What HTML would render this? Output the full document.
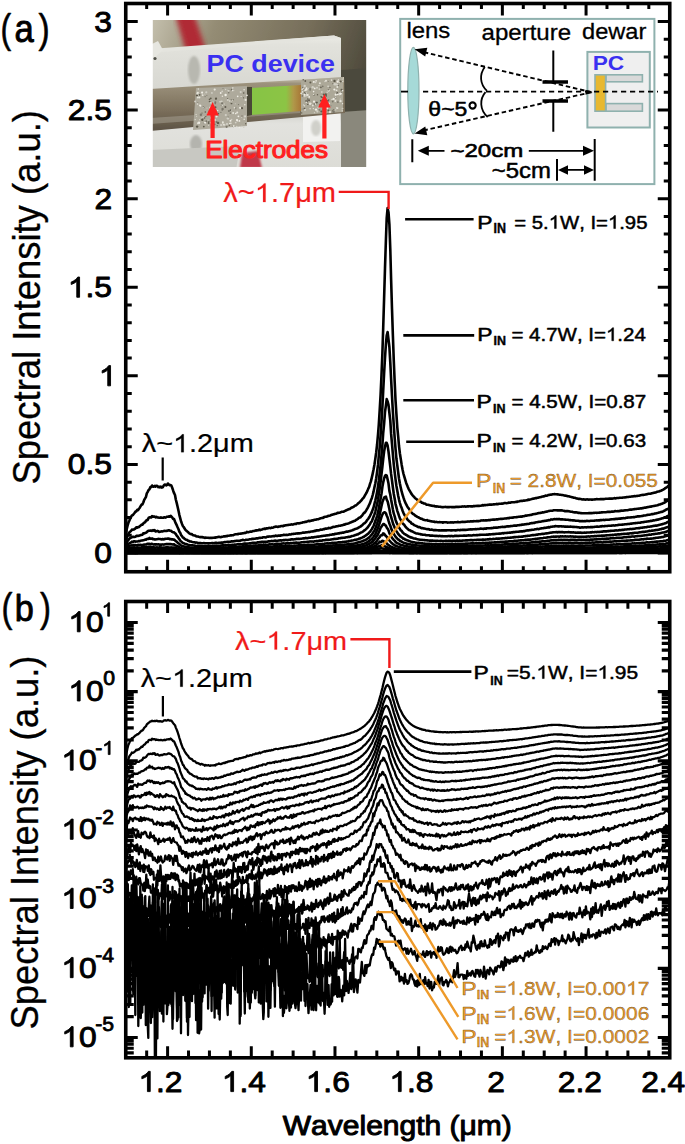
<!DOCTYPE html>
<html><head><meta charset="utf-8"><style>
html,body{margin:0;padding:0;background:#fff;overflow:hidden;}
svg{display:block;}
</style></head><body>
<svg width="685" height="1144" viewBox="0 0 685 1144">
<defs>
<clipPath id="ca"><rect x="125.75" y="3.50" width="544.00" height="568.25"/></clipPath>
<clipPath id="cb"><rect x="125.75" y="601.50" width="544.00" height="456.30"/></clipPath>
<filter id="blur1" x="-5%" y="-5%" width="110%" height="110%"><feGaussianBlur stdDeviation="1.2"/></filter>
<filter id="blur2" x="-5%" y="-5%" width="110%" height="110%"><feGaussianBlur stdDeviation="2.5"/></filter>
</defs>
<rect width="685" height="1144" fill="#fff"/>
<g clip-path="url(#ca)" fill="none" stroke="#000" stroke-width="2.6" stroke-linejoin="round">
<path d="M125.8 553.0l.5 0 .5 0 .5 0 .5 0 .5 0 .5 0 .5 -.1 .5 0 .5 .1 .5 -.1 .5 0 .5 0 .5 .1 .5 -.2 .5 .2 .5 0 .5 0 .5 0 .5 0 .5 -.1 .5 0 .5 .1 .5 0 .5 -.1 .5 .1 .5 0 .5 0 .5 0 .5 0 .5 0 .5 0 .5 -.2 .5 .2 .5 -.1 .5 .1 .5 -.1 .5 0 .5 .1 .5 -.1 .5 .1 .5 0 .5 0 .5 -.1 .5 .1 .5 0 .5 0 .6 0 .5 0 .5 0 .5 0 .5 -.1 .5 .1 .5 0 .5 -.3 .5 .3 .5 -.1 .5 .1 .5 0 .5 0 .5 0 .5 0 .5 -.1 .5 .1 .5 0 .5 0 .5 -.1 .5 .1 .5 0 .5 0 .5 0 .5 -.1 .5 -.1 .5 .2 .5 -.2 .5 .2 .5 0 .5 0 .5 0 .5 0 .5 0 .5 0 .5 0 .5 0 .5 -.1 .5 .1 .5 0 .5 0 .5 -.1 .5 .1 .5 -.1 .5 .1 .5 0 .6 0 .5 0 .5 0 .5 0 .5 0 .5 -.2 .5 .2 .5 0 .5 0 .5 0 .5 0 .5 0 .5 -.2 .5 .2 .5 0 .5 0 .5 0 .5 0 .5 0 .5 0 .5 0 .5 -.3 .5 .3 .5 0 .5 0 .5 -.1 .5 -.2 .5 .2 .5 .1 .5 0 .5 0 .5 0 .5 0 .5 0 .5 0 .5 0 .5 0 .5 0 .5 0 .5 0 .5 -.1 .5 .1 .5 0 .5 0 .5 0 .5 0 .5 -.1 .6 .1 .5 0 .5 -.2 .5 .2 .5 -.3 .5 .3 .5 0 .5 0 .5 0 .5 0 .5 0 .5 0 .5 0 .5 0 .5 0 .5 0 .5 -.2 .5 .2 .5 0 .5 0 .5 0 .5 0 .5 0 .5 0 .5 0 .5 0 .5 0 .5 0 .5 0 .5 -.1 .5 0 .5 .1 .5 -.1 .5 .1 .5 0 .5 -.1 .5 .1 .5 0 .5 0 .5 0 .5 0 .5 0 .5 0 .5 0 .5 -.1 .5 .1 .6 0 .5 0 .5 0 .5 -.1 .5 .1 .5 0 .5 -.1 .5 .1 .5 0 .5 0 .5 0 .5 0 .5 0 .5 -.1 .5 .1 .5 -.1 .5 .1 .5 0 .5 0 .5 0 .5 0 .5 0 .5 0 .5 0 .5 0 .5 0 .5 0 .5 0 .5 0 .5 0 .5 0 .5 -.1 .5 .1 .5 0 .5 0 .5 -.1 .5 -.1 .5 .2 .5 0 .5 0 .5 -.1 .5 .1 .5 0 .5 0 .5 -.1 .5 .1 .5 0 .6 0 .5 0 .5 0 .5 0 .5 0 .5 0 .5 0 .5 0 .5 0 .5 -.1 .5 .1 .5 0 .5 0 .5 -.1 .5 .1 .5 0 .5 0 .5 0 .5 0 .5 -.1 .5 .1 .5 0 .5 0 .5 -.1 .5 .1 .5 0 .5 0 .5 0 .5 0 .5 0 .5 -.1 .5 -.1 .5 .2 .5 0 .5 0 .5 0 .5 0 .5 0 .5 0 .5 0 .5 0 .5 0 .5 0 .5 -.1 .5 .1 .5 0 .6 -.1 .5 .1 .5 0 .5 0 .5 0 .5 0 .5 0 .5 0 .5 0 .5 0 .5 0 .5 0 .5 0 .5 0 .5 0 .5 0 .5 0 .5 0 .5 0 .5 0 .5 0 .5 -.1 .5 -.1 .5 .2 .5 0 .5 0 .5 0 .5 -.1 .5 .1 .5 0 .5 0 .5 0 .5 0 .5 0 .5 0 .5 0 .5 0 .5 0 .5 0 .5 0 .5 -.1 .5 .1 .5 0 .5 0 .5 0 .5 0 .6 0 .5 0 .5 0 .5 0 .5 0 .5 0 .5 0 .5 0 .5 0 .5 -.1 .5 .1 .5 0 .5 0 .5 0 .5 0 .5 -.1 .5 .1 .5 0 .5 0 .5 0 .5 0 .5 0 .5 0 .5 0 .5 0 .5 0 .5 0 .5 0 .5 0 .5 0 .5 0 .5 0 .5 0 .5 0 .5 0 .5 0 .5 0 .5 0 .5 0 .5 0 .5 0 .5 0 .5 0 .5 0 .5 0 .5 0 .5 0 .6 0 .5 0 .5 0 .5 0 .5 0 .5 0 .5 0 .5 0 .5 0 .5 0 .5 0 .5 0 .5 0 .5 -.1 .5 .1 .5 0 .5 0 .5 0 .5 0 .5 0 .5 0 .5 0 .5 0 .5 0 .5 0 .5 0 .5 0 .5 0 .5 0 .5 0 .5 0 .5 0 .5 0 .5 0 .5 0 .5 0 .5 0 .5 0 .5 0 .5 0 .5 0 .5 0 .5 0 .5 0 .5 0 .5 0 .6 0 .5 0 .5 0 .5 0 .5 0 .5 0 .5 0 .5 0 .5 0 .5 0 .5 0 .5 0 .5 0 .5 0 .5 0 .5 0 .2 0 .8 0 .9 0 .9 0 .9 0 .8 0 .9 0 .9 0 .9 0 .9 0 .8 0 .9 0 .9 0 .9 0 .9 0 .8 0 .9 0 .9 0 .9 0 .8 0 .9 0 .9 0 .9 0 .9 0 .8 0 .9 0 .9 0 .9 0 .9 0 .8 0 .9 0 .9 0 .9 0 .8 0 .9 0 .9 0 .9 0 .9 0 .8 0 .9 0 .9 0 .9 0 .9 0 .8 0 .9 0 .9 0 .9 0 .9 0 .8 0 .9 0 .9 0 .9 0 .8 0 .9 0 .9 0 .9 0 .9 0 .8 0 .9 0 .9 0 .9 0 .9 0 .8 0 .9 0 .9 0 .9 0 .8 0 .9 0 .9 0 .9 0 .9 0 .8 0 .9 0 .9 0 .9 0 .9 0 .8 0 .9 0 .9 0 .9 0 .9 0 .8 0 .9 0 .9 0 .9 0 .8 0 .9 0 .9 0 .9 0 .9 0 .8 0 .9 0 .9 0 .9 0 .9 0 .8 0 .9 0 .9 0 .9 0 .8 0 .9 0 .9 0 .9 0 .9 0 .8 0 .9 0 .9 0 .9 0 .9 0 .8 0 .9 0 .9 0 .9 0 .9 0 .8 0 .9 0 .9 0 .9 0 .8 0 .9 0 .9 0 .9 0 .9 0 .8 0 .9 0 .9 0 .9 0 .9 0 .8 0 .9 0 .9 0 .9 0 .8 0 .9 0 .9 0 .9 0 .9 0 .8 0 .9 0 .9 0 .9 0 .9 0 .8 0 .9 0 .9 0 .9 0 .9 0 .8 0 .9 0 .9 0 .9 0 .8 0 .9 0 .9 0 .9 0 .9 0 .8 0 .9 0 .9 0 .9 0 .9 0 .8 0 .9 0 .9 0 .9 0 .8 0 .9 0 .9 0 .9 0 .9 0 .8 0 .9 0 .9 0 .9 0 .9 0 .8 0 .9 0 .9 0 .9 0 .8 0 .9 0 .9 0 .9 0 .9 0 .8 0 .9 0 .9 0 .9 0 .9 0 .8 0 .9 0 .9 0 .9 0 .9 0 .8 0 .9 0 .9 0 .9 0 .8 0 .9 0 .9 0 .9 0 .9 0 .8 0 .9 0 .9 0 .9 0 .9 0 .8 0 .9 0 .9 0 .9 0 .8 0 .9 0 .9 0 .9 0 .9 0 .8 0 .9 0 .9 0 .9 0 .9 0 .8 0 .9 0 .9 0 .9 0 .9 0 .8 0 .9 0 .9 0 .9 0 .8 0 .9 0 .9 0 .9 0 .9 0 .8 0 .9 0 .9 0 .9 0 .9 0 .8 0 .9 0 .9 0 .9 0 .8 0 .9 0 .9 0 .9 0 .9 -.1 .8 .1 .9 0 .9 0 .9 0 .9 0 .8 0 .9 -.1 .9 0 .9 .1 .9 0 .8 0 .9 0 .9 -.1 .9 0 .8 .1 .9 0 .9 0 .9 0 .9 0 .8 0 .9 0 .9 -.1 .9 .1 .9 -.1 .8 .1 .9 -.1 .9 .1 .9 -.1 .8 0 .9 0 .9 .1 .9 -.1 .9 0 .8 0 .9 0 .9 0 .9 0 .9 .1 .8 -.1 .9 .1 .9 -.1 .9 0 .9 0 .8 0 .9 0 .9 0 .9 0 .8 0 .9 0 .9 0 .9 0 .9 0 .8 0 .9 0 .9 0 .9 0 .9 0 .8 0 .9 0 .9 0 .9 0 .8 0 .9 0 .9 0 .9 0 .9 0 .8 0 .9 0 .9 0 .9 0 .9 0 .8 0 .9 0 .9 0 .9 0 .8 0 .9 0 .9 0 .9 0 .9 0 .8 0 .9 0 .9 0 .9 0 .9 0 .8 0 .9 0 .9 0 .9 0 .9 0 .8 0 .9 0 .9 0 .9 0 .8 0 .9 0 .9 0 .9 0 .9 0 .8 0 .9 0 .9 0 .9 0 .9 0 .8 0 .9 0 .9 0 .9 0 .8 0 .9 0 .9 0 .9 0 .9 0 .8 0 .9 0 .9 0 .9 0 .9 0 .8 0 .9 0 .9 0 .9 0"/>
<path d="M125.8 552.9l.5 0 .5 .1 .5 0 .5 -.1 .5 .1 .5 0 .5 0 .5 0 .5 0 .5 -.1 .5 -.1 .5 .2 .5 -.1 .5 .1 .5 0 .5 0 .5 0 .5 0 .5 -.2 .5 .1 .5 .1 .5 -.1 .5 .1 .5 -.1 .5 .1 .5 0 .5 0 .5 0 .5 -.1 .5 -.1 .5 .2 .5 0 .5 0 .5 0 .5 0 .5 0 .5 0 .5 0 .5 0 .5 0 .5 0 .5 0 .5 0 .5 0 .5 0 .5 -.1 .6 .1 .5 0 .5 0 .5 0 .5 -.1 .5 .1 .5 0 .5 0 .5 -.1 .5 .1 .5 0 .5 0 .5 0 .5 0 .5 0 .5 0 .5 -.2 .5 0 .5 .2 .5 0 .5 0 .5 0 .5 0 .5 0 .5 0 .5 0 .5 0 .5 0 .5 0 .5 -.1 .5 .1 .5 0 .5 -.1 .5 .1 .5 0 .5 0 .5 0 .5 0 .5 0 .5 0 .5 -.1 .5 .1 .5 0 .5 0 .5 -.1 .5 .1 .6 0 .5 0 .5 0 .5 -.1 .5 0 .5 .1 .5 0 .5 0 .5 0 .5 0 .5 0 .5 -.1 .5 .1 .5 -.1 .5 -.2 .5 .3 .5 0 .5 0 .5 0 .5 0 .5 -.1 .5 .1 .5 0 .5 0 .5 -.1 .5 0 .5 .1 .5 0 .5 0 .5 0 .5 0 .5 0 .5 0 .5 0 .5 0 .5 0 .5 -.1 .5 .1 .5 0 .5 0 .5 -.1 .5 .1 .5 0 .5 0 .5 -.1 .5 0 .5 .1 .6 0 .5 0 .5 0 .5 -.1 .5 .1 .5 0 .5 -.1 .5 .1 .5 0 .5 0 .5 0 .5 0 .5 0 .5 0 .5 0 .5 0 .5 0 .5 0 .5 -.1 .5 .1 .5 -.1 .5 .1 .5 0 .5 0 .5 -.1 .5 .1 .5 0 .5 -.1 .5 0 .5 .1 .5 0 .5 0 .5 0 .5 0 .5 -.1 .5 0 .5 0 .5 .1 .5 0 .5 0 .5 -.1 .5 .1 .5 -.1 .5 .1 .5 0 .5 0 .6 0 .5 0 .5 0 .5 0 .5 0 .5 0 .5 0 .5 0 .5 0 .5 0 .5 0 .5 0 .5 0 .5 0 .5 0 .5 -.1 .5 .1 .5 0 .5 -.1 .5 .1 .5 -.2 .5 .2 .5 0 .5 0 .5 0 .5 0 .5 0 .5 -.1 .5 .1 .5 0 .5 0 .5 0 .5 0 .5 0 .5 -.1 .5 .1 .5 -.1 .5 -.1 .5 .2 .5 -.1 .5 .1 .5 0 .5 0 .5 0 .5 -.1 .5 .1 .5 0 .6 0 .5 0 .5 -.2 .5 .2 .5 -.1 .5 .1 .5 0 .5 0 .5 0 .5 0 .5 0 .5 -.3 .5 .2 .5 .1 .5 0 .5 0 .5 -.1 .5 .1 .5 0 .5 0 .5 0 .5 0 .5 -.1 .5 .1 .5 0 .5 0 .5 -.1 .5 .1 .5 0 .5 0 .5 0 .5 0 .5 0 .5 0 .5 0 .5 0 .5 0 .5 -.1 .5 .1 .5 0 .5 0 .5 0 .5 0 .5 0 .5 0 .5 0 .6 0 .5 0 .5 0 .5 -.1 .5 .1 .5 0 .5 0 .5 0 .5 0 .5 0 .5 0 .5 -.1 .5 0 .5 .1 .5 0 .5 0 .5 0 .5 0 .5 0 .5 0 .5 0 .5 0 .5 0 .5 0 .5 -.1 .5 .1 .5 0 .5 0 .5 0 .5 0 .5 0 .5 0 .5 0 .5 -.2 .5 .2 .5 0 .5 0 .5 0 .5 -.2 .5 .2 .5 0 .5 0 .5 0 .5 0 .5 0 .5 0 .6 0 .5 0 .5 0 .5 0 .5 -.1 .5 .1 .5 0 .5 0 .5 0 .5 0 .5 0 .5 0 .5 0 .5 -.1 .5 .1 .5 0 .5 0 .5 0 .5 0 .5 -.1 .5 .1 .5 -.1 .5 .1 .5 0 .5 0 .5 0 .5 0 .5 0 .5 0 .5 0 .5 0 .5 0 .5 0 .5 0 .5 0 .5 0 .5 0 .5 0 .5 0 .5 0 .5 0 .5 0 .5 0 .5 0 .5 0 .5 0 .5 0 .6 -.1 .5 .1 .5 -.1 .5 .1 .5 0 .5 0 .5 -.1 .5 .1 .5 0 .5 0 .5 0 .5 0 .5 0 .5 0 .5 0 .5 0 .5 0 .5 0 .5 0 .5 0 .5 0 .5 0 .5 0 .5 0 .5 0 .5 0 .5 0 .5 0 .5 0 .5 0 .5 0 .5 0 .5 0 .5 0 .5 0 .5 0 .5 0 .5 0 .5 0 .5 0 .5 0 .5 0 .5 0 .5 0 .5 0 .5 0 .6 0 .5 0 .5 -.1 .5 .1 .5 0 .5 0 .5 0 .5 0 .5 -.1 .5 .1 .5 0 .5 0 .5 0 .5 0 .5 0 .5 0 .2 0 .8 0 .9 0 .9 0 .9 0 .8 0 .9 0 .9 0 .9 0 .9 0 .8 0 .9 0 .9 0 .9 0 .9 0 .8 0 .9 0 .9 0 .9 0 .8 0 .9 0 .9 0 .9 0 .9 0 .8 0 .9 0 .9 0 .9 -.1 .9 0 .8 0 .9 0 .9 0 .9 0 .8 0 .9 0 .9 0 .9 0 .9 0 .8 0 .9 0 .9 0 .9 0 .9 0 .8 0 .9 0 .9 0 .9 0 .9 0 .8 0 .9 0 .9 0 .9 0 .8 0 .9 0 .9 0 .9 0 .9 0 .8 0 .9 0 .9 .1 .9 0 .9 0 .8 0 .9 0 .9 0 .9 0 .8 0 .9 0 .9 0 .9 0 .9 0 .8 0 .9 0 .9 0 .9 0 .9 0 .8 0 .9 0 .9 0 .9 0 .9 0 .8 0 .9 0 .9 0 .9 0 .8 0 .9 0 .9 0 .9 0 .9 0 .8 0 .9 0 .9 0 .9 0 .9 0 .8 0 .9 0 .9 0 .9 0 .8 0 .9 0 .9 0 .9 0 .9 0 .8 0 .9 0 .9 0 .9 0 .9 0 .8 0 .9 0 .9 0 .9 0 .9 0 .8 0 .9 0 .9 0 .9 0 .8 0 .9 0 .9 0 .9 0 .9 0 .8 0 .9 0 .9 0 .9 0 .9 0 .8 0 .9 0 .9 0 .9 0 .8 0 .9 0 .9 0 .9 0 .9 0 .8 0 .9 0 .9 0 .9 0 .9 0 .8 0 .9 0 .9 0 .9 0 .9 0 .8 0 .9 -.1 .9 .1 .9 0 .8 0 .9 0 .9 0 .9 0 .9 0 .8 0 .9 0 .9 0 .9 0 .9 0 .8 0 .9 0 .9 0 .9 0 .8 0 .9 0 .9 0 .9 0 .9 0 .8 0 .9 0 .9 0 .9 0 .9 -.1 .8 .1 .9 -.1 .9 .1 .9 0 .8 -.1 .9 .1 .9 0 .9 0 .9 -.1 .8 .1 .9 -.1 .9 0 .9 0 .9 .1 .8 -.1 .9 0 .9 0 .9 0 .9 0 .8 0 .9 0 .9 0 .9 0 .8 0 .9 0 .9 0 .9 0 .9 0 .8 0 .9 0 .9 0 .9 0 .9 0 .8 0 .9 0 .9 0 .9 0 .8 0 .9 0 .9 0 .9 0 .9 0 .8 0 .9 0 .9 0 .9 0 .9 0 .8 0 .9 0 .9 0 .9 0 .9 0 .8 0 .9 0 .9 0 .9 0 .8 0 .9 0 .9 0 .9 0 .9 0 .8 0 .9 0 .9 0 .9 0 .9 0 .8 0 .9 0 .9 0 .9 0 .8 0 .9 0 .9 0 .9 0 .9 0 .8 0 .9 0 .9 0 .9 0 .9 0 .8 0 .9 0 .9 0 .9 0 .9 0 .8 0 .9 0 .9 0 .9 0 .8 0 .9 0 .9 0 .9 0 .9 0 .8 0 .9 0 .9 0 .9 0 .9 0 .8 0 .9 0 .9 0 .9 0 .8 0 .9 0 .9 0 .9 0 .9 0 .8 0 .9 0 .9 0 .9 0 .9 -.1 .8 .1 .9 0 .9 0 .9 0 .9 0 .8 0 .9 0 .9 0 .9 0 .8 0 .9 0 .9 0 .9 -.1 .9 .1 .8 -.1 .9 .1 .9 0 .9 0 .9 0 .8 -.1 .9 .1 .9 0 .9 0 .8 0 .9 -.1 .9 0 .9 .1 .9 0 .8 -.1 .9 .1 .9 -.1 .9 0 .9 0 .8 .1 .9 -.1 .9 0 .9 0 .8 0 .9 0 .9 0 .9 0 .9 0 .8 0 .9 0 .9 0 .9 0 .9 0 .8 0 .9 0 .9 0 .9 0 .9 0 .8 0 .9 0 .9 0 .9 0 .8 0 .9 0 .9 0 .9 0 .9 0 .8 0 .9 0 .9 0 .9 0 .9 0 .8 0 .9 0 .9 0 .9 0 .8 0 .9 -.1 .9 .1 .9 -.1 .9 .1 .8 -.1 .9 .1 .9 0 .9 0 .9 0 .8 0 .9 -.1 .9 0 .9 0"/>
<path d="M125.8 552.9l.5 .1 .5 0 .5 -.1 .5 -.2 .5 .3 .5 0 .5 0 .5 0 .5 -.1 .5 .1 .5 -.1 .5 .1 .5 -.1 .5 .1 .5 0 .5 0 .5 -.1 .5 .1 .5 0 .5 -.1 .5 0 .5 0 .5 .1 .5 0 .5 0 .5 0 .5 0 .5 0 .5 -.3 .5 .2 .5 .1 .5 0 .5 0 .5 0 .5 0 .5 0 .5 0 .5 0 .5 -.2 .5 .2 .5 0 .5 -.1 .5 .1 .5 0 .5 0 .5 -.1 .6 .1 .5 0 .5 0 .5 -.1 .5 0 .5 .1 .5 0 .5 0 .5 0 .5 -.1 .5 .1 .5 0 .5 0 .5 0 .5 0 .5 0 .5 0 .5 0 .5 0 .5 0 .5 0 .5 0 .5 0 .5 0 .5 0 .5 -.1 .5 .1 .5 0 .5 -.1 .5 0 .5 .1 .5 0 .5 0 .5 0 .5 0 .5 0 .5 0 .5 0 .5 0 .5 0 .5 0 .5 0 .5 0 .5 0 .5 -.2 .5 .2 .6 0 .5 0 .5 0 .5 -.1 .5 0 .5 .1 .5 0 .5 0 .5 0 .5 -.1 .5 .1 .5 0 .5 0 .5 0 .5 0 .5 0 .5 0 .5 0 .5 -.1 .5 -.1 .5 .2 .5 0 .5 0 .5 0 .5 0 .5 0 .5 0 .5 0 .5 0 .5 0 .5 0 .5 0 .5 0 .5 0 .5 0 .5 0 .5 -.2 .5 .2 .5 0 .5 0 .5 0 .5 0 .5 0 .5 -.1 .5 .1 .5 -.1 .5 .1 .6 0 .5 0 .5 0 .5 0 .5 0 .5 0 .5 -.1 .5 .1 .5 0 .5 0 .5 0 .5 0 .5 0 .5 0 .5 0 .5 0 .5 0 .5 0 .5 0 .5 -.1 .5 .1 .5 -.3 .5 .3 .5 -.2 .5 .2 .5 0 .5 0 .5 0 .5 0 .5 -.1 .5 .1 .5 0 .5 0 .5 0 .5 0 .5 -.1 .5 0 .5 -.1 .5 .1 .5 .1 .5 -.1 .5 .1 .5 0 .5 -.3 .5 .3 .5 -.1 .6 .1 .5 -.1 .5 .1 .5 0 .5 0 .5 -.1 .5 0 .5 .1 .5 0 .5 -.1 .5 .1 .5 0 .5 -.1 .5 .1 .5 -.1 .5 .1 .5 0 .5 0 .5 0 .5 -.3 .5 .3 .5 0 .5 -.1 .5 .1 .5 0 .5 -.1 .5 .1 .5 0 .5 -.1 .5 .1 .5 -.1 .5 .1 .5 -.2 .5 .2 .5 0 .5 0 .5 0 .5 0 .5 0 .5 0 .5 0 .5 0 .5 -.1 .5 .1 .5 -.2 .5 0 .5 .2 .6 -.1 .5 .1 .5 0 .5 0 .5 0 .5 0 .5 0 .5 0 .5 0 .5 0 .5 0 .5 -.2 .5 .2 .5 0 .5 0 .5 0 .5 0 .5 0 .5 0 .5 0 .5 0 .5 0 .5 0 .5 -.1 .5 0 .5 .1 .5 0 .5 0 .5 0 .5 -.1 .5 .1 .5 -.3 .5 .3 .5 -.1 .5 .1 .5 0 .5 0 .5 0 .5 -.1 .5 .1 .5 -.1 .5 0 .5 0 .5 0 .5 .1 .5 0 .6 -.1 .5 .1 .5 -.1 .5 .1 .5 0 .5 -.2 .5 .2 .5 0 .5 0 .5 0 .5 -.1 .5 .1 .5 0 .5 0 .5 -.1 .5 .1 .5 -.1 .5 .1 .5 -.1 .5 .1 .5 0 .5 -.1 .5 .1 .5 0 .5 0 .5 -.2 .5 .2 .5 0 .5 0 .5 0 .5 0 .5 0 .5 0 .5 0 .5 0 .5 -.1 .5 0 .5 .1 .5 0 .5 0 .5 0 .5 0 .5 0 .5 0 .5 0 .5 0 .6 -.1 .5 .1 .5 0 .5 0 .5 -.1 .5 0 .5 .1 .5 0 .5 0 .5 0 .5 0 .5 0 .5 -.1 .5 .1 .5 0 .5 0 .5 0 .5 0 .5 0 .5 0 .5 0 .5 0 .5 0 .5 0 .5 0 .5 0 .5 0 .5 0 .5 -.1 .5 .1 .5 0 .5 0 .5 0 .5 0 .5 0 .5 0 .5 0 .5 -.1 .5 .1 .5 0 .5 -.1 .5 .1 .5 0 .5 0 .5 0 .5 0 .5 0 .6 0 .5 0 .5 0 .5 0 .5 0 .5 0 .5 -.1 .5 .1 .5 -.1 .5 .1 .5 0 .5 0 .5 0 .5 0 .5 0 .5 0 .5 0 .5 0 .5 0 .5 0 .5 0 .5 0 .5 0 .5 0 .5 0 .5 0 .5 0 .5 0 .5 0 .5 0 .5 0 .5 0 .5 -.1 .5 .1 .5 0 .5 0 .5 0 .5 0 .5 0 .5 -.1 .5 .1 .5 0 .5 -.1 .5 .1 .5 -.1 .5 .1 .6 -.1 .5 .1 .5 0 .5 0 .5 -.1 .5 0 .5 .1 .5 -.1 .5 .1 .5 -.1 .5 .1 .5 -.1 .5 0 .5 0 .5 0 .5 0 .2 0 .8 0 .9 0 .9 0 .9 0 .8 .1 .9 -.1 .9 0 .9 0 .9 0 .8 0 .9 0 .9 0 .9 0 .9 0 .8 0 .9 0 .9 0 .9 0 .8 0 .9 0 .9 0 .9 0 .9 0 .8 0 .9 0 .9 0 .9 0 .9 0 .8 0 .9 0 .9 -.1 .9 .1 .8 -.1 .9 0 .9 0 .9 0 .9 -.1 .8 0 .9 0 .9 0 .9 0 .9 0 .8 0 .9 .1 .9 0 .9 -.1 .9 .1 .8 0 .9 0 .9 0 .9 0 .8 0 .9 .1 .9 -.1 .9 0 .9 .1 .8 0 .9 0 .9 0 .9 0 .9 0 .8 0 .9 0 .9 0 .9 0 .8 0 .9 0 .9 0 .9 0 .9 0 .8 0 .9 0 .9 0 .9 0 .9 0 .8 0 .9 0 .9 0 .9 0 .9 0 .8 0 .9 0 .9 0 .9 0 .8 0 .9 0 .9 0 .9 0 .9 0 .8 0 .9 0 .9 0 .9 0 .9 0 .8 0 .9 0 .9 0 .9 0 .8 0 .9 0 .9 0 .9 0 .9 0 .8 0 .9 0 .9 0 .9 0 .9 0 .8 0 .9 0 .9 0 .9 0 .9 0 .8 0 .9 0 .9 0 .9 0 .8 0 .9 0 .9 0 .9 0 .9 0 .8 0 .9 0 .9 0 .9 0 .9 0 .8 0 .9 0 .9 0 .9 0 .8 0 .9 0 .9 0 .9 0 .9 0 .8 0 .9 0 .9 0 .9 0 .9 0 .8 0 .9 0 .9 0 .9 0 .9 0 .8 0 .9 0 .9 0 .9 0 .8 0 .9 0 .9 0 .9 0 .9 0 .8 0 .9 0 .9 0 .9 0 .9 0 .8 0 .9 0 .9 0 .9 0 .8 0 .9 0 .9 0 .9 0 .9 0 .8 0 .9 0 .9 0 .9 0 .9 0 .8 0 .9 0 .9 0 .9 0 .8 0 .9 0 .9 0 .9 0 .9 0 .8 0 .9 0 .9 0 .9 0 .9 0 .8 0 .9 0 .9 0 .9 -.1 .9 .1 .8 -.1 .9 .1 .9 0 .9 0 .8 0 .9 0 .9 0 .9 -.1 .9 .1 .8 -.1 .9 .1 .9 -.1 .9 .1 .9 -.1 .8 0 .9 .1 .9 0 .9 -.1 .8 0 .9 0 .9 0 .9 .1 .9 -.1 .8 0 .9 0 .9 0 .9 0 .9 0 .8 0 .9 0 .9 0 .9 0 .9 0 .8 0 .9 0 .9 0 .9 0 .8 0 .9 0 .9 0 .9 0 .9 0 .8 0 .9 0 .9 0 .9 0 .9 0 .8 0 .9 0 .9 0 .9 0 .8 0 .9 0 .9 -.1 .9 0 .9 0 .8 0 .9 .1 .9 0 .9 -.1 .9 .1 .8 -.1 .9 0 .9 0 .9 .1 .9 0 .8 0 .9 0 .9 0 .9 -.1 .8 .1 .9 0 .9 0 .9 -.1 .9 0 .8 0 .9 0 .9 0 .9 .1 .9 -.1 .8 0 .9 0 .9 .1 .9 -.1 .8 .1 .9 -.1 .9 0 .9 .1 .9 -.1 .8 0 .9 0 .9 0 .9 0 .9 0 .8 0 .9 0 .9 0 .9 0 .9 0 .8 0 .9 0 .9 0 .9 0 .8 0 .9 0 .9 0 .9 0 .9 0 .8 0 .9 0 .9 0 .9 -.1 .9 .1 .8 0 .9 0 .9 0 .9 0 .8 -.1 .9 .1 .9 -.1 .9 .1 .9 -.1 .8 .1 .9 -.1 .9 0 .9 0 .9 0 .8 .1 .9 -.1 .9 .1 .9 0 .8 -.1 .9 .1 .9 -.1 .9 0 .9 0 .8 0 .9 0 .9 0 .9 0 .9 -.1 .8 .1 .9 0 .9 0 .9 0 .9 0 .8 0 .9 0 .9 0 .9 0 .8 0 .9 0 .9 -.1 .9 .1 .9 -.1 .8 .1 .9 -.1 .9 .1 .9 -.1 .9 0 .8 0 .9 0 .9 .1 .9 0 .8 -.1 .9 -.1 .9 .1 .9 -.1 .9 .1 .8 -.1 .9 0 .9 .1 .9 0 .9 0 .8 -.1 .9 -.1 .9 .1 .9 0"/>
<path d="M125.8 552.9l.5 .1 .5 -.1 .5 0 .5 .1 .5 0 .5 -.1 .5 0 .5 0 .5 0 .5 0 .5 0 .5 .1 .5 -.1 .5 0 .5 .1 .5 -.1 .5 0 .5 0 .5 -.2 .5 .3 .5 0 .5 0 .5 0 .5 -.2 .5 .2 .5 0 .5 0 .5 -.1 .5 .1 .5 0 .5 0 .5 -.1 .5 .1 .5 -.1 .5 .1 .5 0 .5 0 .5 -.2 .5 .2 .5 -.1 .5 .1 .5 0 .5 0 .5 -.1 .5 0 .5 .1 .6 0 .5 0 .5 0 .5 0 .5 0 .5 0 .5 0 .5 0 .5 0 .5 0 .5 -.1 .5 0 .5 .1 .5 -.1 .5 0 .5 .1 .5 0 .5 0 .5 0 .5 0 .5 0 .5 0 .5 0 .5 0 .5 0 .5 0 .5 0 .5 0 .5 0 .5 0 .5 0 .5 0 .5 0 .5 0 .5 0 .5 0 .5 0 .5 -.3 .5 .3 .5 0 .5 0 .5 0 .5 0 .5 0 .5 0 .5 0 .6 0 .5 0 .5 -.1 .5 0 .5 .1 .5 0 .5 0 .5 0 .5 0 .5 -.2 .5 .2 .5 -.1 .5 .1 .5 0 .5 0 .5 0 .5 -.1 .5 .1 .5 -.1 .5 .1 .5 0 .5 0 .5 -.2 .5 .2 .5 0 .5 0 .5 0 .5 0 .5 -.1 .5 .1 .5 0 .5 0 .5 0 .5 0 .5 0 .5 -.1 .5 .1 .5 0 .5 0 .5 0 .5 0 .5 -.1 .5 0 .5 .1 .5 0 .5 -.2 .5 .2 .6 0 .5 0 .5 0 .5 0 .5 0 .5 0 .5 0 .5 0 .5 0 .5 0 .5 0 .5 0 .5 0 .5 0 .5 0 .5 -.1 .5 .1 .5 0 .5 0 .5 -.1 .5 .1 .5 0 .5 -.1 .5 .1 .5 0 .5 0 .5 -.1 .5 .1 .5 0 .5 0 .5 0 .5 -.1 .5 .1 .5 0 .5 0 .5 0 .5 0 .5 0 .5 -.1 .5 .1 .5 0 .5 0 .5 0 .5 0 .5 0 .5 0 .6 0 .5 -.1 .5 .1 .5 -.1 .5 .1 .5 -.1 .5 0 .5 .1 .5 -.1 .5 0 .5 .1 .5 -.2 .5 0 .5 .2 .5 0 .5 0 .5 -.1 .5 0 .5 0 .5 .1 .5 -.1 .5 0 .5 .1 .5 -.1 .5 0 .5 .1 .5 0 .5 0 .5 -.1 .5 0 .5 0 .5 .1 .5 0 .5 -.1 .5 .1 .5 -.1 .5 .1 .5 0 .5 -.1 .5 0 .5 -.1 .5 .2 .5 -.2 .5 .2 .5 0 .5 0 .5 -.1 .6 0 .5 .1 .5 0 .5 0 .5 -.1 .5 0 .5 0 .5 0 .5 .1 .5 -.1 .5 0 .5 .1 .5 -.1 .5 0 .5 0 .5 0 .5 -.1 .5 .1 .5 0 .5 .1 .5 -.1 .5 .1 .5 0 .5 0 .5 -.3 .5 .2 .5 0 .5 0 .5 0 .5 0 .5 .1 .5 0 .5 -.1 .5 .1 .5 -.1 .5 0 .5 0 .5 0 .5 0 .5 0 .5 0 .5 0 .5 0 .5 0 .5 0 .5 0 .6 0 .5 -.1 .5 .1 .5 0 .5 0 .5 0 .5 0 .5 0 .5 0 .5 0 .5 0 .5 0 .5 0 .5 0 .5 0 .5 0 .5 0 .5 0 .5 0 .5 0 .5 0 .5 0 .5 -.1 .5 .1 .5 0 .5 0 .5 0 .5 0 .5 0 .5 0 .5 0 .5 0 .5 0 .5 0 .5 0 .5 0 .5 0 .5 0 .5 0 .5 0 .5 0 .5 0 .5 -.1 .5 .1 .5 0 .5 0 .6 0 .5 0 .5 0 .5 0 .5 0 .5 0 .5 0 .5 0 .5 0 .5 -.1 .5 .1 .5 0 .5 0 .5 0 .5 0 .5 0 .5 0 .5 0 .5 0 .5 0 .5 0 .5 0 .5 0 .5 0 .5 0 .5 0 .5 0 .5 0 .5 0 .5 0 .5 0 .5 0 .5 0 .5 0 .5 0 .5 0 .5 0 .5 0 .5 0 .5 0 .5 0 .5 0 .5 0 .5 0 .5 0 .5 0 .5 0 .6 0 .5 0 .5 0 .5 0 .5 0 .5 0 .5 0 .5 0 .5 0 .5 0 .5 0 .5 0 .5 0 .5 0 .5 0 .5 0 .5 0 .5 0 .5 0 .5 0 .5 0 .5 0 .5 0 .5 0 .5 0 .5 0 .5 0 .5 0 .5 0 .5 0 .5 0 .5 0 .5 0 .5 0 .5 0 .5 0 .5 0 .5 0 .5 0 .5 0 .5 0 .5 0 .5 0 .5 0 .5 0 .5 0 .6 0 .5 0 .5 0 .5 0 .5 0 .5 0 .5 0 .5 0 .5 0 .5 0 .5 0 .5 0 .5 0 .5 0 .5 0 .5 0 .2 0 .8 0 .9 0 .9 0 .9 0 .8 0 .9 0 .9 0 .9 0 .9 0 .8 0 .9 0 .9 0 .9 -.1 .9 0 .8 0 .9 .1 .9 -.1 .9 0 .8 0 .9 0 .9 0 .9 0 .9 0 .8 0 .9 0 .9 0 .9 -.1 .9 0 .8 0 .9 0 .9 -.1 .9 0 .8 0 .9 0 .9 0 .9 -.2 .9 .1 .8 -.1 .9 -.1 .9 0 .9 .1 .9 -.1 .8 .2 .9 -.1 .9 .1 .9 -.1 .9 0 .8 .2 .9 0 .9 0 .9 0 .8 .1 .9 0 .9 -.1 .9 .1 .9 .1 .8 -.1 .9 .1 .9 0 .9 0 .9 0 .8 0 .9 0 .9 0 .9 0 .8 0 .9 0 .9 0 .9 0 .9 0 .8 0 .9 0 .9 0 .9 0 .9 .1 .8 -.1 .9 .1 .9 0 .9 0 .9 0 .8 -.1 .9 0 .9 .1 .9 0 .8 -.1 .9 0 .9 .1 .9 0 .9 0 .8 -.1 .9 .1 .9 0 .9 0 .9 0 .8 0 .9 0 .9 -.1 .9 .1 .8 0 .9 0 .9 0 .9 0 .9 0 .8 0 .9 -.1 .9 .1 .9 0 .9 0 .8 0 .9 0 .9 0 .9 0 .9 0 .8 0 .9 0 .9 0 .9 0 .8 0 .9 -.1 .9 0 .9 .1 .9 0 .8 0 .9 0 .9 0 .9 -.1 .9 .1 .8 0 .9 0 .9 0 .9 0 .8 -.1 .9 .1 .9 0 .9 -.1 .9 0 .8 .1 .9 -.1 .9 .1 .9 -.1 .9 .1 .8 -.1 .9 0 .9 0 .9 0 .9 .1 .8 -.1 .9 0 .9 0 .9 0 .8 .1 .9 -.1 .9 0 .9 0 .9 0 .8 0 .9 0 .9 0 .9 0 .9 0 .8 0 .9 0 .9 0 .9 0 .8 0 .9 0 .9 0 .9 0 .9 0 .8 0 .9 0 .9 0 .9 0 .9 0 .8 0 .9 0 .9 0 .9 0 .8 0 .9 0 .9 0 .9 0 .9 -.1 .8 .1 .9 0 .9 0 .9 0 .9 0 .8 -.1 .9 .1 .9 -.1 .9 .1 .9 -.1 .8 0 .9 0 .9 0 .9 0 .8 0 .9 0 .9 0 .9 0 .9 0 .8 0 .9 0 .9 0 .9 0 .9 0 .8 0 .9 0 .9 0 .9 0 .8 0 .9 0 .9 -.1 .9 .1 .9 0 .8 -.1 .9 .1 .9 0 .9 -.1 .9 .1 .8 0 .9 -.1 .9 0 .9 .1 .9 0 .8 -.1 .9 0 .9 .1 .9 -.1 .8 0 .9 0 .9 0 .9 0 .9 0 .8 0 .9 0 .9 .1 .9 -.1 .9 0 .8 -.1 .9 .1 .9 0 .9 -.1 .8 .1 .9 -.1 .9 0 .9 .1 .9 0 .8 0 .9 0 .9 0 .9 -.1 .9 0 .8 .1 .9 -.1 .9 .1 .9 -.1 .9 .1 .8 0 .9 0 .9 0 .9 0 .8 -.1 .9 0 .9 .1 .9 -.1 .9 .1 .8 -.1 .9 0 .9 .1 .9 0 .9 -.1 .8 0 .9 0 .9 0 .9 0 .8 0 .9 0 .9 -.1 .9 .1 .9 0 .8 0 .9 0 .9 -.1 .9 0 .9 .1 .8 0 .9 0 .9 0 .9 -.1 .9 .1 .8 -.1 .9 .1 .9 -.1 .9 0 .8 -.1 .9 .2 .9 -.1 .9 0 .9 .1 .8 -.1 .9 .1 .9 0 .9 0 .9 -.1 .8 0 .9 .1 .9 -.1 .9 .1 .8 -.1 .9 0 .9 0 .9 0 .9 0 .8 0 .9 0 .9 0 .9 -.2 .9 .2 .8 0 .9 -.1 .9 0 .9 0 .8 .1 .9 -.1 .9 .1 .9 -.1 .9 0 .8 0 .9 0 .9 0 .9 .1 .9 -.1 .8 0 .9 -.1 .9 .1 .9 -.1 .9 0 .8 0 .9 -.1 .9 .1 .9 .1 .8 -.2 .9 .1 .9 -.1 .9 .1 .9 .1 .8 -.1 .9 .1 .9 -.1 .9 0 .9 -.1 .8 0 .9 0 .9 0 .9 .1 .8 -.2 .9 .1 .9 0 .9 0 .9 0 .8 -.1 .9 0 .9 0 .9 0 .9 -.1 .8 -.1 .9 0 .9 .1 .9 0"/>
<path d="M125.8 552.9l.5 0 .5 -.2 .5 .1 .5 .1 .5 0 .5 0 .5 0 .5 0 .5 0 .5 -.1 .5 .1 .5 -.1 .5 .1 .5 0 .5 0 .5 0 .5 0 .5 -.1 .5 .1 .5 0 .5 0 .5 0 .5 0 .5 0 .5 0 .5 0 .5 0 .5 0 .5 -.1 .5 .1 .5 0 .5 0 .5 0 .5 0 .5 0 .5 .1 .5 -.1 .5 0 .5 0 .5 0 .5 0 .5 .1 .5 0 .5 0 .5 0 .5 0 .6 0 .5 0 .5 0 .5 -.1 .5 0 .5 .1 .5 -.1 .5 .1 .5 0 .5 -.1 .5 0 .5 -.2 .5 .3 .5 0 .5 0 .5 0 .5 0 .5 -.1 .5 -.1 .5 .2 .5 0 .5 0 .5 0 .5 0 .5 -.1 .5 .1 .5 -.1 .5 .1 .5 0 .5 0 .5 0 .5 -.3 .5 .3 .5 0 .5 0 .5 0 .5 0 .5 0 .5 0 .5 0 .5 0 .5 0 .5 0 .5 0 .5 -.1 .5 .1 .6 0 .5 0 .5 -.1 .5 .1 .5 0 .5 0 .5 -.2 .5 .2 .5 -.1 .5 0 .5 0 .5 .1 .5 -.1 .5 .1 .5 0 .5 -.1 .5 0 .5 .1 .5 0 .5 -.1 .5 0 .5 .1 .5 0 .5 0 .5 0 .5 0 .5 -.1 .5 .1 .5 -.3 .5 .2 .5 .1 .5 -.1 .5 .1 .5 0 .5 0 .5 -.1 .5 .1 .5 -.1 .5 0 .5 0 .5 0 .5 0 .5 0 .5 0 .5 0 .5 0 .5 0 .6 -.1 .5 .1 .5 .1 .5 -.3 .5 .2 .5 -.1 .5 .1 .5 0 .5 .1 .5 0 .5 -.1 .5 0 .5 0 .5 .1 .5 0 .5 -.1 .5 0 .5 .1 .5 -.1 .5 0 .5 .1 .5 -.1 .5 0 .5 .1 .5 -.1 .5 0 .5 0 .5 0 .5 0 .5 0 .5 0 .5 0 .5 0 .5 0 .5 .1 .5 -.1 .5 0 .5 0 .5 0 .5 0 .5 0 .5 0 .5 0 .5 0 .5 0 .5 0 .6 0 .5 0 .5 0 .5 0 .5 0 .5 0 .5 0 .5 0 .5 0 .5 0 .5 0 .5 0 .5 0 .5 0 .5 0 .5 0 .5 0 .5 0 .5 0 .5 0 .5 0 .5 0 .5 0 .5 0 .5 0 .5 0 .5 0 .5 0 .5 0 .5 -.1 .5 .1 .5 -.1 .5 .1 .5 0 .5 0 .5 -.1 .5 .1 .5 0 .5 0 .5 0 .5 0 .5 0 .5 0 .5 0 .5 0 .5 0 .5 -.1 .6 .1 .5 0 .5 0 .5 0 .5 0 .5 0 .5 -.1 .5 .1 .5 0 .5 0 .5 0 .5 -.2 .5 .2 .5 0 .5 0 .5 -.1 .5 .1 .5 0 .5 0 .5 0 .5 0 .5 0 .5 0 .5 0 .5 0 .5 0 .5 0 .5 0 .5 -.2 .5 .2 .5 0 .5 0 .5 0 .5 0 .5 0 .5 0 .5 0 .5 0 .5 -.1 .5 .1 .5 0 .5 0 .5 -.1 .5 .1 .5 0 .5 0 .6 0 .5 -.1 .5 .1 .5 -.1 .5 .1 .5 0 .5 0 .5 0 .5 0 .5 0 .5 0 .5 0 .5 0 .5 0 .5 0 .5 0 .5 0 .5 0 .5 0 .5 0 .5 0 .5 0 .5 0 .5 0 .5 0 .5 0 .5 0 .5 0 .5 0 .5 0 .5 0 .5 0 .5 0 .5 0 .5 0 .5 0 .5 0 .5 0 .5 0 .5 0 .5 -.1 .5 .1 .5 0 .5 -.1 .5 .1 .5 0 .6 0 .5 -.1 .5 .1 .5 0 .5 0 .5 0 .5 0 .5 0 .5 0 .5 -.1 .5 .1 .5 0 .5 0 .5 0 .5 0 .5 0 .5 0 .5 0 .5 0 .5 0 .5 0 .5 0 .5 0 .5 0 .5 0 .5 0 .5 0 .5 0 .5 0 .5 -.1 .5 .1 .5 0 .5 0 .5 0 .5 0 .5 0 .5 0 .5 0 .5 0 .5 0 .5 0 .5 0 .5 0 .5 0 .5 0 .5 -.1 .5 .1 .6 0 .5 0 .5 -.1 .5 .1 .5 0 .5 0 .5 0 .5 -.1 .5 .1 .5 0 .5 0 .5 0 .5 -.1 .5 0 .5 .1 .5 -.1 .5 0 .5 0 .5 0 .5 .1 .5 0 .5 0 .5 0 .5 -.1 .5 0 .5 0 .5 .1 .5 -.1 .5 0 .5 0 .5 0 .5 0 .5 0 .5 0 .5 0 .5 0 .5 0 .5 0 .5 0 .5 0 .5 0 .5 0 .5 0 .5 0 .5 0 .5 0 .6 0 .5 0 .5 0 .5 0 .5 0 .5 0 .5 0 .5 0 .5 0 .5 0 .5 0 .5 0 .5 0 .5 0 .5 0 .5 0 .2 0 .8 0 .9 0 .9 0 .9 0 .8 0 .9 0 .9 0 .9 0 .9 0 .8 -.1 .9 .1 .9 -.1 .9 .1 .9 -.1 .8 0 .9 0 .9 0 .9 0 .8 0 .9 0 .9 0 .9 0 .9 0 .8 -.1 .9 0 .9 0 .9 0 .9 -.1 .8 .1 .9 -.2 .9 0 .9 0 .8 -.2 .9 .1 .9 -.1 .9 -.1 .9 0 .8 -.2 .9 .1 .9 0 .9 -.1 .9 0 .8 0 .9 .1 .9 0 .9 .1 .9 0 .8 .2 .9 0 .9 -.1 .9 .2 .8 0 .9 0 .9 .1 .9 0 .9 .1 .8 -.1 .9 .1 .9 0 .9 0 .9 0 .8 0 .9 .1 .9 0 .9 0 .8 0 .9 0 .9 0 .9 0 .9 0 .8 0 .9 0 .9 0 .9 0 .9 0 .8 0 .9 0 .9 .1 .9 -.1 .9 0 .8 0 .9 .1 .9 0 .9 0 .8 0 .9 0 .9 0 .9 0 .9 -.1 .8 .1 .9 0 .9 0 .9 -.1 .9 .1 .8 0 .9 -.1 .9 0 .9 .1 .8 0 .9 0 .9 -.1 .9 .1 .9 0 .8 0 .9 0 .9 0 .9 0 .9 0 .8 0 .9 0 .9 0 .9 0 .9 0 .8 -.1 .9 0 .9 0 .9 .1 .8 0 .9 0 .9 -.1 .9 0 .9 .1 .8 -.1 .9 .1 .9 -.1 .9 .1 .9 -.1 .8 0 .9 0 .9 .1 .9 0 .8 -.1 .9 .1 .9 -.1 .9 0 .9 0 .8 0 .9 .1 .9 -.1 .9 0 .9 0 .8 0 .9 .1 .9 -.1 .9 0 .9 .1 .8 -.1 .9 .1 .9 -.1 .9 0 .8 0 .9 0 .9 0 .9 0 .9 0 .8 0 .9 0 .9 0 .9 0 .9 0 .8 0 .9 0 .9 0 .9 0 .8 0 .9 0 .9 0 .9 0 .9 -.1 .8 .1 .9 0 .9 -.1 .9 .1 .9 0 .8 -.1 .9 .1 .9 0 .9 0 .8 -.1 .9 0 .9 0 .9 0 .9 0 .8 0 .9 0 .9 0 .9 0 .9 0 .8 -.1 .9 .1 .9 0 .9 0 .9 0 .8 -.1 .9 .1 .9 0 .9 0 .8 0 .9 -.1 .9 0 .9 0 .9 0 .8 0 .9 .1 .9 -.1 .9 0 .9 0 .8 -.1 .9 .1 .9 0 .9 0 .8 0 .9 -.1 .9 .1 .9 -.1 .9 0 .8 0 .9 0 .9 .1 .9 -.1 .9 0 .8 0 .9 0 .9 0 .9 -.1 .9 .1 .8 -.1 .9 .1 .9 0 .9 0 .8 -.1 .9 0 .9 -.1 .9 .1 .9 -.1 .8 0 .9 .1 .9 -.1 .9 0 .9 0 .8 0 .9 .1 .9 -.1 .9 0 .8 0 .9 0 .9 0 .9 .1 .9 -.2 .8 .1 .9 0 .9 0 .9 0 .9 0 .8 0 .9 0 .9 0 .9 0 .9 0 .8 0 .9 0 .9 0 .9 -.1 .8 .1 .9 -.1 .9 .1 .9 -.1 .9 .1 .8 0 .9 -.1 .9 .1 .9 -.1 .9 .1 .8 -.1 .9 .1 .9 0 .9 -.1 .8 0 .9 0 .9 0 .9 .1 .9 -.1 .8 -.1 .9 0 .9 0 .9 .1 .9 0 .8 0 .9 0 .9 -.1 .9 0 .9 0 .8 .1 .9 -.1 .9 0 .9 -.1 .8 .1 .9 0 .9 0 .9 0 .9 0 .8 0 .9 .1 .9 -.3 .9 .1 .9 0 .8 .1 .9 -.1 .9 0 .9 0 .8 .1 .9 -.1 .9 .1 .9 -.1 .9 0 .8 0 .9 -.1 .9 0 .9 -.1 .9 .1 .8 0 .9 -.1 .9 .1 .9 0 .8 0 .9 0 .9 -.2 .9 .1 .9 -.1 .8 .1 .9 -.1 .9 .1 .9 0 .9 -.1 .8 0 .9 0 .9 0 .9 .1 .9 -.1 .8 .1 .9 -.1 .9 0 .9 -.1 .8 .2 .9 -.3 .9 .1 .9 .1 .9 -.2 .8 0 .9 0 .9 -.1 .9 .2 .9 -.1 .8 0 .9 0 .9 -.1 .9 -.1 .8 .2 .9 -.2 .9 0 .9 0 .9 .1 .8 -.1 .9 0 .9 -.2 .9 .1 .9 -.2 .8 .2 .9 -.1 .9 0 .9 -.2"/>
<path d="M125.8 552.9l.5 -.1 .5 0 .5 -.1 .5 0 .5 .1 .5 0 .5 0 .5 0 .5 0 .5 0 .5 0 .5 -.1 .5 .1 .5 0 .5 -.1 .5 -.1 .5 .2 .5 0 .5 .1 .5 -.1 .5 -.2 .5 .2 .5 .1 .5 -.1 .5 0 .5 .1 .5 0 .5 0 .5 0 .5 -.1 .5 .1 .5 -.1 .5 .1 .5 0 .5 0 .5 0 .5 0 .5 0 .5 0 .5 0 .5 0 .5 0 .5 0 .5 0 .5 0 .5 0 .6 -.1 .5 .1 .5 0 .5 0 .5 0 .5 0 .5 0 .5 -.1 .5 .1 .5 0 .5 0 .5 0 .5 0 .5 0 .5 0 .5 0 .5 0 .5 0 .5 0 .5 0 .5 0 .5 0 .5 0 .5 0 .5 0 .5 -.1 .5 .1 .5 0 .5 0 .5 0 .5 0 .5 0 .5 0 .5 0 .5 0 .5 0 .5 0 .5 0 .5 0 .5 0 .5 0 .5 0 .5 0 .5 0 .5 0 .5 0 .6 -.2 .5 .2 .5 0 .5 -.1 .5 .1 .5 0 .5 0 .5 0 .5 0 .5 0 .5 0 .5 0 .5 0 .5 0 .5 0 .5 0 .5 0 .5 0 .5 0 .5 0 .5 0 .5 0 .5 0 .5 0 .5 -.2 .5 .2 .5 0 .5 0 .5 0 .5 0 .5 0 .5 0 .5 0 .5 0 .5 0 .5 0 .5 -.2 .5 .2 .5 0 .5 -.2 .5 .2 .5 -.1 .5 .1 .5 0 .5 0 .5 0 .5 0 .6 0 .5 0 .5 0 .5 0 .5 -.1 .5 .1 .5 0 .5 0 .5 0 .5 -.2 .5 .2 .5 0 .5 0 .5 0 .5 0 .5 0 .5 0 .5 0 .5 0 .5 0 .5 0 .5 0 .5 0 .5 0 .5 0 .5 0 .5 0 .5 0 .5 0 .5 0 .5 -.1 .5 .1 .5 0 .5 0 .5 0 .5 0 .5 -.1 .5 .1 .5 0 .5 0 .5 0 .5 0 .5 0 .5 0 .5 0 .5 0 .6 0 .5 0 .5 -.1 .5 .1 .5 0 .5 0 .5 0 .5 0 .5 -.1 .5 0 .5 .1 .5 0 .5 0 .5 -.1 .5 .1 .5 -.2 .5 .2 .5 0 .5 0 .5 -.1 .5 0 .5 .1 .5 0 .5 0 .5 0 .5 -.1 .5 -.1 .5 .2 .5 -.1 .5 .1 .5 -.1 .5 0 .5 0 .5 0 .5 .1 .5 -.1 .5 .1 .5 -.1 .5 0 .5 0 .5 0 .5 0 .5 0 .5 0 .5 .1 .5 -.2 .5 .2 .6 -.1 .5 0 .5 0 .5 0 .5 0 .5 .1 .5 -.1 .5 0 .5 .1 .5 -.1 .5 0 .5 0 .5 0 .5 0 .5 0 .5 0 .5 0 .5 0 .5 0 .5 0 .5 0 .5 0 .5 0 .5 0 .5 0 .5 0 .5 -.1 .5 .1 .5 0 .5 0 .5 0 .5 0 .5 0 .5 -.1 .5 .1 .5 0 .5 0 .5 0 .5 0 .5 0 .5 0 .5 0 .5 0 .5 0 .5 0 .5 0 .6 0 .5 0 .5 0 .5 0 .5 0 .5 0 .5 0 .5 0 .5 0 .5 0 .5 0 .5 0 .5 0 .5 0 .5 0 .5 0 .5 0 .5 0 .5 -.1 .5 .1 .5 0 .5 0 .5 0 .5 0 .5 -.1 .5 .1 .5 -.1 .5 .1 .5 0 .5 0 .5 -.1 .5 .1 .5 0 .5 0 .5 0 .5 0 .5 0 .5 0 .5 -.1 .5 0 .5 .1 .5 -.1 .5 0 .5 .1 .5 0 .5 0 .6 -.1 .5 .1 .5 -.1 .5 0 .5 .1 .5 -.1 .5 0 .5 0 .5 0 .5 0 .5 0 .5 0 .5 .1 .5 0 .5 -.1 .5 0 .5 .1 .5 -.1 .5 0 .5 .1 .5 -.1 .5 .1 .5 0 .5 -.1 .5 0 .5 0 .5 .1 .5 -.1 .5 0 .5 0 .5 0 .5 0 .5 0 .5 0 .5 0 .5 0 .5 0 .5 .1 .5 -.1 .5 0 .5 0 .5 0 .5 -.1 .5 .1 .5 0 .5 0 .5 0 .6 0 .5 0 .5 .1 .5 -.1 .5 0 .5 0 .5 0 .5 0 .5 0 .5 0 .5 0 .5 0 .5 0 .5 0 .5 0 .5 0 .5 0 .5 0 .5 0 .5 0 .5 0 .5 0 .5 -.1 .5 0 .5 .1 .5 0 .5 0 .5 -.1 .5 .1 .5 0 .5 -.1 .5 .1 .5 -.1 .5 .1 .5 0 .5 -.1 .5 0 .5 0 .5 0 .5 .1 .5 -.1 .5 0 .5 0 .5 0 .5 0 .5 0 .6 0 .5 0 .5 .1 .5 -.1 .5 0 .5 -.1 .5 .1 .5 0 .5 0 .5 0 .5 0 .5 0 .5 0 .5 0 .5 0 .5 0 .2 0 .8 -.1 .9 .1 .9 -.1 .9 0 .8 .1 .9 -.1 .9 0 .9 .1 .9 -.1 .8 0 .9 0 .9 0 .9 -.1 .9 0 .8 0 .9 0 .9 0 .9 -.1 .8 .1 .9 -.1 .9 0 .9 0 .9 0 .8 -.1 .9 0 .9 0 .9 0 .9 -.1 .8 -.1 .9 0 .9 -.1 .9 -.2 .8 0 .9 -.3 .9 .1 .9 -.3 .9 -.2 .8 .1 .9 -.3 .9 0 .9 -.1 .9 -.2 .8 .4 .9 -.1 .9 .3 .9 -.1 .9 0 .8 .2 .9 .1 .9 .2 .9 0 .8 .2 .9 .1 .9 -.1 .9 .2 .9 0 .8 .1 .9 0 .9 .1 .9 .1 .9 0 .8 0 .9 0 .9 .1 .9 -.1 .8 .2 .9 -.1 .9 0 .9 .1 .9 0 .8 0 .9 0 .9 0 .9 .1 .9 -.1 .8 0 .9 0 .9 0 .9 .1 .9 -.1 .8 0 .9 .1 .9 0 .9 0 .8 0 .9 0 .9 0 .9 0 .9 0 .8 0 .9 0 .9 0 .9 -.1 .9 .1 .8 0 .9 0 .9 0 .9 0 .8 .1 .9 -.1 .9 0 .9 0 .9 0 .8 0 .9 0 .9 .1 .9 -.1 .9 0 .8 0 .9 0 .9 .1 .9 -.1 .9 .1 .8 -.1 .9 0 .9 0 .9 0 .8 0 .9 0 .9 0 .9 0 .9 -.1 .8 .1 .9 0 .9 0 .9 0 .9 0 .8 0 .9 0 .9 -.1 .9 .1 .8 0 .9 0 .9 -.1 .9 0 .9 0 .8 .1 .9 0 .9 0 .9 -.1 .9 .1 .8 0 .9 -.1 .9 .1 .9 0 .9 -.1 .8 0 .9 0 .9 0 .9 0 .8 0 .9 0 .9 .1 .9 -.1 .9 0 .8 0 .9 0 .9 0 .9 0 .9 0 .8 0 .9 0 .9 0 .9 0 .8 0 .9 0 .9 0 .9 0 .9 0 .8 0 .9 0 .9 -.1 .9 0 .9 0 .8 .1 .9 -.1 .9 0 .9 -.1 .8 .1 .9 0 .9 0 .9 -.1 .9 0 .8 .1 .9 -.1 .9 0 .9 0 .9 0 .8 0 .9 0 .9 0 .9 0 .9 -.1 .8 0 .9 .1 .9 0 .9 0 .8 0 .9 -.1 .9 .1 .9 -.1 .9 0 .8 0 .9 0 .9 0 .9 0 .9 0 .8 -.1 .9 0 .9 .1 .9 0 .8 -.1 .9 0 .9 0 .9 -.1 .9 .1 .8 -.1 .9 .1 .9 -.1 .9 0 .9 0 .8 .1 .9 -.2 .9 .1 .9 -.1 .9 0 .8 0 .9 0 .9 0 .9 0 .8 0 .9 -.1 .9 0 .9 0 .9 0 .8 0 .9 0 .9 -.1 .9 0 .9 0 .8 -.1 .9 .1 .9 0 .9 0 .8 -.1 .9 0 .9 .1 .9 0 .9 -.1 .8 .1 .9 -.1 .9 0 .9 .1 .9 -.1 .8 .1 .9 -.1 .9 0 .9 0 .9 0 .8 .1 .9 -.1 .9 0 .9 0 .8 .1 .9 -.1 .9 0 .9 -.1 .9 .1 .8 0 .9 0 .9 -.1 .9 .1 .9 -.1 .8 .1 .9 -.1 .9 .1 .9 -.1 .8 0 .9 0 .9 0 .9 .1 .9 -.1 .8 0 .9 -.1 .9 .1 .9 -.1 .9 0 .8 0 .9 0 .9 0 .9 0 .9 0 .8 -.1 .9 0 .9 0 .9 -.1 .8 .1 .9 0 .9 0 .9 0 .9 -.1 .8 .2 .9 -.2 .9 .1 .9 -.1 .9 0 .8 .1 .9 -.1 .9 -.1 .9 .1 .8 -.1 .9 0 .9 -.1 .9 0 .9 0 .8 0 .9 0 .9 .1 .9 -.2 .9 .1 .8 0 .9 0 .9 0 .9 -.1 .8 0 .9 -.1 .9 .1 .9 0 .9 0 .8 0 .9 0 .9 -.2 .9 .1 .9 0 .8 -.1 .9 0 .9 -.1 .9 .1 .9 0 .8 -.2 .9 .2 .9 -.1 .9 0 .8 .1 .9 -.2 .9 0 .9 -.1 .9 .1 .8 .1 .9 -.2 .9 .2 .9 -.2 .9 0 .8 -.1 .9 0 .9 -.1 .9 .1 .8 -.1 .9 -.1 .9 0 .9 -.1 .9 0 .8 0 .9 0 .9 0 .9 -.2 .9 -.1 .8 -.1 .9 .2 .9 -.1 .9 -.1"/>
<path d="M125.8 552.7l.5 0 .5 -.1 .5 .1 .5 -.1 .5 0 .5 .1 .5 -.1 .5 0 .5 0 .5 -.1 .5 0 .5 0 .5 .1 .5 -.1 .5 .2 .5 0 .5 -.1 .5 0 .5 0 .5 .1 .5 0 .5 0 .5 0 .5 0 .5 0 .5 -.1 .5 .1 .5 -.1 .5 .1 .5 0 .5 0 .5 0 .5 0 .5 0 .5 .1 .5 -.1 .5 0 .5 .1 .5 -.1 .5 0 .5 -.1 .5 .1 .5 0 .5 0 .5 0 .5 0 .6 0 .5 0 .5 0 .5 .1 .5 0 .5 0 .5 0 .5 0 .5 0 .5 0 .5 0 .5 0 .5 0 .5 0 .5 -.1 .5 .1 .5 0 .5 0 .5 0 .5 0 .5 0 .5 0 .5 0 .5 0 .5 0 .5 -.1 .5 .1 .5 0 .5 -.1 .5 .1 .5 0 .5 -.1 .5 -.1 .5 .2 .5 0 .5 0 .5 0 .5 0 .5 0 .5 0 .5 0 .5 0 .5 0 .5 0 .5 0 .5 0 .6 0 .5 0 .5 0 .5 0 .5 0 .5 0 .5 0 .5 0 .5 0 .5 0 .5 0 .5 0 .5 0 .5 0 .5 .1 .5 -.1 .5 0 .5 0 .5 0 .5 0 .5 0 .5 0 .5 0 .5 0 .5 0 .5 0 .5 0 .5 0 .5 0 .5 0 .5 0 .5 0 .5 0 .5 0 .5 0 .5 0 .5 0 .5 0 .5 0 .5 0 .5 0 .5 -.1 .5 .1 .5 0 .5 0 .5 0 .5 0 .6 0 .5 0 .5 0 .5 0 .5 0 .5 0 .5 -.1 .5 .1 .5 0 .5 -.1 .5 .1 .5 -.1 .5 .1 .5 0 .5 0 .5 0 .5 0 .5 0 .5 0 .5 0 .5 0 .5 -.1 .5 .1 .5 0 .5 0 .5 0 .5 -.1 .5 .1 .5 0 .5 -.2 .5 0 .5 .1 .5 .1 .5 0 .5 0 .5 0 .5 -.1 .5 0 .5 .1 .5 0 .5 -.1 .5 0 .5 0 .5 .1 .5 0 .5 0 .6 0 .5 0 .5 -.1 .5 0 .5 .1 .5 0 .5 0 .5 0 .5 -.1 .5 0 .5 .1 .5 0 .5 -.1 .5 .1 .5 -.1 .5 0 .5 0 .5 .1 .5 -.1 .5 0 .5 0 .5 0 .5 0 .5 0 .5 0 .5 0 .5 -.1 .5 .1 .5 0 .5 0 .5 0 .5 0 .5 0 .5 0 .5 0 .5 0 .5 0 .5 0 .5 0 .5 0 .5 -.1 .5 .1 .5 0 .5 0 .5 0 .5 0 .5 0 .6 -.1 .5 .1 .5 0 .5 0 .5 0 .5 0 .5 0 .5 -.1 .5 0 .5 .1 .5 0 .5 -.1 .5 0 .5 0 .5 0 .5 0 .5 0 .5 0 .5 -.1 .5 .2 .5 -.1 .5 0 .5 0 .5 0 .5 .1 .5 -.1 .5 0 .5 0 .5 0 .5 0 .5 0 .5 0 .5 -.1 .5 .2 .5 -.1 .5 0 .5 0 .5 0 .5 0 .5 0 .5 0 .5 0 .5 -.1 .5 0 .5 .1 .5 -.1 .6 .1 .5 0 .5 0 .5 0 .5 -.1 .5 0 .5 0 .5 .1 .5 0 .5 0 .5 -.1 .5 0 .5 .1 .5 0 .5 -.1 .5 0 .5 .1 .5 -.1 .5 .1 .5 -.1 .5 .1 .5 -.1 .5 .1 .5 0 .5 -.1 .5 0 .5 .1 .5 -.1 .5 0 .5 0 .5 0 .5 -.1 .5 .1 .5 0 .5 0 .5 .1 .5 0 .5 -.1 .5 0 .5 0 .5 0 .5 0 .5 -.1 .5 .1 .5 .1 .5 -.1 .6 0 .5 0 .5 -.1 .5 0 .5 .1 .5 0 .5 .1 .5 -.1 .5 0 .5 -.1 .5 0 .5 .1 .5 -.1 .5 .1 .5 0 .5 0 .5 0 .5 0 .5 -.1 .5 .1 .5 -.1 .5 -.1 .5 .2 .5 0 .5 -.1 .5 0 .5 0 .5 0 .5 0 .5 .1 .5 -.1 .5 0 .5 0 .5 .1 .5 -.1 .5 0 .5 0 .5 0 .5 .1 .5 -.1 .5 0 .5 0 .5 0 .5 0 .5 -.1 .5 0 .5 .1 .6 .1 .5 -.2 .5 .1 .5 0 .5 0 .5 0 .5 0 .5 -.1 .5 0 .5 .1 .5 -.1 .5 .1 .5 -.1 .5 0 .5 .1 .5 0 .5 0 .5 -.1 .5 0 .5 0 .5 0 .5 0 .5 .1 .5 -.2 .5 .1 .5 .1 .5 -.1 .5 0 .5 0 .5 0 .5 .1 .5 -.2 .5 0 .5 .1 .5 -.1 .5 0 .5 0 .5 0 .5 .1 .5 -.1 .5 .1 .5 -.2 .5 .2 .5 0 .5 -.1 .5 0 .6 0 .5 0 .5 0 .5 -.1 .5 .1 .5 0 .5 0 .5 0 .5 0 .5 0 .5 0 .5 0 .5 0 .5 0 .5 0 .5 -.1 .2 0 .8 0 .9 -.1 .9 .1 .9 -.1 .8 .1 .9 0 .9 -.1 .9 .1 .9 -.1 .8 0 .9 0 .9 0 .9 0 .9 0 .8 -.1 .9 0 .9 0 .9 -.1 .8 0 .9 0 .9 0 .9 -.2 .9 -.1 .8 0 .9 0 .9 0 .9 -.3 .9 .1 .8 -.3 .9 0 .9 -.2 .9 -.1 .8 -.1 .9 -.7 .9 .3 .9 -.5 .9 -.1 .8 -.4 .9 -.5 .9 .3 .9 -.5 .9 -.3 .8 0 .9 0 .9 .4 .9 .3 .9 .2 .8 .1 .9 .1 .9 .4 .9 0 .8 .5 .9 .2 .9 .1 .9 .4 .9 -.1 .8 .3 .9 0 .9 -.1 .9 .4 .9 -.1 .8 .1 .9 .1 .9 0 .9 .1 .8 -.1 .9 .3 .9 -.1 .9 -.1 .9 .1 .8 .1 .9 0 .9 0 .9 -.1 .9 .1 .8 .1 .9 0 .9 0 .9 0 .9 0 .8 0 .9 0 .9 0 .9 .1 .8 0 .9 0 .9 0 .9 0 .9 0 .8 -.1 .9 .1 .9 .1 .9 -.1 .9 0 .8 0 .9 0 .9 .1 .9 -.1 .8 0 .9 0 .9 .1 .9 0 .9 0 .8 0 .9 0 .9 0 .9 -.1 .9 .1 .8 -.1 .9 .1 .9 0 .9 -.2 .9 .1 .8 .1 .9 -.1 .9 0 .9 0 .8 0 .9 0 .9 0 .9 0 .9 0 .8 0 .9 0 .9 0 .9 0 .9 0 .8 -.1 .9 .1 .9 -.1 .9 .1 .8 0 .9 -.1 .9 0 .9 .1 .9 0 .8 -.1 .9 0 .9 0 .9 0 .9 0 .8 0 .9 0 .9 -.1 .9 .1 .9 0 .8 -.1 .9 0 .9 0 .9 0 .8 0 .9 0 .9 0 .9 0 .9 -.1 .8 .2 .9 -.2 .9 .1 .9 0 .9 0 .8 0 .9 0 .9 -.1 .9 0 .8 .1 .9 -.1 .9 .1 .9 -.1 .9 -.1 .8 .1 .9 -.1 .9 .1 .9 -.1 .9 .1 .8 -.1 .9 0 .9 0 .9 -.1 .8 .1 .9 -.1 .9 0 .9 0 .9 0 .8 0 .9 0 .9 0 .9 -.1 .9 0 .8 0 .9 .1 .9 0 .9 -.1 .9 0 .8 -.1 .9 0 .9 0 .9 -.1 .8 .1 .9 0 .9 -.1 .9 .1 .9 0 .8 -.1 .9 0 .9 -.1 .9 .2 .9 -.1 .8 -.1 .9 .1 .9 -.1 .9 0 .8 .1 .9 -.2 .9 .1 .9 -.1 .9 -.1 .8 .2 .9 -.2 .9 .1 .9 -.1 .9 0 .8 -.1 .9 .1 .9 -.1 .9 0 .9 0 .8 0 .9 0 .9 -.1 .9 0 .8 0 .9 0 .9 -.1 .9 0 .9 0 .8 -.1 .9 .2 .9 -.3 .9 .1 .9 .1 .8 0 .9 -.2 .9 0 .9 .1 .8 -.1 .9 0 .9 0 .9 -.1 .9 .1 .8 0 .9 .1 .9 -.2 .9 .1 .9 .1 .8 -.2 .9 .1 .9 .1 .9 0 .9 -.1 .8 .1 .9 -.1 .9 -.2 .9 0 .8 .2 .9 -.1 .9 0 .9 .1 .9 .1 .8 -.2 .9 .1 .9 -.1 .9 0 .9 .1 .8 -.2 .9 .1 .9 0 .9 0 .8 -.1 .9 0 .9 .1 .9 -.1 .9 .1 .8 0 .9 -.1 .9 0 .9 -.1 .9 0 .8 .1 .9 -.1 .9 0 .9 0 .9 0 .8 0 .9 0 .9 -.1 .9 0 .8 0 .9 -.1 .9 .1 .9 -.1 .9 0 .8 .1 .9 0 .9 0 .9 -.1 .9 -.1 .8 0 .9 0 .9 0 .9 -.1 .8 .1 .9 -.1 .9 0 .9 0 .9 -.1 .8 0 .9 0 .9 0 .9 0 .9 -.1 .8 0 .9 0 .9 0 .9 .1 .8 -.1 .9 0 .9 -.1 .9 0 .9 0 .8 0 .9 .1 .9 -.1 .9 0 .9 0 .8 -.1 .9 -.1 .9 .1 .9 0 .9 -.1 .8 -.3 .9 .2 .9 -.1 .9 .1 .8 -.2 .9 0 .9 .1 .9 -.2 .9 .2 .8 -.2 .9 .1 .9 -.1 .9 0 .9 -.1 .8 .1 .9 -.2 .9 0 .9 0 .8 0 .9 0 .9 -.1 .9 -.1 .9 0 .8 -.1 .9 -.1 .9 0 .9 -.1 .9 -.1 .8 0 .9 -.1 .9 -.1 .9 -.2"/>
<path d="M125.8 552.5l.5 .1 .5 -.2 .5 0 .5 0 .5 0 .5 0 .5 0 .5 -.2 .5 .1 .5 .1 .5 0 .5 0 .5 -.1 .5 .1 .5 0 .5 0 .5 .1 .5 -.1 .5 .1 .5 0 .5 0 .5 -.2 .5 .1 .5 .1 .5 0 .5 0 .5 -.1 .5 0 .5 .1 .5 0 .5 0 .5 0 .5 0 .5 0 .5 .1 .5 -.2 .5 .2 .5 -.1 .5 0 .5 0 .5 0 .5 0 .5 0 .5 0 .5 0 .5 0 .6 .1 .5 0 .5 0 .5 -.1 .5 0 .5 .1 .5 0 .5 0 .5 0 .5 .1 .5 0 .5 0 .5 -.1 .5 0 .5 .1 .5 -.1 .5 .1 .5 -.2 .5 .1 .5 0 .5 .1 .5 -.1 .5 -.1 .5 .1 .5 .1 .5 0 .5 -.1 .5 .1 .5 -.1 .5 .1 .5 -.1 .5 0 .5 0 .5 0 .5 .1 .5 -.1 .5 .1 .5 -.1 .5 0 .5 .1 .5 -.1 .5 0 .5 .1 .5 -.1 .5 0 .5 0 .6 0 .5 0 .5 0 .5 0 .5 0 .5 0 .5 .1 .5 -.1 .5 0 .5 0 .5 .1 .5 -.1 .5 .1 .5 0 .5 0 .5 0 .5 0 .5 0 .5 0 .5 0 .5 0 .5 .1 .5 -.1 .5 0 .5 0 .5 .1 .5 -.1 .5 0 .5 0 .5 0 .5 0 .5 0 .5 0 .5 0 .5 0 .5 0 .5 -.1 .5 .1 .5 0 .5 0 .5 0 .5 0 .5 0 .5 0 .5 -.1 .5 .1 .5 0 .6 0 .5 0 .5 0 .5 0 .5 0 .5 -.1 .5 .1 .5 0 .5 -.1 .5 .1 .5 0 .5 0 .5 0 .5 -.1 .5 .1 .5 -.1 .5 -.1 .5 .2 .5 -.1 .5 0 .5 0 .5 0 .5 0 .5 0 .5 .1 .5 -.2 .5 .2 .5 0 .5 -.1 .5 0 .5 .1 .5 -.1 .5 .1 .5 -.1 .5 .1 .5 0 .5 0 .5 -.1 .5 0 .5 0 .5 0 .5 -.1 .5 .1 .5 0 .5 0 .5 .1 .6 -.1 .5 -.1 .5 .1 .5 0 .5 -.1 .5 .1 .5 0 .5 0 .5 0 .5 0 .5 -.1 .5 .1 .5 0 .5 0 .5 0 .5 0 .5 -.1 .5 .1 .5 -.1 .5 .1 .5 0 .5 -.1 .5 .1 .5 -.1 .5 .1 .5 0 .5 -.1 .5 .1 .5 -.1 .5 -.1 .5 .1 .5 0 .5 .1 .5 -.1 .5 0 .5 0 .5 0 .5 .1 .5 -.1 .5 0 .5 0 .5 .1 .5 -.1 .5 0 .5 0 .5 .1 .5 -.1 .6 0 .5 -.1 .5 .1 .5 -.1 .5 .2 .5 -.1 .5 0 .5 0 .5 0 .5 0 .5 0 .5 -.1 .5 0 .5 0 .5 -.1 .5 .1 .5 0 .5 0 .5 0 .5 -.1 .5 .1 .5 .1 .5 0 .5 -.1 .5 0 .5 0 .5 0 .5 .1 .5 -.1 .5 -.1 .5 .1 .5 0 .5 -.1 .5 0 .5 .1 .5 0 .5 .1 .5 -.2 .5 0 .5 .1 .5 -.1 .5 0 .5 0 .5 0 .5 0 .5 .1 .6 -.1 .5 0 .5 .1 .5 0 .5 0 .5 -.1 .5 0 .5 0 .5 0 .5 .1 .5 -.2 .5 -.1 .5 .2 .5 0 .5 -.1 .5 .1 .5 0 .5 .1 .5 -.1 .5 0 .5 0 .5 0 .5 .1 .5 -.1 .5 -.1 .5 .1 .5 -.1 .5 .1 .5 0 .5 0 .5 0 .5 -.1 .5 .1 .5 -.1 .5 0 .5 0 .5 0 .5 0 .5 0 .5 0 .5 .1 .5 -.1 .5 0 .5 0 .5 0 .5 0 .6 0 .5 0 .5 .1 .5 -.1 .5 -.1 .5 .1 .5 0 .5 -.1 .5 .1 .5 0 .5 0 .5 -.1 .5 .1 .5 0 .5 -.1 .5 .1 .5 0 .5 -.1 .5 0 .5 .1 .5 -.1 .5 0 .5 -.1 .5 .1 .5 0 .5 0 .5 0 .5 0 .5 0 .5 0 .5 0 .5 .1 .5 -.1 .5 .1 .5 -.1 .5 .1 .5 -.1 .5 0 .5 0 .5 0 .5 0 .5 0 .5 0 .5 -.1 .5 0 .5 0 .5 0 .6 0 .5 0 .5 0 .5 0 .5 0 .5 0 .5 .1 .5 -.1 .5 0 .5 -.1 .5 .2 .5 -.2 .5 .1 .5 0 .5 0 .5 -.1 .5 .1 .5 -.1 .5 0 .5 0 .5 0 .5 0 .5 0 .5 0 .5 0 .5 0 .5 0 .5 0 .5 .1 .5 -.2 .5 .1 .5 -.1 .5 0 .5 .1 .5 -.1 .5 0 .5 0 .5 .1 .5 -.1 .5 0 .5 -.1 .5 0 .5 .1 .5 0 .5 -.1 .5 .1 .6 0 .5 0 .5 -.1 .5 0 .5 .1 .5 -.1 .5 -.1 .5 0 .5 .1 .5 0 .5 0 .5 -.1 .5 .1 .5 0 .5 0 .5 0 .2 0 .8 -.1 .9 .1 .9 -.1 .9 0 .8 0 .9 0 .9 -.1 .9 0 .9 -.1 .8 0 .9 0 .9 0 .9 -.1 .9 0 .8 0 .9 0 .9 -.1 .9 0 .8 0 .9 -.2 .9 .1 .9 -.2 .9 -.2 .8 0 .9 0 .9 -.1 .9 -.1 .9 -.1 .8 -.2 .9 -.3 .9 -.1 .9 -.4 .8 -.2 .9 -.2 .9 -.7 .9 -.2 .9 -.4 .8 -.7 .9 -.4 .9 -.1 .9 -.6 .9 -.2 .8 .1 .9 -.8 .9 .2 .9 .8 .9 0 .8 .9 .9 -.1 .9 .7 .9 .5 .8 .1 .9 .6 .9 .3 .9 .2 .9 .4 .8 .1 .9 .2 .9 .1 .9 .2 .9 .1 .8 .2 .9 -.1 .9 .3 .9 -.1 .8 .2 .9 .1 .9 0 .9 0 .9 .2 .8 0 .9 .1 .9 0 .9 0 .9 0 .8 .1 .9 -.1 .9 .1 .9 -.1 .9 .1 .8 -.1 .9 .1 .9 .1 .9 0 .8 0 .9 0 .9 .1 .9 -.1 .9 .1 .8 0 .9 .1 .9 -.1 .9 0 .9 0 .8 0 .9 0 .9 0 .9 0 .8 0 .9 0 .9 0 .9 0 .9 0 .8 0 .9 .1 .9 -.2 .9 .2 .9 -.1 .8 0 .9 .1 .9 -.1 .9 0 .9 0 .8 .1 .9 -.1 .9 .1 .9 0 .8 -.1 .9 0 .9 -.1 .9 .1 .9 -.1 .8 .1 .9 0 .9 0 .9 -.1 .9 .1 .8 0 .9 -.1 .9 0 .9 .1 .8 -.1 .9 0 .9 -.1 .9 0 .9 0 .8 0 .9 0 .9 0 .9 0 .9 0 .8 .1 .9 -.1 .9 0 .9 -.1 .9 .2 .8 -.2 .9 0 .9 0 .9 0 .8 .1 .9 -.1 .9 -.1 .9 .1 .9 0 .8 0 .9 -.1 .9 0 .9 .1 .9 -.1 .8 -.1 .9 0 .9 .1 .9 0 .8 -.1 .9 0 .9 .1 .9 -.1 .9 0 .8 -.1 .9 .1 .9 -.1 .9 0 .9 0 .8 0 .9 0 .9 0 .9 0 .8 -.1 .9 .2 .9 -.2 .9 0 .9 0 .8 0 .9 -.1 .9 0 .9 .1 .9 -.1 .8 -.1 .9 0 .9 .1 .9 -.1 .9 0 .8 -.1 .9 0 .9 0 .9 0 .8 0 .9 0 .9 -.1 .9 0 .9 0 .8 .1 .9 -.1 .9 0 .9 -.1 .9 -.1 .8 .1 .9 0 .9 -.1 .9 0 .8 0 .9 -.1 .9 0 .9 0 .9 -.1 .8 -.1 .9 .1 .9 0 .9 -.1 .9 0 .8 0 .9 0 .9 -.1 .9 0 .9 -.1 .8 0 .9 0 .9 -.1 .9 0 .8 -.1 .9 0 .9 .1 .9 -.2 .9 0 .8 0 .9 .1 .9 -.2 .9 0 .9 .1 .8 -.2 .9 .1 .9 0 .9 -.1 .8 .1 .9 -.1 .9 0 .9 0 .9 0 .8 0 .9 -.1 .9 0 .9 .1 .9 -.1 .8 0 .9 .1 .9 -.1 .9 0 .9 0 .8 .2 .9 -.2 .9 .1 .9 0 .8 -.1 .9 .1 .9 -.1 .9 0 .9 .1 .8 -.1 .9 0 .9 0 .9 0 .9 0 .8 0 .9 .1 .9 0 .9 -.2 .8 .1 .9 -.2 .9 0 .9 .2 .9 -.1 .8 -.2 .9 .2 .9 -.1 .9 0 .9 0 .8 0 .9 -.1 .9 0 .9 .1 .9 -.2 .8 .1 .9 -.1 .9 0 .9 0 .8 0 .9 0 .9 0 .9 -.2 .9 .2 .8 -.2 .9 0 .9 0 .9 -.1 .9 0 .8 .1 .9 -.1 .9 0 .9 0 .8 -.1 .9 0 .9 0 .9 .1 .9 -.2 .8 .1 .9 0 .9 -.1 .9 .1 .9 -.2 .8 -.1 .9 .2 .9 -.2 .9 0 .8 0 .9 0 .9 -.2 .9 .1 .9 0 .8 0 .9 -.1 .9 -.2 .9 .2 .9 -.2 .8 0 .9 .1 .9 -.2 .9 0 .9 -.2 .8 0 .9 .1 .9 0 .9 0 .8 0 .9 -.2 .9 0 .9 0 .9 -.1 .8 -.1 .9 0 .9 0 .9 0 .9 -.1 .8 -.2 .9 .3 .9 -.1 .9 -.2 .8 -.1 .9 -.1 .9 -.1 .9 -.1 .9 .2 .8 -.2 .9 0 .9 -.2 .9 0 .9 -.2 .8 .1 .9 -.2 .9 -.1 .9 -.1"/>
<path d="M125.8 552.4l.8 -.2 .9 0 .9 -.2 .9 .1 .8 .1 .9 -.3 .9 0 .9 0 .9 .1 .8 .1 .9 -.2 .9 .2 .9 -.2 .9 .2 .8 .1 .9 -.2 .9 0 .9 .1 .8 0 .9 .1 .9 0 .9 .1 .9 -.2 .8 .1 .9 -.1 .9 .1 .9 0 .9 -.1 .8 .2 .9 -.1 .9 .1 .9 0 .8 0 .9 .1 .9 0 .9 0 .9 -.1 .8 .1 .9 -.1 .9 0 .9 .1 .9 0 .8 0 .9 0 .9 -.2 .9 .1 .9 0 .8 0 .9 -.1 .9 .2 .9 -.1 .8 0 .9 0 .9 .1 .9 -.1 .9 -.1 .8 .2 .9 -.1 .9 .1 .9 .1 .9 -.1 .8 .1 .9 0 .9 0 .9 0 .8 .1 .9 -.1 .9 0 .9 .1 .9 -.1 .8 0 .9 0 .9 0 .9 0 .9 0 .8 0 .9 0 .9 0 .9 0 .9 0 .8 0 .9 -.1 .9 .2 .9 -.2 .8 .2 .9 -.1 .9 -.1 .9 .1 .9 -.1 .8 .1 .9 0 .9 -.1 .9 .1 .9 0 .8 -.1 .9 .1 .9 -.1 .9 0 .8 .1 .9 -.1 .9 -.1 .9 .2 .9 -.1 .8 0 .9 -.1 .9 .1 .9 0 .9 0 .8 -.1 .9 0 .9 .2 .9 0 .9 -.1 .8 0 .9 -.1 .9 0 .9 -.1 .8 .1 .9 0 .9 0 .9 .1 .9 -.1 .8 0 .9 -.1 .9 .2 .9 -.2 .9 0 .8 .1 .9 -.1 .9 0 .9 0 .8 0 .9 .1 .9 -.2 .9 0 .9 0 .8 .1 .9 .1 .9 -.2 .9 .1 .9 0 .8 0 .9 0 .9 0 .9 -.1 .9 0 .8 0 .9 .1 .9 -.2 .9 .2 .8 -.3 .9 .2 .9 -.1 .9 0 .9 0 .8 0 .9 0 .9 .1 .9 -.1 .9 -.1 .8 .1 .9 0 .9 0 .9 -.1 .8 0 .9 0 .9 0 .9 0 .9 .1 .8 -.2 .9 .1 .9 -.1 .9 .1 .9 0 .8 0 .9 -.1 .9 0 .9 0 .8 -.1 .9 .2 .9 -.1 .9 0 .9 -.1 .8 .1 .9 -.1 .9 0 .9 .2 .9 -.3 .8 .1 .9 .1 .9 0 .9 -.1 .9 .2 .8 -.2 .9 0 .9 -.1 .9 .1 .8 -.1 .9 0 .9 -.1 .9 .2 .9 -.1 .8 .1 .9 0 .9 -.1 .9 0 .9 0 .8 0 .9 -.1 .9 .1 .9 -.1 .8 .1 .9 -.2 .9 0 .9 .1 .9 0 .8 -.1 .9 0 .9 .1 .9 0 .9 -.1 .8 -.1 .9 .1 .9 -.2 .9 .2 .9 0 .8 -.1 .9 0 .9 0 .9 0 .8 0 .9 0 .9 -.1 .9 .1 .9 0 .8 -.1 .9 0 .9 0 .9 0 .9 0 .8 -.2 .9 .1 .9 -.1 .9 0 .8 0 .9 0 .9 0 .9 -.1 .9 0 .8 0 .9 0 .9 -.1 .9 0 .9 0 .8 0 .9 -.1 .9 0 .9 -.1 .9 0 .8 0 .9 0 .9 -.1 .9 -.1 .8 -.1 .9 0 .9 0 .9 -.1 .9 -.2 .8 0 .9 -.1 .9 -.2 .9 0 .9 -.3 .8 -.1 .9 -.2 .9 -.1 .9 -.5 .8 -.3 .9 0 .9 -.5 .9 -.5 .9 -.7 .8 -.1 .9 -.5 .9 -.8 .9 -1.2 .9 -.3 .8 -.8 .9 -1.1 .9 .4 .9 -.4 .9 -1 .8 .2 .9 1 .9 0 .9 .8 .8 .7 .9 1 .9 .6 .9 .8 .9 .4 .8 .6 .9 .2 .9 .5 .9 .6 .9 .1 .8 .2 .9 .3 .9 .2 .9 .2 .8 .1 .9 .3 .9 0 .9 .3 .9 -.1 .8 .3 .9 .1 .9 -.1 .9 .1 .9 .1 .8 0 .9 .1 .9 .1 .9 0 .8 0 .9 0 .9 0 .9 .2 .9 0 .8 0 .9 0 .9 .1 .9 0 .9 -.1 .8 .1 .9 0 .9 .1 .9 -.1 .9 .1 .8 0 .9 0 .9 0 .9 -.1 .8 .2 .9 -.1 .9 -.1 .9 .1 .9 .1 .8 0 .9 0 .9 0 .9 0 .9 0 .8 0 .9 0 .9 0 .9 .1 .8 0 .9 -.1 .9 0 .9 -.2 .9 .1 .8 .1 .9 -.1 .9 .1 .9 -.1 .9 0 .8 0 .9 0 .9 0 .9 .1 .9 -.1 .8 0 .9 -.1 .9 .1 .9 -.1 .8 .1 .9 -.1 .9 .1 .9 0 .9 0 .8 -.1 .9 -.1 .9 0 .9 .1 .9 -.1 .8 0 .9 .1 .9 0 .9 0 .8 -.1 .9 .1 .9 -.1 .9 0 .9 0 .8 0 .9 -.2 .9 .1 .9 0 .9 -.1 .8 0 .9 0 .9 .1 .9 0 .9 -.1 .8 0 .9 0 .9 0 .9 -.1 .8 0 .9 -.1 .9 0 .9 .1 .9 -.1 .8 .2 .9 -.2 .9 0 .9 0 .9 .1 .8 -.3 .9 .1 .9 0 .9 -.1 .8 .1 .9 0 .9 -.1 .9 .1 .9 -.2 .8 0 .9 0 .9 .1 .9 -.2 .9 0 .8 -.1 .9 .2 .9 -.2 .9 0 .9 0 .8 .1 .9 -.1 .9 -.1 .9 .1 .8 0 .9 -.1 .9 -.1 .9 0 .9 -.1 .8 .1 .9 -.1 .9 0 .9 0 .9 -.1 .8 0 .9 0 .9 0 .9 -.1 .8 0 .9 0 .9 -.1 .9 .1 .9 -.1 .8 -.1 .9 -.1 .9 .1 .9 -.1 .9 -.1 .8 .1 .9 0 .9 0 .9 -.2 .9 0 .8 0 .9 -.1 .9 0 .9 -.1 .8 0 .9 -.2 .9 .1 .9 -.1 .9 0 .8 0 .9 0 .9 -.1 .9 0 .9 -.1 .8 -.1 .9 .1 .9 -.3 .9 .2 .8 -.1 .9 -.2 .9 .2 .9 -.1 .9 0 .8 0 .9 .2 .9 -.3 .9 .1 .9 .1 .8 -.2 .9 .2 .9 -.2 .9 .2 .8 -.1 .9 .1 .9 -.1 .9 .1 .9 0 .8 -.1 .9 0 .9 0 .9 -.1 .9 .1 .8 .1 .9 -.1 .9 0 .9 -.1 .9 0 .8 0 .9 .1 .9 -.1 .9 .1 .8 -.2 .9 .1 .9 -.1 .9 .1 .9 -.1 .8 .1 .9 -.2 .9 .2 .9 -.2 .9 0 .8 -.2 .9 .2 .9 -.1 .9 0 .8 0 .9 0 .9 0 .9 0 .9 -.1 .8 0 .9 0 .9 0 .9 -.1 .9 -.1 .8 0 .9 -.1 .9 0 .9 -.1 .9 .1 .8 0 .9 0 .9 -.1 .9 -.1 .8 .1 .9 -.2 .9 -.1 .9 .1 .9 -.1 .8 .1 .9 0 .9 -.1 .9 -.1 .9 0 .8 0 .9 -.2 .9 .1 .9 -.1 .8 0 .9 0 .9 0 .9 -.1 .9 .1 .8 -.3 .9 .1 .9 .1 .9 -.1 .9 0 .8 -.3 .9 0 .9 -.1 .9 0 .9 0 .8 -.1 .9 .1 .9 -.1 .9 0 .8 -.1 .9 0 .9 -.2 .9 0 .9 0 .8 .1 .9 -.3 .9 -.1 .9 .1 .9 0 .8 -.2 .9 -.1 .9 .2 .9 -.3 .8 .2 .9 -.3 .9 -.2 .9 .1 .9 -.1 .8 0 .9 -.1 .9 -.3 .9 0 .9 0 .8 -.1 .9 -.2 .9 -.3 .9 .1 .9 -.3 .8 0 .9 -.1"/>
<path d="M125.8 551.9l.8 -.3 .9 -.1 .9 -.1 .9 -.1 .8 0 .9 .1 .9 0 .9 -.3 .9 .2 .8 .2 .9 .1 .9 0 .9 -.1 .9 -.2 .8 .3 .9 -.1 .9 .1 .9 -.2 .8 .1 .9 0 .9 -.1 .9 -.1 .9 .1 .8 .1 .9 .1 .9 0 .9 0 .9 -.2 .8 .2 .9 0 .9 0 .9 -.1 .8 .3 .9 -.1 .9 0 .9 .1 .9 .1 .8 -.2 .9 .1 .9 0 .9 0 .9 -.1 .8 0 .9 .1 .9 -.1 .9 0 .9 0 .8 0 .9 0 .9 -.1 .9 .2 .8 0 .9 -.1 .9 -.1 .9 .2 .9 0 .8 0 .9 0 .9 .1 .9 0 .9 .2 .8 -.1 .9 .1 .9 .1 .9 -.1 .8 .1 .9 -.1 .9 .2 .9 -.1 .9 0 .8 .1 .9 -.1 .9 0 .9 .1 .9 -.1 .8 .1 .9 -.1 .9 0 .9 0 .9 -.1 .8 .1 .9 0 .9 0 .9 0 .8 -.1 .9 .1 .9 0 .9 -.1 .9 .1 .8 0 .9 -.2 .9 .2 .9 -.1 .9 .1 .8 -.1 .9 0 .9 -.1 .9 .2 .8 -.2 .9 0 .9 .1 .9 -.2 .9 .2 .8 0 .9 -.1 .9 .1 .9 -.2 .9 0 .8 .1 .9 0 .9 0 .9 -.1 .9 .1 .8 .1 .9 0 .9 -.1 .9 0 .8 -.1 .9 0 .9 0 .9 .1 .9 -.2 .8 .1 .9 0 .9 -.1 .9 .1 .9 0 .8 -.2 .9 .1 .9 .1 .9 -.1 .8 0 .9 0 .9 0 .9 0 .9 -.1 .8 0 .9 .1 .9 0 .9 -.2 .9 .1 .8 -.1 .9 0 .9 .1 .9 -.1 .9 .1 .8 -.1 .9 -.1 .9 -.1 .9 .2 .8 -.1 .9 0 .9 0 .9 .2 .9 -.2 .8 0 .9 -.1 .9 .1 .9 -.1 .9 -.1 .8 .1 .9 0 .9 0 .9 0 .8 -.1 .9 -.1 .9 .2 .9 0 .9 0 .8 -.2 .9 .1 .9 -.1 .9 0 .9 0 .8 0 .9 .1 .9 0 .9 -.1 .8 0 .9 0 .9 0 .9 -.1 .9 .1 .8 -.1 .9 0 .9 .1 .9 0 .9 -.1 .8 0 .9 -.1 .9 .1 .9 0 .9 -.1 .8 0 .9 0 .9 -.1 .9 .2 .8 -.1 .9 0 .9 -.2 .9 .1 .9 -.1 .8 -.1 .9 .2 .9 -.1 .9 0 .9 0 .8 -.1 .9 0 .9 0 .9 0 .8 0 .9 0 .9 0 .9 .1 .9 -.2 .8 0 .9 0 .9 0 .9 0 .9 -.1 .8 0 .9 -.1 .9 .1 .9 -.1 .9 0 .8 0 .9 0 .9 0 .9 0 .8 -.1 .9 -.1 .9 .1 .9 -.1 .9 0 .8 -.1 .9 .1 .9 -.1 .9 0 .9 .1 .8 -.1 .9 .1 .9 0 .9 -.1 .8 0 .9 -.2 .9 -.1 .9 .1 .9 0 .8 -.1 .9 0 .9 -.1 .9 0 .9 0 .8 0 .9 -.1 .9 -.2 .9 .1 .9 -.2 .8 0 .9 -.2 .9 .2 .9 -.2 .8 -.1 .9 -.1 .9 -.1 .9 -.3 .9 .1 .8 -.2 .9 -.1 .9 -.3 .9 -.2 .9 -.1 .8 0 .9 -.5 .9 -.2 .9 -.5 .8 -.4 .9 -.2 .9 -.6 .9 -.7 .9 -.6 .8 -.6 .9 -.7 .9 -1.1 .9 -.9 .9 -1.7 .8 -1 .9 -.9 .9 -1.5 .9 -.5 .9 0 .8 -1.7 .9 .3 .9 1.5 .9 .7 .8 .9 .9 1.4 .9 1.3 .9 1 .9 1 .8 1 .9 .7 .9 .8 .9 .7 .9 .5 .8 .7 .9 0 .9 .7 .9 .2 .8 .2 .9 .2 .9 .3 .9 .1 .9 .4 .8 .1 .9 .1 .9 .2 .9 .1 .9 -.1 .8 .3 .9 .1 .9 0 .9 .1 .8 0 .9 .1 .9 0 .9 .1 .9 0 .8 0 .9 .2 .9 -.1 .9 .2 .9 -.1 .8 .1 .9 0 .9 .2 .9 -.2 .9 .1 .8 .1 .9 -.1 .9 .1 .9 -.1 .8 0 .9 .1 .9 0 .9 0 .9 .1 .8 -.1 .9 .1 .9 0 .9 0 .9 .1 .8 -.2 .9 0 .9 .2 .9 -.1 .8 -.1 .9 .1 .9 .1 .9 -.1 .9 -.1 .8 0 .9 .1 .9 0 .9 0 .9 0 .8 -.1 .9 0 .9 0 .9 -.1 .9 .1 .8 0 .9 -.1 .9 0 .9 0 .8 0 .9 .1 .9 -.2 .9 0 .9 0 .8 .1 .9 -.1 .9 .1 .9 -.1 .9 0 .8 -.1 .9 0 .9 .1 .9 0 .8 -.1 .9 0 .9 -.1 .9 .1 .9 0 .8 -.1 .9 0 .9 0 .9 .1 .9 -.1 .8 0 .9 -.1 .9 0 .9 0 .9 -.1 .8 .1 .9 -.2 .9 .1 .9 0 .8 -.1 .9 .1 .9 0 .9 -.1 .9 0 .8 0 .9 .1 .9 -.2 .9 0 .9 -.2 .8 0 .9 .1 .9 0 .9 -.1 .8 .1 .9 -.1 .9 -.1 .9 0 .9 0 .8 0 .9 0 .9 -.2 .9 0 .9 0 .8 0 .9 0 .9 -.1 .9 -.1 .9 0 .8 0 .9 .1 .9 -.3 .9 0 .8 0 .9 0 .9 .1 .9 -.1 .9 0 .8 -.2 .9 .1 .9 -.1 .9 -.1 .9 0 .8 0 .9 -.2 .9 .2 .9 -.2 .8 0 .9 -.1 .9 .1 .9 -.1 .9 -.1 .8 .1 .9 -.2 .9 0 .9 -.1 .9 0 .8 0 .9 -.1 .9 -.2 .9 .2 .9 -.2 .8 -.1 .9 .1 .9 -.1 .9 -.1 .8 0 .9 -.1 .9 -.2 .9 .2 .9 -.1 .8 0 .9 -.1 .9 -.1 .9 -.2 .9 0 .8 .1 .9 -.3 .9 0 .9 .1 .8 -.1 .9 0 .9 .1 .9 0 .9 0 .8 -.1 .9 0 .9 0 .9 -.1 .9 .1 .8 -.1 .9 .1 .9 -.1 .9 .1 .8 -.1 .9 .1 .9 .1 .9 -.2 .9 .1 .8 -.1 .9 0 .9 .1 .9 0 .9 .1 .8 -.1 .9 -.1 .9 0 .9 0 .9 0 .8 0 .9 0 .9 .1 .9 0 .8 -.2 .9 0 .9 0 .9 0 .9 0 .8 0 .9 0 .9 0 .9 -.2 .9 .1 .8 -.1 .9 -.2 .9 .1 .9 0 .8 -.1 .9 .1 .9 -.2 .9 0 .9 0 .8 -.1 .9 -.1 .9 .1 .9 0 .9 -.2 .8 .1 .9 -.1 .9 .1 .9 -.1 .9 0 .8 -.1 .9 0 .9 0 .9 -.2 .8 0 .9 .2 .9 -.2 .9 0 .9 0 .8 -.1 .9 -.1 .9 0 .9 0 .9 0 .8 -.1 .9 -.2 .9 .1 .9 -.2 .8 0 .9 0 .9 -.1 .9 0 .9 0 .8 0 .9 -.2 .9 -.1 .9 .1 .9 -.2 .8 .2 .9 -.2 .9 0 .9 -.3 .9 .1 .8 -.1 .9 .1 .9 -.2 .9 -.1 .8 0 .9 .2 .9 -.3 .9 -.2 .9 -.1 .8 0 .9 .1 .9 -.1 .9 -.2 .9 .1 .8 -.2 .9 0 .9 -.1 .9 -.2 .8 .1 .9 -.4 .9 .1 .9 -.1 .9 0 .8 -.1 .9 -.1 .9 0 .9 -.1 .9 -.3 .8 -.1 .9 0 .9 -.2 .9 -.3 .9 -.2 .8 -.3 .9 0"/>
<path d="M125.8 551.3l.8 -.1 .9 -.6 .9 .2 .9 -.2 .8 -.3 .9 .1 .9 0 .9 .2 .9 -.2 .8 0 .9 -.1 .9 .2 .9 -.1 .9 0 .8 .2 .9 0 .9 -.3 .9 .3 .8 -.2 .9 .1 .9 -.2 .9 .2 .9 -.1 .8 0 .9 .1 .9 -.1 .9 .1 .9 0 .8 .1 .9 -.1 .9 .2 .9 .2 .8 -.1 .9 0 .9 .1 .9 -.2 .9 .1 .8 -.1 .9 .2 .9 0 .9 -.2 .9 .3 .8 -.2 .9 0 .9 0 .9 0 .9 .1 .8 -.2 .9 .2 .9 0 .9 -.3 .8 .3 .9 .1 .9 -.3 .9 .2 .9 .3 .8 -.3 .9 0 .9 .2 .9 0 .9 .3 .8 0 .9 .2 .9 0 .9 0 .8 .1 .9 0 .9 .1 .9 0 .9 0 .8 -.1 .9 .1 .9 -.1 .9 .1 .9 -.1 .8 .1 .9 -.1 .9 -.1 .9 .2 .9 0 .8 -.1 .9 0 .9 0 .9 .2 .8 -.1 .9 .1 .9 -.2 .9 0 .9 .1 .8 -.1 .9 0 .9 .1 .9 -.2 .9 .1 .8 .1 .9 -.2 .9 0 .9 -.1 .8 .1 .9 .1 .9 -.1 .9 -.1 .9 .1 .8 -.1 .9 .1 .9 -.1 .9 0 .9 .2 .8 -.1 .9 0 .9 -.1 .9 0 .9 0 .8 0 .9 0 .9 -.1 .9 0 .8 0 .9 0 .9 0 .9 0 .9 -.1 .8 .1 .9 -.2 .9 .1 .9 -.1 .9 .1 .8 0 .9 -.1 .9 0 .9 .1 .8 0 .9 -.1 .9 -.1 .9 0 .9 -.1 .8 .1 .9 .1 .9 -.1 .9 .1 .9 -.1 .8 -.2 .9 0 .9 .1 .9 0 .9 0 .8 .1 .9 -.2 .9 0 .9 -.2 .8 .2 .9 -.2 .9 .2 .9 -.2 .9 .1 .8 -.1 .9 .1 .9 0 .9 -.1 .9 -.1 .8 0 .9 -.1 .9 0 .9 .3 .8 -.2 .9 .1 .9 -.1 .9 -.1 .9 .1 .8 0 .9 -.1 .9 0 .9 -.2 .9 .1 .8 0 .9 -.2 .9 .2 .9 0 .8 0 .9 -.1 .9 -.1 .9 0 .9 .1 .8 0 .9 0 .9 0 .9 -.1 .9 -.1 .8 .3 .9 -.1 .9 -.3 .9 .2 .9 -.1 .8 .1 .9 -.2 .9 0 .9 0 .8 -.1 .9 .1 .9 -.1 .9 -.1 .9 0 .8 .1 .9 0 .9 0 .9 -.1 .9 0 .8 0 .9 -.1 .9 0 .9 0 .8 0 .9 -.1 .9 .1 .9 -.2 .9 0 .8 0 .9 0 .9 -.1 .9 0 .9 0 .8 0 .9 .1 .9 -.2 .9 0 .9 0 .8 -.2 .9 .2 .9 -.1 .9 -.1 .8 -.1 .9 0 .9 .1 .9 0 .9 -.2 .8 .1 .9 -.2 .9 .1 .9 -.1 .9 0 .8 0 .9 -.1 .9 0 .9 -.1 .8 0 .9 -.1 .9 .1 .9 0 .9 -.2 .8 0 .9 0 .9 -.1 .9 0 .9 -.3 .8 .2 .9 -.3 .9 .1 .9 -.2 .9 0 .8 -.1 .9 -.2 .9 -.1 .9 0 .8 -.1 .9 -.4 .9 0 .9 -.1 .9 -.1 .8 -.3 .9 -.1 .9 -.4 .9 0 .9 -.4 .8 -.2 .9 -.6 .9 -.5 .9 -.2 .8 -.6 .9 -.7 .9 -.4 .9 -.7 .9 -1.2 .8 -.9 .9 -1 .9 -1.7 .9 -1.2 .9 -1.2 .8 -2.3 .9 -1.8 .9 -2.6 .9 -1.1 .9 -1.3 .8 -1.2 .9 -.1 .9 1.2 .9 .5 .8 1.7 .9 1.3 .9 1.6 .9 2.9 .9 1.7 .8 1.5 .9 1.4 .9 1.2 .9 .9 .9 .8 .8 1.2 .9 .7 .9 .6 .9 .2 .8 .4 .9 .8 .9 .3 .9 .2 .9 .2 .8 .2 .9 .3 .9 .2 .9 .2 .9 .3 .8 -.1 .9 .3 .9 .3 .9 0 .8 .2 .9 0 .9 0 .9 .3 .9 -.1 .8 0 .9 .2 .9 .1 .9 .1 .9 0 .8 .1 .9 0 .9 0 .9 0 .9 0 .8 .2 .9 -.2 .9 .1 .9 0 .8 .2 .9 -.2 .9 .2 .9 -.1 .9 0 .8 .2 .9 0 .9 -.2 .9 .1 .9 .1 .8 0 .9 0 .9 .1 .9 -.1 .8 .1 .9 -.1 .9 0 .9 .1 .9 -.2 .8 .1 .9 -.1 .9 0 .9 0 .9 0 .8 0 .9 0 .9 0 .9 0 .9 0 .8 -.1 .9 0 .9 0 .9 .1 .8 -.2 .9 .1 .9 -.1 .9 0 .9 0 .8 0 .9 0 .9 .1 .9 -.1 .9 0 .8 -.1 .9 -.1 .9 .2 .9 -.1 .8 -.1 .9 -.1 .9 .1 .9 -.1 .9 0 .8 0 .9 -.1 .9 0 .9 .1 .9 -.1 .8 0 .9 0 .9 0 .9 0 .9 -.1 .8 -.1 .9 .1 .9 0 .9 0 .8 -.1 .9 -.2 .9 .1 .9 -.1 .9 0 .8 .2 .9 -.2 .9 0 .9 0 .9 0 .8 -.3 .9 .2 .9 -.1 .9 -.1 .8 0 .9 .1 .9 -.2 .9 0 .9 0 .8 -.1 .9 0 .9 -.1 .9 -.1 .9 .2 .8 -.2 .9 -.1 .9 .1 .9 -.1 .9 0 .8 -.1 .9 0 .9 -.2 .9 0 .8 0 .9 0 .9 -.1 .9 -.1 .9 .1 .8 -.2 .9 0 .9 -.1 .9 .1 .9 -.2 .8 -.2 .9 .1 .9 .1 .9 -.2 .8 -.1 .9 -.1 .9 0 .9 -.1 .9 0 .8 -.1 .9 0 .9 -.1 .9 -.2 .9 .1 .8 -.2 .9 .1 .9 -.1 .9 -.1 .9 -.2 .8 .1 .9 -.3 .9 .2 .9 -.2 .8 -.1 .9 -.1 .9 .1 .9 -.1 .9 -.2 .8 0 .9 -.2 .9 0 .9 -.1 .9 -.2 .8 -.1 .9 0 .9 .2 .9 -.2 .8 0 .9 0 .9 -.2 .9 .3 .9 -.2 .8 0 .9 .1 .9 -.2 .9 .2 .9 -.1 .8 0 .9 .1 .9 0 .9 -.1 .8 -.1 .9 0 .9 0 .9 .1 .9 .2 .8 -.2 .9 0 .9 -.1 .9 0 .9 -.1 .8 .2 .9 -.1 .9 .2 .9 -.1 .9 .1 .8 -.2 .9 .2 .9 -.1 .9 0 .8 -.1 .9 -.1 .9 .1 .9 -.1 .9 0 .8 -.2 .9 .1 .9 -.1 .9 -.2 .9 .4 .8 -.2 .9 -.1 .9 -.1 .9 0 .8 -.1 .9 .1 .9 -.2 .9 .1 .9 -.2 .8 .3 .9 -.2 .9 -.3 .9 .1 .9 0 .8 -.3 .9 .1 .9 -.1 .9 .1 .9 -.2 .8 0 .9 .1 .9 -.2 .9 0 .8 -.2 .9 0 .9 .1 .9 -.1 .9 -.1 .8 -.1 .9 0 .9 0 .9 -.2 .9 0 .8 -.1 .9 0 .9 0 .9 0 .8 -.2 .9 0 .9 -.1 .9 0 .9 0 .8 -.2 .9 .2 .9 -.3 .9 0 .9 -.3 .8 0 .9 0 .9 -.1 .9 -.1 .9 0 .8 -.1 .9 -.1 .9 -.3 .9 .1 .8 .1 .9 -.3 .9 -.2 .9 .2 .9 -.5 .8 .2 .9 -.1 .9 0 .9 -.1 .9 0 .8 -.1 .9 0 .9 -.4 .9 .1 .8 -.3 .9 -.1 .9 0 .9 -.2 .9 -.1 .8 -.1 .9 -.2 .9 -.1 .9 -.1 .9 -.1 .8 -.3 .9 -.3 .9 -.3 .9 -.2 .9 -.2 .8 -.3 .9 -.2"/>
<path d="M125.8 550.9l.8 -.7 .9 -.4 .9 -.1 .9 -.3 .8 -.4 .9 .2 .9 0 .9 -.3 .9 .4 .8 -.1 .9 .1 .9 0 .9 -.2 .9 .1 .8 .2 .9 -.1 .9 0 .9 0 .8 0 .9 0 .9 0 .9 -.2 .9 .1 .8 -.2 .9 .1 .9 .1 .9 -.1 .9 0 .8 0 .9 .1 .9 .1 .9 .2 .8 -.2 .9 .1 .9 .1 .9 -.1 .9 0 .8 .1 .9 0 .9 -.3 .9 .2 .9 0 .8 .2 .9 -.2 .9 -.2 .9 .2 .9 -.1 .8 -.1 .9 .1 .9 -.1 .9 .2 .8 0 .9 .2 .9 -.4 .9 .3 .9 .1 .8 0 .9 .4 .9 .1 .9 .3 .9 .1 .8 .1 .9 .1 .9 .2 .9 .1 .8 .1 .9 0 .9 0 .9 0 .9 0 .8 .1 .9 .1 .9 -.1 .9 .1 .9 -.1 .8 0 .9 0 .9 .1 .9 0 .9 -.2 .8 .2 .9 0 .9 -.1 .9 0 .8 0 .9 .1 .9 0 .9 -.3 .9 .2 .8 0 .9 0 .9 -.1 .9 .1 .9 -.1 .8 0 .9 0 .9 0 .9 0 .8 .1 .9 .1 .9 -.3 .9 .2 .9 -.1 .8 -.2 .9 .2 .9 -.1 .9 0 .9 -.1 .8 .1 .9 0 .9 -.2 .9 .1 .9 .1 .8 -.1 .9 -.1 .9 .1 .9 -.1 .8 -.1 .9 -.1 .9 .2 .9 -.1 .9 .1 .8 -.1 .9 0 .9 -.1 .9 0 .9 0 .8 0 .9 0 .9 -.1 .9 0 .8 -.1 .9 0 .9 -.1 .9 .3 .9 -.2 .8 0 .9 0 .9 -.2 .9 0 .9 .1 .8 -.1 .9 -.1 .9 .1 .9 0 .9 -.1 .8 0 .9 -.1 .9 0 .9 0 .8 .1 .9 0 .9 -.1 .9 .2 .9 -.3 .8 -.1 .9 0 .9 0 .9 -.1 .9 .1 .8 -.2 .9 -.1 .9 .1 .9 0 .8 0 .9 0 .9 0 .9 0 .9 -.2 .8 .3 .9 -.2 .9 -.1 .9 .1 .9 -.1 .8 .1 .9 -.1 .9 -.1 .9 -.1 .8 .1 .9 .1 .9 -.1 .9 -.1 .9 -.1 .8 .3 .9 -.2 .9 .1 .9 -.2 .9 0 .8 0 .9 -.1 .9 0 .9 .1 .9 -.1 .8 -.1 .9 .1 .9 -.1 .9 .1 .8 -.2 .9 .1 .9 0 .9 -.1 .9 0 .8 -.1 .9 -.1 .9 0 .9 -.1 .9 0 .8 .1 .9 -.1 .9 -.1 .9 -.1 .8 .2 .9 0 .9 -.2 .9 .1 .9 0 .8 -.2 .9 .1 .9 .1 .9 -.3 .9 0 .8 -.1 .9 -.1 .9 .1 .9 0 .9 -.1 .8 .1 .9 -.2 .9 -.1 .9 0 .8 -.2 .9 .1 .9 .1 .9 -.2 .9 -.1 .8 .1 .9 0 .9 -.2 .9 -.1 .9 .1 .8 -.1 .9 0 .9 0 .9 -.1 .8 -.1 .9 0 .9 -.1 .9 .1 .9 -.4 .8 .2 .9 -.2 .9 0 .9 -.2 .9 .1 .8 -.2 .9 -.1 .9 -.1 .9 0 .9 -.1 .8 -.2 .9 -.3 .9 .2 .9 -.3 .8 -.1 .9 -.3 .9 -.2 .9 -.1 .9 -.3 .8 -.2 .9 -.2 .9 -.3 .9 -.2 .9 -.5 .8 -.3 .9 -.5 .9 -.7 .9 -.5 .8 -.7 .9 -.8 .9 -.3 .9 -1.4 .9 -1 .8 -1.3 .9 -1.2 .9 -2.1 .9 -2.1 .9 -2.2 .8 -2.2 .9 -2.9 .9 -2.9 .9 -3 .9 -2.3 .8 -1.4 .9 -.9 .9 0 .9 1 .8 2.2 .9 2 .9 3.2 .9 2.8 .9 2.2 .8 2.7 .9 2 .9 2.3 .9 1.1 .9 1.6 .8 1.2 .9 1 .9 1 .9 .9 .8 .3 .9 1 .9 .4 .9 .4 .9 .7 .8 .3 .9 .4 .9 .1 .9 .4 .9 .4 .8 0 .9 .2 .9 .4 .9 -.1 .8 .3 .9 -.1 .9 .2 .9 .4 .9 0 .8 .2 .9 0 .9 .1 .9 0 .9 .1 .8 .2 .9 0 .9 -.1 .9 .1 .9 .1 .8 .1 .9 0 .9 .1 .9 .1 .8 -.1 .9 .1 .9 0 .9 .2 .9 -.2 .8 0 .9 .2 .9 -.2 .9 .1 .9 .1 .8 .1 .9 -.2 .9 .1 .9 0 .8 0 .9 .1 .9 -.2 .9 .2 .9 -.2 .8 .2 .9 -.1 .9 .1 .9 -.3 .9 .2 .8 0 .9 -.1 .9 0 .9 -.2 .9 0 .8 .1 .9 0 .9 .1 .9 -.1 .8 0 .9 0 .9 0 .9 0 .9 -.1 .8 -.1 .9 0 .9 .1 .9 -.1 .9 0 .8 0 .9 0 .9 0 .9 -.2 .8 0 .9 0 .9 0 .9 0 .9 -.2 .8 .1 .9 .1 .9 0 .9 -.2 .9 0 .8 0 .9 -.1 .9 .1 .9 0 .9 0 .8 0 .9 -.1 .9 0 .9 -.1 .8 0 .9 .1 .9 -.2 .9 -.1 .9 .2 .8 -.2 .9 -.1 .9 .1 .9 -.2 .9 0 .8 -.1 .9 0 .9 0 .9 -.1 .8 -.1 .9 0 .9 0 .9 0 .9 -.1 .8 0 .9 -.1 .9 -.1 .9 0 .9 -.1 .8 0 .9 -.2 .9 0 .9 .1 .9 -.2 .8 0 .9 -.1 .9 0 .9 0 .8 0 .9 0 .9 -.3 .9 -.1 .9 .1 .8 -.2 .9 0 .9 -.1 .9 0 .9 -.1 .8 -.1 .9 .1 .9 -.3 .9 0 .8 .1 .9 -.3 .9 0 .9 -.1 .9 -.1 .8 -.1 .9 0 .9 -.1 .9 -.1 .9 -.3 .8 -.1 .9 .1 .9 -.1 .9 -.1 .9 -.1 .8 0 .9 -.1 .9 -.3 .9 0 .8 .1 .9 -.1 .9 -.1 .9 -.2 .9 -.2 .8 0 .9 0 .9 -.2 .9 -.1 .9 -.1 .8 0 .9 -.2 .9 0 .9 0 .8 -.1 .9 .1 .9 -.2 .9 0 .9 .1 .8 -.1 .9 -.1 .9 .3 .9 -.2 .9 -.1 .8 .2 .9 -.1 .9 .1 .9 -.1 .8 .2 .9 -.1 .9 -.1 .9 0 .9 0 .8 0 .9 0 .9 0 .9 0 .9 .2 .8 -.1 .9 -.3 .9 .1 .9 .1 .9 0 .8 0 .9 .1 .9 -.2 .9 .2 .8 -.1 .9 -.2 .9 .3 .9 -.3 .9 .2 .8 -.2 .9 -.1 .9 0 .9 -.1 .9 .1 .8 -.2 .9 .1 .9 -.1 .9 0 .8 -.2 .9 .1 .9 -.2 .9 0 .9 -.1 .8 -.1 .9 0 .9 .1 .9 -.3 .9 .3 .8 -.4 .9 0 .9 .1 .9 -.2 .9 0 .8 -.3 .9 .1 .9 -.2 .9 0 .8 .1 .9 -.1 .9 -.2 .9 0 .9 -.1 .8 0 .9 0 .9 -.1 .9 0 .9 -.1 .8 -.1 .9 -.3 .9 0 .9 0 .8 -.1 .9 -.1 .9 -.1 .9 0 .9 0 .8 -.1 .9 -.2 .9 -.2 .9 .2 .9 0 .8 -.3 .9 -.1 .9 -.1 .9 -.1 .9 0 .8 0 .9 0 .9 -.3 .9 0 .8 -.2 .9 0 .9 -.2 .9 0 .9 -.2 .8 -.1 .9 -.2 .9 -.2 .9 .1 .9 -.1 .8 -.4 .9 .1 .9 -.2 .9 -.1 .8 -.2 .9 -.1 .9 -.1 .9 -.2 .9 0 .8 -.2 .9 -.2 .9 -.2 .9 -.2 .9 -.2 .8 -.2 .9 -.2 .9 -.2 .9 -.5 .9 -.3 .8 -.2 .9 -.4"/>
<path d="M125.8 549.8l.8 -.6 .9 -.5 .9 -.5 .9 -.2 .8 0 .9 -.3 .9 -.2 .9 .3 .9 -.4 .8 0 .9 .3 .9 -.1 .9 0 .9 -.1 .8 0 .9 .3 .9 -.1 .9 -.4 .8 .1 .9 -.1 .9 -.1 .9 -.3 .9 .4 .8 -.4 .9 .2 .9 -.3 .9 -.1 .9 .5 .8 -.3 .9 .2 .9 .1 .9 .1 .8 .3 .9 0 .9 -.2 .9 0 .9 .2 .8 .2 .9 -.6 .9 .2 .9 .1 .9 .2 .8 -.1 .9 -.1 .9 .1 .9 -.4 .9 .2 .8 -.1 .9 .2 .9 0 .9 0 .8 -.1 .9 .2 .9 0 .9 0 .9 .2 .8 0 .9 .5 .9 .4 .9 .2 .9 .1 .8 .5 .9 .1 .9 .3 .9 .1 .8 .1 .9 .1 .9 .1 .9 -.1 .9 0 .8 .1 .9 0 .9 .1 .9 0 .9 0 .8 .1 .9 0 .9 .1 .9 -.1 .9 .1 .8 0 .9 -.1 .9 .1 .9 0 .8 0 .9 0 .9 -.2 .9 .2 .9 -.1 .8 .1 .9 -.1 .9 0 .9 0 .9 0 .8 -.1 .9 -.1 .9 .1 .9 0 .8 0 .9 -.2 .9 0 .9 .1 .9 0 .8 .1 .9 -.1 .9 0 .9 0 .9 0 .8 0 .9 -.2 .9 0 .9 .2 .9 -.2 .8 -.1 .9 .1 .9 -.1 .9 .1 .8 -.2 .9 .1 .9 0 .9 -.1 .9 -.2 .8 .2 .9 0 .9 -.1 .9 -.1 .9 -.1 .8 .2 .9 0 .9 -.1 .9 -.1 .8 -.1 .9 -.1 .9 .2 .9 0 .9 -.1 .8 -.2 .9 0 .9 .1 .9 0 .9 -.2 .8 -.1 .9 -.2 .9 .3 .9 -.2 .9 .2 .8 -.1 .9 0 .9 -.1 .9 0 .8 0 .9 -.1 .9 0 .9 -.2 .9 .1 .8 -.1 .9 -.2 .9 .1 .9 0 .9 0 .8 0 .9 -.1 .9 .1 .9 -.3 .8 0 .9 0 .9 .1 .9 .1 .9 -.2 .8 0 .9 -.1 .9 0 .9 0 .9 -.2 .8 .2 .9 -.2 .9 0 .9 .2 .8 -.2 .9 0 .9 0 .9 .1 .9 -.1 .8 -.2 .9 .1 .9 -.1 .9 .1 .9 -.1 .8 -.1 .9 .1 .9 0 .9 -.2 .9 0 .8 0 .9 -.1 .9 -.1 .9 -.2 .8 .3 .9 -.2 .9 -.2 .9 .2 .9 -.2 .8 .3 .9 -.4 .9 .1 .9 .1 .9 -.2 .8 -.1 .9 -.1 .9 0 .9 .1 .8 0 .9 -.1 .9 -.1 .9 -.1 .9 .1 .8 -.1 .9 -.1 .9 0 .9 -.3 .9 0 .8 .2 .9 -.1 .9 0 .9 0 .9 -.2 .8 0 .9 0 .9 -.1 .9 -.2 .8 0 .9 0 .9 -.2 .9 0 .9 -.1 .8 -.1 .9 .1 .9 -.1 .9 0 .9 -.2 .8 -.1 .9 .1 .9 -.3 .9 .2 .8 -.3 .9 0 .9 0 .9 0 .9 -.2 .8 -.1 .9 0 .9 -.2 .9 .1 .9 -.3 .8 -.1 .9 .1 .9 -.3 .9 0 .9 0 .8 -.4 .9 -.2 .9 -.3 .9 0 .8 -.4 .9 -.2 .9 -.2 .9 -.3 .9 -.2 .8 -.2 .9 -.5 .9 -.4 .9 -.3 .9 -.4 .8 -.4 .9 -.8 .9 -.6 .9 -.5 .8 -1 .9 -1 .9 -.9 .9 -1.4 .9 -1.4 .8 -1.1 .9 -2.1 .9 -2.4 .9 -2.5 .9 -3 .8 -2.2 .9 -4.1 .9 -4.1 .9 -4.2 .9 -4 .8 -2 .9 -2.5 .9 -.6 .9 -.4 .8 3 .9 1.7 .9 3.8 .9 4.1 .9 4.8 .8 3 .9 2.8 .9 3.5 .9 2.2 .9 2.2 .8 1.7 .9 1.7 .9 1.5 .9 1.3 .8 1 .9 1 .9 .7 .9 .8 .9 .5 .8 .9 .9 .1 .9 .7 .9 .2 .9 .5 .8 .3 .9 .2 .9 .5 .9 .2 .8 .2 .9 .2 .9 .4 .9 0 .9 .2 .8 .2 .9 .1 .9 .2 .9 -.2 .9 .2 .8 0 .9 .3 .9 .1 .9 0 .9 .2 .8 -.1 .9 .2 .9 0 .9 0 .8 .1 .9 -.1 .9 .1 .9 .2 .9 -.1 .8 .2 .9 -.1 .9 .1 .9 0 .9 -.1 .8 .2 .9 0 .9 0 .9 0 .8 -.1 .9 .2 .9 0 .9 -.2 .9 .2 .8 -.1 .9 -.2 .9 .1 .9 0 .9 0 .8 0 .9 0 .9 -.1 .9 -.1 .9 0 .8 .1 .9 0 .9 -.1 .9 .1 .8 -.1 .9 0 .9 0 .9 0 .9 -.2 .8 .2 .9 -.1 .9 -.1 .9 0 .9 0 .8 -.2 .9 .1 .9 0 .9 -.1 .8 0 .9 0 .9 -.2 .9 .1 .9 0 .8 -.2 .9 .2 .9 -.2 .9 0 .9 .1 .8 -.2 .9 .1 .9 -.2 .9 .1 .9 -.1 .8 -.1 .9 0 .9 .1 .9 -.1 .8 0 .9 0 .9 -.1 .9 -.1 .9 -.1 .8 .2 .9 -.2 .9 -.1 .9 0 .9 0 .8 -.2 .9 .1 .9 -.2 .9 -.1 .8 .2 .9 -.2 .9 -.1 .9 -.1 .9 .1 .8 -.1 .9 0 .9 -.2 .9 -.1 .9 0 .8 0 .9 -.1 .9 -.1 .9 -.1 .9 0 .8 -.1 .9 0 .9 .1 .9 -.4 .8 -.1 .9 .2 .9 -.2 .9 -.1 .9 -.2 .8 0 .9 -.1 .9 0 .9 -.1 .9 -.1 .8 0 .9 -.2 .9 -.1 .9 -.1 .8 0 .9 -.2 .9 .1 .9 -.2 .9 .1 .8 -.2 .9 -.2 .9 0 .9 -.2 .9 0 .8 -.3 .9 0 .9 -.1 .9 -.1 .9 -.1 .8 -.2 .9 0 .9 0 .9 -.2 .8 -.2 .9 -.1 .9 0 .9 -.2 .9 -.1 .8 -.1 .9 0 .9 -.1 .9 -.3 .9 0 .8 -.1 .9 -.3 .9 .2 .9 -.2 .8 .1 .9 -.1 .9 0 .9 .1 .9 0 .8 -.3 .9 .2 .9 -.1 .9 .1 .9 0 .8 -.1 .9 0 .9 .2 .9 -.2 .8 .2 .9 -.1 .9 -.2 .9 .3 .9 -.2 .8 .2 .9 0 .9 .1 .9 -.1 .9 .2 .8 0 .9 -.1 .9 .2 .9 -.1 .9 -.1 .8 .1 .9 0 .9 0 .9 -.1 .8 0 .9 -.1 .9 0 .9 -.2 .9 .1 .8 .1 .9 -.2 .9 -.1 .9 0 .9 .1 .8 -.3 .9 0 .9 0 .9 0 .8 -.2 .9 0 .9 -.2 .9 .1 .9 0 .8 -.2 .9 .1 .9 -.2 .9 .1 .9 -.2 .8 0 .9 -.1 .9 0 .9 -.1 .9 -.1 .8 0 .9 -.1 .9 -.1 .9 .1 .8 -.2 .9 -.2 .9 0 .9 -.1 .9 -.1 .8 0 .9 0 .9 -.2 .9 -.1 .9 -.1 .8 0 .9 -.1 .9 0 .9 -.2 .8 0 .9 -.1 .9 0 .9 -.1 .9 -.2 .8 0 .9 .1 .9 -.3 .9 .1 .9 -.5 .8 0 .9 0 .9 0 .9 -.1 .9 -.2 .8 -.1 .9 0 .9 -.2 .9 -.2 .8 -.1 .9 .1 .9 -.1 .9 -.3 .9 0 .8 -.2 .9 -.3 .9 -.1 .9 0 .9 -.2 .8 -.2 .9 .1 .9 -.2 .9 -.2 .8 -.1 .9 -.1 .9 -.1 .9 -.2 .9 -.1 .8 -.3 .9 -.1 .9 -.4 .9 -.2 .9 0 .8 -.5 .9 -.2 .9 -.4 .9 -.3 .9 -.3 .8 -.4 .9 -.3"/>
<path d="M125.8 548.5l.8 -.6 .9 -.9 .9 -.6 .9 -.4 .8 -.4 .9 -.2 .9 .1 .9 -.1 .9 -.1 .8 -.2 .9 0 .9 .2 .9 .3 .9 -.9 .8 .2 .9 .1 .9 -.1 .9 .1 .8 0 .9 -.2 .9 -.2 .9 -.1 .9 0 .8 -.4 .9 -.3 .9 .1 .9 -.1 .9 .5 .8 -.4 .9 0 .9 .4 .9 .3 .8 -.3 .9 .3 .9 -.3 .9 .2 .9 -.2 .8 .2 .9 .3 .9 -.2 .9 0 .9 -.2 .8 .2 .9 -.1 .9 -.3 .9 -.1 .9 0 .8 -.1 .9 .1 .9 -.1 .9 .1 .8 .2 .9 .1 .9 .2 .9 -.3 .9 .8 .8 .4 .9 .4 .9 .4 .9 .4 .9 .7 .8 .5 .9 .1 .9 .5 .9 0 .8 .2 .9 0 .9 .1 .9 .2 .9 .2 .8 .1 .9 0 .9 0 .9 .2 .9 -.2 .8 .1 .9 -.1 .9 .2 .9 0 .9 .1 .8 0 .9 .1 .9 -.1 .9 -.1 .8 .1 .9 0 .9 .1 .9 -.2 .9 .1 .8 -.1 .9 0 .9 .1 .9 -.2 .9 .1 .8 -.1 .9 0 .9 .1 .9 0 .8 -.1 .9 0 .9 0 .9 0 .9 .1 .8 -.1 .9 -.1 .9 0 .9 -.2 .9 .3 .8 -.2 .9 .1 .9 -.1 .9 -.1 .9 .1 .8 0 .9 -.2 .9 -.1 .9 0 .8 0 .9 -.3 .9 .2 .9 .1 .9 -.3 .8 0 .9 .1 .9 -.2 .9 .1 .9 -.1 .8 0 .9 .1 .9 -.3 .9 0 .8 .1 .9 0 .9 -.3 .9 .1 .9 -.1 .8 -.1 .9 0 .9 .2 .9 -.3 .9 -.1 .8 0 .9 -.2 .9 .1 .9 -.1 .9 -.1 .8 .2 .9 -.3 .9 -.1 .9 .1 .8 -.2 .9 .1 .9 .2 .9 -.3 .9 0 .8 0 .9 -.1 .9 -.2 .9 .1 .9 .1 .8 -.2 .9 -.1 .9 .2 .9 -.1 .8 -.1 .9 0 .9 -.1 .9 -.2 .9 -.1 .8 0 .9 0 .9 0 .9 -.1 .9 .2 .8 -.2 .9 0 .9 0 .9 0 .8 0 .9 -.1 .9 .1 .9 -.2 .9 0 .8 -.1 .9 0 .9 -.1 .9 .1 .9 -.1 .8 .1 .9 0 .9 0 .9 -.5 .9 .4 .8 -.3 .9 -.2 .9 .2 .9 -.3 .8 -.1 .9 .1 .9 -.2 .9 .1 .9 .1 .8 -.2 .9 .1 .9 0 .9 -.1 .9 -.4 .8 .2 .9 -.1 .9 0 .9 -.1 .8 0 .9 0 .9 0 .9 -.1 .9 -.1 .8 -.2 .9 -.2 .9 0 .9 -.1 .9 0 .8 0 .9 .1 .9 -.2 .9 .1 .9 -.2 .8 -.3 .9 0 .9 -.1 .9 0 .8 .1 .9 -.2 .9 -.1 .9 -.2 .9 -.2 .8 .2 .9 -.1 .9 -.1 .9 -.1 .9 0 .8 -.2 .9 -.1 .9 -.1 .9 .1 .8 -.2 .9 0 .9 -.3 .9 .1 .9 -.2 .8 -.1 .9 -.1 .9 -.1 .9 0 .9 -.5 .8 0 .9 -.2 .9 -.3 .9 0 .9 -.2 .8 -.2 .9 -.3 .9 -.1 .9 -.3 .8 -.2 .9 -.3 .9 -.4 .9 0 .9 -.6 .8 -.3 .9 -.5 .9 -.2 .9 -.9 .9 -.4 .8 -.7 .9 -.7 .9 -.6 .9 -1.1 .8 -.7 .9 -1.3 .9 -1.4 .9 -1.6 .9 -1.7 .8 -2 .9 -2.8 .9 -2.3 .9 -2.6 .9 -3.7 .8 -4 .9 -4.8 .9 -4.9 .9 -5.2 .9 -6.7 .8 -4.4 .9 -3.9 .9 -2.7 .9 -.7 .8 .5 .9 3.7 .9 4.3 .9 7.3 .9 3.9 .8 4.9 .9 4.6 .9 5.1 .9 4.3 .9 2.7 .8 3.2 .9 2.7 .9 1.9 .9 1.5 .8 1.6 .9 1.5 .9 1.5 .9 .5 .9 1.6 .8 .6 .9 1 .9 .2 .9 .7 .9 .5 .8 .6 .9 .5 .9 .3 .9 .6 .8 0 .9 .3 .9 .5 .9 .2 .9 .2 .8 0 .9 .4 .9 .2 .9 .2 .9 .2 .8 .1 .9 0 .9 .2 .9 .1 .9 0 .8 .1 .9 .1 .9 .1 .9 .1 .8 .1 .9 0 .9 .2 .9 -.2 .9 .3 .8 -.2 .9 .2 .9 -.1 .9 .1 .9 .2 .8 -.2 .9 .1 .9 .1 .9 0 .8 -.1 .9 0 .9 .1 .9 .1 .9 -.1 .8 0 .9 -.2 .9 .1 .9 .1 .9 -.2 .8 .1 .9 0 .9 0 .9 .1 .9 -.3 .8 .1 .9 0 .9 .1 .9 -.2 .8 -.1 .9 .1 .9 0 .9 -.1 .9 .1 .8 0 .9 -.1 .9 -.1 .9 0 .9 0 .8 -.1 .9 0 .9 0 .9 -.1 .8 -.1 .9 -.1 .9 0 .9 0 .9 .3 .8 -.3 .9 -.1 .9 0 .9 .1 .9 -.3 .8 0 .9 .1 .9 -.1 .9 0 .9 -.1 .8 -.1 .9 0 .9 .1 .9 -.1 .8 -.1 .9 0 .9 -.2 .9 .1 .9 -.3 .8 0 .9 .1 .9 -.1 .9 -.2 .9 .1 .8 0 .9 -.2 .9 -.2 .9 .2 .8 -.2 .9 0 .9 -.1 .9 0 .9 -.1 .8 -.2 .9 0 .9 0 .9 -.3 .9 .2 .8 -.2 .9 -.1 .9 -.1 .9 0 .9 -.2 .8 .1 .9 -.2 .9 0 .9 -.3 .8 .2 .9 -.3 .9 0 .9 0 .9 -.1 .8 -.1 .9 0 .9 -.1 .9 -.2 .9 .1 .8 -.4 .9 .1 .9 -.2 .9 -.1 .8 -.1 .9 -.1 .9 -.1 .9 -.1 .9 -.2 .8 -.1 .9 -.2 .9 0 .9 -.1 .9 0 .8 -.3 .9 -.1 .9 0 .9 -.3 .9 -.1 .8 0 .9 -.2 .9 -.1 .9 .1 .8 -.3 .9 -.1 .9 -.2 .9 0 .9 -.2 .8 -.1 .9 -.2 .9 -.1 .9 -.2 .9 -.1 .8 -.1 .9 -.1 .9 -.1 .9 0 .8 -.2 .9 .4 .9 -.3 .9 0 .9 -.1 .8 .2 .9 -.1 .9 0 .9 .1 .9 .2 .8 -.2 .9 .1 .9 -.1 .9 .1 .8 -.2 .9 .2 .9 .1 .9 0 .9 .1 .8 -.1 .9 0 .9 .2 .9 -.1 .9 .2 .8 -.1 .9 -.1 .9 .3 .9 -.2 .9 0 .8 .3 .9 -.1 .9 0 .9 -.2 .8 .1 .9 -.1 .9 -.1 .9 0 .9 0 .8 0 .9 -.2 .9 .1 .9 -.3 .9 .1 .8 0 .9 -.2 .9 0 .9 .1 .8 -.2 .9 .1 .9 -.1 .9 -.2 .9 0 .8 -.1 .9 0 .9 -.3 .9 .1 .9 0 .8 0 .9 -.1 .9 -.2 .9 0 .9 -.2 .8 0 .9 -.1 .9 0 .9 -.1 .8 -.1 .9 -.1 .9 -.1 .9 .1 .9 0 .8 -.2 .9 -.2 .9 .2 .9 -.3 .9 -.1 .8 0 .9 -.1 .9 -.3 .9 0 .8 0 .9 -.2 .9 -.1 .9 .1 .9 -.4 .8 .2 .9 -.1 .9 -.1 .9 -.2 .9 0 .8 -.2 .9 -.2 .9 0 .9 -.1 .9 -.2 .8 .1 .9 -.3 .9 0 .9 -.2 .8 -.1 .9 -.1 .9 -.1 .9 -.1 .9 -.1 .8 -.3 .9 0 .9 -.1 .9 -.2 .9 -.1 .8 -.2 .9 -.2 .9 -.1 .9 -.1 .8 -.2 .9 0 .9 -.1 .9 -.4 .9 -.1 .8 -.2 .9 -.2 .9 -.4 .9 -.1 .9 -.4 .8 -.2 .9 -.3 .9 -.3 .9 -.6 .9 -.4 .8 -.5 .9 -.5"/>
<path d="M125.8 546.8l.8 -1.2 .9 -1.2 .9 -.6 .9 -.5 .8 -.4 .9 -.4 .9 -.8 .9 .5 .9 -.8 .8 -.1 .9 .3 .9 -.1 .9 0 .9 -.2 .8 -.3 .9 .1 .9 -.4 .9 -.2 .8 0 .9 -.3 .9 -.2 .9 -.4 .9 .1 .8 -.7 .9 -.2 .9 .1 .9 -1 .9 .9 .8 -.1 .9 -.3 .9 .8 .9 -.1 .8 .4 .9 -.1 .9 -.2 .9 -.1 .9 -.2 .8 .1 .9 0 .9 .2 .9 .3 .9 -.5 .8 .4 .9 -.1 .9 -.6 .9 .1 .9 0 .8 -.2 .9 -.1 .9 .7 .9 -.2 .8 .4 .9 -.2 .9 .5 .9 -.1 .9 .7 .8 .9 .9 .5 .9 1 .9 .6 .9 .7 .8 .7 .9 .9 .9 .3 .9 .2 .8 .4 .9 .1 .9 .5 .9 -.1 .9 .3 .8 0 .9 .1 .9 .1 .9 .2 .9 0 .8 .1 .9 .1 .9 -.1 .9 .1 .9 .2 .8 0 .9 0 .9 -.2 .9 .1 .8 .1 .9 .2 .9 -.2 .9 0 .9 0 .8 0 .9 0 .9 -.2 .9 0 .9 .2 .8 0 .9 -.3 .9 .3 .9 -.2 .8 -.1 .9 .3 .9 -.2 .9 0 .9 -.1 .8 0 .9 -.2 .9 .1 .9 0 .9 -.1 .8 .1 .9 -.1 .9 -.3 .9 .3 .9 -.1 .8 -.1 .9 .1 .9 0 .9 -.4 .8 .2 .9 -.1 .9 0 .9 0 .9 -.1 .8 -.1 .9 -.4 .9 .2 .9 -.1 .9 .2 .8 -.2 .9 .1 .9 -.3 .9 0 .8 0 .9 -.1 .9 0 .9 .1 .9 -.4 .8 .2 .9 -.1 .9 -.1 .9 0 .9 -.2 .8 -.2 .9 0 .9 0 .9 -.1 .9 -.1 .8 .3 .9 -.4 .9 .1 .9 0 .8 -.2 .9 0 .9 -.3 .9 -.1 .9 .4 .8 -.4 .9 -.3 .9 .1 .9 -.2 .9 .2 .8 .1 .9 -.1 .9 -.3 .9 -.1 .8 .2 .9 -.2 .9 -.1 .9 .2 .9 -.2 .8 -.3 .9 -.2 .9 .3 .9 -.3 .9 .2 .8 0 .9 .2 .9 -.5 .9 .1 .8 -.4 .9 .2 .9 0 .9 .2 .9 -.5 .8 .2 .9 -.1 .9 .2 .9 -.4 .9 -.1 .8 .2 .9 -.2 .9 -.1 .9 -.1 .9 0 .8 -.2 .9 .2 .9 -.1 .9 0 .8 .1 .9 -.2 .9 -.3 .9 0 .9 0 .8 -.2 .9 .2 .9 -.2 .9 -.2 .9 -.1 .8 .1 .9 -.3 .9 -.2 .9 .2 .8 -.2 .9 .2 .9 0 .9 -.4 .9 0 .8 -.1 .9 0 .9 -.1 .9 -.3 .9 -.2 .8 .2 .9 0 .9 -.4 .9 0 .9 -.1 .8 -.1 .9 -.3 .9 .1 .9 -.1 .8 .1 .9 -.2 .9 -.1 .9 -.2 .9 -.2 .8 0 .9 -.3 .9 .1 .9 -.1 .9 -.2 .8 0 .9 -.3 .9 -.1 .9 0 .8 -.4 .9 .1 .9 -.2 .9 0 .9 0 .8 -.3 .9 -.2 .9 -.1 .9 -.3 .9 .1 .8 -.3 .9 -.1 .9 -.6 .9 0 .9 -.2 .8 -.2 .9 -.5 .9 -.2 .9 -.4 .8 0 .9 -.8 .9 -.3 .9 -.5 .9 -.5 .8 -.3 .9 -.6 .9 -.8 .9 -.6 .9 -.6 .8 -.9 .9 -.8 .9 -1.3 .9 -1.2 .8 -1.1 .9 -1.9 .9 -1 .9 -2.2 .9 -2.6 .8 -2 .9 -2.7 .9 -4.1 .9 -3.7 .9 -4 .8 -6 .9 -5.3 .9 -6.6 .9 -7.9 .9 -7.7 .8 -7.4 .9 -7.5 .9 -5 .9 -3.7 .8 0 .9 2.5 .9 6.1 .9 7.5 .9 7.7 .8 7.2 .9 6.6 .9 7 .9 6.5 .9 4.7 .8 5.1 .9 3.3 .9 3.7 .9 2.6 .8 2.5 .9 2.4 .9 1.7 .9 1.9 .9 1.3 .8 1 .9 .6 .9 1.6 .9 1 .9 1 .8 .4 .9 1 .9 .5 .9 .3 .8 .7 .9 .1 .9 .5 .9 .5 .9 .4 .8 .4 .9 .3 .9 0 .9 .2 .9 .2 .8 .2 .9 .3 .9 .1 .9 .3 .9 0 .8 0 .9 .1 .9 .3 .9 .1 .8 -.1 .9 0 .9 .5 .9 -.1 .9 0 .8 0 .9 .2 .9 -.1 .9 .2 .9 -.2 .8 .2 .9 .1 .9 .1 .9 -.2 .8 .1 .9 .2 .9 -.1 .9 .1 .9 0 .8 0 .9 0 .9 0 .9 0 .9 -.2 .8 0 .9 .1 .9 0 .9 -.2 .9 .3 .8 0 .9 -.3 .9 0 .9 -.1 .8 .1 .9 .1 .9 -.1 .9 -.2 .9 .1 .8 0 .9 0 .9 0 .9 -.3 .9 .1 .8 .1 .9 -.1 .9 -.1 .9 -.1 .8 .1 .9 -.1 .9 .2 .9 -.2 .9 -.2 .8 -.1 .9 .2 .9 -.1 .9 -.2 .9 .1 .8 0 .9 -.2 .9 0 .9 -.1 .9 -.1 .8 .1 .9 -.1 .9 0 .9 .1 .8 -.1 .9 -.2 .9 .2 .9 -.3 .9 0 .8 0 .9 -.2 .9 0 .9 -.2 .9 .1 .8 -.1 .9 -.1 .9 -.2 .9 0 .8 .1 .9 -.2 .9 0 .9 -.1 .9 -.1 .8 -.3 .9 .3 .9 -.4 .9 0 .9 0 .8 -.1 .9 -.1 .9 -.1 .9 -.2 .9 .2 .8 -.4 .9 .1 .9 -.3 .9 0 .8 -.1 .9 -.1 .9 -.1 .9 0 .9 0 .8 -.3 .9 -.1 .9 -.2 .9 .3 .9 -.3 .8 -.2 .9 .1 .9 -.3 .9 -.3 .8 -.1 .9 .1 .9 -.3 .9 -.1 .9 -.1 .8 -.1 .9 -.1 .9 0 .9 -.2 .9 -.3 .8 -.1 .9 -.3 .9 .1 .9 .1 .9 -.4 .8 -.2 .9 -.1 .9 -.1 .9 -.1 .8 -.3 .9 0 .9 -.2 .9 -.1 .9 -.1 .8 -.4 .9 .3 .9 -.3 .9 -.3 .9 -.1 .8 -.2 .9 0 .9 -.1 .9 -.3 .8 .2 .9 0 .9 .1 .9 0 .9 -.1 .8 0 .9 .1 .9 .1 .9 -.1 .9 .2 .8 -.1 .9 .1 .9 .1 .9 -.1 .8 .1 .9 .1 .9 -.2 .9 .2 .9 0 .8 .2 .9 -.1 .9 .1 .9 0 .9 0 .8 .3 .9 0 .9 .1 .9 .3 .9 -.2 .8 -.1 .9 0 .9 .1 .9 -.2 .8 0 .9 .1 .9 -.2 .9 -.1 .9 .1 .8 .1 .9 -.3 .9 .1 .9 0 .9 -.1 .8 0 .9 -.2 .9 -.1 .9 -.1 .8 0 .9 .1 .9 -.1 .9 -.2 .9 .1 .8 -.4 .9 .2 .9 0 .9 -.2 .9 -.1 .8 0 .9 0 .9 -.2 .9 -.1 .9 0 .8 0 .9 -.1 .9 -.1 .9 -.1 .8 .2 .9 -.2 .9 -.1 .9 -.1 .9 -.2 .8 -.1 .9 -.1 .9 0 .9 -.1 .9 -.2 .8 .1 .9 -.2 .9 -.2 .9 0 .8 .1 .9 -.3 .9 0 .9 -.1 .9 -.2 .8 -.1 .9 0 .9 -.2 .9 -.1 .9 0 .8 -.2 .9 -.1 .9 0 .9 -.2 .9 -.1 .8 0 .9 -.1 .9 -.4 .9 0 .8 -.1 .9 -.1 .9 -.2 .9 -.1 .9 -.2 .8 0 .9 -.3 .9 0 .9 -.3 .9 .1 .8 -.3 .9 -.3 .9 0 .9 -.2 .8 -.2 .9 -.1 .9 -.3 .9 0 .9 -.3 .8 -.2 .9 -.4 .9 -.3 .9 -.1 .9 -.5 .8 -.2 .9 -.3 .9 -.3 .9 -.8 .9 -.3 .8 -.5 .9 -.5"/>
<path d="M125.8 544.6l.8 -2.1 .9 -1.5 .9 -.9 .9 -1.4 .8 -.6 .9 -.4 .9 -.5 .9 -.4 .9 .1 .8 .1 .9 -.2 .9 -.9 .9 0 .9 0 .8 -.1 .9 -.4 .9 -.3 .9 -.2 .8 -.2 .9 -1.4 .9 .1 .9 -.3 .9 -.3 .8 -.6 .9 -1 .9 -.4 .9 0 .9 -.2 .8 0 .9 .3 .9 -.8 .9 .6 .8 -.5 .9 1.2 .9 -.2 .9 -.3 .9 .4 .8 .6 .9 -.1 .9 -.3 .9 -.1 .9 .1 .8 -.5 .9 -.1 .9 .1 .9 -.1 .9 0 .8 -.4 .9 -.2 .9 .3 .9 .1 .8 .5 .9 .7 .9 .4 .9 .1 .9 .9 .8 .7 .9 1.6 .9 1 .9 1.3 .9 1.3 .8 1.4 .9 .8 .9 .8 .9 .8 .8 .2 .9 .4 .9 .5 .9 -.1 .9 .6 .8 .2 .9 .2 .9 .2 .9 0 .9 .2 .8 -.1 .9 .2 .9 .1 .9 .2 .9 .2 .8 0 .9 .1 .9 -.1 .9 .1 .8 -.1 .9 .1 .9 0 .9 .1 .9 0 .8 -.1 .9 0 .9 .2 .9 -.2 .9 -.2 .8 .2 .9 0 .9 .1 .9 0 .8 -.3 .9 .1 .9 0 .9 -.3 .9 -.1 .8 .4 .9 -.3 .9 0 .9 0 .9 -.1 .8 0 .9 -.3 .9 .1 .9 0 .9 -.2 .8 0 .9 0 .9 -.1 .9 -.2 .8 .1 .9 0 .9 0 .9 -.1 .9 0 .8 -.2 .9 -.1 .9 .2 .9 -.3 .9 -.2 .8 0 .9 .1 .9 -.4 .9 .2 .8 0 .9 -.1 .9 -.3 .9 -.2 .9 -.1 .8 .1 .9 .1 .9 -.2 .9 0 .9 -.2 .8 .1 .9 -.3 .9 -.2 .9 0 .9 -.1 .8 .1 .9 0 .9 -.2 .9 -.4 .8 -.1 .9 .2 .9 -.4 .9 .2 .9 -.4 .8 .1 .9 0 .9 -.2 .9 .1 .9 0 .8 0 .9 -.4 .9 0 .9 -.1 .8 0 .9 -.4 .9 .2 .9 0 .9 -.4 .8 -.1 .9 .1 .9 .2 .9 -.2 .9 -.2 .8 0 .9 -.3 .9 .4 .9 -.4 .8 .1 .9 -.3 .9 .1 .9 -.2 .9 .1 .8 .1 .9 -.1 .9 -.2 .9 0 .9 -.4 .8 -.1 .9 .1 .9 .1 .9 -.2 .9 0 .8 -.4 .9 .1 .9 -.1 .9 0 .8 .1 .9 -.2 .9 -.1 .9 -.2 .9 -.1 .8 0 .9 -.1 .9 -.4 .9 .3 .9 -.1 .8 -.2 .9 -.1 .9 -.1 .9 -.2 .8 -.3 .9 .4 .9 -.4 .9 -.1 .9 -.1 .8 -.1 .9 -.1 .9 -.3 .9 .1 .9 -.2 .8 -.1 .9 -.2 .9 -.1 .9 -.3 .9 0 .8 -.1 .9 -.1 .9 -.1 .9 -.1 .8 -.1 .9 -.3 .9 -.1 .9 -.1 .9 -.3 .8 -.1 .9 .1 .9 -.6 .9 .1 .9 -.1 .8 -.3 .9 -.1 .9 0 .9 -.5 .8 .2 .9 -.3 .9 -.3 .9 .1 .9 -.3 .8 -.2 .9 -.5 .9 .2 .9 -.3 .9 -.3 .8 -.2 .9 -.1 .9 -.5 .9 -.2 .9 -.4 .8 -.4 .9 -.3 .9 -.3 .9 -.4 .8 -.2 .9 -.6 .9 -.6 .9 -.4 .9 -.7 .8 -.5 .9 -1 .9 -.9 .9 -.4 .9 -1 .8 -1 .9 -1.3 .9 -1.1 .9 -1.4 .8 -1.5 .9 -1.8 .9 -1.8 .9 -2.6 .9 -2.3 .8 -3.3 .9 -3.4 .9 -4.2 .9 -4.3 .9 -5.8 .8 -5.6 .9 -7.8 .9 -8.1 .9 -9.6 .9 -10.4 .8 -11.7 .9 -9.2 .9 -11.8 .9 -6.5 .8 -6.5 .9 2.3 .9 3.4 .9 8.2 .9 7.7 .8 13 .9 10.2 .9 10.7 .9 10 .9 7.7 .8 6.8 .9 6.6 .9 5 .9 5 .8 3.9 .9 3.5 .9 2.8 .9 2.2 .9 2.6 .8 2 .9 1.9 .9 1.6 .9 .9 .9 1.7 .8 1.1 .9 .8 .9 .9 .9 .4 .8 1.4 .9 .3 .9 .5 .9 .8 .9 .4 .8 .3 .9 .3 .9 .7 .9 .4 .9 0 .8 .2 .9 .5 .9 .5 .9 -.2 .9 .4 .8 0 .9 .3 .9 .2 .9 .2 .8 -.1 .9 .1 .9 .6 .9 -.1 .9 -.2 .8 .3 .9 .3 .9 -.1 .9 .1 .9 0 .8 .1 .9 .1 .9 .1 .9 -.1 .8 .2 .9 -.1 .9 0 .9 -.1 .9 .1 .8 0 .9 0 .9 0 .9 -.1 .9 0 .8 -.1 .9 0 .9 .2 .9 0 .9 -.2 .8 0 .9 0 .9 .2 .9 0 .8 -.3 .9 -.1 .9 0 .9 .2 .9 -.3 .8 .1 .9 -.1 .9 -.1 .9 .1 .9 -.1 .8 .2 .9 -.2 .9 0 .9 -.3 .8 0 .9 -.1 .9 0 .9 .1 .9 -.2 .8 0 .9 -.1 .9 -.1 .9 .1 .9 -.2 .8 0 .9 0 .9 -.2 .9 -.2 .9 .2 .8 -.1 .9 .2 .9 -.3 .9 -.1 .8 .2 .9 -.4 .9 -.1 .9 .1 .9 -.1 .8 0 .9 -.2 .9 .1 .9 -.2 .9 -.3 .8 .1 .9 -.1 .9 0 .9 0 .8 -.2 .9 -.1 .9 0 .9 -.2 .9 -.2 .8 0 .9 .1 .9 -.1 .9 0 .9 -.4 .8 -.1 .9 -.1 .9 .1 .9 -.1 .9 -.2 .8 -.1 .9 0 .9 -.2 .9 -.2 .8 0 .9 0 .9 0 .9 -.3 .9 -.1 .8 -.1 .9 -.1 .9 -.1 .9 -.3 .9 0 .8 -.1 .9 -.1 .9 -.1 .9 -.2 .8 -.1 .9 -.1 .9 -.2 .9 -.3 .9 -.1 .8 -.2 .9 0 .9 -.2 .9 0 .9 -.3 .8 -.3 .9 -.1 .9 -.2 .9 -.1 .9 -.1 .8 -.1 .9 -.2 .9 -.2 .9 -.2 .8 -.1 .9 -.1 .9 -.1 .9 -.2 .9 -.1 .8 -.4 .9 .1 .9 -.3 .9 -.5 .9 .2 .8 -.1 .9 -.2 .9 -.2 .9 .1 .8 -.1 .9 0 .9 .1 .9 -.3 .9 .4 .8 .1 .9 0 .9 0 .9 .1 .9 0 .8 .1 .9 .2 .9 -.1 .9 .1 .8 .1 .9 .2 .9 0 .9 .1 .9 0 .8 .3 .9 -.1 .9 .1 .9 .2 .9 0 .8 .1 .9 0 .9 .3 .9 -.1 .9 .2 .8 -.1 .9 -.1 .9 .2 .9 -.1 .8 .1 .9 -.3 .9 .1 .9 -.1 .9 .2 .8 -.1 .9 -.2 .9 0 .9 0 .9 -.1 .8 .1 .9 -.3 .9 0 .9 -.1 .8 .1 .9 -.2 .9 .1 .9 -.3 .9 0 .8 -.1 .9 0 .9 -.1 .9 .2 .9 -.3 .8 0 .9 -.1 .9 0 .9 0 .9 -.2 .8 -.1 .9 -.2 .9 .1 .9 0 .8 -.3 .9 .1 .9 -.3 .9 .1 .9 0 .8 -.3 .9 -.1 .9 .2 .9 -.4 .9 .1 .8 -.3 .9 .1 .9 0 .9 -.3 .8 -.1 .9 -.2 .9 -.1 .9 0 .9 0 .8 -.1 .9 -.1 .9 -.1 .9 -.1 .9 .1 .8 -.4 .9 -.1 .9 -.3 .9 0 .9 0 .8 -.2 .9 0 .9 -.2 .9 0 .8 -.4 .9 -.1 .9 0 .9 -.2 .9 -.3 .8 -.1 .9 -.1 .9 -.1 .9 -.2 .9 -.2 .8 -.2 .9 0 .9 -.2 .9 -.4 .8 0 .9 -.3 .9 -.2 .9 -.2 .9 -.3 .8 -.2 .9 -.3 .9 -.1 .9 -.3 .9 -.5 .8 -.5 .9 -.4 .9 -.6 .9 -.3 .9 -.5 .8 -.6 .9 -.5"/>
<path d="M125.8 540.8l.8 -2.5 .9 -2.8 .9 -1.3 .9 -1.8 .8 -.7 .9 -.7 .9 -1.4 .9 .2 .9 -.2 .8 -.6 .9 -.5 .9 -1.2 .9 .3 .9 -.6 .8 .2 .9 -1 .9 -.7 .9 -1 .8 .3 .9 -1.3 .9 -.9 .9 -.4 .9 -1.4 .8 -.8 .9 .1 .9 -2.2 .9 -.6 .9 .1 .8 .1 .9 -1.5 .9 .7 .9 -.2 .8 0 .9 1 .9 -.6 .9 .6 .9 0 .8 .2 .9 .1 .9 -.4 .9 .4 .9 0 .8 -.1 .9 -.5 .9 .4 .9 -.4 .9 -.5 .8 .1 .9 -.4 .9 .4 .9 -1 .8 .7 .9 1.1 .9 1.3 .9 .2 .9 2.4 .8 1.9 .9 1.8 .9 2.1 .9 1.9 .9 2.5 .8 1.1 .9 2.3 .9 1 .9 1.5 .8 .2 .9 1.1 .9 .5 .9 .3 .9 .3 .8 .8 .9 .2 .9 .5 .9 0 .9 .3 .8 .2 .9 .2 .9 .1 .9 .3 .9 -.1 .8 0 .9 .6 .9 -.1 .9 .1 .8 -.1 .9 .3 .9 -.1 .9 .1 .9 -.2 .8 .1 .9 .1 .9 -.1 .9 .1 .9 .2 .8 -.3 .9 0 .9 0 .9 -.1 .8 -.1 .9 .3 .9 -.1 .9 -.4 .9 0 .8 .2 .9 0 .9 -.1 .9 -.1 .9 0 .8 -.3 .9 .1 .9 -.1 .9 -.4 .9 .2 .8 -.2 .9 -.2 .9 -.1 .9 .1 .8 -.2 .9 .1 .9 -.5 .9 .1 .9 .1 .8 -.2 .9 -.2 .9 -.1 .9 -.3 .9 0 .8 .2 .9 -.2 .9 .1 .9 -.4 .8 -.1 .9 -.5 .9 .3 .9 .2 .9 -.3 .8 -.3 .9 .1 .9 -.1 .9 -.2 .9 -.3 .8 0 .9 0 .9 -.4 .9 .1 .9 -.1 .8 0 .9 -.2 .9 -.4 .9 .3 .8 -.4 .9 -.2 .9 0 .9 -.2 .9 .1 .8 -.5 .9 -.1 .9 0 .9 .3 .9 -.3 .8 -.5 .9 -.2 .9 .1 .9 -.2 .8 .2 .9 -.2 .9 -.1 .9 -.2 .9 .2 .8 -.5 .9 -.2 .9 .4 .9 -.1 .9 -.4 .8 .1 .9 .2 .9 -.6 .9 0 .8 0 .9 -.5 .9 .2 .9 .1 .9 -.2 .8 .1 .9 -.2 .9 -.3 .9 .1 .9 -.1 .8 -.4 .9 0 .9 -.1 .9 -.1 .9 -.1 .8 -.3 .9 .2 .9 -.4 .9 .3 .8 -.3 .9 .1 .9 -.3 .9 -.2 .9 -.3 .8 .2 .9 -.2 .9 -.1 .9 -.1 .9 -.1 .8 -.3 .9 .2 .9 -.4 .9 -.2 .8 0 .9 -.1 .9 -.1 .9 -.6 .9 .3 .8 -.6 .9 0 .9 0 .9 -.1 .9 -.5 .8 -.2 .9 .2 .9 -.3 .9 -.4 .9 0 .8 -.5 .9 .2 .9 -.3 .9 0 .8 -.6 .9 .2 .9 0 .9 -.5 .9 -.2 .8 -.5 .9 .1 .9 -.2 .9 -.3 .9 -.3 .8 0 .9 -.3 .9 -.1 .9 -.1 .8 -.3 .9 -.2 .9 -.1 .9 -.5 .9 .1 .8 -.6 .9 -.2 .9 -.2 .9 -.2 .9 -.3 .8 -.4 .9 -.4 .9 -.3 .9 -.5 .9 -.2 .8 -.5 .9 -.2 .9 -.8 .9 -.4 .8 -.5 .9 -.9 .9 -.6 .9 -.1 .9 -1.2 .8 -.6 .9 -1.3 .9 -1.3 .9 -.5 .9 -1.3 .8 -1.3 .9 -1.6 .9 -1.7 .9 -1.9 .8 -1.6 .9 -2.8 .9 -2.1 .9 -3.2 .9 -3.6 .8 -3.8 .9 -4.1 .9 -5.3 .9 -6.2 .9 -7.3 .8 -8.8 .9 -8.8 .9 -12.1 .9 -13.2 .9 -14.8 .8 -16.1 .9 -17.5 .9 -15.4 .9 -13.8 .8 -8.6 .9 -3.6 .9 7.5 .9 7.5 .9 15.6 .8 16.3 .9 17.1 .9 16.1 .9 13.4 .9 12.6 .8 10.3 .9 10.1 .9 6.8 .9 7.2 .8 6 .9 5.1 .9 4.3 .9 3.8 .9 3.1 .8 2.6 .9 2.6 .9 2.4 .9 1.7 .9 1.8 .8 1.4 .9 1 .9 1.5 .9 1.3 .8 1.2 .9 .9 .9 .8 .9 .4 .9 .9 .8 .5 .9 .7 .9 .4 .9 .3 .9 .7 .8 .4 .9 .4 .9 .1 .9 .6 .9 .3 .8 .3 .9 .2 .9 0 .9 -.1 .8 .7 .9 -.1 .9 .3 .9 .3 .9 .1 .8 .1 .9 .2 .9 -.2 .9 .6 .9 -.2 .8 .1 .9 .2 .9 0 .9 -.1 .8 .2 .9 0 .9 0 .9 .4 .9 -.5 .8 0 .9 .1 .9 0 .9 .3 .9 -.1 .8 0 .9 0 .9 -.2 .9 .2 .9 -.1 .8 .2 .9 -.3 .9 0 .9 0 .8 0 .9 -.4 .9 .4 .9 -.1 .9 -.1 .8 -.2 .9 -.2 .9 .2 .9 .1 .9 -.1 .8 -.2 .9 .1 .9 -.3 .9 0 .8 .1 .9 -.2 .9 0 .9 -.2 .9 .3 .8 -.4 .9 .2 .9 -.1 .9 -.1 .9 -.1 .8 .1 .9 0 .9 -.2 .9 -.3 .9 -.2 .8 .1 .9 -.1 .9 .1 .9 -.1 .8 -.1 .9 .1 .9 -.1 .9 -.2 .9 0 .8 0 .9 -.3 .9 0 .9 -.2 .9 0 .8 0 .9 -.1 .9 -.1 .9 0 .8 -.1 .9 -.3 .9 0 .9 -.2 .9 .2 .8 -.2 .9 -.1 .9 -.2 .9 0 .9 -.1 .8 -.2 .9 -.1 .9 .1 .9 -.4 .9 -.1 .8 .1 .9 -.3 .9 .1 .9 -.3 .8 0 .9 0 .9 -.2 .9 -.1 .9 -.2 .8 -.1 .9 -.1 .9 -.1 .9 .2 .9 -.5 .8 .1 .9 -.4 .9 -.3 .9 0 .8 -.1 .9 -.2 .9 -.1 .9 -.2 .9 -.1 .8 -.2 .9 -.4 .9 0 .9 -.3 .9 0 .8 -.3 .9 -.1 .9 -.3 .9 -.2 .9 -.1 .8 -.1 .9 -.1 .9 -.5 .9 .1 .8 -.2 .9 -.3 .9 -.2 .9 -.1 .9 -.1 .8 -.5 .9 0 .9 -.2 .9 -.1 .9 0 .8 -.1 .9 -.3 .9 -.1 .9 0 .8 .1 .9 .1 .9 -.1 .9 .2 .9 -.2 .8 .1 .9 -.1 .9 .3 .9 .2 .9 .1 .8 .4 .9 -.2 .9 0 .9 0 .8 .2 .9 .1 .9 .2 .9 .1 .9 0 .8 .4 .9 .1 .9 .2 .9 -.1 .9 .1 .8 .2 .9 .3 .9 0 .9 .1 .9 .1 .8 .1 .9 0 .9 .1 .9 -.1 .8 0 .9 .1 .9 -.1 .9 0 .9 -.1 .8 0 .9 0 .9 0 .9 0 .9 -.2 .8 .1 .9 -.2 .9 0 .9 .1 .8 -.1 .9 -.1 .9 -.1 .9 0 .9 -.2 .8 0 .9 -.1 .9 0 .9 -.1 .9 0 .8 -.1 .9 -.2 .9 0 .9 0 .9 0 .8 -.2 .9 -.1 .9 0 .9 0 .8 -.2 .9 -.3 .9 .2 .9 -.1 .9 -.1 .8 .1 .9 -.3 .9 0 .9 -.3 .9 .1 .8 -.1 .9 -.1 .9 -.1 .9 -.1 .8 -.1 .9 0 .9 -.2 .9 -.2 .9 -.2 .8 0 .9 0 .9 -.2 .9 -.1 .9 -.2 .8 -.1 .9 0 .9 -.2 .9 -.1 .9 -.1 .8 -.1 .9 -.1 .9 0 .9 -.3 .8 0 .9 -.3 .9 -.2 .9 0 .9 -.4 .8 -.1 .9 -.1 .9 -.3 .9 -.2 .9 .1 .8 -.4 .9 -.1 .9 -.2 .9 -.2 .8 -.1 .9 -.2 .9 -.2 .9 -.3 .9 -.3 .8 -.2 .9 -.3 .9 -.4 .9 -.3 .9 -.5 .8 -.2 .9 -.6 .9 -.6 .9 -.6 .9 -.6 .8 -.7 .9 -.6"/>
<path d="M125.8 534.0l.8 -4.3 .9 -3.8 .9 -3.1 .9 -2 .8 -2 .9 -1.8 .9 -1.6 .9 -.3 .9 -1.1 .8 -1 .9 -1.4 .9 -.2 .9 -1.5 .9 .2 .8 -1.3 .9 -1.1 .9 -1.7 .9 -1.4 .8 -.2 .9 -1.9 .9 -2.6 .9 -1.6 .9 -1.5 .8 -3.4 .9 -1.5 .9 -1.9 .9 -.8 .9 -2.1 .8 0 .9 -1.6 .9 1.1 .9 0 .8 -.7 .9 .7 .9 -.9 .9 .3 .9 1.1 .8 -.4 .9 .6 .9 -.7 .9 1 .9 -.3 .8 -1.4 .9 -1.1 .9 -.3 .9 1 .9 -.6 .8 -1.4 .9 1 .9 .8 .9 -.2 .8 .5 .9 2.4 .9 2.7 .9 2.5 .9 1.8 .8 4.5 .9 3.4 .9 3.8 .9 4.1 .9 4.3 .8 3 .9 3.4 .9 2.4 .9 2.2 .8 .9 .9 1.6 .9 1.3 .9 .8 .9 .8 .8 .6 .9 1.1 .9 .5 .9 .4 .9 0 .8 .7 .9 .5 .9 .2 .9 .1 .9 .7 .8 .2 .9 0 .9 .3 .9 .2 .8 .3 .9 -.3 .9 .1 .9 .3 .9 .1 .8 .4 .9 -.3 .9 .2 .9 -.1 .9 0 .8 .2 .9 .1 .9 -.3 .9 .2 .8 -.2 .9 0 .9 -.1 .9 .2 .9 -.6 .8 .1 .9 -.3 .9 -.2 .9 .2 .9 .2 .8 -.3 .9 -.1 .9 -.2 .9 -.3 .9 .2 .8 -.5 .9 .2 .9 -.4 .9 -.1 .8 -.1 .9 -.2 .9 0 .9 -.1 .9 0 .8 -.4 .9 -.5 .9 -.2 .9 0 .9 -.1 .8 .1 .9 -.5 .9 .1 .9 -.2 .8 -.1 .9 -.3 .9 0 .9 -.3 .9 .1 .8 -.4 .9 -.7 .9 .3 .9 -.1 .9 -.3 .8 -.3 .9 .3 .9 -.4 .9 -.4 .9 0 .8 -.2 .9 -.5 .9 .3 .9 -.3 .8 -.1 .9 -.6 .9 .6 .9 -.5 .9 -.2 .8 -.4 .9 -.2 .9 -.3 .9 .4 .9 -.6 .8 0 .9 -.1 .9 -.4 .9 .1 .8 .1 .9 -.5 .9 .1 .9 -.3 .9 -.4 .8 -.1 .9 -.4 .9 .2 .9 .2 .9 -.3 .8 -.1 .9 -.1 .9 -.4 .9 0 .8 .2 .9 -.7 .9 .1 .9 -.3 .9 0 .8 -.3 .9 0 .9 -.3 .9 0 .9 -.2 .8 -.1 .9 .2 .9 -.4 .9 -.2 .9 -.2 .8 .1 .9 -.7 .9 .1 .9 .1 .8 -.1 .9 -.4 .9 -.2 .9 -.1 .9 -.3 .8 0 .9 -.4 .9 0 .9 -.3 .9 -.4 .8 -.4 .9 .4 .9 -.3 .9 -.1 .8 -.5 .9 .1 .9 -.3 .9 -.3 .9 0 .8 -.3 .9 -.3 .9 .1 .9 -.4 .9 -.4 .8 -.3 .9 -.2 .9 0 .9 -.5 .9 -.5 .8 -.2 .9 -.1 .9 -.2 .9 -.5 .8 -.1 .9 -.1 .9 -.4 .9 -.6 .9 0 .8 -.4 .9 -.1 .9 -.4 .9 -.1 .9 -.3 .8 -.6 .9 0 .9 -.1 .9 -.3 .8 -.4 .9 -.4 .9 0 .9 -.1 .9 -.6 .8 -.3 .9 -.4 .9 -.5 .9 -.2 .9 -.5 .8 -.1 .9 -.7 .9 -.7 .9 -.2 .9 -.5 .8 -.5 .9 -.8 .9 -.2 .9 -.8 .8 -.8 .9 -.8 .9 -.6 .9 -1 .9 -.9 .8 -1.1 .9 -1.1 .9 -1 .9 -1.6 .9 -1.6 .8 -1.3 .9 -1.9 .9 -2.3 .9 -1.8 .8 -2.9 .9 -2.5 .9 -3.8 .9 -4 .9 -4.3 .8 -4.3 .9 -6.1 .9 -6.5 .9 -7.9 .9 -10 .8 -10 .9 -14.4 .9 -15.4 .9 -19.8 .9 -21.8 .8 -25.2 .9 -29.4 .9 -30.4 .9 -27.6 .8 -22.4 .9 -10.1 .9 4.2 .9 12.2 .9 25 .8 29.7 .9 29.7 .9 26.9 .9 25.4 .9 21.1 .8 17.4 .9 14.2 .9 13.5 .9 9.4 .8 9.3 .9 7.5 .9 5.6 .9 5.8 .9 4.9 .8 3.7 .9 3.2 .9 3 .9 3 .9 2.2 .8 2.1 .9 2.1 .9 1.5 .9 1.6 .8 1.4 .9 1.2 .9 1 .9 1 .9 1.1 .8 .8 .9 .5 .9 .8 .9 .5 .9 .5 .8 .6 .9 .2 .9 1 .9 .1 .9 .6 .8 0 .9 .3 .9 .8 .9 .1 .8 0 .9 .2 .9 .3 .9 .3 .9 .1 .8 .1 .9 .3 .9 -.1 .9 .6 .9 -.3 .8 .4 .9 -.2 .9 .3 .9 .1 .8 -.1 .9 .3 .9 .1 .9 .1 .9 -.2 .8 0 .9 -.1 .9 .2 .9 -.1 .9 .1 .8 0 .9 -.1 .9 0 .9 .1 .9 0 .8 0 .9 -.1 .9 .1 .9 -.3 .8 .2 .9 -.2 .9 .2 .9 -.2 .9 -.1 .8 .1 .9 -.4 .9 .2 .9 -.2 .9 .1 .8 .1 .9 -.1 .9 -.1 .9 0 .8 -.1 .9 0 .9 .2 .9 -.3 .9 .2 .8 -.4 .9 .1 .9 -.1 .9 -.1 .9 -.2 .8 .2 .9 0 .9 -.2 .9 0 .9 -.2 .8 -.4 .9 .3 .9 -.3 .9 .2 .8 -.3 .9 0 .9 -.1 .9 -.1 .9 -.3 .8 .1 .9 0 .9 0 .9 -.2 .9 0 .8 -.2 .9 0 .9 -.3 .9 .4 .8 -.3 .9 -.3 .9 .1 .9 0 .9 -.2 .8 0 .9 -.2 .9 -.4 .9 0 .9 .2 .8 -.1 .9 -.2 .9 -.3 .9 .1 .9 -.1 .8 -.3 .9 -.1 .9 0 .9 0 .8 -.1 .9 -.2 .9 .1 .9 -.5 .9 0 .8 -.2 .9 -.3 .9 -.1 .9 .1 .9 -.3 .8 -.2 .9 .1 .9 -.2 .9 -.2 .8 0 .9 -.6 .9 .3 .9 -.4 .9 -.2 .8 -.2 .9 -.3 .9 -.2 .9 -.1 .9 -.4 .8 .2 .9 -.5 .9 -.1 .9 -.3 .9 -.2 .8 -.1 .9 -.2 .9 -.3 .9 -.2 .8 0 .9 -.5 .9 -.3 .9 .2 .9 -.4 .8 -.4 .9 -.1 .9 -.1 .9 -.2 .9 -.1 .8 -.2 .9 0 .9 -.2 .9 .1 .8 .1 .9 .1 .9 0 .9 .2 .9 .1 .8 0 .9 .2 .9 .2 .9 .2 .9 .2 .8 .1 .9 .2 .9 .1 .9 .3 .8 0 .9 .3 .9 .3 .9 .2 .9 .3 .8 .1 .9 .3 .9 0 .9 .4 .9 .4 .8 0 .9 .4 .9 -.1 .9 .1 .9 .2 .8 .3 .9 .1 .9 -.2 .9 .2 .8 .1 .9 -.1 .9 -.1 .9 .1 .9 .1 .8 -.1 .9 0 .9 .1 .9 0 .9 -.1 .8 0 .9 -.1 .9 -.1 .9 -.2 .8 .2 .9 -.1 .9 0 .9 -.1 .9 -.1 .8 .1 .9 0 .9 0 .9 -.1 .9 -.2 .8 0 .9 0 .9 -.1 .9 -.1 .9 -.1 .8 .1 .9 -.1 .9 .1 .9 -.2 .8 -.3 .9 .3 .9 -.2 .9 -.2 .9 0 .8 0 .9 -.2 .9 0 .9 -.1 .9 0 .8 -.2 .9 0 .9 -.1 .9 -.2 .8 -.1 .9 -.1 .9 0 .9 -.2 .9 -.1 .8 -.1 .9 -.2 .9 .1 .9 -.2 .9 -.2 .8 .1 .9 -.2 .9 -.1 .9 -.2 .9 0 .8 -.2 .9 -.2 .9 -.2 .9 -.2 .8 0 .9 -.2 .9 -.1 .9 -.2 .9 -.1 .8 -.3 .9 -.2 .9 -.1 .9 0 .9 -.3 .8 -.1 .9 -.2 .9 -.4 .9 -.1 .8 -.1 .9 -.4 .9 -.3 .9 -.2 .9 -.2 .8 -.4 .9 -.3 .9 -.4 .9 -.5 .9 -.5 .8 -.5 .9 -.6 .9 -.6 .9 -.5 .9 -.9 .8 -.7 .9 -.8"/>
</g>
<g clip-path="url(#cb)" fill="none" stroke="#000" stroke-width="2.3" stroke-linejoin="round">
<path d="M125.8 953.7l.5 6.2 .5 7.3 .5 19.7 .5 4.7 .5 -36.4 .5 51.9 .5 -102.1 .5 3.6 .5 94.2 .5 -78.2 .5 1.9 .5 1 .5 13.7 .5 -41.2 .5 94.1 .5 -9 .5 -38.4 .5 19.9 .5 48.5 .5 -81.1 .5 -8.6 .5 50.4 .5 -21.9 .5 -19.6 .5 91.7 .5 -30.5 .5 9 .5 -33.3 .5 44.4 .5 2.5 .5 -50.4 .5 -73.1 .5 118 .5 -106.6 .5 31.8 .5 -6.1 .5 -11 .5 65.3 .5 -63.6 .5 102.6 .5 -23.4 .5 -46.8 .5 -18.5 .5 90.3 .5 11.3 .5 -78.9 .6 3.8 .5 -21.7 .5 37.6 .5 44.3 .5 -100.1 .5 16.8 .5 30.6 .5 -86 .5 79.4 .5 -50.8 .5 59.9 .5 93 .5 -47.1 .5 46 .5 -82.7 .5 -54 .5 110.4 .5 -96.4 .5 41.8 .5 -51.2 .5 22.5 .5 56.1 .5 -61.7 .5 24.7 .5 -43.7 .5 -33.6 .5 80.8 .5 -74 .5 74.9 .5 -30.9 .5 15.6 .5 40.2 .5 -36.6 .5 22.3 .5 -37.4 .5 62.4 .5 -7 .5 -71 .5 16.7 .5 .7 .5 .5 .5 -27.2 .5 26.7 .5 -18.7 .5 69.3 .5 -50.8 .6 43.9 .5 21.8 .5 -41.6 .5 -28.4 .5 20.8 .5 -73 .5 50.7 .5 9.6 .5 12.6 .5 51.2 .5 -51.6 .5 3.7 .5 -74.8 .5 106.8 .5 -28.3 .5 24.1 .5 -32.5 .5 64.9 .5 -73.4 .5 17.9 .5 -12.5 .5 -85 .5 101.2 .5 -31.6 .5 22.3 .5 -41.3 .5 -46.4 .5 20.9 .5 57.2 .5 55.4 .5 -64.4 .5 81.4 .5 -28.5 .5 -12.1 .5 22.5 .5 -48.3 .5 19 .5 10.6 .5 -43.4 .5 46.4 .5 -82.7 .5 27.2 .5 40.9 .5 -31.5 .5 38.6 .5 -1.1 .5 -66.5 .6 94.1 .5 -63.4 .5 -62.1 .5 138.1 .5 -150.9 .5 148.7 .5 2.7 .5 -3 .5 -19.3 .5 -20.9 .5 39.5 .5 -52.2 .5 -36.1 .5 56 .5 -28.1 .5 -21.3 .5 -49.1 .5 78.2 .5 -34.2 .5 6.6 .5 19.8 .5 14.6 .5 -26.8 .5 -10.7 .5 62.4 .5 -26.9 .5 -28.8 .5 5.5 .5 -3.5 .5 -48.4 .5 21.5 .5 83 .5 -104.3 .5 88.2 .5 .2 .5 -61.5 .5 49 .5 35 .5 -72.7 .5 10.5 .5 -4.2 .5 57.1 .5 -67.1 .5 51.4 .5 -60.1 .5 81.4 .6 -13.6 .5 19.1 .5 -23.8 .5 -61.8 .5 32 .5 26.5 .5 -73.5 .5 42.4 .5 -19 .5 12 .5 20.3 .5 -10.5 .5 -7.9 .5 -28.1 .5 18.6 .5 -12.5 .5 72.4 .5 8.4 .5 -55.3 .5 1.3 .5 -3.3 .5 45.4 .5 -39.1 .5 39.7 .5 -34.3 .5 2.5 .5 2.7 .5 -14.1 .5 25.3 .5 -12.9 .5 -26.4 .5 -38.7 .5 49.5 .5 -16.4 .5 6 .5 -39.5 .5 -18 .5 103.2 .5 -48.2 .5 12.9 .5 -48.6 .5 115 .5 -28.3 .5 20.5 .5 -97.9 .5 39.6 .5 -7.6 .6 10.3 .5 5.2 .5 -9.4 .5 27.5 .5 29.9 .5 -50.4 .5 9.3 .5 18.5 .5 -4.8 .5 -67.3 .5 71.3 .5 12 .5 -59.2 .5 -30.6 .5 96.2 .5 -10.7 .5 4.8 .5 -39.8 .5 -12.6 .5 -31.2 .5 52.3 .5 3.8 .5 14.2 .5 -63.5 .5 67.5 .5 5 .5 -18.1 .5 -13.7 .5 -9.1 .5 32.6 .5 -83 .5 -10.7 .5 106.1 .5 -36.3 .5 34.9 .5 -21.7 .5 24.4 .5 -19.5 .5 -18.4 .5 -1.3 .5 40.6 .5 14 .5 -7 .5 -81.9 .5 49.3 .5 -12.2 .6 -45.2 .5 79.3 .5 -41.7 .5 37.5 .5 -31.4 .5 51 .5 -27.7 .5 -8.8 .5 -10 .5 37.6 .5 -28.2 .5 -35.5 .5 37.1 .5 -40.2 .5 13.5 .5 12 .5 17 .5 -11.2 .5 34.3 .5 -49.9 .5 12 .5 -37 .5 -34.6 .5 48.7 .5 12.3 .5 13.7 .5 -23.2 .5 -18.7 .5 53.9 .5 23.9 .5 -2.4 .5 -58.7 .5 22.3 .5 -10.8 .5 57.9 .5 -20.5 .5 17.3 .5 -5.5 .5 -10.1 .5 4.8 .5 -75.7 .5 81.9 .5 -8.3 .5 -3.9 .5 -16.2 .5 -25.9 .6 49.4 .5 7.4 .5 -14.7 .5 -22.9 .5 34.4 .5 -56.7 .5 48.1 .5 4.5 .5 -5.9 .5 -85.7 .5 47.2 .5 14.3 .5 30.8 .5 3.9 .5 -4.7 .5 -71.5 .5 8.6 .5 39.5 .5 21.3 .5 8.9 .5 -11.8 .5 -28.8 .5 2 .5 8.7 .5 20.4 .5 -27.9 .5 16.8 .5 -28.5 .5 23.7 .5 -18.4 .5 13.1 .5 21.4 .5 -50 .5 55.2 .5 -37 .5 28.5 .5 .4 .5 -13.8 .5 19 .5 10 .5 -8.7 .5 .6 .5 -12.6 .5 -7.5 .5 9.9 .5 14.8 .5 -22.2 .6 -23.1 .5 43.4 .5 2.3 .5 -44 .5 29.5 .5 -36.2 .5 40.7 .5 10.2 .5 -18 .5 -6.3 .5 1.4 .5 11.4 .5 3.8 .5 -75 .5 76.2 .5 -61.6 .5 63.4 .5 -17.9 .5 -5.4 .5 -14.2 .5 26.8 .5 6.2 .5 -8.5 .5 10.6 .5 10.6 .5 -13.5 .5 -49.2 .5 29.3 .5 -40.1 .5 45.8 .5 18.8 .5 -2.3 .5 -17.5 .5 21.7 .5 -5.6 .5 -1.6 .5 4.9 .5 -2.1 .5 -18.2 .5 17.5 .5 -31 .5 -18.2 .5 42.9 .5 -27.2 .5 3.7 .5 16.5 .6 5.7 .5 -28 .5 19.6 .5 11 .5 .1 .5 -4 .5 -16 .5 3 .5 16.9 .5 -5.1 .5 -1.7 .5 4.2 .5 -.2 .5 7.4 .5 -7.3 .5 -8.3 .2 1.1 .8 8.5 .9 -56.5 .9 52.3 .9 -10.1 .8 7.6 .9 4.3 .9 -10.1 .9 -10 .9 16.3 .8 -6.6 .9 -35.1 .9 44.6 .9 -6.5 .9 -6.1 .8 3.4 .9 9.8 .9 -12.7 .9 1.1 .8 1.5 .9 -10 .9 -10.5 .9 10.5 .9 1.8 .8 1.6 .9 -10.8 .9 8 .9 -8.3 .9 1.6 .8 -1.6 .9 .8 .9 -5.5 .9 -3.9 .8 -2 .9 .7 .9 -7.3 .9 1.2 .9 -4.8 .8 -5.2 .9 1.6 .9 3.4 .9 -3.9 .9 6.8 .8 -1.6 .9 -2.9 .9 4.2 .9 2.8 .9 -1.5 .8 4.3 .9 3.9 .9 1.9 .9 2 .8 -1.9 .9 3.6 .9 6.6 .9 -5.9 .9 1.3 .8 4.1 .9 2.7 .9 -1.5 .9 5.8 .9 -3.3 .8 1.8 .9 -1.7 .9 10 .9 -1.8 .8 -2.8 .9 3.6 .9 -2.4 .9 5.6 .9 -9.8 .8 7.7 .9 -1.6 .9 4 .9 -.8 .9 -3.1 .8 -4.3 .9 -1.4 .9 .9 .9 4.1 .9 .3 .8 3.9 .9 2.2 .9 -4.8 .9 5.6 .8 -6.3 .9 4.9 .9 -11.1 .9 10.1 .9 -1.3 .8 1.4 .9 -4 .9 3.8 .9 -6.8 .9 6.4 .8 -.7 .9 3.3 .9 -6.3 .9 8.6 .8 -6.7 .9 0 .9 8.5 .9 -3.2 .9 .4 .8 -5.7 .9 .5 .9 1.6 .9 -2.9 .9 -5.4 .8 9.6 .9 -5.5 .9 -1 .9 -1.3 .9 7.2 .8 .8 .9 -3.6 .9 .4 .9 -2.2 .8 1.5 .9 4.9 .9 -3.7 .9 -.8 .9 -2.6 .8 1.3 .9 1.6 .9 -5.6 .9 -6.5 .9 6.9 .8 -2.5 .9 -3.2 .9 -8.1 .9 13.9 .8 .2 .9 -2.3 .9 -.4 .9 0 .9 .3 .8 4.1 .9 -3.9 .9 2.6 .9 1 .9 -7.7 .8 4.8 .9 -1.4 .9 -1.2 .9 2.4 .9 -4 .8 -.6 .9 2.6 .9 2.6 .9 .5 .8 -6.8 .9 3.5 .9 -3.5 .9 3.8 .9 2.9 .8 -6.6 .9 2.5 .9 1.2 .9 3.3 .9 -10.3 .8 5.3 .9 6.5 .9 -5.1 .9 -3.6 .8 1.4 .9 3.1 .9 -6.7 .9 1.6 .9 1.3 .8 1.2 .9 2.8 .9 -3.9 .9 -3.3 .9 4.3 .8 -4.1 .9 -1.7 .9 .3 .9 1.3 .8 -.4 .9 -5.6 .9 .8 .9 8 .9 -4.7 .8 -8.1 .9 8.1 .9 -6.2 .9 2.7 .9 -2.1 .8 3.8 .9 -1.2 .9 -3 .9 .9 .9 1.3 .8 -4.3 .9 3.8 .9 -5 .9 5.2 .8 -1 .9 -3.3 .9 .4 .9 -1.8 .9 2.2 .8 -.2 .9 .4 .9 3 .9 -3.5 .9 -4.7 .8 2.6 .9 -.9 .9 -3.3 .9 5.4 .8 -3.8 .9 2.2 .9 -5.4 .9 5 .9 -1.6 .8 .1 .9 -1.4 .9 .5 .9 -6.8 .9 5.2 .8 -.6 .9 2.7 .9 -.3 .9 -2.5 .9 1.3 .8 -5.1 .9 2.6 .9 -.9 .9 -1.5 .8 1.9 .9 .7 .9 -2.1 .9 -2.8 .9 -.5 .8 2.5 .9 -7 .9 2.9 .9 -1.2 .9 -2.7 .8 6.4 .9 -5.8 .9 1.7 .9 -.1 .8 4.7 .9 -3 .9 -1.3 .9 0 .9 -5.4 .8 6 .9 -1.8 .9 1.3 .9 2.6 .9 -2.7 .8 -1.4 .9 -4.6 .9 1.2 .9 4.7 .9 .9 .8 -2.5 .9 1.3 .9 -8.1 .9 4.2 .8 2.2 .9 1.3 .9 1.2 .9 -2.9 .9 6.8 .8 -6 .9 0 .9 -5.5 .9 8.7 .9 -7.5 .8 3.2 .9 -3.1 .9 3.8 .9 -3.2 .8 -1.4 .9 -4.9 .9 8.6 .9 -1.9 .9 -.5 .8 1.3 .9 -2.2 .9 .1 .9 .6 .9 3.3 .8 -5.4 .9 4.3 .9 -3.8 .9 -3.2 .9 5.9 .8 -3.4 .9 -1.1 .9 .4 .9 .9 .8 -1.6 .9 -2 .9 4.3 .9 -2.6 .9 -2.6 .8 3.3 .9 1.3 .9 -5.6 .9 -.1 .9 -.9 .8 2.4 .9 1.4 .9 -6 .9 .5 .8 .9 .9 3.1 .9 -1.9 .9 2.4 .9 .1 .8 -3.2 .9 -.9 .9 -.9 .9 .9 .9 -5.4 .8 7.5 .9 -6.2 .9 4.2 .9 -3.7 .8 4.7 .9 -8.6 .9 1.7 .9 7.8 .9 -8 .8 2.7 .9 -2.3 .9 2 .9 .2 .9 3.1 .8 -2.8 .9 -1.4 .9 4.1 .9 -2.2 .9 -3 .8 -1.4 .9 2.1 .9 -5.3 .9 4.8 .8 -3.4 .9 -2.1 .9 5.3 .9 -5.5 .9 3.1 .8 1.6 .9 -6.9 .9 -.4 .9 4.9 .9 -4 .8 -.1 .9 2.3 .9 -6.2 .9 5.8 .8 1.1 .9 -2.2 .9 0 .9 .4 .9 -.8 .8 2.4 .9 -5.6 .9 4.8 .9 -7.1 .9 .5 .8 2.4 .9 -.5 .9 .1 .9 -2.3"/>
<path d="M125.8 912.6l.5 -7.3 .5 53.2 .5 -12.8 .5 -22.5 .5 49.8 .5 -21.6 .5 22.8 .5 1.9 .5 -29.1 .5 -17.2 .5 -28 .5 39.4 .5 -13.5 .5 46 .5 17.4 .5 -9.4 .5 -29.5 .5 27.2 .5 -77.2 .5 19.7 .5 48.3 .5 -61.4 .5 40.4 .5 -37.5 .5 60.5 .5 -33.9 .5 39.5 .5 -7.4 .5 -43.2 .5 -27.7 .5 65.8 .5 -5.4 .5 35.6 .5 -23.8 .5 -21.5 .5 54.6 .5 -24.3 .5 16.3 .5 -34.3 .5 -24.7 .5 22.5 .5 19.6 .5 21 .5 10.3 .5 -37.8 .5 -54.2 .6 63 .5 -9.1 .5 19.5 .5 15.4 .5 -73.3 .5 14.5 .5 67.9 .5 -8 .5 -83.6 .5 76.6 .5 -27 .5 31.1 .5 -45 .5 41 .5 -10.2 .5 17.4 .5 -106.6 .5 -12.9 .5 77 .5 -19.5 .5 2.2 .5 24.9 .5 3 .5 13.7 .5 -46.5 .5 69 .5 -9.9 .5 -56.9 .5 74.6 .5 -108 .5 68.9 .5 -11.9 .5 -48.2 .5 49.3 .5 -1.7 .5 25.4 .5 -39.1 .5 -5.6 .5 54.5 .5 -53.2 .5 -15 .5 20.2 .5 45.4 .5 -64.8 .5 -19.6 .5 70.4 .6 40.3 .5 -31.1 .5 -22.4 .5 -51.2 .5 1.6 .5 19.5 .5 46 .5 -42.7 .5 20.3 .5 36.3 .5 14.7 .5 -84.7 .5 82.3 .5 -91.9 .5 -36.8 .5 81.9 .5 31.5 .5 -7.6 .5 -.3 .5 -37.6 .5 -23.3 .5 61.8 .5 -6.8 .5 2.7 .5 -59.3 .5 4 .5 64.9 .5 -14.8 .5 -22 .5 57.9 .5 -30.8 .5 -28 .5 53.7 .5 -47.9 .5 -1.6 .5 22.6 .5 -58.4 .5 66.6 .5 -40.6 .5 19.3 .5 -43.7 .5 61.1 .5 -45.3 .5 3.1 .5 -18.4 .5 -17.6 .5 87.2 .6 -36.2 .5 27.8 .5 -57.4 .5 -15 .5 59 .5 -19.7 .5 -41.6 .5 42.9 .5 10.3 .5 39.9 .5 -25.8 .5 -49.5 .5 63.8 .5 -43.2 .5 2.9 .5 5.4 .5 -29.3 .5 56.1 .5 -69.5 .5 51.1 .5 -42.9 .5 52.4 .5 -24.5 .5 16 .5 -70.6 .5 85.3 .5 -8.6 .5 -61.8 .5 16.1 .5 29.8 .5 8.5 .5 21.5 .5 -22.4 .5 -20.5 .5 -33.4 .5 10.9 .5 -12.8 .5 37.9 .5 30.1 .5 -11.9 .5 -58.1 .5 45.6 .5 -44.1 .5 76.4 .5 -12.7 .5 .3 .6 -22.5 .5 28.7 .5 4.5 .5 -24.5 .5 30.9 .5 -20.9 .5 -27.9 .5 33.5 .5 -15.7 .5 14.5 .5 -.2 .5 -28.3 .5 -1.8 .5 -2.6 .5 34.4 .5 -71.2 .5 41.9 .5 28.2 .5 -60.1 .5 61.1 .5 -88 .5 43.5 .5 29.8 .5 4.8 .5 9.1 .5 -.6 .5 -4.6 .5 -57.9 .5 41.1 .5 3.7 .5 -10.7 .5 22.5 .5 13.3 .5 -3.5 .5 -66.6 .5 48.8 .5 -57.7 .5 -6.3 .5 50.5 .5 -20.8 .5 38.2 .5 -1.4 .5 -8.1 .5 4.3 .5 -61.4 .5 59.6 .5 -22.8 .6 16.1 .5 -14.6 .5 -40.5 .5 88.3 .5 -65.5 .5 47.1 .5 -13.5 .5 14.5 .5 -2 .5 17.3 .5 7.4 .5 -108.2 .5 45.4 .5 35 .5 22.7 .5 -52.7 .5 -32.9 .5 49 .5 37.6 .5 -15 .5 -21.3 .5 8.1 .5 -36.8 .5 54.2 .5 -6.1 .5 19.6 .5 -62.7 .5 10.4 .5 26.5 .5 18.8 .5 -51.1 .5 47.4 .5 1.2 .5 6.9 .5 -5.6 .5 -8.1 .5 3 .5 -55.1 .5 17 .5 16.3 .5 11.7 .5 -5.8 .5 20.3 .5 -36.3 .5 30.8 .5 -2.5 .6 -21.4 .5 19.9 .5 7.4 .5 -55 .5 56 .5 -1.6 .5 -3.1 .5 -.1 .5 -14.6 .5 24 .5 -13.5 .5 -55 .5 10.4 .5 12.8 .5 26.2 .5 -10.8 .5 16 .5 10 .5 -29.7 .5 -17.7 .5 22.7 .5 2.1 .5 -16.9 .5 10 .5 -20.1 .5 37.5 .5 11.7 .5 -28.8 .5 -12.8 .5 33.3 .5 -12.3 .5 -12.3 .5 32.5 .5 -86.2 .5 50.4 .5 23.6 .5 11.2 .5 5.9 .5 -90.5 .5 76.4 .5 -19.9 .5 24.4 .5 -6.3 .5 -24.8 .5 33.6 .5 -15.5 .6 7 .5 -16.3 .5 -8.4 .5 21.2 .5 -39.6 .5 46.9 .5 2.1 .5 -14.3 .5 12.5 .5 -24.2 .5 26.7 .5 2.8 .5 1.1 .5 -51.9 .5 18.5 .5 28.7 .5 -17.7 .5 22 .5 -8.3 .5 -45.4 .5 25.2 .5 -48.8 .5 67.5 .5 -36 .5 26.1 .5 .6 .5 4.6 .5 -17.5 .5 -13.3 .5 29.3 .5 -2.3 .5 4.6 .5 -.5 .5 8.8 .5 -24.4 .5 -1.3 .5 14.2 .5 10.3 .5 -3.2 .5 2.2 .5 -.5 .5 5.3 .5 -27.8 .5 8.1 .5 18.9 .5 -3 .5 -33.1 .6 -10.1 .5 19.2 .5 -33 .5 56.1 .5 -12.7 .5 12.2 .5 -59.4 .5 54.4 .5 -8.4 .5 7.1 .5 6.5 .5 -3.8 .5 4.5 .5 -2.3 .5 2.7 .5 -19.4 .5 -16.3 .5 27.8 .5 7.9 .5 -.2 .5 -12.8 .5 11.1 .5 -2.2 .5 -.4 .5 -3.7 .5 1.2 .5 -9.7 .5 15.3 .5 -13.5 .5 7.5 .5 -2.4 .5 6.3 .5 -1.2 .5 -11 .5 13.7 .5 -23.8 .5 15.4 .5 -1.6 .5 3 .5 6.1 .5 -5 .5 -8.4 .5 13.1 .5 -5.6 .5 -1.6 .5 -9.9 .6 8.5 .5 5.1 .5 -34.3 .5 18.7 .5 6.5 .5 2.3 .5 3.8 .5 -3 .5 -31.5 .5 33.1 .5 .4 .5 -.7 .5 1.2 .5 -7.7 .5 6.5 .5 3.1 .2 -8 .8 -9.6 .9 10.7 .9 -2.3 .9 -2.7 .8 2.9 .9 .6 .9 2.5 .9 -4.1 .9 1.7 .8 -7.1 .9 3.6 .9 5.2 .9 -5.4 .9 -1 .8 -.4 .9 2.1 .9 -9.6 .9 .3 .8 2.5 .9 .7 .9 -4.7 .9 .2 .9 -4.8 .8 -3 .9 3.6 .9 -.6 .9 -7.4 .9 -1.4 .8 -.7 .9 -2.9 .9 -.1 .9 -4.7 .8 0 .9 3.4 .9 -10 .9 -2.2 .9 2.7 .8 -2.6 .9 -3.5 .9 -1.9 .9 1.6 .9 1.7 .8 -1.7 .9 2 .9 4.5 .9 0 .9 2.1 .8 -.8 .9 7.5 .9 .8 .9 1 .8 .8 .9 -4.4 .9 8.5 .9 -1.7 .9 2.5 .8 0 .9 .1 .9 4.5 .9 4.8 .9 -2.5 .8 -1.9 .9 -.6 .9 3 .9 -3 .8 5.2 .9 5.7 .9 -2.2 .9 .2 .9 -1.2 .8 .4 .9 4.9 .9 -4.9 .9 5.1 .9 -2.1 .8 -.6 .9 -2.3 .9 3.1 .9 2.6 .9 -.7 .8 -2.8 .9 4.1 .9 2 .9 3.7 .8 -6.8 .9 2.4 .9 -2.5 .9 3 .9 -2 .8 -.4 .9 -3.1 .9 4.4 .9 1.1 .9 -3.4 .8 -2.4 .9 4.1 .9 -3.1 .9 1.3 .8 -2 .9 6.1 .9 -4.7 .9 .7 .9 -1.6 .8 2.6 .9 -2.2 .9 5.5 .9 -6.1 .9 -4.8 .8 4.4 .9 -.4 .9 -3.7 .9 .5 .9 5.4 .8 1.7 .9 -.7 .9 -1.3 .9 -2.4 .8 -2.1 .9 4.2 .9 .5 .9 -5.7 .9 -.7 .8 5.2 .9 -4.1 .9 2.3 .9 .8 .9 -1.2 .8 1.7 .9 2 .9 -.7 .9 -2 .8 -2.9 .9 -.5 .9 -1.4 .9 4.3 .9 -2.3 .8 1.4 .9 .5 .9 -5.2 .9 2.9 .9 -5.7 .8 3.2 .9 2.9 .9 .5 .9 3.1 .9 -9.2 .8 .7 .9 -7.2 .9 3.9 .9 4.7 .8 3.7 .9 1.7 .9 -4 .9 -1.1 .9 3.8 .8 -6.6 .9 -.5 .9 5.1 .9 -2.1 .9 2.1 .8 -5.9 .9 4.7 .9 .8 .9 1.8 .8 -2.5 .9 1.8 .9 -8 .9 .9 .9 4.8 .8 -1.3 .9 -2.5 .9 -.9 .9 3 .9 -7 .8 1.7 .9 -4.2 .9 12.9 .9 -3.6 .8 -7 .9 1.4 .9 .8 .9 2.2 .9 -4.8 .8 2.5 .9 -5.5 .9 .3 .9 0 .9 7.5 .8 -6.3 .9 -4.3 .9 -.5 .9 .4 .9 .6 .8 5.2 .9 -6.6 .9 -1.5 .9 3.8 .8 -.7 .9 1.5 .9 -1.6 .9 1.1 .9 -2.2 .8 1.4 .9 3.4 .9 -2.9 .9 -3.2 .9 .3 .8 -3.9 .9 1 .9 -1.2 .9 3.3 .8 -3.8 .9 4.6 .9 -.3 .9 -4.6 .9 1.4 .8 2 .9 -4.7 .9 -1.8 .9 1.5 .9 -1.9 .8 .7 .9 -.3 .9 4.4 .9 2.6 .9 -4.6 .8 7.7 .9 -7.9 .9 1.2 .9 -3.8 .8 2 .9 -2.4 .9 2.1 .9 -2.1 .9 -5.3 .8 6.7 .9 1.6 .9 -9.2 .9 1.5 .9 2 .8 .7 .9 -2.2 .9 1.7 .9 -3.9 .8 3.2 .9 1 .9 -3.4 .9 3.6 .9 -3.8 .8 4.6 .9 -1.8 .9 -2.1 .9 2.3 .9 -4.9 .8 3 .9 -1 .9 6 .9 -7.1 .9 1.3 .8 5.6 .9 -6.2 .9 -.3 .9 2.8 .8 1 .9 .7 .9 -4 .9 -.1 .9 .6 .8 -6.3 .9 5.6 .9 -.7 .9 4.7 .9 -5.3 .8 -1.9 .9 4.9 .9 -8.6 .9 7.3 .8 -2.2 .9 1.2 .9 -.1 .9 6.7 .9 -10.6 .8 8.3 .9 -9.8 .9 6.4 .9 -1.9 .9 -8.6 .8 9.4 .9 -2.3 .9 2.7 .9 -3.2 .9 -1.9 .8 -3.4 .9 11.4 .9 -7.3 .9 -2.1 .8 -1 .9 4.4 .9 -2.6 .9 -5.2 .9 3.9 .8 -5 .9 9 .9 -1.6 .9 -2.3 .9 2.7 .8 -4.9 .9 4.7 .9 -4.3 .9 4.9 .8 -2 .9 -3.3 .9 -1.2 .9 4.1 .9 1.2 .8 -5.9 .9 4 .9 -4.1 .9 -2.7 .9 1.5 .8 5.8 .9 -7.9 .9 .1 .9 4.5 .8 -.7 .9 -5.4 .9 2.8 .9 -.5 .9 -2.1 .8 1.3 .9 -6.6 .9 3.7 .9 3.1 .9 -.1 .8 .9 .9 -4.5 .9 6.4 .9 -6 .9 3.8 .8 3.2 .9 -8.1 .9 1.2 .9 .2 .8 1.4 .9 -1.1 .9 1.4 .9 -5.8 .9 -.3 .8 3.6 .9 -.4 .9 -1.1 .9 -2 .9 1.6 .8 1.6 .9 -.9 .9 -1.8 .9 .9 .8 .3 .9 -4.8 .9 1.9 .9 -1.7 .9 4.6 .8 -5.1 .9 1.8 .9 .3 .9 .8 .9 -.6 .8 -1 .9 -2.2 .9 .1 .9 -6.4"/>
<path d="M125.8 934.3l.5 11.7 .5 10.2 .5 -42 .5 -30 .5 73.9 .5 -2.4 .5 -.3 .5 5.9 .5 -33.1 .5 32.1 .5 -23.6 .5 6.5 .5 -10.6 .5 31.5 .5 -14 .5 -4.7 .5 -14.7 .5 16.5 .5 17.2 .5 -44.1 .5 -3.8 .5 -2.8 .5 51.1 .5 -21.4 .5 26.9 .5 -14.6 .5 -16.5 .5 37.8 .5 -90.9 .5 36.6 .5 52.2 .5 -5 .5 -5.1 .5 -2.9 .5 16.9 .5 -15.5 .5 21.8 .5 -14.6 .5 -74.4 .5 67.7 .5 9.4 .5 -64.8 .5 46.1 .5 -10.5 .5 30.7 .5 -42.9 .6 38.6 .5 -31.3 .5 8.9 .5 -42.7 .5 23 .5 39.7 .5 20.7 .5 -11.3 .5 5.6 .5 -71.8 .5 65.7 .5 29.4 .5 -51 .5 -10.5 .5 45.9 .5 -49.5 .5 56.6 .5 -38.3 .5 11.8 .5 -15.9 .5 1 .5 30.3 .5 -47.8 .5 42.8 .5 -14.8 .5 -45 .5 69.1 .5 -27.3 .5 -58.8 .5 16.8 .5 67.2 .5 -5 .5 -34.1 .5 37.9 .5 -18.2 .5 34.1 .5 -55.3 .5 54.2 .5 -39 .5 -19.6 .5 41.5 .5 10.4 .5 1.7 .5 3.1 .5 -96.7 .5 102.5 .6 -7.9 .5 -36.6 .5 -.5 .5 -30.6 .5 -12.3 .5 29.2 .5 19.8 .5 9.6 .5 1.3 .5 -47.4 .5 14.8 .5 1.8 .5 47.5 .5 -9.4 .5 .4 .5 .3 .5 -.3 .5 -34.8 .5 -21.3 .5 -33.9 .5 82.7 .5 -7.6 .5 -6.8 .5 3.8 .5 17 .5 -45.4 .5 61.2 .5 -19.2 .5 10.6 .5 -43.6 .5 44.7 .5 -12.7 .5 -13.8 .5 21.2 .5 -28.9 .5 11.2 .5 -73.9 .5 87.6 .5 .5 .5 -37.4 .5 11.1 .5 -9.4 .5 14.7 .5 -32.5 .5 28.6 .5 -36.2 .5 59.9 .6 -28.5 .5 10.4 .5 -17.2 .5 32.7 .5 -37.8 .5 33.9 .5 -40 .5 14.6 .5 31.7 .5 -32.9 .5 33.2 .5 -36.2 .5 27.9 .5 -12.2 .5 -.3 .5 13.5 .5 2 .5 -39.6 .5 30.9 .5 -50.2 .5 41.1 .5 -74.8 .5 66 .5 -53 .5 47.2 .5 8.8 .5 -11.3 .5 19.2 .5 -2.2 .5 -53.3 .5 47.8 .5 12.4 .5 -25 .5 27.1 .5 -12.8 .5 -34 .5 3.5 .5 -25.8 .5 21 .5 21.9 .5 -6.2 .5 6.2 .5 14.5 .5 -72.3 .5 70.3 .5 -50.2 .6 51.8 .5 -38.2 .5 47.9 .5 -16.9 .5 12.3 .5 -55.4 .5 4.8 .5 48.8 .5 -4.9 .5 -23.8 .5 12.6 .5 11.3 .5 -27.1 .5 39.2 .5 -62.4 .5 40.9 .5 26 .5 -8.3 .5 -12.5 .5 -66.1 .5 66.8 .5 16.6 .5 -55.6 .5 37 .5 -.9 .5 -28.4 .5 36.2 .5 -1.7 .5 -34.3 .5 21.5 .5 -20.8 .5 35.1 .5 -54.1 .5 62.4 .5 1 .5 -27.1 .5 14.3 .5 -7.1 .5 3.7 .5 2.1 .5 8.6 .5 -17.8 .5 -30.8 .5 46.1 .5 -66.7 .5 10.8 .5 57.1 .6 -33.1 .5 33.5 .5 -11.6 .5 13 .5 -1.4 .5 4.7 .5 -13.9 .5 8.2 .5 0 .5 .1 .5 -8.3 .5 -54 .5 57 .5 -1.7 .5 7.5 .5 -7.2 .5 -2.1 .5 14.4 .5 -4 .5 -6.2 .5 -9.1 .5 8.8 .5 -15.8 .5 -24.2 .5 11.6 .5 24 .5 15.4 .5 -15.8 .5 -3.8 .5 -22.7 .5 24.1 .5 -60.1 .5 64.5 .5 -20.5 .5 27.3 .5 -3.2 .5 1.5 .5 -14.4 .5 -11.4 .5 31.9 .5 -40.7 .5 -12.5 .5 4.2 .5 12.7 .5 21.8 .5 -10.6 .6 -19.6 .5 37 .5 -22.3 .5 5.2 .5 12.6 .5 -47.7 .5 53.2 .5 1.7 .5 -8.4 .5 5.6 .5 -38.7 .5 44 .5 -4.3 .5 -9.7 .5 -13.5 .5 22 .5 -37.3 .5 37.9 .5 -23.9 .5 22.7 .5 -.5 .5 -45.9 .5 43.5 .5 2.5 .5 -9.1 .5 -40.8 .5 36.7 .5 13.3 .5 -8.5 .5 9.7 .5 -1.5 .5 -.5 .5 -14 .5 13.2 .5 -12.1 .5 -12.5 .5 -8 .5 35.3 .5 -7.2 .5 6.9 .5 -14 .5 5.2 .5 .8 .5 4.5 .5 3.4 .5 -.1 .6 -23.1 .5 20.8 .5 -6 .5 -.5 .5 -17.2 .5 -18.8 .5 39.5 .5 -8.1 .5 16.5 .5 -5.8 .5 -5.5 .5 4 .5 -17.4 .5 14.2 .5 .2 .5 2.5 .5 -.9 .5 -1.1 .5 6.9 .5 -3.7 .5 6.2 .5 -4 .5 -3.1 .5 -6.2 .5 -1.1 .5 4.8 .5 3.8 .5 .2 .5 -14.5 .5 12.2 .5 -5.7 .5 4.7 .5 3.6 .5 -3.7 .5 2.1 .5 -4.3 .5 3.7 .5 -19.5 .5 19.6 .5 3.6 .5 -19.3 .5 5.1 .5 15.1 .5 -9 .5 2.6 .5 -2.8 .5 2.7 .6 -7.8 .5 7 .5 -5.8 .5 1.8 .5 -2.1 .5 -1.3 .5 -3.2 .5 7.2 .5 -18.8 .5 21.9 .5 -4.2 .5 -1.7 .5 7.3 .5 -9.9 .5 12.2 .5 -7.3 .5 -4.1 .5 4.7 .5 4.5 .5 -7.6 .5 2.8 .5 -1 .5 -4.9 .5 8.3 .5 -1.9 .5 -4.2 .5 7.2 .5 -2.7 .5 -1.2 .5 .4 .5 -2 .5 -3.2 .5 -3.6 .5 7.6 .5 -3.4 .5 -1 .5 4.1 .5 1.7 .5 -4.1 .5 -5.4 .5 11 .5 -3.6 .5 -4.1 .5 .4 .5 -.4 .5 1.7 .6 -2.2 .5 2 .5 -1.2 .5 3.5 .5 -10.3 .5 6.4 .5 1.7 .5 -5.8 .5 5.6 .5 -2.3 .5 2 .5 -5.5 .5 4.3 .5 -4.8 .5 -1.9 .5 .9 .2 3 .8 .5 .9 -3.2 .9 1.5 .9 2.4 .8 2.2 .9 -6.9 .9 .8 .9 -4.9 .9 -2.8 .8 7.8 .9 -.2 .9 -7 .9 -.3 .9 1.6 .8 -.6 .9 4 .9 -11.8 .9 6.5 .8 -4.8 .9 -.1 .9 1.9 .9 -6.2 .9 -3.2 .8 2.7 .9 -2.2 .9 -3.1 .9 -2.7 .9 -1.7 .8 2.7 .9 -2.1 .9 -3.2 .9 3.4 .8 -5.9 .9 -5.3 .9 -.9 .9 -1.6 .9 -6.4 .8 -.1 .9 -2.4 .9 1.9 .9 .4 .9 1.5 .8 -2.3 .9 6.6 .9 -.9 .9 -2.1 .9 1.2 .8 4.5 .9 5 .9 -2.5 .9 5.6 .8 .1 .9 4.4 .9 -5.6 .9 2.5 .9 7.8 .8 2.3 .9 -1.6 .9 -.5 .9 -.5 .9 4.5 .8 4.1 .9 -3.1 .9 .9 .9 5.8 .8 -2.8 .9 .7 .9 2.4 .9 -2.7 .9 -1.7 .8 .8 .9 5.4 .9 -.5 .9 -2.9 .9 3.1 .8 .3 .9 -6.4 .9 12.7 .9 -4.7 .9 .8 .8 -1.9 .9 -4.6 .9 5 .9 .6 .8 -1 .9 1.3 .9 -1.9 .9 -5.5 .9 8.6 .8 -1.2 .9 -.3 .9 5.3 .9 -7.1 .9 1.8 .8 4.9 .9 -4.6 .9 -1 .9 2.5 .8 -5.1 .9 4.5 .9 2.2 .9 -6.1 .9 2.4 .8 -1 .9 4.8 .9 -.7 .9 -1.1 .9 -2.3 .8 -.1 .9 -4.2 .9 -.5 .9 3.5 .9 .6 .8 -5.4 .9 4.6 .9 -2.6 .9 4 .8 -1.5 .9 .7 .9 .7 .9 -2.7 .9 3 .8 -2.1 .9 -1.5 .9 -4.6 .9 10.4 .9 -5.4 .8 -1.7 .9 2.5 .9 -3.5 .9 .7 .8 .1 .9 2.3 .9 -.7 .9 -.7 .9 2.3 .8 -3.2 .9 3.1 .9 -.6 .9 1.2 .9 -6.8 .8 4.3 .9 .7 .9 -4.8 .9 3.2 .9 -2.2 .8 1.2 .9 -1.6 .9 .1 .9 6.2 .8 -9.8 .9 1.1 .9 6.2 .9 -6.3 .9 2.8 .8 -1.1 .9 -3.3 .9 .6 .9 -.1 .9 -2.9 .8 2.2 .9 4.2 .9 1.7 .9 -5.8 .8 6.2 .9 -3.4 .9 -.2 .9 .6 .9 -5.7 .8 2.3 .9 1.2 .9 -3.4 .9 3.3 .9 -4.5 .8 -2.6 .9 5.5 .9 -.4 .9 -3.7 .8 7.9 .9 -2.1 .9 -1 .9 1.3 .9 -4.6 .8 -1.1 .9 .3 .9 -.1 .9 -2.8 .9 -.7 .8 -.8 .9 3.4 .9 -.9 .9 -4.1 .9 2.5 .8 -2.7 .9 4.4 .9 -1.4 .9 1.2 .8 -2 .9 -1.5 .9 2 .9 -6.7 .9 8.8 .8 -6.6 .9 4.8 .9 -3.9 .9 2.3 .9 -2.5 .8 -.3 .9 1.9 .9 .8 .9 -1.7 .8 -2.3 .9 -2.5 .9 -2.4 .9 8.4 .9 -6.1 .8 2.1 .9 -1.7 .9 -1.1 .9 -1.7 .9 .7 .8 .8 .9 -4.6 .9 3 .9 .4 .9 -3.3 .8 5.6 .9 -.9 .9 -6.6 .9 4 .8 3.8 .9 -7.2 .9 -1.4 .9 4.8 .9 1 .8 -3.6 .9 -1.5 .9 2.2 .9 .5 .9 -4 .8 -.3 .9 5.3 .9 -1.4 .9 -2.3 .8 .7 .9 -2.3 .9 -.9 .9 -3.6 .9 3.8 .8 -1.6 .9 6.4 .9 -2.3 .9 -4.7 .9 6.5 .8 -7.5 .9 2 .9 1 .9 .6 .9 2.7 .8 -.3 .9 -1.5 .9 -.3 .9 -4.4 .8 5.8 .9 -1.1 .9 2.8 .9 -5 .9 .3 .8 -2.9 .9 -2.3 .9 3.5 .9 3.5 .9 -2.9 .8 -.3 .9 .7 .9 2.5 .9 -3.9 .8 3.9 .9 -3.2 .9 .4 .9 5.8 .9 -8.6 .8 -4.1 .9 6.3 .9 .5 .9 -4.3 .9 5.6 .8 -3.6 .9 -.8 .9 1.9 .9 -1.5 .9 1.8 .8 -.9 .9 -3.5 .9 3.8 .9 -1 .8 .1 .9 -3.3 .9 2.1 .9 1 .9 -3.3 .8 5.9 .9 -.5 .9 -5.9 .9 -4.4 .9 6 .8 -2.4 .9 4.3 .9 -4.2 .9 -.4 .8 -1.2 .9 3.2 .9 -7.3 .9 7.4 .9 -6.7 .8 6.5 .9 -5.1 .9 -1.7 .9 -2.4 .9 5.8 .8 3.8 .9 -6.8 .9 3.8 .9 .7 .8 -1.5 .9 .6 .9 -4.6 .9 1.3 .9 -1.6 .8 -.7 .9 3 .9 -3.1 .9 -1.5 .9 -2 .8 4.2 .9 .9 .9 1.5 .9 -1.7 .9 -1.3 .8 -.9 .9 3.9 .9 -2.7 .9 -.8 .8 .7 .9 -.2 .9 -2.8 .9 3.2 .9 -4.1 .8 3.8 .9 -3.6 .9 3.2 .9 -6.3 .9 .8 .8 -1.8 .9 5.4 .9 .9 .9 -.3 .8 -3.1 .9 -3.7 .9 .6 .9 -.2 .9 4.5 .8 -6.3 .9 .5 .9 2.8 .9 4.6 .9 -4.9 .8 -2.2 .9 -4.7 .9 2.8 .9 .2"/>
<path d="M125.8 904.2l.5 36.2 .5 -9.7 .5 1.3 .5 5.5 .5 .6 .5 -8.1 .5 -2.3 .5 6.1 .5 -2.4 .5 -4 .5 1.6 .5 14.1 .5 -8.5 .5 -8.4 .5 14.7 .5 -35.5 .5 6 .5 25.8 .5 -49.5 .5 55.8 .5 2.2 .5 1.6 .5 -.3 .5 -48.7 .5 46 .5 1.7 .5 -6.4 .5 -29.6 .5 30.3 .5 6.5 .5 -8.4 .5 -19.2 .5 31.5 .5 -38.9 .5 31.2 .5 7.6 .5 -11.2 .5 -42.1 .5 51.2 .5 -30.4 .5 24.1 .5 2.5 .5 7.5 .5 -23.1 .5 7.7 .5 6.1 .6 -4.7 .5 28.9 .5 -1.7 .5 .3 .5 -5.6 .5 1.5 .5 3 .5 -19.5 .5 25.1 .5 -9.8 .5 -29.1 .5 -25.4 .5 47.1 .5 -32.2 .5 -8.2 .5 63.6 .5 -25.4 .5 20.4 .5 -.7 .5 -25 .5 29.4 .5 -32.9 .5 18.8 .5 -.6 .5 -14.6 .5 27.8 .5 3.2 .5 -20.9 .5 18.6 .5 -15.2 .5 12.2 .5 -1.1 .5 5.5 .5 -3.4 .5 -2.3 .5 -1.5 .5 -11 .5 -72 .5 85.1 .5 8 .5 -37.8 .5 36.3 .5 -3.3 .5 -9.9 .5 -5.8 .5 4.1 .6 -8.2 .5 6.9 .5 -38.7 .5 11.1 .5 35.3 .5 -5 .5 10.3 .5 -34.3 .5 22.7 .5 -65.7 .5 74.1 .5 -59.4 .5 55.3 .5 15.2 .5 -12.1 .5 -21.1 .5 -20.1 .5 41.4 .5 -38.4 .5 33.9 .5 .3 .5 -3.3 .5 -59 .5 46.8 .5 -2.8 .5 27.2 .5 -20.6 .5 -7 .5 -35.9 .5 53 .5 4.3 .5 -8 .5 -.6 .5 -19.7 .5 24.4 .5 -38.8 .5 26.2 .5 7.1 .5 -1.2 .5 5.9 .5 -6.7 .5 -35 .5 8.1 .5 30.4 .5 -6.6 .5 -52.1 .5 54.5 .6 -6.1 .5 -10.8 .5 7.3 .5 1.6 .5 6.1 .5 -8.6 .5 17.7 .5 -17.7 .5 1.7 .5 11.8 .5 -17.9 .5 16 .5 -3.3 .5 -.4 .5 -7.9 .5 -9.3 .5 9.4 .5 9.9 .5 -7.4 .5 -18 .5 10.7 .5 11.8 .5 -15.8 .5 9.9 .5 .7 .5 -7.9 .5 -3.3 .5 8.5 .5 8.7 .5 -7.2 .5 -4.3 .5 -20.6 .5 32.3 .5 -8.5 .5 3.6 .5 -3.2 .5 -.6 .5 7 .5 -22.7 .5 18.4 .5 -.2 .5 2.1 .5 -1.3 .5 .6 .5 -7.8 .5 2.2 .6 .3 .5 -8.1 .5 11.3 .5 -11.5 .5 7.3 .5 -5.8 .5 -4.9 .5 16.2 .5 -25.7 .5 9.7 .5 11.8 .5 -47.7 .5 6.9 .5 40.8 .5 3.9 .5 -7.9 .5 -7.2 .5 -8 .5 2.6 .5 15.3 .5 -12.8 .5 2.4 .5 6.3 .5 -4.1 .5 -13.3 .5 22.5 .5 -.3 .5 -.8 .5 -29 .5 13.6 .5 1.4 .5 8.7 .5 1.7 .5 -18.9 .5 20.5 .5 -19.9 .5 17.2 .5 4.4 .5 -10.5 .5 -7 .5 -23.5 .5 39.1 .5 -39.3 .5 44.6 .5 -3.8 .5 2.7 .5 -19.8 .6 -14 .5 27.1 .5 .3 .5 1.9 .5 -5.1 .5 -.3 .5 -2 .5 3.3 .5 5.7 .5 -7.4 .5 -8.6 .5 17.9 .5 -7 .5 -10.9 .5 10.4 .5 -4.8 .5 -28.2 .5 33.3 .5 -18.8 .5 20 .5 -8.5 .5 11.1 .5 6 .5 -6 .5 -57.6 .5 53.9 .5 -5.2 .5 -13.7 .5 12.7 .5 -2.8 .5 13.1 .5 -1.4 .5 -2.8 .5 1.2 .5 -10.6 .5 -4.7 .5 9.9 .5 1 .5 -6 .5 -4.5 .5 11.2 .5 -15.6 .5 0 .5 10 .5 4.5 .5 -3.1 .6 -6.2 .5 -21 .5 28.9 .5 -18.9 .5 21.9 .5 -7.5 .5 .8 .5 4.2 .5 -22.6 .5 23.6 .5 -15 .5 13.1 .5 4.1 .5 -1.3 .5 -5.3 .5 2.2 .5 -1.1 .5 -8 .5 5 .5 6.9 .5 -.2 .5 -5.3 .5 -26.3 .5 33.6 .5 .9 .5 -4.3 .5 -4.5 .5 7.3 .5 -5 .5 -6.1 .5 -4.5 .5 17.3 .5 -14.5 .5 -17.5 .5 20.2 .5 -1.1 .5 7.1 .5 -20.2 .5 -5.3 .5 15.9 .5 6.7 .5 -5.9 .5 -28.9 .5 35.9 .5 -.4 .5 -8.2 .6 8.6 .5 2 .5 .1 .5 -5.9 .5 3.8 .5 -2.6 .5 3.4 .5 1.4 .5 -3.6 .5 -25.3 .5 10.5 .5 15.9 .5 -1.5 .5 -3 .5 5.4 .5 .7 .5 1.5 .5 -16.7 .5 13.9 .5 -10.7 .5 10.4 .5 -9.4 .5 10.2 .5 -1 .5 -.7 .5 .3 .5 -.3 .5 -1.6 .5 -2.2 .5 -.2 .5 3.4 .5 3 .5 -3.7 .5 7.4 .5 -14.6 .5 5.1 .5 4.6 .5 -3.7 .5 2.9 .5 -10.2 .5 10.1 .5 .1 .5 -4.4 .5 1.3 .5 -.5 .5 -6 .5 7.4 .6 -5.5 .5 -.1 .5 5.4 .5 .8 .5 -2.4 .5 -1.1 .5 -3.7 .5 3.7 .5 2.7 .5 -2.8 .5 2.5 .5 4.2 .5 -7 .5 3.5 .5 -2.5 .5 -2.5 .5 1.6 .5 -1 .5 -4.8 .5 .7 .5 -.9 .5 3.4 .5 .4 .5 -4.2 .5 5.8 .5 -4 .5 1.9 .5 -.5 .5 -1.2 .5 .6 .5 -2.6 .5 5.3 .5 -3.7 .5 3.7 .5 -6.4 .5 .6 .5 2 .5 1.8 .5 -2.4 .5 -3.4 .5 8 .5 -1.6 .5 -6 .5 -1.6 .5 7.3 .5 2.6 .6 -6.2 .5 4.6 .5 -5.1 .5 .3 .5 -6.7 .5 9.5 .5 -5.4 .5 4.2 .5 -.3 .5 -3.2 .5 2.4 .5 -7.4 .5 4.8 .5 1.7 .5 -8.6 .5 8.1 .2 -1.6 .8 -.5 .9 1.1 .9 -4.4 .9 -2.4 .8 6.3 .9 -2.5 .9 -.7 .9 2.1 .9 -.8 .8 -3.3 .9 .7 .9 -4.5 .9 -1.6 .9 .8 .8 -1.3 .9 2.6 .9 -1.9 .9 -3.7 .8 -1.6 .9 .6 .9 -3 .9 .8 .9 1.1 .8 -5.5 .9 .4 .9 1.7 .9 -8.6 .9 -.7 .8 -2.9 .9 1.1 .9 -7.4 .9 .4 .8 -3.6 .9 2.1 .9 -3.2 .9 -6.4 .9 1.5 .8 -1.8 .9 -5.3 .9 0 .9 2.1 .9 -4.4 .8 9.7 .9 -2.7 .9 2.7 .9 -3.6 .9 1.7 .8 7.6 .9 .4 .9 .1 .9 3.3 .8 2.7 .9 0 .9 -.6 .9 6.6 .9 4.9 .8 -1.1 .9 1.2 .9 2.3 .9 -1.7 .9 1.1 .8 .5 .9 2.2 .9 1.4 .9 4.2 .8 -.9 .9 2 .9 -2.4 .9 1.8 .9 .3 .8 -.9 .9 2.6 .9 -3.1 .9 .5 .9 5.7 .8 -5.8 .9 4.9 .9 1.4 .9 -.8 .9 2.8 .8 -4 .9 -2.1 .9 7.4 .9 -5 .8 -.1 .9 -.1 .9 .2 .9 .7 .9 2.4 .8 -3.4 .9 1.5 .9 -1.1 .9 1.3 .9 1.6 .8 -.8 .9 -1.5 .9 -1 .9 7.8 .8 -1.7 .9 .9 .9 -2.8 .9 .2 .9 -2.2 .8 1.3 .9 -4.3 .9 5.1 .9 .2 .9 .3 .8 -1.6 .9 -1.1 .9 1.5 .9 1.2 .9 1 .8 -4.1 .9 1.7 .9 1.1 .9 -2 .8 -1.7 .9 -4.6 .9 .9 .9 6.5 .9 -1.3 .8 3.8 .9 -.2 .9 -.3 .9 -7.5 .9 2.5 .8 3.5 .9 -2.2 .9 -.6 .9 .2 .8 -5.7 .9 8.8 .9 -4.1 .9 -2 .9 -.7 .8 6.8 .9 -6.4 .9 3.6 .9 -1.9 .9 2.5 .8 -6.4 .9 -6.3 .9 5.3 .9 3.3 .9 3.6 .8 -7 .9 -1.1 .9 5.9 .9 -5.6 .8 7.1 .9 -1.5 .9 -4 .9 3.8 .9 -5.8 .8 -1.9 .9 3.5 .9 -1.4 .9 -3.1 .9 2.7 .8 -2.3 .9 -.5 .9 6.4 .9 -8.8 .8 2.5 .9 2.6 .9 -2 .9 1 .9 -.1 .8 3 .9 -1.9 .9 -.5 .9 -4.1 .9 1.3 .8 -.1 .9 1.1 .9 -3.9 .9 9.4 .8 -4.4 .9 -5.1 .9 3.2 .9 -3.1 .9 -2.7 .8 1.7 .9 5.7 .9 -3.6 .9 2.1 .9 -4.6 .8 -1.8 .9 3 .9 -2.2 .9 1.5 .9 -5.9 .8 4.4 .9 -.6 .9 -1.2 .9 -1.6 .8 .6 .9 1.6 .9 -.6 .9 -1.5 .9 -.5 .8 2.2 .9 .2 .9 -1.3 .9 -2.1 .9 2 .8 1.3 .9 -2.3 .9 .1 .9 -3.3 .8 2.6 .9 -.6 .9 -6.4 .9 3.4 .9 3.3 .8 -6 .9 3.8 .9 .8 .9 -4.2 .9 4.9 .8 -3.8 .9 -1.9 .9 -.8 .9 2.8 .9 -.4 .8 -1.4 .9 -3.6 .9 7.1 .9 -6.8 .8 .9 .9 -3 .9 5.8 .9 -5.9 .9 4.5 .8 -3.2 .9 1.3 .9 4.7 .9 -6.1 .9 -1.4 .8 -1.3 .9 3.3 .9 1 .9 -4.5 .8 2.3 .9 -3.4 .9 -1 .9 3.8 .9 -.2 .8 1.2 .9 2.9 .9 -4.8 .9 -1.8 .9 -.9 .8 2.5 .9 -4.4 .9 5.3 .9 -1.2 .9 1.1 .8 -.3 .9 -.4 .9 .9 .9 -.7 .8 -1.6 .9 .3 .9 2.5 .9 -3.6 .9 2.9 .8 -2.9 .9 .7 .9 4.3 .9 -2 .9 -4.5 .8 3.3 .9 -.1 .9 -.7 .9 -1.3 .8 -1.2 .9 1.7 .9 -4.5 .9 4.7 .9 -.5 .8 -.8 .9 -.9 .9 -2.9 .9 -2.1 .9 5.5 .8 -.6 .9 -1.9 .9 1.4 .9 -2.3 .9 3.8 .8 -4.2 .9 6.1 .9 -5.8 .9 -.5 .8 -3.9 .9 6.7 .9 -3.5 .9 -.1 .9 3 .8 -2.6 .9 2 .9 .4 .9 .5 .9 -2.8 .8 1.4 .9 1.9 .9 -5 .9 3.8 .8 -5 .9 .7 .9 1.9 .9 1.2 .9 -1.5 .8 .6 .9 -2.1 .9 -.3 .9 -5.7 .9 8.6 .8 -3.1 .9 -2.5 .9 -1.1 .9 -.8 .8 4.2 .9 -3.7 .9 6.8 .9 -5.3 .9 -2.3 .8 .1 .9 3.7 .9 -1.3 .9 2.2 .9 -2.9 .8 .9 .9 -3.3 .9 1.7 .9 -2.8 .9 1.1 .8 .1 .9 -4.1 .9 .9 .9 4.2 .8 -5.1 .9 .8 .9 -1.2 .9 1.3 .9 3.7 .8 -2.8 .9 3.3 .9 -2.1 .9 -1.5 .9 -3.7 .8 1.8 .9 -.5 .9 -1.2 .9 2.5 .8 -3.8 .9 1.2 .9 1.7 .9 -1 .9 -.9 .8 -1.8 .9 -1.8 .9 2.5 .9 -.6 .9 -3.8 .8 -2.8 .9 1.8 .9 2.1 .9 .4"/>
<path d="M125.8 923.6l.5 3.5 .5 -43.8 .5 20.1 .5 16.9 .5 -1.4 .5 -3.6 .5 2.3 .5 -3.3 .5 1.1 .5 -14.4 .5 6.6 .5 -7.1 .5 23.4 .5 .2 .5 -13.5 .5 12 .5 2.2 .5 -23.2 .5 28 .5 -5.1 .5 3.1 .5 -23.4 .5 9.8 .5 18 .5 -25.3 .5 21.1 .5 -8.8 .5 13.4 .5 -35.8 .5 30.4 .5 -13.9 .5 21.3 .5 -2.7 .5 3.4 .5 1 .5 2.2 .5 -4.7 .5 -1 .5 4 .5 -2.6 .5 -7.3 .5 11.4 .5 6.4 .5 -2.3 .5 1.6 .5 -4.5 .6 6.4 .5 -6.3 .5 -.5 .5 -15.7 .5 3.1 .5 18 .5 -12.1 .5 16.5 .5 3.9 .5 -21.1 .5 -.8 .5 -42.3 .5 63.5 .5 6.5 .5 -13.2 .5 8.6 .5 -2.9 .5 -34.6 .5 -17.1 .5 39.1 .5 14.4 .5 -10.1 .5 6.9 .5 8.5 .5 -26.8 .5 13.3 .5 -28.8 .5 36 .5 -3.6 .5 -3.1 .5 14.6 .5 -78.3 .5 75.5 .5 -7.2 .5 1.8 .5 5.6 .5 -15.3 .5 12.3 .5 -10 .5 1.3 .5 -1.5 .5 2.4 .5 -1.5 .5 1.6 .5 -16 .5 18.4 .6 1.4 .5 .9 .5 -15.5 .5 13.8 .5 -2.5 .5 7 .5 -54.6 .5 52.6 .5 -47.4 .5 28.9 .5 -7.1 .5 18.2 .5 -8.7 .5 7.1 .5 -5.5 .5 -9.2 .5 -16.9 .5 41.2 .5 -14.4 .5 -30.9 .5 7.7 .5 42.2 .5 -16.9 .5 1.9 .5 0 .5 12.7 .5 -24.4 .5 26.3 .5 -71.7 .5 42.7 .5 17.3 .5 -15.5 .5 9.8 .5 8.8 .5 -3.6 .5 -7.6 .5 10.4 .5 -17.3 .5 -9.7 .5 3.5 .5 -8.3 .5 2.3 .5 12.9 .5 -19 .5 22.9 .5 -6.3 .5 -17.5 .6 -13.5 .5 39.1 .5 7.3 .5 -54.8 .5 30.9 .5 -22.1 .5 31.6 .5 2.3 .5 13.4 .5 -7 .5 -24.4 .5 4.8 .5 5.7 .5 16.1 .5 0 .5 -8.5 .5 4.7 .5 6.1 .5 -15.7 .5 -13.5 .5 25.8 .5 -4.2 .5 -4.4 .5 10.4 .5 -16.9 .5 7.1 .5 1.3 .5 -3.9 .5 5.6 .5 -6.8 .5 8 .5 -15.5 .5 11 .5 -11.4 .5 18.2 .5 -1.4 .5 -10.4 .5 6.6 .5 -4.7 .5 8.2 .5 -15.4 .5 -.1 .5 8.2 .5 3.2 .5 -1.5 .5 -2.3 .6 3.3 .5 -3.5 .5 -.7 .5 6.2 .5 -15 .5 10.6 .5 .2 .5 -22 .5 23.5 .5 -3 .5 -2.1 .5 2.2 .5 -2.4 .5 -15.1 .5 16.3 .5 -5.8 .5 4 .5 3.7 .5 -5.8 .5 1.2 .5 -13.6 .5 15.9 .5 -4.4 .5 6.8 .5 -2.5 .5 .3 .5 1 .5 4.7 .5 -3.4 .5 -29.7 .5 26.5 .5 -29.7 .5 24.4 .5 -7.2 .5 15.9 .5 -34.4 .5 33.9 .5 -3.8 .5 -19.9 .5 19.5 .5 5.2 .5 -7.7 .5 1.6 .5 7.2 .5 -3.9 .5 -4.2 .5 -19.2 .6 5.4 .5 19.8 .5 -4.2 .5 -1 .5 -16.1 .5 15.5 .5 -22.1 .5 19.9 .5 .9 .5 4.7 .5 -.6 .5 -41.3 .5 32.1 .5 2.8 .5 2.7 .5 -18.8 .5 21.6 .5 -.5 .5 -18.5 .5 10.7 .5 6.2 .5 .3 .5 -9.3 .5 9.4 .5 -17.2 .5 12 .5 -1.5 .5 4.4 .5 -39.9 .5 38.2 .5 -12.9 .5 16.7 .5 -3.1 .5 -4.4 .5 2.4 .5 5.9 .5 -1.8 .5 -10.3 .5 -7.8 .5 15.1 .5 -4.1 .5 4.3 .5 -21.5 .5 21.2 .5 -8.7 .5 2.7 .6 5.1 .5 -20.7 .5 25.2 .5 -17.8 .5 15.7 .5 1 .5 -4.5 .5 -11.3 .5 6.7 .5 .6 .5 5.4 .5 -12.5 .5 5.2 .5 4.7 .5 -4.7 .5 6.5 .5 -3.7 .5 5.8 .5 -8.1 .5 6 .5 -7.5 .5 2.7 .5 6.2 .5 -2.8 .5 -3.9 .5 5.4 .5 -.4 .5 -10.3 .5 5.3 .5 -.6 .5 4.9 .5 -4.1 .5 -6.7 .5 3.8 .5 6 .5 .7 .5 -3.7 .5 -2.4 .5 2.5 .5 3 .5 -14.3 .5 3.7 .5 8.6 .5 -12.5 .5 15.9 .5 -8.8 .6 5.8 .5 -9.2 .5 4.7 .5 3.9 .5 2.8 .5 -10.6 .5 5 .5 3.6 .5 2.4 .5 -14.4 .5 9.7 .5 -.5 .5 -.7 .5 2.4 .5 -.5 .5 -2.5 .5 .9 .5 .7 .5 -3 .5 8.1 .5 -9.3 .5 2.2 .5 .5 .5 1.2 .5 -4 .5 -2.3 .5 9.2 .5 -1.1 .5 -7.6 .5 -5.2 .5 4.5 .5 5.6 .5 -3 .5 1.9 .5 .6 .5 -1.7 .5 1.2 .5 -3.4 .5 .6 .5 1.8 .5 1.4 .5 1.1 .5 -3.7 .5 -.1 .5 0 .5 -4 .5 9 .6 -2.8 .5 0 .5 -5 .5 3.3 .5 1.8 .5 -3.3 .5 -1.3 .5 -4.5 .5 4.9 .5 2 .5 -1.7 .5 2.2 .5 -3.6 .5 -1 .5 2.4 .5 -1.9 .5 -2.7 .5 3.4 .5 -1.4 .5 4.3 .5 -1.5 .5 3.8 .5 -2.1 .5 -5.5 .5 -2 .5 3.5 .5 2.6 .5 -3.5 .5 -3.1 .5 3.4 .5 -4.6 .5 4 .5 2.3 .5 -.9 .5 -1.5 .5 -8.2 .5 5.6 .5 1.9 .5 -1.6 .5 0 .5 1.4 .5 -.8 .5 .2 .5 -3.3 .5 -2.1 .5 .5 .6 4.2 .5 -2.5 .5 3.3 .5 .7 .5 -3.3 .5 -1.6 .5 1.6 .5 -2.7 .5 -.2 .5 0 .5 1.6 .5 3.7 .5 -8.9 .5 6 .5 -3.4 .5 .2 .2 2.4 .8 -6.5 .9 2.8 .9 1.3 .9 .8 .8 .9 .9 .1 .9 -5.5 .9 2.4 .9 -.6 .8 -3.3 .9 1.7 .9 -3.6 .9 2.9 .9 -1.1 .8 -4.8 .9 3.4 .9 -4.5 .9 -.7 .8 .2 .9 3.5 .9 -2.2 .9 -1.9 .9 -.8 .8 -7.4 .9 3.2 .9 -.7 .9 -3.8 .9 -3 .8 2.3 .9 -8.3 .9 -2.5 .9 1.3 .8 -6.2 .9 4.2 .9 -5.1 .9 -3.3 .9 -2.6 .8 -4.7 .9 2.6 .9 .9 .9 -3.7 .9 .3 .8 -.2 .9 3.3 .9 .1 .9 3.9 .9 -1.1 .8 5.6 .9 2.1 .9 -2.6 .9 7.4 .8 0 .9 .5 .9 4.3 .9 -1.5 .9 5.6 .8 -2.7 .9 8.4 .9 .8 .9 -2.6 .9 -2.6 .8 .6 .9 7.7 .9 -1.3 .9 2.1 .8 5.2 .9 -7 .9 3.7 .9 -4.2 .9 3.6 .8 2.8 .9 .9 .9 -.9 .9 -1.2 .9 3 .8 -8.6 .9 7.4 .9 4 .9 -3 .9 -2.6 .8 2.3 .9 2.3 .9 1.1 .9 .6 .8 1.3 .9 -1.7 .9 -1.9 .9 2.4 .9 -5.9 .8 3.5 .9 2.4 .9 -1 .9 -4 .9 8.7 .8 -5.2 .9 -6.6 .9 4.7 .9 5.2 .8 -2.7 .9 1 .9 -8.2 .9 9.4 .9 -1.1 .8 .2 .9 3 .9 5.1 .9 -8.3 .9 -2 .8 2.6 .9 -2.6 .9 -.8 .9 0 .9 6.4 .8 -8.8 .9 1.6 .9 0 .9 2.1 .8 -.1 .9 1.3 .9 -2.8 .9 -1.5 .9 3.9 .8 -3.9 .9 3.3 .9 -3 .9 1.9 .9 -2.9 .8 -3.1 .9 4.5 .9 1.8 .9 -.4 .8 -3 .9 2.9 .9 -4.2 .9 1.7 .9 -1.9 .8 3.8 .9 1 .9 -.8 .9 -3.3 .9 3.1 .8 -4.2 .9 7.2 .9 -3.9 .9 -1.5 .9 4.2 .8 -3.4 .9 2.2 .9 -4.1 .9 .4 .8 -2.8 .9 4 .9 1.8 .9 -3 .9 -2 .8 -.1 .9 -.3 .9 -3 .9 3.9 .9 -.5 .8 1.4 .9 -.8 .9 -4.4 .9 1.6 .8 7.2 .9 -9.7 .9 7.7 .9 -4.2 .9 -3.7 .8 1.7 .9 -1.4 .9 -1 .9 1 .9 3.5 .8 -4.3 .9 2.3 .9 3.7 .9 -5.4 .8 -2.3 .9 .7 .9 -.1 .9 -4.3 .9 3 .8 -1.7 .9 1 .9 -3.4 .9 4.3 .9 -3.8 .8 -1.8 .9 4.6 .9 -3.5 .9 5 .9 -4.1 .8 -1.2 .9 3.1 .9 1.7 .9 -4.3 .8 .4 .9 -1.4 .9 -.6 .9 -1.5 .9 -1.9 .8 2.1 .9 3.7 .9 -4.9 .9 .2 .9 .1 .8 -3.3 .9 2.4 .9 .8 .9 -2 .8 3.8 .9 -5.5 .9 1.4 .9 -3.6 .9 1.6 .8 .2 .9 0 .9 2.3 .9 -2.5 .9 -1.1 .8 -1.7 .9 .7 .9 -.9 .9 -.4 .9 1.9 .8 -1.9 .9 .6 .9 1.5 .9 .1 .8 -4.6 .9 -1.5 .9 -.4 .9 3.7 .9 -4.6 .8 -.4 .9 3.7 .9 -2.5 .9 -2.5 .9 2.5 .8 -2.2 .9 2.9 .9 -.7 .9 -2.3 .8 1.7 .9 -.6 .9 -.1 .9 1.8 .9 -4.4 .8 2.7 .9 .2 .9 .1 .9 -1 .9 1.6 .8 -3.2 .9 2 .9 -2 .9 2.7 .9 .2 .8 -.3 .9 -2 .9 2.5 .9 -3.6 .8 1.8 .9 -2.1 .9 2 .9 -2 .9 2.9 .8 0 .9 -2.9 .9 1.8 .9 -2.8 .9 2.7 .8 -2.1 .9 2 .9 1.3 .9 -5.3 .8 2.4 .9 -2 .9 1 .9 2.8 .9 -3.5 .8 -1.3 .9 -.5 .9 -.8 .9 1.7 .9 .6 .8 -.5 .9 1.7 .9 -3.2 .9 -.2 .9 .4 .8 1.5 .9 -2.4 .9 1.6 .9 -3 .8 2.6 .9 -.3 .9 -.6 .9 .9 .9 -.5 .8 -1.1 .9 3 .9 -6.8 .9 2.2 .9 -.2 .8 1.5 .9 -1.8 .9 .1 .9 -.4 .8 2 .9 -2.2 .9 2.3 .9 -2.6 .9 .7 .8 -.6 .9 -.7 .9 -1.9 .9 -.7 .9 1.4 .8 1.3 .9 -3.8 .9 3.8 .9 -1.5 .8 -.7 .9 .5 .9 -3.1 .9 1 .9 -1.2 .8 1.7 .9 -1.9 .9 1.1 .9 -.2 .9 -.9 .8 -.4 .9 -.5 .9 .8 .9 1.4 .9 -1.8 .8 2.8 .9 -3.4 .9 .4 .9 -2.4 .8 4.3 .9 -6.4 .9 2.8 .9 1.3 .9 -2.9 .8 -.3 .9 -.2 .9 -2.5 .9 3.5 .9 -1.7 .8 -.2 .9 .8 .9 -1.5 .9 -1.6 .8 2.3 .9 -1.9 .9 -1 .9 .1 .9 2.3 .8 -2.6 .9 .4 .9 -2.4 .9 1.1 .9 -3 .8 3.4 .9 -2.6 .9 1.1 .9 -3.7"/>
<path d="M125.8 905.4l.5 -4.9 .5 -.3 .5 -14.1 .5 .1 .5 12.1 .5 -4.2 .5 -1.2 .5 1.5 .5 -1.2 .5 1.7 .5 5.9 .5 -15.3 .5 16.4 .5 -11.8 .5 -4.2 .5 -10.5 .5 18.5 .5 5.7 .5 5.3 .5 -2.3 .5 -25.9 .5 26.1 .5 4.4 .5 -10.4 .5 3.3 .5 5.8 .5 1.1 .5 -1.9 .5 5.8 .5 -9.7 .5 10.6 .5 -14.5 .5 10.7 .5 2.3 .5 .9 .5 -1 .5 4.4 .5 -6.9 .5 4.6 .5 1.3 .5 -5 .5 7.6 .5 -1.1 .5 -4.5 .5 5.4 .5 -8.6 .6 -10.7 .5 21.6 .5 -9.7 .5 11.7 .5 -2.7 .5 -5 .5 9.5 .5 -19.9 .5 18.2 .5 -15.8 .5 22 .5 -1.8 .5 6.5 .5 -7.2 .5 3.1 .5 -.9 .5 3.4 .5 -15.4 .5 8.6 .5 -15.7 .5 17.2 .5 1.4 .5 1 .5 -7.5 .5 .5 .5 -18.7 .5 18.7 .5 1.4 .5 -16.9 .5 21.5 .5 .6 .5 -6.7 .5 2.6 .5 3.2 .5 -9.9 .5 11.4 .5 -1.3 .5 -4.9 .5 -3.2 .5 -3.1 .5 4.5 .5 3.2 .5 .9 .5 -17.6 .5 25 .5 -9.5 .6 -34 .5 32.9 .5 5 .5 -23 .5 27.8 .5 -6.4 .5 2.6 .5 -13.7 .5 5.9 .5 4.9 .5 -14.3 .5 16.9 .5 -9.2 .5 10.4 .5 -11.2 .5 14 .5 -4.4 .5 -18 .5 21.5 .5 4 .5 -11.6 .5 4.6 .5 -1.2 .5 6.9 .5 -43.5 .5 43.7 .5 -8.4 .5 2.8 .5 -.1 .5 -.2 .5 -1.9 .5 2.4 .5 -12.5 .5 10.3 .5 -3.4 .5 -4.8 .5 -29.7 .5 33.9 .5 -4.2 .5 -27.7 .5 27 .5 -11.1 .5 16.4 .5 .5 .5 -1.1 .5 1.5 .5 -3.9 .6 2.2 .5 -4.6 .5 6.4 .5 -.4 .5 -17.3 .5 8.7 .5 5.9 .5 -3.5 .5 1.4 .5 -34.3 .5 31.5 .5 6.1 .5 -1.7 .5 4 .5 -10.2 .5 6.3 .5 -3.6 .5 2.7 .5 -.2 .5 -3.6 .5 1.9 .5 -2.9 .5 4.6 .5 -10.2 .5 9.4 .5 -6.6 .5 4.1 .5 -1.1 .5 3.9 .5 -7.2 .5 -12.8 .5 8.8 .5 -.9 .5 7.2 .5 -.7 .5 -1.3 .5 -6.5 .5 10.3 .5 -1.1 .5 -4.4 .5 1.1 .5 .6 .5 -2.5 .5 6.3 .5 -3.4 .5 -2.5 .6 .6 .5 2.8 .5 -6.6 .5 1.1 .5 5.3 .5 1 .5 -5.8 .5 3.9 .5 -5.7 .5 -6.4 .5 7 .5 .4 .5 .7 .5 -4.8 .5 7.3 .5 -25.7 .5 23.9 .5 -2 .5 2.1 .5 -6.2 .5 -3.5 .5 16.4 .5 -8.3 .5 3.5 .5 -1.4 .5 -9.4 .5 -17.2 .5 26.8 .5 -9.1 .5 9.8 .5 -12.3 .5 7.7 .5 -.8 .5 -3.9 .5 6.5 .5 -6.5 .5 6.7 .5 -7.4 .5 .5 .5 4.3 .5 -2.2 .5 -1.1 .5 1.2 .5 1.5 .5 2.9 .5 -20 .5 21.8 .6 -2.8 .5 -8.2 .5 7.1 .5 -.6 .5 0 .5 2.5 .5 -5.3 .5 3.1 .5 3.8 .5 -10.2 .5 -3.6 .5 4.3 .5 -1.8 .5 -.8 .5 7 .5 -1.3 .5 -1.5 .5 5.1 .5 -3.4 .5 .8 .5 -.2 .5 -3.5 .5 1.7 .5 -4.3 .5 3.4 .5 -1.4 .5 -10.6 .5 11.8 .5 -2.2 .5 4.1 .5 -3.9 .5 1.8 .5 .8 .5 -15.2 .5 15.2 .5 .6 .5 -1.7 .5 -.7 .5 2 .5 -3.9 .5 -.8 .5 4 .5 -.9 .5 1.4 .5 -3.2 .5 1.2 .6 1.6 .5 -2.2 .5 -5 .5 9.1 .5 -4.9 .5 -1 .5 4.2 .5 -8.7 .5 9.2 .5 -1.1 .5 -1.7 .5 -4.9 .5 1.2 .5 -.6 .5 1.7 .5 -4.4 .5 7.4 .5 -3.4 .5 -4.7 .5 7.8 .5 -6.3 .5 0 .5 -.3 .5 3.6 .5 -8.1 .5 6.5 .5 -3.1 .5 6.6 .5 -.7 .5 -.2 .5 -8.2 .5 11.2 .5 -4.5 .5 -3 .5 1.8 .5 8.1 .5 -7.1 .5 -.3 .5 -6 .5 2.4 .5 3.5 .5 -3.8 .5 -.8 .5 5.8 .5 -2.1 .5 2.4 .6 -7.2 .5 4.9 .5 -4.8 .5 .7 .5 4.6 .5 -6.3 .5 2.6 .5 .4 .5 -3.1 .5 .2 .5 2.5 .5 -1.6 .5 4.5 .5 -.6 .5 -3.8 .5 1 .5 3.8 .5 -3.1 .5 0 .5 1.4 .5 -7 .5 7.5 .5 -.7 .5 -3.9 .5 1.5 .5 -1.2 .5 5.2 .5 -4.6 .5 1.4 .5 .9 .5 -1 .5 -.6 .5 -3.4 .5 -2.6 .5 4 .5 -3.2 .5 3.5 .5 4.1 .5 -4.3 .5 -3.3 .5 -.8 .5 6.2 .5 -8.6 .5 8 .5 -.1 .5 -.8 .5 -5.4 .6 2.6 .5 -1.6 .5 8 .5 -6.2 .5 .5 .5 -2.1 .5 2.8 .5 -4.5 .5 4.8 .5 1.9 .5 0 .5 -7.6 .5 1.3 .5 4 .5 -5.3 .5 3.3 .5 -.4 .5 3.5 .5 -2.6 .5 -2 .5 -.7 .5 2.2 .5 -4.3 .5 -1.4 .5 5.8 .5 -3.3 .5 4 .5 -4.4 .5 3.3 .5 -2.2 .5 -1 .5 .9 .5 -3.5 .5 4.4 .5 -.9 .5 -2.4 .5 1 .5 -.9 .5 1 .5 1.1 .5 -3.6 .5 1.2 .5 -2 .5 -1.2 .5 3.7 .5 .7 .6 -.8 .5 .2 .5 2.8 .5 -8.7 .5 3 .5 -4.4 .5 6.1 .5 -2.7 .5 .5 .5 .6 .5 -2.5 .5 1.9 .5 0 .5 -.7 .5 4.9 .5 -3.5 .2 0 .8 -5.5 .9 1.8 .9 -.8 .9 -.1 .8 1.3 .9 -4.4 .9 3.5 .9 1.9 .9 -4.8 .8 -1.7 .9 1.6 .9 -1.1 .9 -1.9 .9 -1.9 .8 1.2 .9 -3.1 .9 2 .9 -4.5 .8 5.9 .9 -5.6 .9 .2 .9 -.9 .9 1.5 .8 -6 .9 1.1 .9 0 .9 -2.4 .9 -2.5 .8 -2.5 .9 -.1 .9 -2 .9 -4.7 .8 -1.4 .9 -6.2 .9 2.1 .9 -4.5 .9 -4.1 .8 1.4 .9 -4 .9 -.3 .9 -.6 .9 -3.3 .8 4.8 .9 -.1 .9 3.2 .9 -1.5 .9 -.1 .8 4.4 .9 .2 .9 5.2 .9 -1.2 .8 4.6 .9 2.8 .9 -1.8 .9 4.9 .9 .7 .8 2.6 .9 .5 .9 2.5 .9 3.7 .9 -1.4 .8 .8 .9 1.2 .9 2.1 .9 -2.8 .8 5.5 .9 -.8 .9 .6 .9 3.1 .9 .8 .8 -2.8 .9 .5 .9 1.5 .9 3.7 .9 -1.9 .8 -.6 .9 -.3 .9 -.6 .9 1.7 .9 -.7 .8 -.9 .9 7.5 .9 -5.8 .9 2.9 .8 -1.5 .9 .7 .9 2.4 .9 0 .9 -2.3 .8 1.3 .9 -1.6 .9 2.2 .9 -4.5 .9 4.4 .8 -4.1 .9 5.2 .9 -2.3 .9 -1 .8 4.5 .9 -.5 .9 -2.5 .9 -1.3 .9 -.4 .8 1.5 .9 -.8 .9 4 .9 -1.3 .9 -3.4 .8 3.7 .9 -.6 .9 2.6 .9 -2.9 .9 2.4 .8 -3.6 .9 -2.1 .9 2 .9 .1 .8 .9 .9 -1.8 .9 2.8 .9 -1.3 .9 -4.8 .8 6 .9 -1.4 .9 1.3 .9 -4.8 .9 2.5 .8 1.6 .9 -.1 .9 -4.3 .9 .6 .8 -.4 .9 1.4 .9 -1.8 .9 -.9 .9 1 .8 3.7 .9 .5 .9 -1.1 .9 -3.1 .9 2.9 .8 -.9 .9 -2 .9 1.3 .9 .5 .9 -3.9 .8 .6 .9 -.6 .9 -.4 .9 -1 .8 2.3 .9 0 .9 2.4 .9 -2.6 .9 .4 .8 -2.8 .9 .4 .9 -1.5 .9 .5 .9 -.3 .8 .9 .9 .4 .9 .7 .9 -.8 .8 1.3 .9 -2.3 .9 .6 .9 2.7 .9 .7 .8 -3.3 .9 -.7 .9 -.6 .9 -2.7 .9 2.7 .8 .6 .9 -2.8 .9 -1.2 .9 -1.2 .8 3.6 .9 -1.4 .9 -.1 .9 -3.1 .9 .9 .8 .7 .9 -1.3 .9 1.2 .9 -.5 .9 -.5 .8 .3 .9 -.7 .9 -1.1 .9 -.2 .9 -2 .8 .6 .9 .9 .9 2.6 .9 -1.3 .8 -1.6 .9 -.5 .9 .9 .9 -1.6 .9 -.9 .8 .6 .9 -.9 .9 -.4 .9 .4 .9 -.1 .8 -1.3 .9 -.8 .9 1.3 .9 .9 .8 -1.7 .9 -2.2 .9 2.3 .9 -3.5 .9 1.5 .8 -1.2 .9 .7 .9 -2 .9 .3 .9 -.7 .8 2.4 .9 -3.5 .9 2.4 .9 -1.9 .9 -1.3 .8 .5 .9 -1.2 .9 .1 .9 -.3 .8 .7 .9 -2.4 .9 -.5 .9 1.5 .9 0 .8 -1.5 .9 .7 .9 -1.3 .9 -1.1 .9 -.1 .8 -1.1 .9 .9 .9 1.4 .9 -.3 .8 -1.6 .9 -1.6 .9 2.3 .9 .5 .9 -2.5 .8 1.5 .9 -1 .9 -.5 .9 2.1 .9 -.7 .8 .1 .9 -1.2 .9 -.2 .9 1.1 .9 -1.1 .8 2.3 .9 -2.2 .9 -.1 .9 .3 .8 1.4 .9 -1.4 .9 .9 .9 -2.6 .9 1.7 .8 -.2 .9 -.2 .9 -.7 .9 .3 .9 -.6 .8 1.4 .9 -2.2 .9 1.4 .9 -1.4 .8 .3 .9 -.9 .9 .9 .9 1.2 .9 -.6 .8 -1 .9 -1.8 .9 1.6 .9 -.7 .9 -1.3 .8 1.5 .9 -1 .9 -.2 .9 .6 .9 -.9 .8 -1 .9 -.2 .9 1.1 .9 -3.2 .8 2.1 .9 .4 .9 .2 .9 0 .9 -1.8 .8 3.1 .9 -2.6 .9 .9 .9 -1.3 .9 -.4 .8 1 .9 -.5 .9 -2.3 .9 1.4 .8 -.7 .9 .1 .9 -1.2 .9 -.6 .9 .1 .8 .1 .9 -.3 .9 1.3 .9 -2.3 .9 1.3 .8 .1 .9 -.7 .9 .2 .9 -1.3 .8 -.5 .9 -.7 .9 .9 .9 .2 .9 -.5 .8 .5 .9 -.6 .9 -2.5 .9 2.1 .9 -.5 .8 -1.1 .9 0 .9 -.6 .9 1 .9 -.1 .8 -2.1 .9 1.3 .9 -.7 .9 -.5 .8 1.4 .9 -1.6 .9 .1 .9 -1.2 .9 .4 .8 1.2 .9 -2.6 .9 2.3 .9 -1.9 .9 -.1 .8 -.3 .9 -.7 .9 -1.1 .9 1.1 .8 -.5 .9 -1.3 .9 -.2 .9 -.4 .9 -.1 .8 .1 .9 -.2 .9 -.5 .9 -1.4 .9 -.9 .8 -.9 .9 1.7 .9 -1.1 .9 -.7"/>
<path d="M125.8 887.2l.5 -2.9 .5 -6 .5 1.5 .5 -4.2 .5 -4 .5 8.6 .5 -1.9 .5 -1.1 .5 -2.3 .5 -4.4 .5 .5 .5 -.3 .5 3.5 .5 -5 .5 10.5 .5 -.6 .5 -1.6 .5 -.1 .5 .7 .5 2.7 .5 .8 .5 -.7 .5 -1 .5 1.8 .5 2.7 .5 -6 .5 3 .5 -3.3 .5 2.6 .5 3.2 .5 -.4 .5 .8 .5 1.3 .5 .1 .5 4.9 .5 -6.3 .5 -1.5 .5 8.3 .5 -3.5 .5 -2.2 .5 -10.8 .5 13.1 .5 -1 .5 -7 .5 5.3 .5 2.9 .6 .2 .5 -2.1 .5 .6 .5 6.1 .5 -.2 .5 -1.5 .5 1.9 .5 1 .5 -.4 .5 6.1 .5 -7.6 .5 .1 .5 .8 .5 1.5 .5 -14.2 .5 14.7 .5 -2 .5 9.8 .5 -10 .5 6.1 .5 -2.2 .5 -1 .5 -2.1 .5 .6 .5 1.9 .5 -11.8 .5 14.3 .5 .6 .5 -20 .5 19.3 .5 -1.2 .5 -14.2 .5 -4.8 .5 18.2 .5 -2 .5 1.7 .5 -2.1 .5 2.5 .5 3.9 .5 -1.8 .5 1.8 .5 -8.7 .5 3.3 .5 3.7 .5 -1.7 .5 -2 .6 2.2 .5 -1.9 .5 1.9 .5 1.1 .5 -7.1 .5 4.5 .5 -4 .5 .8 .5 8.5 .5 -5.6 .5 1.5 .5 -.3 .5 -2.3 .5 7.4 .5 4 .5 -9.9 .5 5 .5 -.9 .5 -1.7 .5 3 .5 1.1 .5 -2.7 .5 -.9 .5 .4 .5 .8 .5 1.8 .5 -8.7 .5 8.5 .5 -3.7 .5 3.4 .5 -4.5 .5 3.7 .5 .5 .5 -4.6 .5 2.7 .5 1.3 .5 -1.2 .5 .6 .5 .9 .5 -1.6 .5 .1 .5 -18.2 .5 13.7 .5 3 .5 2.7 .5 2.8 .5 -6.8 .6 -4.5 .5 1.7 .5 -2.9 .5 6.1 .5 -5.6 .5 8.5 .5 -20.2 .5 15.8 .5 5.5 .5 -12.3 .5 4.8 .5 -5.6 .5 10.1 .5 -4.6 .5 1.4 .5 2.2 .5 5 .5 -5 .5 -6 .5 1.8 .5 .9 .5 -8.3 .5 5.4 .5 1.3 .5 .6 .5 -.2 .5 -4.6 .5 5.6 .5 -3.2 .5 -13.2 .5 1.5 .5 5.7 .5 12.8 .5 -5.8 .5 5.7 .5 -4.7 .5 -11.5 .5 8.3 .5 1.4 .5 -.7 .5 -9.5 .5 8.8 .5 -3 .5 5.5 .5 -.7 .5 1.9 .6 -3.6 .5 1.6 .5 -7.9 .5 2.8 .5 3.7 .5 1.3 .5 6.1 .5 -6.7 .5 -2.7 .5 -.9 .5 7 .5 -1.4 .5 -5 .5 3.3 .5 -2.6 .5 .4 .5 -3.1 .5 7.2 .5 -4.1 .5 -3.9 .5 1.1 .5 1.7 .5 -2.1 .5 -.4 .5 3.7 .5 -4.5 .5 -8.6 .5 8.5 .5 -2.1 .5 6.5 .5 -6.2 .5 3.1 .5 1.1 .5 0 .5 -5.4 .5 4.7 .5 -.4 .5 -5.1 .5 4.1 .5 -3.3 .5 -3.5 .5 2.1 .5 2.1 .5 -.9 .5 3 .5 .1 .5 1.3 .6 -7.7 .5 5.6 .5 .3 .5 0 .5 -2.4 .5 1.6 .5 -1.6 .5 -1.7 .5 -3.4 .5 7.9 .5 -4.2 .5 -2.7 .5 -1.4 .5 -.7 .5 3 .5 1 .5 -4 .5 4.4 .5 -8.3 .5 9.1 .5 -4.5 .5 3.5 .5 -1 .5 .5 .5 .9 .5 -3.5 .5 -.9 .5 4 .5 -1.4 .5 -1.5 .5 -3.2 .5 1.7 .5 -7.6 .5 15.8 .5 -6.1 .5 -.9 .5 -2.7 .5 .3 .5 5.5 .5 -1.8 .5 -2.1 .5 0 .5 -3.4 .5 -1.7 .5 3.3 .5 -2.7 .6 1.5 .5 2.2 .5 1.2 .5 .7 .5 -5.4 .5 .4 .5 -1.3 .5 4.6 .5 0 .5 -2.1 .5 -2.8 .5 2.2 .5 .4 .5 2.7 .5 -3.5 .5 -1.7 .5 5.1 .5 -7.4 .5 6.7 .5 -5.1 .5 3.1 .5 -1.1 .5 2.6 .5 -.7 .5 -3.5 .5 2.3 .5 .3 .5 -3.7 .5 -.3 .5 2.2 .5 -.3 .5 -4.8 .5 5.7 .5 -1.9 .5 -.1 .5 5.1 .5 1.1 .5 -5.7 .5 -1.9 .5 1.6 .5 1.9 .5 -.6 .5 -5.3 .5 4.6 .5 2.6 .5 -5.1 .6 .3 .5 -1.3 .5 -1.1 .5 .1 .5 1.4 .5 2 .5 4.3 .5 -5.6 .5 .9 .5 -3.6 .5 -.2 .5 1.9 .5 -2.6 .5 3.5 .5 -.1 .5 1.8 .5 -1.4 .5 -1.3 .5 -2.3 .5 4.1 .5 -3.6 .5 -3.6 .5 8.2 .5 -2.5 .5 -.8 .5 -2.4 .5 -2.3 .5 1.6 .5 1.9 .5 2.4 .5 -2 .5 -.1 .5 -.7 .5 2.1 .5 -5.2 .5 4.7 .5 -3 .5 .8 .5 2.6 .5 -2.8 .5 .1 .5 .4 .5 -2.2 .5 2.5 .5 -6.5 .5 3.1 .5 3.8 .6 3 .5 -7.5 .5 1.9 .5 0 .5 2 .5 .8 .5 .6 .5 -8.6 .5 1.8 .5 3.7 .5 -4.5 .5 6.8 .5 -4.9 .5 -.1 .5 2.7 .5 -1 .5 .8 .5 -2 .5 -2.4 .5 .4 .5 .9 .5 -1.4 .5 4.9 .5 -6.7 .5 3.4 .5 1.9 .5 -1.7 .5 .3 .5 -1.4 .5 -.6 .5 4.2 .5 -6 .5 -.9 .5 4.3 .5 -4.2 .5 .2 .5 .2 .5 -1.1 .5 4.5 .5 -3.4 .5 2.5 .5 -5.4 .5 5 .5 .1 .5 -3.7 .5 .7 .6 .6 .5 -.2 .5 -.9 .5 -1.8 .5 3.4 .5 -.4 .5 -.2 .5 -.9 .5 -.3 .5 1.7 .5 -2.5 .5 2.1 .5 -1.6 .5 -.3 .5 -.2 .5 -2.6 .2 -.3 .8 .4 .9 -1.1 .9 2.3 .9 -2.8 .8 1.6 .9 -.8 .9 -.5 .9 1.7 .9 -1.5 .8 -1.2 .9 -1.3 .9 .1 .9 .4 .9 -.3 .8 -2.3 .9 .9 .9 -.9 .9 -2.3 .8 -1.2 .9 .3 .9 .2 .9 -3.8 .9 -1.9 .8 .3 .9 -1.4 .9 1.1 .9 -5.7 .9 .8 .8 -4.1 .9 -.2 .9 -2.6 .9 -2.1 .8 -.2 .9 -8 .9 2.9 .9 -4.5 .9 -1.3 .8 -3 .9 -4.1 .9 2.1 .9 -3.5 .9 -1.7 .8 .1 .9 -.1 .9 2.2 .9 2.4 .9 1.4 .8 .9 .9 .9 .9 3.1 .9 .5 .8 4.2 .9 2.2 .9 2.1 .9 4.4 .9 -.9 .8 3.9 .9 .8 .9 -1.8 .9 5.8 .9 -.4 .8 1.1 .9 1.3 .9 1.2 .9 1.7 .8 -2.2 .9 5.7 .9 -.4 .9 -2.4 .9 1.9 .8 2.2 .9 .7 .9 -.2 .9 -3 .9 3.1 .8 2.3 .9 -1.1 .9 1.4 .9 -2.2 .9 1.8 .8 -.8 .9 1.6 .9 -2 .9 2.3 .8 .4 .9 1.8 .9 -.6 .9 -.8 .9 1.3 .8 -3.5 .9 3.2 .9 1 .9 -2 .9 2 .8 -1 .9 .7 .9 .8 .9 -2.5 .8 1.7 .9 -1.1 .9 1.8 .9 1.4 .9 -.2 .8 -.9 .9 -.3 .9 -.3 .9 -.5 .9 2.2 .8 -1.8 .9 1.7 .9 -.7 .9 -4.1 .9 1.5 .8 1.8 .9 -2.7 .9 .3 .9 .5 .8 -.8 .9 1.9 .9 -.3 .9 .7 .9 -1.9 .8 2.1 .9 -1.1 .9 -1.3 .9 1 .9 -1.2 .8 -1.9 .9 3.1 .9 -2.9 .9 2.2 .8 .1 .9 -1.5 .9 -1.1 .9 1.8 .9 -.1 .8 -.5 .9 .1 .9 -1.2 .9 .8 .9 -.7 .8 -.9 .9 .7 .9 -1.9 .9 1.8 .9 0 .8 -3.4 .9 .4 .9 1.4 .9 -1 .8 .3 .9 .8 .9 -1.5 .9 .2 .9 -1.3 .8 3.3 .9 -3.1 .9 .5 .9 .7 .9 -.5 .8 -.2 .9 .8 .9 -1 .9 -1.7 .8 2.3 .9 -1.4 .9 1.8 .9 -2.1 .9 -1.2 .8 .2 .9 -.3 .9 .9 .9 -1.9 .9 1.2 .8 -2 .9 .4 .9 .4 .9 -2.1 .8 1.6 .9 -1.6 .9 .6 .9 -.1 .9 -1.2 .8 .3 .9 .2 .9 -.2 .9 -.5 .9 -.2 .8 .2 .9 .4 .9 1.2 .9 -2.6 .9 -.1 .8 -1.6 .9 .4 .9 -.8 .9 -.8 .8 1.4 .9 .4 .9 -1.8 .9 1 .9 -.5 .8 -1.8 .9 .5 .9 -.7 .9 1.8 .9 -1.5 .8 -1.2 .9 1.8 .9 -1.5 .9 -.5 .8 2 .9 -3.6 .9 1.7 .9 -.8 .9 -1.8 .8 2.5 .9 -2.1 .9 .4 .9 -.6 .9 .3 .8 -2 .9 1.7 .9 -1.5 .9 -.4 .9 .2 .8 -.1 .9 -.3 .9 -1.3 .9 .2 .8 .1 .9 .4 .9 -1.2 .9 -.6 .9 .1 .8 -1.4 .9 2.3 .9 -3.6 .9 1.8 .9 .5 .8 .2 .9 -2.1 .9 .1 .9 .5 .8 -.2 .9 -.2 .9 .3 .9 -1.2 .9 .4 .8 .5 .9 1 .9 -2.2 .9 1.3 .9 .3 .8 -1.7 .9 .6 .9 1.7 .9 -.3 .9 -.9 .8 .6 .9 -.8 .9 -1.9 .9 -.3 .8 2.1 .9 -.6 .9 -.1 .9 .7 .9 .9 .8 -1.8 .9 .8 .9 -.5 .9 -.2 .9 .9 .8 -1.8 .9 1 .9 -.2 .9 .3 .8 -.9 .9 -.3 .9 .9 .9 -.9 .9 .5 .8 .4 .9 -.8 .9 -.7 .9 -.2 .9 -.5 .8 1 .9 -.4 .9 -.4 .9 -.5 .9 .3 .8 .4 .9 .2 .9 -1.9 .9 -.1 .8 1 .9 -1.6 .9 .9 .9 -.5 .9 -.7 .8 .9 .9 0 .9 .5 .9 -1.5 .9 -.2 .8 -.4 .9 0 .9 .1 .9 -.8 .8 1.1 .9 -1 .9 -.2 .9 .2 .9 -1.3 .8 .6 .9 -.7 .9 0 .9 .5 .9 -1.4 .8 .3 .9 .4 .9 -.1 .9 .4 .8 -.7 .9 -.2 .9 -.4 .9 .2 .9 -.8 .8 .2 .9 .6 .9 -.8 .9 .1 .9 0 .8 -.8 .9 -.9 .9 1 .9 .2 .9 -1.2 .8 -1.9 .9 1.7 .9 -.7 .9 .2 .8 -.9 .9 -.5 .9 .6 .9 -.9 .9 1 .8 -1 .9 .6 .9 -1 .9 .2 .9 -.7 .8 .5 .9 -1 .9 -.1 .9 .1 .8 -.2 .9 -.1 .9 -.6 .9 -.7 .9 -.1 .8 -.4 .9 -1 .9 .5 .9 -.7 .9 -.7 .8 -.3 .9 -.4 .9 -.3 .9 -1.4"/>
<path d="M125.8 871.1l.5 1.3 .5 -9 .5 -.9 .5 .2 .5 -2.1 .5 0 .5 .5 .5 -6.1 .5 4 .5 1.8 .5 3.3 .5 -1.9 .5 -2.2 .5 1.2 .5 1.4 .5 -.5 .5 3.2 .5 -2.6 .5 4.4 .5 -1.3 .5 .2 .5 -6.2 .5 3.5 .5 1.9 .5 3.6 .5 -1.6 .5 -3.2 .5 -1.6 .5 8.6 .5 -3 .5 -.6 .5 -1.7 .5 .7 .5 0 .5 5.4 .5 -7.2 .5 7.4 .5 -3 .5 -1.5 .5 -1.3 .5 .9 .5 .3 .5 -.8 .5 4.2 .5 -2.2 .5 -3.3 .6 7.8 .5 -.1 .5 2 .5 -5.9 .5 .6 .5 4.1 .5 .1 .5 -.8 .5 -1.3 .5 8 .5 -1 .5 -.1 .5 -.8 .5 .2 .5 .8 .5 -4.5 .5 11.1 .5 -14.9 .5 6 .5 -1.8 .5 6 .5 -2.9 .5 -12.5 .5 7.7 .5 5.9 .5 3 .5 -5 .5 1.8 .5 -2.4 .5 5.7 .5 -4.4 .5 -.2 .5 .8 .5 -3.5 .5 6.3 .5 -3.2 .5 .9 .5 -3.8 .5 3.6 .5 .6 .5 -3.7 .5 1.8 .5 1.6 .5 -3.9 .5 -2 .5 .4 .6 4.1 .5 -.9 .5 1.7 .5 -4.9 .5 3.4 .5 -3.5 .5 6.9 .5 -3.6 .5 1.3 .5 -3.3 .5 4.4 .5 -3.4 .5 5.8 .5 -1.3 .5 3.4 .5 3.1 .5 -2.3 .5 -.5 .5 .8 .5 .6 .5 2.5 .5 1.7 .5 -2.3 .5 -1.2 .5 -3.5 .5 13.6 .5 -11.9 .5 .3 .5 -1.5 .5 2.4 .5 -1.5 .5 4 .5 -1.6 .5 -1.5 .5 3.6 .5 -2.2 .5 -13.5 .5 15.3 .5 -5.2 .5 4.8 .5 -7.2 .5 2.2 .5 0 .5 2.7 .5 -11.6 .5 11.9 .5 -.8 .6 -2.3 .5 -2.7 .5 5.2 .5 -1.2 .5 -4.4 .5 -.9 .5 5.3 .5 -3.5 .5 -2.2 .5 1.5 .5 4.5 .5 .3 .5 -4.5 .5 -4.6 .5 4 .5 -3.3 .5 -7.9 .5 15.8 .5 -5.6 .5 -2.2 .5 1 .5 1.2 .5 .2 .5 -1.4 .5 2.4 .5 -11.2 .5 12.7 .5 1.1 .5 -6.1 .5 -2.2 .5 5.3 .5 -1.8 .5 2.3 .5 -3 .5 2.3 .5 1.2 .5 .4 .5 -4.2 .5 -4.2 .5 4.4 .5 -.2 .5 -5.9 .5 3.3 .5 5 .5 -3.8 .5 3.9 .6 -4.1 .5 -3.8 .5 7.7 .5 -1.7 .5 -6.3 .5 7.5 .5 -3.1 .5 -.7 .5 1.2 .5 1.4 .5 -6.8 .5 4.6 .5 -2.4 .5 1.4 .5 -.2 .5 3.7 .5 -6.8 .5 4 .5 -4.9 .5 6.3 .5 -1.9 .5 -3.3 .5 1.5 .5 -1.8 .5 1.4 .5 2 .5 -3 .5 6.9 .5 -6.9 .5 -7.7 .5 5.7 .5 -.6 .5 3.5 .5 -2.5 .5 1.9 .5 -.6 .5 -1.1 .5 8.7 .5 -11.1 .5 .6 .5 -.4 .5 4.6 .5 -4.7 .5 .4 .5 1.7 .5 3.9 .5 -6 .6 2 .5 -5.8 .5 5.9 .5 -6.2 .5 9.3 .5 -1.5 .5 -1.1 .5 .8 .5 -4 .5 -.2 .5 3.5 .5 -4.8 .5 -2.6 .5 .3 .5 -2.6 .5 1.8 .5 2.7 .5 -4.2 .5 2.4 .5 -4.5 .5 6.8 .5 4.8 .5 -2.7 .5 -4.5 .5 -.7 .5 2.2 .5 -3.6 .5 5 .5 -.8 .5 -6.9 .5 4.6 .5 0 .5 -3.6 .5 .6 .5 4.7 .5 -3.1 .5 4.9 .5 -6.1 .5 .2 .5 4.3 .5 -7.1 .5 -1.2 .5 3.2 .5 -1 .5 -1.7 .5 4.1 .6 -3 .5 0 .5 5.3 .5 -1 .5 -1 .5 -4.1 .5 1.9 .5 -2 .5 3.4 .5 1.4 .5 -7.6 .5 -2.2 .5 5.7 .5 .9 .5 -3.1 .5 5 .5 -1.9 .5 2.3 .5 -4.1 .5 .5 .5 1.2 .5 .4 .5 1.7 .5 -1.7 .5 -4.3 .5 3 .5 -3.4 .5 4.5 .5 -2 .5 .9 .5 -.6 .5 -2.4 .5 5.6 .5 -5.6 .5 -.2 .5 1.3 .5 -.1 .5 -.4 .5 -1 .5 1.1 .5 1.7 .5 -2.2 .5 -1.5 .5 .9 .5 .6 .5 -.7 .6 1.1 .5 -.5 .5 3.2 .5 -3.4 .5 -2.2 .5 2.4 .5 .8 .5 -3.4 .5 1 .5 .2 .5 -.8 .5 -.5 .5 1.2 .5 1.2 .5 -4.6 .5 2.7 .5 1.4 .5 -1.9 .5 -1.7 .5 4.3 .5 -4.9 .5 2.4 .5 -3.7 .5 2.1 .5 1.2 .5 -2.3 .5 -.2 .5 2.4 .5 -1 .5 1 .5 -2.4 .5 3.5 .5 -2 .5 2.9 .5 -4.4 .5 4.3 .5 -2 .5 -2.1 .5 .8 .5 0 .5 .6 .5 -.8 .5 1.7 .5 -3.2 .5 -1 .5 .1 .5 .9 .6 -1.8 .5 .7 .5 -.6 .5 .7 .5 .3 .5 1.1 .5 2.4 .5 -4.7 .5 .9 .5 -3 .5 5.3 .5 -4 .5 2.3 .5 -1.5 .5 1.1 .5 -1.9 .5 .4 .5 -1.3 .5 .8 .5 -.6 .5 -1.2 .5 .8 .5 .7 .5 -1.9 .5 1.5 .5 -.7 .5 .7 .5 .2 .5 2.7 .5 -4.6 .5 2 .5 -2.4 .5 -1.4 .5 3.5 .5 -2.7 .5 1 .5 -.8 .5 1.7 .5 -1.6 .5 -.3 .5 -1.5 .5 -1 .5 1.9 .5 .6 .5 -3 .5 2.4 .6 -.3 .5 -.3 .5 -.5 .5 -.5 .5 1.3 .5 -.7 .5 -2.3 .5 .1 .5 1.1 .5 0 .5 .3 .5 -1.4 .5 1.4 .5 -.9 .5 .5 .5 -.1 .2 -.7 .8 -.3 .9 .2 .9 -.9 .9 -.5 .8 .1 .9 -.2 .9 -1 .9 -1.3 .9 -.8 .8 .4 .9 -.1 .9 -.8 .9 -2.5 .9 .3 .8 1.2 .9 -1.6 .9 -.3 .9 -1 .8 .4 .9 -2.5 .9 .3 .9 -1.8 .9 -3.1 .8 -.7 .9 .4 .9 -1.2 .9 -1.6 .9 -.7 .8 -2.6 .9 -2.4 .9 -1.3 .9 -3.7 .8 -1.5 .9 -1.9 .9 -4.4 .9 -1.6 .9 -1.9 .8 -4.1 .9 -1.9 .9 -.3 .9 -2.8 .9 -.6 .8 0 .9 -3.1 .9 .8 .9 3.5 .9 0 .8 3.9 .9 -.2 .9 3.4 .9 2.6 .8 1.1 .9 3.5 .9 2.5 .9 1.2 .9 3.1 .8 .9 .9 2.5 .9 1 .9 1.7 .9 1.2 .8 2.9 .9 -1.3 .9 2.9 .9 -.7 .8 3.1 .9 .6 .9 .8 .9 -.5 .9 2.1 .8 0 .9 2.3 .9 -.3 .9 -.1 .9 .8 .8 2 .9 -1.6 .9 1.7 .9 -2.2 .9 2.2 .8 -1.8 .9 1.7 .9 .5 .9 1.1 .8 0 .9 -.3 .9 2.3 .9 -2.4 .9 2.1 .8 -.6 .9 2.3 .9 -2.6 .9 -.2 .9 .6 .8 .1 .9 .7 .9 -.4 .9 -.8 .8 1.5 .9 -.7 .9 -.2 .9 1 .9 -.4 .8 .1 .9 .7 .9 -2.6 .9 2.6 .9 -1.9 .8 .7 .9 2.7 .9 -2.1 .9 -.8 .9 .1 .8 1.4 .9 -1.2 .9 1.2 .9 -.3 .8 -.8 .9 -.5 .9 -1.4 .9 .9 .9 -.7 .8 1.8 .9 -.2 .9 -.7 .9 -2.1 .9 2.5 .8 0 .9 -1.4 .9 -1.3 .9 2.3 .8 -1.4 .9 .8 .9 -2.5 .9 .4 .9 .2 .8 .1 .9 0 .9 -.5 .9 .5 .9 0 .8 .1 .9 -1.1 .9 .4 .9 -1.5 .9 2.3 .8 -2.4 .9 -.2 .9 -.7 .9 1 .8 .8 .9 -.6 .9 -1.9 .9 1 .9 -.1 .8 0 .9 -.6 .9 -.1 .9 .9 .9 -1 .8 -1.4 .9 -.5 .9 1 .9 .1 .8 -1.6 .9 1 .9 .5 .9 -1 .9 -.8 .8 -.9 .9 1.3 .9 -1 .9 .4 .9 -1.3 .8 .5 .9 -.3 .9 .7 .9 -.7 .8 -.2 .9 2.1 .9 -3.5 .9 .4 .9 -.1 .8 -.1 .9 -.5 .9 -.4 .9 .9 .9 -1.3 .8 -.2 .9 -.2 .9 .8 .9 -1.2 .9 .6 .8 -1.4 .9 -.9 .9 .1 .9 .6 .8 -.2 .9 -.2 .9 -.8 .9 .4 .9 -.4 .8 1 .9 -1.3 .9 -.3 .9 -.4 .9 -1.4 .8 1.4 .9 -.3 .9 -1.5 .9 .7 .8 -.8 .9 -.5 .9 -.2 .9 .2 .9 -1.3 .8 -.6 .9 1.2 .9 -.7 .9 -1 .9 .4 .8 .2 .9 -.7 .9 -1 .9 .8 .9 -1 .8 -.3 .9 .3 .9 -1 .9 -.3 .8 -.5 .9 -.2 .9 1 .9 -1.6 .9 -.1 .8 -.5 .9 .7 .9 -1.2 .9 .1 .9 .6 .8 -1.5 .9 1 .9 0 .9 -.9 .8 .5 .9 -.6 .9 .3 .9 -.3 .9 -.4 .8 .5 .9 -.6 .9 0 .9 .8 .9 -.9 .8 .1 .9 .2 .9 -.5 .9 -.3 .9 .5 .8 1.1 .9 -1 .9 .3 .9 .1 .8 -.4 .9 .4 .9 -1 .9 .6 .9 .1 .8 -.4 .9 0 .9 -.3 .9 .2 .9 .3 .8 -.2 .9 1.1 .9 -.5 .9 -1.3 .8 .5 .9 -1.2 .9 -.1 .9 1.3 .9 -.9 .8 -1.3 .9 1.6 .9 -.7 .9 .1 .9 -.1 .8 -.1 .9 -.3 .9 -.5 .9 .6 .9 -.8 .8 .4 .9 -.7 .9 -.1 .9 .4 .8 -.6 .9 .2 .9 -.1 .9 -1 .9 1.2 .8 -1.3 .9 -.2 .9 .4 .9 -.9 .9 -.1 .8 .9 .9 -1 .9 -.1 .9 .3 .8 -.7 .9 -.3 .9 .5 .9 .4 .9 -1.2 .8 .3 .9 .3 .9 -.8 .9 .7 .9 -1.1 .8 -.9 .9 1.7 .9 -1.6 .9 .4 .8 -.4 .9 0 .9 -.8 .9 .1 .9 .1 .8 .1 .9 -.6 .9 -.8 .9 .7 .9 -.8 .8 -.2 .9 .8 .9 -1.5 .9 .3 .9 -1.1 .8 0 .9 .6 .9 -.3 .9 .2 .8 -.1 .9 -1.1 .9 .2 .9 -.1 .9 -.3 .8 -.6 .9 -.3 .9 .1 .9 -.1 .9 -.3 .8 -1 .9 1.3 .9 -.6 .9 -.8 .8 -.2 .9 -.6 .9 -.3 .9 -.6 .9 .8 .8 -.9 .9 0 .9 -.8 .9 -.1 .9 -.7 .8 .2 .9 -.8 .9 -.2 .9 -.6"/>
<path d="M125.8 861.1l.8 -6.5 .9 .2 .9 -7.6 .9 2.6 .8 2.5 .9 -9.3 .9 2 .9 .7 .9 .4 .8 3.7 .9 -4.4 .9 5.6 .9 -6.5 .9 4.6 .8 5.2 .9 -5.7 .9 -2.5 .9 5.9 .8 -3 .9 3.4 .9 .9 .9 4.8 .9 -8.6 .8 4.1 .9 -3.5 .9 5.5 .9 -.1 .9 -3.8 .8 4.3 .9 -2.1 .9 6.1 .9 -2.3 .8 -.1 .9 3.4 .9 -.6 .9 2.3 .9 -6 .8 4.8 .9 -1.4 .9 -3.6 .9 4.1 .9 1.9 .8 -.9 .9 -.8 .9 -5.1 .9 2.8 .9 1.1 .8 -2.3 .9 -2.2 .9 5.8 .9 -4.9 .8 1.8 .9 .6 .9 6.4 .9 -5.9 .9 -3.1 .8 5 .9 -4.8 .9 5.8 .9 3.9 .9 -1.3 .8 1.9 .9 0 .9 3.7 .9 -2.7 .8 4.2 .9 -.6 .9 -2.3 .9 4.6 .9 -2.5 .8 -2.9 .9 -2.3 .9 5.1 .9 -1.3 .9 -1.5 .8 -1.9 .9 .5 .9 2.2 .9 1.2 .9 1 .8 -1.7 .9 -4.1 .9 6.6 .9 -7.2 .8 8 .9 -5.6 .9 -1.7 .9 2 .9 -7 .8 6.3 .9 1 .9 -6.7 .9 6.5 .9 1.2 .8 -3.9 .9 .9 .9 -1.2 .9 -1 .8 4.2 .9 -4.2 .9 -4.6 .9 6.6 .9 -1.8 .8 -2 .9 -2.2 .9 4.8 .9 .2 .9 .1 .8 -5 .9 .2 .9 5.9 .9 .1 .9 -2.1 .8 .1 .9 -4.4 .9 .1 .9 -4.3 .8 1.6 .9 2.1 .9 -2.6 .9 4.4 .9 -1 .8 -1.7 .9 -3 .9 6.1 .9 -6.2 .9 0 .8 2.9 .9 -1.9 .9 -1.7 .9 1.2 .8 -2.1 .9 3.5 .9 -4.4 .9 -.1 .9 -.4 .8 3.9 .9 1.8 .9 -6 .9 2.6 .9 -.1 .8 -.1 .9 .8 .9 -2.4 .9 -.1 .9 0 .8 -2.5 .9 3.3 .9 -5.3 .9 6.8 .8 -10.5 .9 8.1 .9 -4.3 .9 -1 .9 1.7 .8 -1.8 .9 1.5 .9 2.9 .9 -4.4 .9 -1.8 .8 2.8 .9 .9 .9 -1.7 .9 -1.5 .8 -.8 .9 -1 .9 .8 .9 -1.1 .9 5.2 .8 -7.7 .9 3.6 .9 -1.9 .9 2.2 .9 -.6 .8 -.5 .9 -2.7 .9 -.1 .9 1.3 .8 -2.4 .9 3.6 .9 -1.6 .9 1.2 .9 -2.8 .8 1.7 .9 -1.6 .9 -1.3 .9 5.5 .9 -6.5 .8 2.5 .9 .8 .9 2 .9 -2.5 .9 2.5 .8 -3.5 .9 .1 .9 -3 .9 2.8 .8 -2.1 .9 -.4 .9 -1.4 .9 2.8 .9 -1.5 .8 2.7 .9 -.8 .9 -1.3 .9 -.5 .9 1.3 .8 -1.3 .9 -1.6 .9 1.2 .9 -.6 .8 .7 .9 -3 .9 -.6 .9 1.6 .9 .1 .8 -2.2 .9 1.1 .9 1 .9 .5 .9 -1.1 .8 -3.3 .9 2.7 .9 -3.9 .9 2.8 .9 -.1 .8 -1.8 .9 1.3 .9 -.9 .9 1.1 .8 -.1 .9 -.7 .9 -1.2 .9 .5 .9 .9 .8 -2.5 .9 .3 .9 -.1 .9 0 .9 1.1 .8 -3.6 .9 1.5 .9 -1.1 .9 -1.1 .8 0 .9 .4 .9 -.1 .9 -.6 .9 -.8 .8 -.1 .9 .5 .9 -1.1 .9 -.4 .9 -.6 .8 0 .9 -1.5 .9 .5 .9 -1 .9 .1 .8 0 .9 -.3 .9 -1.3 .9 -1.2 .8 -1.3 .9 .4 .9 -.5 .9 -.8 .9 -2.3 .8 -.1 .9 -.6 .9 -2 .9 .4 .9 -2.4 .8 -1.3 .9 -1.4 .9 -.8 .9 -3.3 .8 -2.3 .9 .3 .9 -3.1 .9 -2.7 .9 -3.5 .8 -.5 .9 -2.2 .9 -3.3 .9 -4 .9 -1.1 .8 -2.5 .9 -3.1 .9 1.2 .9 -1 .9 -2.6 .8 .4 .9 2.5 .9 .1 .9 2.3 .8 2.2 .9 3.2 .9 2.3 .9 2.9 .9 1.8 .8 2.6 .9 .9 .9 3 .9 3.6 .9 .4 .8 1 .9 2.5 .9 .9 .9 2.2 .8 .7 .9 2.4 .9 -.1 .9 2.5 .9 -.9 .8 2.9 .9 1.2 .9 -1.1 .9 1.2 .9 .5 .8 .4 .9 .9 .9 1.1 .9 -.3 .8 .4 .9 .4 .9 -.7 .9 2.4 .9 -.2 .8 0 .9 1 .9 .8 .9 -.1 .9 -.9 .8 1.2 .9 -.5 .9 1.2 .9 -.6 .9 1 .8 .3 .9 -.6 .9 .2 .9 -.9 .8 2.4 .9 -1.4 .9 -.7 .9 .3 .9 1.4 .8 .3 .9 -.1 .9 -.5 .9 .2 .9 0 .8 -.1 .9 1.2 .9 .1 .9 .2 .8 0 .9 -1 .9 -.3 .9 -1.7 .9 1.3 .8 .3 .9 -1.1 .9 1.4 .9 -.8 .9 -.6 .8 0 .9 .2 .9 .4 .9 .5 .9 -.9 .8 .2 .9 -1.1 .9 .5 .9 -.6 .8 1.3 .9 -1.9 .9 1.1 .9 .4 .9 -.3 .8 -.6 .9 -1.4 .9 .2 .9 1.1 .9 -1 .8 0 .9 .8 .9 -.5 .9 .5 .8 -.9 .9 1 .9 -1.4 .9 0 .9 -.3 .8 -.1 .9 -1.5 .9 .8 .9 -.5 .9 -.5 .8 -.2 .9 -.1 .9 .7 .9 .2 .9 -.4 .8 -.4 .9 -.4 .9 -.1 .9 -.9 .8 .5 .9 -1.3 .9 .3 .9 .8 .9 -1 .8 2.1 .9 -2.8 .9 .3 .9 -.2 .9 1.1 .8 -2.8 .9 1.5 .9 -.3 .9 -1 .8 .6 .9 .1 .9 -1.1 .9 .8 .9 -1.3 .8 .2 .9 -.8 .9 1.1 .9 -1.6 .9 .3 .8 -1.2 .9 1.2 .9 -1.6 .9 .4 .9 -.3 .8 .6 .9 -.9 .9 -.3 .9 .6 .8 -.1 .9 -.4 .9 -1.5 .9 .5 .9 -.7 .8 .1 .9 -.1 .9 -.3 .9 .1 .9 -1.1 .8 .3 .9 -.3 .9 .5 .9 -1.1 .8 .2 .9 -.3 .9 -1.1 .9 .8 .9 -.7 .8 -.7 .9 -.5 .9 .5 .9 -.7 .9 -.2 .8 .4 .9 .2 .9 -.4 .9 -1.5 .9 0 .8 .4 .9 -.6 .9 -.4 .9 -.3 .8 -.4 .9 -1.3 .9 1.1 .9 -.7 .9 .1 .8 -.3 .9 -.2 .9 -.6 .9 -.1 .9 -.6 .8 -.2 .9 .3 .9 -1.5 .9 1.2 .8 -.8 .9 -.9 .9 1.2 .9 -.9 .9 -.1 .8 .4 .9 .9 .9 -1.4 .9 .5 .9 .2 .8 -.8 .9 .8 .9 -.8 .9 .7 .8 -.5 .9 .7 .9 -.3 .9 .2 .9 -.1 .8 -.4 .9 .2 .9 -.2 .9 -.4 .9 .5 .8 .7 .9 -.6 .9 -.2 .9 -.4 .9 -.1 .8 0 .9 .4 .9 -.4 .9 .8 .8 -1.2 .9 .2 .9 -.1 .9 .2 .9 -.3 .8 .1 .9 -.6 .9 .6 .9 -1 .9 0 .8 -.7 .9 .7 .9 -.2 .9 -.2 .8 -.1 .9 -.1 .9 .2 .9 -.1 .9 -.4 .8 -.2 .9 .2 .9 -.2 .9 -.5 .9 -.5 .8 .2 .9 -.5 .9 -.2 .9 -.1 .9 .3 .8 -.2 .9 .4 .9 -.6 .9 -.6 .8 .4 .9 -1 .9 -.2 .9 .5 .9 -.6 .8 .6 .9 -.3 .9 -.4 .9 -.3 .9 -.1 .8 .1 .9 -1.1 .9 .4 .9 -.2 .8 -.3 .9 0 .9 0 .9 -.1 .9 .2 .8 -1.3 .9 .7 .9 0 .9 -.4 .9 .1 .8 -1.4 .9 .3 .9 -.5 .9 -.2 .9 .1 .8 -.2 .9 .2 .9 -.4 .9 0 .8 -.4 .9 0 .9 -.8 .9 0 .9 0 .8 .3 .9 -.9 .9 -.3 .9 .1 .9 .1 .8 -.7 .9 -.4 .9 .7 .9 -1 .8 .5 .9 -.8 .9 -.8 .9 .3 .9 -.4 .8 0 .9 -.4 .9 -1 .9 0 .9 .1 .8 -.4 .9 -.5 .9 -1 .9 .1 .9 -.7 .8 0 .9 -.2"/>
<path d="M125.8 844.3l.8 -7.3 .9 -1.6 .9 -1.7 .9 -1.7 .8 -1.5 .9 1.7 .9 1.4 .9 -5.4 .9 3.9 .8 2.5 .9 1.7 .9 1.5 .9 -3.6 .9 -3.2 .8 5.9 .9 -2.1 .9 2.9 .9 -5 .8 1.3 .9 .2 .9 -1.9 .9 -.6 .9 1 .8 3 .9 1.4 .9 -.3 .9 1.2 .9 -5.5 .8 4.3 .9 -.5 .9 1.4 .9 -2.2 .8 5.6 .9 -2.7 .9 1.5 .9 .9 .9 3.3 .8 -5.4 .9 3.1 .9 0 .9 -1.2 .9 -.1 .8 -1.8 .9 3 .9 -1.8 .9 -.2 .9 .1 .8 -1.2 .9 1.1 .9 -2 .9 3.6 .8 1.6 .9 -2.6 .9 -2.2 .9 3.2 .9 .7 .8 .3 .9 .2 .9 2.1 .9 .9 .9 5.4 .8 -4.2 .9 3.2 .9 3.9 .9 -2.9 .8 2.3 .9 -1.3 .9 5 .9 -4.8 .9 2 .8 4 .9 -4.5 .9 1.6 .9 .8 .9 -2.8 .8 4 .9 -4.5 .9 1 .9 .9 .9 -2.9 .8 2.3 .9 1.3 .9 -2.1 .9 .5 .8 -1.9 .9 2.8 .9 .1 .9 -3.5 .9 1.5 .8 -.2 .9 -3.9 .9 5.3 .9 -3.1 .9 3 .8 -2.8 .9 -1.8 .9 -.7 .9 4 .8 -4.3 .9 .3 .9 1.6 .9 -4.8 .9 3.9 .8 1.4 .9 -2.4 .9 3.8 .9 -6.3 .9 -.2 .8 3.1 .9 -2 .9 -.2 .9 -2.6 .9 4 .8 1 .9 .7 .9 -3.1 .9 1.7 .8 -3.9 .9 .3 .9 1.2 .9 .5 .9 -3.9 .8 2.1 .9 -1 .9 -1.6 .9 3.6 .9 -.9 .8 -6.2 .9 4.2 .9 1 .9 -1.3 .8 .2 .9 .5 .9 -1.4 .9 -1 .9 -.4 .8 -1.3 .9 3.7 .9 -.6 .9 -4.4 .9 2 .8 -3.1 .9 .4 .9 3.3 .9 -3.4 .9 2.3 .8 -2.4 .9 -1.9 .9 -1.6 .9 3.1 .8 -1.5 .9 .4 .9 -1 .9 4.9 .9 -3.7 .8 -1.2 .9 -.6 .9 1.6 .9 -2.7 .9 -.6 .8 1.3 .9 .2 .9 -.4 .9 -.6 .8 -1.7 .9 -.7 .9 2.4 .9 .5 .9 -.4 .8 -2.6 .9 .8 .9 -.3 .9 -.4 .9 0 .8 .3 .9 1.1 .9 -.7 .9 -1.2 .8 -.5 .9 .8 .9 -.2 .9 -2.3 .9 2 .8 -1 .9 .4 .9 .5 .9 .5 .9 -1.3 .8 .1 .9 -2 .9 1.9 .9 -1 .9 -1.3 .8 .6 .9 -.9 .9 -.6 .9 2.4 .8 -1.5 .9 .3 .9 -2.5 .9 1.2 .9 -.8 .8 -1.4 .9 1.8 .9 -.7 .9 -.5 .9 .4 .8 -1.7 .9 .3 .9 -.4 .9 .7 .8 .1 .9 -.2 .9 -.3 .9 .9 .9 -1.9 .8 -.7 .9 .5 .9 .2 .9 -.7 .9 -.4 .8 -.4 .9 -1.4 .9 1.8 .9 -1.2 .9 -.5 .8 .2 .9 0 .9 .3 .9 -.6 .8 -1.2 .9 -.8 .9 1.2 .9 -1 .9 -.3 .8 -.6 .9 .2 .9 -.4 .9 -.5 .9 1.1 .8 -1.1 .9 .9 .9 -.1 .9 -1.1 .8 .2 .9 -1.6 .9 -.6 .9 .5 .9 -.4 .8 -.3 .9 -.3 .9 -.7 .9 -.5 .9 .2 .8 -.3 .9 -.6 .9 -1.2 .9 .3 .9 -1.7 .8 .5 .9 -1.5 .9 .9 .9 -.9 .8 -1.4 .9 -.7 .9 -.4 .9 -2 .9 .2 .8 -1 .9 -.5 .9 -2.3 .9 -.7 .9 -.9 .8 -.2 .9 -2.5 .9 -1 .9 -2.1 .8 -2 .9 -1 .9 -2.5 .9 -2.5 .9 -1.9 .8 -2.1 .9 -2.1 .9 -2.9 .9 -2.3 .9 -3.9 .8 -2.2 .9 -1.6 .9 -2.8 .9 -.9 .9 .1 .8 -2.8 .9 .4 .9 2.5 .9 1.2 .8 1.6 .9 2.6 .9 2.9 .9 2.4 .9 2.5 .8 2.7 .9 2.1 .9 2.6 .9 2.4 .9 1.7 .8 2.8 .9 .1 .9 3.3 .9 .6 .8 1.2 .9 1.2 .9 1.3 .9 .6 .9 2.3 .8 .4 .9 .7 .9 1.2 .9 .8 .9 -.3 .8 1.7 .9 .5 .9 .5 .9 .5 .8 .3 .9 .7 .9 .1 .9 .6 .9 .2 .8 -.1 .9 1.5 .9 -1.1 .9 1.4 .9 -.3 .8 .5 .9 .5 .9 1.1 .9 -1.7 .9 1.5 .8 .2 .9 -.9 .9 .7 .9 -.8 .8 .2 .9 .7 .9 .3 .9 -.1 .9 1.2 .8 -.7 .9 .1 .9 .4 .9 -.3 .9 1 .8 -1.2 .9 -.1 .9 1.4 .9 -.7 .8 -.8 .9 .5 .9 .8 .9 -.1 .9 -1.1 .8 -.5 .9 1.4 .9 -.7 .9 .4 .9 -.4 .8 -.4 .9 .1 .9 .2 .9 -1.5 .9 1 .8 -.1 .9 -.7 .9 .4 .9 0 .8 -.7 .9 .9 .9 -1 .9 -.3 .9 .1 .8 .3 .9 -.2 .9 .7 .9 -.9 .9 -.4 .8 -.4 .9 .3 .9 .1 .9 .1 .8 -.5 .9 -.3 .9 -.6 .9 .4 .9 .1 .8 -.3 .9 0 .9 -.2 .9 .8 .9 -.5 .8 -.3 .9 -.9 .9 .1 .9 -.2 .9 -.7 .8 .9 .9 -1.1 .9 .2 .9 .3 .8 -1.1 .9 1.2 .9 -.3 .9 -.6 .9 -.4 .8 .1 .9 .7 .9 -1.1 .9 -.2 .9 -1.4 .8 .3 .9 .4 .9 .3 .9 -.8 .8 .4 .9 -.8 .9 -.2 .9 .1 .9 -.5 .8 .1 .9 -.1 .9 -1.1 .9 .2 .9 .1 .8 0 .9 -.6 .9 -.4 .9 -.3 .9 -.4 .8 .1 .9 .5 .9 -1.5 .9 .1 .8 -.1 .9 -.4 .9 .9 .9 -.6 .9 -.2 .8 -.9 .9 .7 .9 -.6 .9 -.9 .9 .1 .8 .2 .9 -1.1 .9 .9 .9 -.8 .8 0 .9 -.6 .9 .1 .9 -.1 .9 -.6 .8 .3 .9 -.9 .9 0 .9 -.7 .9 .2 .8 -.1 .9 -.7 .9 -.5 .9 .9 .9 -1 .8 -.5 .9 .5 .9 -.5 .9 -.7 .8 .2 .9 -.3 .9 -1 .9 .6 .9 -.3 .8 .2 .9 -.6 .9 -.2 .9 -1.2 .9 -.1 .8 .6 .9 -1.2 .9 .2 .9 .1 .8 -.4 .9 0 .9 .3 .9 .3 .9 -.3 .8 -.3 .9 .1 .9 .1 .9 -.6 .9 .6 .8 -.6 .9 .4 .9 -.2 .9 .4 .8 -.4 .9 .3 .9 .3 .9 -.5 .9 0 .8 -.3 .9 .2 .9 .4 .9 -.1 .9 .6 .8 -.4 .9 -.8 .9 0 .9 .2 .9 .1 .8 -.1 .9 0 .9 .5 .9 -.3 .8 -.7 .9 -.1 .9 .2 .9 .1 .9 -.1 .8 -.1 .9 0 .9 .1 .9 -.7 .9 .1 .8 -.2 .9 -.7 .9 .2 .9 .2 .8 -.4 .9 .4 .9 -.8 .9 .1 .9 -.1 .8 -.3 .9 -.4 .9 .4 .9 0 .9 -.9 .8 .4 .9 -.5 .9 .4 .9 -.4 .9 .1 .8 -.5 .9 .1 .9 0 .9 -.7 .8 .2 .9 .4 .9 -.6 .9 0 .9 0 .8 -.3 .9 -.2 .9 -.3 .9 .1 .9 .1 .8 -.5 .9 -.5 .9 .4 .9 -.7 .8 -.1 .9 .1 .9 -.3 .9 .1 .9 -.3 .8 0 .9 -.5 .9 -.4 .9 .3 .9 -.6 .8 .6 .9 -.4 .9 -.2 .9 -.8 .9 .4 .8 -.5 .9 .5 .9 -.7 .9 -.3 .8 -.1 .9 .5 .9 -.9 .9 -.3 .9 -.3 .8 0 .9 .3 .9 -.6 .9 -.4 .9 .2 .8 -.5 .9 0 .9 -.3 .9 -.4 .8 .1 .9 -1 .9 .4 .9 -.3 .9 0 .8 -.4 .9 -.2 .9 -.1 .9 -.2 .9 -.8 .8 -.3 .9 .2 .9 -.5 .9 -.8 .9 -.5 .8 -.6 .9 -.1"/>
<path d="M125.8 831.7l.8 -1.9 .9 -9.1 .9 2.4 .9 -2.6 .8 -3 .9 1.5 .9 -.4 .9 2.5 .9 -2.3 .8 -.8 .9 -.3 .9 1.6 .9 -.4 .9 0 .8 1.7 .9 .2 .9 -3.6 .9 3.9 .8 -2.8 .9 1.4 .9 -2 .9 2.5 .9 -1.8 .8 .2 .9 .8 .9 -.7 .9 1.6 .9 -.6 .8 1 .9 -1.1 .9 2 .9 2.6 .8 -.4 .9 -.1 .9 1 .9 -2.9 .9 1.3 .8 -.4 .9 2.3 .9 -.4 .9 -1.9 .9 3.2 .8 -2.6 .9 .2 .9 .6 .9 -.9 .9 1.3 .8 -1.9 .9 1.8 .9 .2 .9 -3.3 .8 3.1 .9 1.9 .9 -3.9 .9 2.2 .9 4.7 .8 -3.7 .9 -.1 .9 2.5 .9 .1 .9 4.2 .8 1 .9 3.7 .9 .1 .9 -.6 .8 2.1 .9 1.1 .9 3.2 .9 -1.7 .9 1.4 .8 -2.8 .9 .9 .9 -.2 .9 1.6 .9 -3.8 .8 3.8 .9 -1.6 .9 -3.5 .9 3.7 .9 1.4 .8 -1.7 .9 -1.6 .9 1.4 .9 3.5 .8 -2.9 .9 2.9 .9 -5.4 .9 2.2 .9 .4 .8 -1.7 .9 0 .9 1.9 .9 -4 .9 2 .8 1.8 .9 -4.2 .9 -.3 .9 -.8 .8 1.8 .9 1.8 .9 -2.7 .9 -2.2 .9 1.9 .8 -1 .9 2.8 .9 -2.6 .9 -.1 .9 2.9 .8 -.1 .9 -1.4 .9 -1.4 .9 -.8 .9 .7 .8 -.5 .9 -.2 .9 -.7 .9 -.8 .8 -.2 .9 .5 .9 -.6 .9 .6 .9 -1.9 .8 1.5 .9 -3.1 .9 1.9 .9 -1.4 .9 1.7 .8 -.8 .9 -1 .9 -.1 .9 .5 .8 .5 .9 -1.9 .9 -.5 .9 -.8 .9 -1.2 .8 1.6 .9 2 .9 -2.6 .9 1.9 .9 -1 .8 -3.3 .9 .3 .9 1.2 .9 -.2 .9 -1 .8 1.8 .9 -3.1 .9 .8 .9 -2.9 .8 3.1 .9 -2.6 .9 1.7 .9 -2.3 .9 2 .8 -2.2 .9 1.1 .9 .2 .9 -1 .9 -1 .8 -.1 .9 -1.6 .9 .6 .9 3.5 .8 -2.6 .9 1.4 .9 -1.9 .9 -1.2 .9 1.8 .8 -.4 .9 -1.5 .9 .2 .9 -2.1 .9 1.1 .8 -.4 .9 -1.3 .9 2 .9 -.7 .8 .8 .9 -1.4 .9 -.9 .9 -.5 .9 1.1 .8 .4 .9 -.1 .9 .4 .9 -1.6 .9 -1.2 .8 3 .9 -.4 .9 -3.2 .9 2.3 .9 -1.8 .8 1.1 .9 -1.9 .9 -.2 .9 .3 .8 -.7 .9 .3 .9 -.6 .9 -1.1 .9 .3 .8 1.1 .9 -.1 .9 -.7 .9 -.2 .9 -.4 .8 .3 .9 -1.1 .9 .2 .9 -.4 .8 0 .9 -.7 .9 1 .9 -2 .9 .6 .8 -.3 .9 -.4 .9 -.5 .9 0 .9 0 .8 0 .9 .7 .9 -1.4 .9 0 .9 -.2 .8 -1.9 .9 2.2 .9 -1.3 .9 -.9 .8 -.1 .9 -.5 .9 1.2 .9 -.5 .9 -1.1 .8 .2 .9 -1.2 .9 .5 .9 -.3 .9 -.4 .8 .1 .9 -.4 .9 .1 .9 -.6 .8 -.1 .9 -.6 .9 .5 .9 -.3 .9 -1.2 .8 -.2 .9 .2 .9 -.7 .9 0 .9 -1.8 .8 1.3 .9 -2 .9 .8 .9 -1 .9 -.2 .8 -.5 .9 -1.1 .9 -.5 .9 -.1 .8 -.4 .9 -2 .9 -.4 .9 -.2 .9 -.6 .8 -1.2 .9 -.8 .9 -1.5 .9 -.1 .9 -1.6 .8 -.9 .9 -2.3 .9 -1.6 .9 -.7 .8 -1.9 .9 -2.2 .9 -1.1 .9 -1.8 .9 -3 .8 -2.2 .9 -2.1 .9 -3.3 .9 -2.2 .9 -2 .8 -3.6 .9 -2.5 .9 -3.2 .9 -1.3 .9 -1.4 .8 -1.2 .9 -.1 .9 1.2 .9 .6 .8 1.9 .9 1.5 .9 2.1 .9 4.2 .9 2.6 .8 2.7 .9 2.5 .9 2.5 .9 2.1 .9 1.8 .8 3 .9 2 .9 2 .9 .4 .8 1.4 .9 2.6 .9 1.3 .9 .5 .9 .7 .8 1.1 .9 1.3 .9 .7 .9 1 .9 1.1 .8 -.3 .9 1.5 .9 1.1 .9 .3 .8 1 .9 -.2 .9 .1 .9 1.4 .9 -.6 .8 0 .9 1.1 .9 1 .9 .2 .9 .1 .8 .6 .9 .3 .9 -.2 .9 .2 .9 -.1 .8 .9 .9 -1.1 .9 .5 .9 .3 .8 .8 .9 -.9 .9 1 .9 -.8 .9 .5 .8 .9 .9 -.1 .9 -.8 .9 .4 .9 .6 .8 -.1 .9 .1 .9 .5 .9 -.2 .8 .2 .9 -.2 .9 -.4 .9 .6 .9 -.8 .8 .2 .9 -.3 .9 -.1 .9 -.2 .9 .1 .8 -.1 .9 .3 .9 -.4 .9 .5 .9 -.4 .8 -.5 .9 .3 .9 -.3 .9 .5 .8 -1.1 .9 .7 .9 -.5 .9 0 .9 -.5 .8 .5 .9 .1 .9 .2 .9 -.7 .9 .2 .8 -.8 .9 -.4 .9 1.3 .9 -.5 .8 -.8 .9 -.4 .9 .2 .9 -.1 .9 -.2 .8 -.2 .9 -.5 .9 .3 .9 .5 .9 -.4 .8 -.4 .9 .3 .9 -.4 .9 0 .9 -.1 .8 -.6 .9 .3 .9 .1 .9 -.3 .8 -.4 .9 -.9 .9 .6 .9 -.6 .9 .2 .8 .8 .9 -1.1 .9 .2 .9 0 .9 -.3 .8 -1.1 .9 .9 .9 -.5 .9 -.8 .8 0 .9 .6 .9 -.7 .9 -.1 .9 -.3 .8 -.5 .9 .2 .9 -.3 .9 -.7 .9 .8 .8 -.6 .9 -.5 .9 .3 .9 -.4 .9 0 .8 -.6 .9 0 .9 -.6 .9 -.3 .8 .1 .9 -.1 .9 -.4 .9 -.2 .9 .2 .8 -.9 .9 0 .9 -.4 .9 .5 .9 -.9 .8 -.6 .9 .2 .9 .4 .9 -.7 .8 -.2 .9 -.3 .9 -.1 .9 -.5 .9 0 .8 -.4 .9 0 .9 -.5 .9 -.5 .9 .2 .8 -.6 .9 .2 .9 -.4 .9 -.3 .9 -.6 .8 .3 .9 -.8 .9 .5 .9 -.6 .8 -.5 .9 -.2 .9 .2 .9 -.2 .9 -.8 .8 .3 .9 -.8 .9 .1 .9 -.4 .9 -.8 .8 0 .9 0 .9 .4 .9 -.6 .8 -.1 .9 0 .9 -.4 .9 .7 .9 -.5 .8 0 .9 .2 .9 -.6 .9 .7 .9 -.3 .8 -.1 .9 .6 .9 -.2 .9 -.2 .8 -.4 .9 0 .9 .1 .9 .1 .9 .6 .8 -.6 .9 .2 .9 -.4 .9 0 .9 -.2 .8 .4 .9 0 .9 .4 .9 -.3 .9 .3 .8 -.5 .9 .4 .9 -.3 .9 .1 .8 -.1 .9 -.3 .9 .1 .9 -.3 .9 .2 .8 -.7 .9 .4 .9 -.5 .9 -.4 .9 .9 .8 -.4 .9 -.3 .9 -.5 .9 .3 .8 -.3 .9 .1 .9 -.4 .9 .2 .9 -.5 .8 .7 .9 -.4 .9 -.9 .9 .2 .9 .1 .8 -.8 .9 .1 .9 -.1 .9 .2 .9 -.4 .8 -.1 .9 .3 .9 -.6 .9 0 .8 -.4 .9 -.2 .9 .3 .9 -.1 .9 -.3 .8 -.3 .9 .1 .9 -.2 .9 -.3 .9 -.1 .8 -.3 .9 0 .9 .1 .9 0 .8 -.6 .9 0 .9 -.1 .9 -.2 .9 .1 .8 -.4 .9 .3 .9 -.6 .9 -.1 .9 -.6 .8 .1 .9 -.1 .9 -.2 .9 -.3 .9 .1 .8 -.3 .9 -.1 .9 -.7 .9 .3 .8 .2 .9 -.7 .9 -.6 .9 .5 .9 -1 .8 .5 .9 -.4 .9 .1 .9 -.3 .9 0 .8 -.2 .9 0 .9 -.8 .9 .2 .8 -.5 .9 -.2 .9 0 .9 -.4 .9 -.2 .8 -.2 .9 -.3 .9 -.3 .9 -.1 .9 -.3 .8 -.5 .9 -.5 .9 -.6 .9 -.5 .9 -.2 .8 -.5 .9 -.3"/>
<path d="M125.8 824.5l.8 -8.7 .9 -3.3 .9 -1.2 .9 -2.6 .8 -3.4 .9 1.6 .9 .6 .9 -2.4 .9 2.7 .8 -.7 .9 .4 .9 0 .9 -.8 .9 .3 .8 1.4 .9 -.6 .9 -.2 .9 .5 .8 -.6 .9 .6 .9 -.4 .9 -1.2 .9 .8 .8 -1.8 .9 .5 .9 .7 .9 -.3 .9 .2 .8 0 .9 .2 .9 1 .9 1.4 .8 -1.7 .9 .9 .9 .9 .9 -.9 .9 .7 .8 .8 .9 -.2 .9 -2.7 .9 1.8 .9 -.2 .8 1.4 .9 -1.2 .9 -2 .9 1.8 .9 -.9 .8 -.4 .9 .5 .9 -.8 .9 1.7 .8 0 .9 1.4 .9 -3.4 .9 3.1 .9 1 .8 -.2 .9 3.3 .9 1.2 .9 2.9 .9 1.2 .8 2.3 .9 .8 .9 2.3 .9 1.9 .8 .7 .9 .6 .9 .8 .9 -1 .9 .6 .8 .8 .9 1.6 .9 -1.6 .9 1.8 .9 -1.5 .8 .1 .9 .8 .9 .5 .9 .1 .9 -2.8 .8 2.7 .9 -.1 .9 -1.1 .9 .6 .8 -.7 .9 2.2 .9 -.3 .9 -4.7 .9 3.3 .8 .1 .9 -.9 .9 -1 .9 2.2 .9 -1.9 .8 .1 .9 -.9 .9 .5 .9 .6 .8 .2 .9 1.5 .9 -3.7 .9 2.4 .9 -1.3 .8 -2.4 .9 2 .9 -1.3 .9 .5 .9 -1.2 .8 .5 .9 .3 .9 -2.3 .9 1.5 .9 .8 .8 -1.4 .9 -1.1 .9 1.4 .9 -2.2 .8 -.2 .9 -1.9 .9 2.8 .9 -1.5 .9 2 .8 -1.5 .9 -.9 .9 -.5 .9 .2 .9 -.2 .8 .2 .9 -.5 .9 -1 .9 -.6 .8 -.4 .9 -.6 .9 -.5 .9 2.7 .9 -1.5 .8 -.7 .9 .2 .9 -2 .9 0 .9 .6 .8 -.5 .9 -1.4 .9 1.3 .9 -.3 .9 -1.5 .8 .2 .9 -1.2 .9 .8 .9 -.7 .8 1 .9 0 .9 -1 .9 2.1 .9 -3 .8 -.8 .9 .5 .9 0 .9 -1.4 .9 .8 .8 -1.1 .9 -1.3 .9 1 .9 -.4 .8 .2 .9 -.1 .9 -.2 .9 0 .9 -1 .8 1.9 .9 -1.3 .9 -.8 .9 .9 .9 -.7 .8 .2 .9 -1 .9 -.5 .9 -.6 .8 .5 .9 .8 .9 -.9 .9 -.4 .9 -.8 .8 2.3 .9 -1.9 .9 1.3 .9 -1.9 .9 0 .8 -.2 .9 -.5 .9 .2 .9 .4 .9 -.8 .8 -.7 .9 .6 .9 -.3 .9 .5 .8 -1.6 .9 .8 .9 -.1 .9 -.4 .9 0 .8 -.5 .9 -1.1 .9 .1 .9 -.6 .9 -.2 .8 1.1 .9 -1 .9 -.8 .9 -.6 .8 1.8 .9 -.2 .9 -1.2 .9 .2 .9 .1 .8 -1 .9 .4 .9 .5 .9 -1.4 .9 -.3 .8 -.5 .9 -.4 .9 .1 .9 0 .9 -.1 .8 .2 .9 -.8 .9 -.9 .9 -.1 .8 -.9 .9 .7 .9 .5 .9 -1.4 .9 -.3 .8 .6 .9 -.1 .9 -.9 .9 -.5 .9 .5 .8 -.6 .9 -.1 .9 -.1 .9 -.2 .8 -.8 .9 -.1 .9 -.2 .9 .5 .9 -2 .8 .7 .9 -.6 .9 0 .9 -.9 .9 .4 .8 -1 .9 -.3 .9 -.8 .9 .3 .9 -.7 .8 -.6 .9 -1.4 .9 .8 .9 -1.2 .8 -.3 .9 -1 .9 -.8 .9 -.6 .9 -.8 .8 -.9 .9 -.6 .9 -1 .9 -.6 .9 -1.5 .8 -1.1 .9 -1.4 .9 -1.7 .9 -1.4 .8 -1.6 .9 -1.9 .9 -.7 .9 -2.9 .9 -1.9 .8 -2.3 .9 -2 .9 -3.2 .9 -2.9 .9 -2.7 .8 -2.5 .9 -3 .9 -2.8 .9 -2.7 .9 -1.8 .8 -1 .9 -.8 .9 .1 .9 .7 .8 1.7 .9 1.6 .9 2.9 .9 2.7 .9 2.4 .8 3.1 .9 2.6 .9 3.2 .9 1.6 .9 2.6 .8 2.2 .9 1.8 .9 2 .9 2 .8 .8 .9 2.3 .9 .9 .9 1 .9 1.9 .8 .9 .9 1.3 .9 .3 .9 1.3 .9 1.1 .8 -.1 .9 .8 .9 1.3 .9 -.1 .8 .9 .9 -.3 .9 .8 .9 1.2 .9 .3 .8 .6 .9 .1 .9 .4 .9 0 .9 .5 .8 .8 .9 .1 .9 -.5 .9 .3 .9 .6 .8 .2 .9 .2 .9 .1 .9 .7 .8 -.7 .9 .7 .9 -.2 .9 1 .9 -.8 .8 -.2 .9 1.2 .9 -1.1 .9 .4 .9 .5 .8 .3 .9 -.8 .9 .4 .9 -.1 .8 .3 .9 .2 .9 -.6 .9 .6 .9 -.7 .8 .8 .9 -.3 .9 .1 .9 -.9 .9 .9 .8 -.2 .9 -.6 .9 0 .9 -.7 .9 .1 .8 .3 .9 -.1 .9 .7 .9 -.4 .8 -.2 .9 -.2 .9 .3 .9 -.2 .9 -.1 .8 -.7 .9 .1 .9 .2 .9 -.1 .9 -.3 .8 .2 .9 -.2 .9 .3 .9 -.8 .8 -.2 .9 .1 .9 -.1 .9 -.1 .9 -.6 .8 .4 .9 .4 .9 -.2 .9 -.6 .9 -.2 .8 -.1 .9 -.1 .9 .1 .9 .4 .9 -.4 .8 .2 .9 -.5 .9 .2 .9 -.5 .8 -.1 .9 .4 .9 -.8 .9 -.2 .9 .5 .8 -.6 .9 -.3 .9 .1 .9 -.5 .9 0 .8 -.4 .9 .1 .9 -.1 .9 -.4 .8 -.2 .9 -.1 .9 0 .9 -.1 .9 -.2 .8 -.2 .9 -.4 .9 -.2 .9 -.1 .9 -.2 .8 -.2 .9 -.6 .9 -.1 .9 .3 .9 -.4 .8 -.1 .9 -.2 .9 -.2 .9 -.1 .8 0 .9 .1 .9 -.9 .9 -.4 .9 .3 .8 -.5 .9 0 .9 -.4 .9 0 .9 -.3 .8 -.2 .9 .3 .9 -.9 .9 -.1 .8 .3 .9 -.9 .9 -.1 .9 -.3 .9 -.3 .8 0 .9 -.1 .9 -.4 .9 -.2 .9 -.9 .8 -.1 .9 .2 .9 -.2 .9 -.4 .9 -.3 .8 0 .9 -.1 .9 -.9 .9 0 .8 .3 .9 -.2 .9 -.4 .9 -.5 .9 -.3 .8 0 .9 0 .9 -.6 .9 -.3 .9 -.1 .8 -.1 .9 -.4 .9 0 .9 0 .8 -.3 .9 .2 .9 -.5 .9 .1 .9 .2 .8 -.2 .9 -.2 .9 .6 .9 -.4 .9 -.3 .8 .6 .9 -.3 .9 .2 .9 -.2 .8 .4 .9 -.1 .9 -.2 .9 -.1 .9 0 .8 0 .9 -.1 .9 .1 .9 0 .9 .4 .8 -.2 .9 -.6 .9 .2 .9 .3 .9 0 .8 -.1 .9 .2 .9 -.4 .9 .3 .8 -.1 .9 -.5 .9 .7 .9 -.6 .9 .3 .8 -.3 .9 -.2 .9 0 .9 -.2 .9 0 .8 -.2 .9 .1 .9 -.3 .9 .1 .8 -.5 .9 .2 .9 -.5 .9 .1 .9 -.1 .8 -.4 .9 .1 .9 .2 .9 -.5 .9 .4 .8 -.6 .9 0 .9 0 .9 -.4 .9 0 .8 -.5 .9 .2 .9 -.5 .9 0 .8 .2 .9 -.1 .9 -.5 .9 .1 .9 -.2 .8 0 .9 0 .9 -.3 .9 0 .9 -.1 .8 -.3 .9 -.5 .9 -.1 .9 .1 .8 -.2 .9 -.2 .9 -.2 .9 0 .9 0 .8 -.2 .9 -.4 .9 -.4 .9 .4 .9 0 .8 -.6 .9 0 .9 -.2 .9 -.3 .9 0 .8 .1 .9 -.1 .9 -.5 .9 0 .8 -.4 .9 .1 .9 -.3 .9 0 .9 -.4 .8 -.1 .9 -.4 .9 -.3 .9 .1 .9 -.1 .8 -.6 .9 0 .9 -.2 .9 -.2 .8 -.3 .9 -.1 .9 -.2 .9 -.3 .9 0 .8 -.2 .9 -.4 .9 -.2 .9 -.3 .9 -.4 .8 -.3 .9 -.3 .9 -.2 .9 -.8 .9 -.4 .8 -.2 .9 -.6"/>
<path d="M125.8 811.9l.8 -4.8 .9 -4 .9 -3.2 .9 -.8 .8 -.4 .9 -1.7 .9 -1.1 .9 1.5 .9 -2 .8 .2 .9 1.4 .9 -.7 .9 .1 .9 -.6 .8 0 .9 1.7 .9 -.1 .9 -2.4 .8 .6 .9 -.6 .9 -.4 .9 -1.6 .9 2 .8 -2.3 .9 1.4 .9 -1.6 .9 -.6 .9 2.6 .8 -1.4 .9 1 .9 .5 .9 .4 .8 1.6 .9 .2 .9 -1.5 .9 -.1 .9 1.4 .8 .9 .9 -3.3 .9 1.2 .9 .7 .9 1.1 .8 -.5 .9 -.9 .9 .9 .9 -2.5 .9 1.1 .8 -.4 .9 1.2 .9 -.1 .9 .2 .8 -.7 .9 .8 .9 .4 .9 0 .9 1 .8 .1 .9 3 .9 2.4 .9 1.5 .9 .9 .8 3.7 .9 1.5 .9 2.2 .9 .8 .8 1.1 .9 1.8 .9 .2 .9 -.5 .9 .3 .8 .6 .9 .1 .9 1.4 .9 .2 .9 -.9 .8 1.8 .9 -.8 .9 2 .9 -1.1 .9 .5 .8 .6 .9 -1.3 .9 1.2 .9 -.2 .8 -.2 .9 .3 .9 -1.9 .9 1.5 .9 -.7 .8 1.2 .9 -1 .9 -.2 .9 -.2 .9 0 .8 -.9 .9 -1.3 .9 1.4 .9 -.1 .8 .1 .9 -2.7 .9 .7 .9 .7 .9 -.3 .8 1 .9 -.7 .9 -.5 .9 -.2 .9 .6 .8 -.3 .9 -1.4 .9 -.2 .9 1.9 .9 -2.3 .8 -1.1 .9 1.2 .9 -.9 .9 1.2 .8 -2.2 .9 1.4 .9 -.1 .9 -1.1 .9 -2.5 .8 2.2 .9 .3 .9 -1.7 .9 -.1 .9 -1.5 .8 2.2 .9 0 .9 -1.4 .9 -.8 .8 -.4 .9 -.8 .9 1.9 .9 -.9 .9 -.9 .8 -1.1 .9 0 .9 .5 .9 .1 .9 -1.7 .8 -.4 .9 -1.7 .9 2.2 .9 -1.8 .9 2 .8 -.7 .9 -.2 .9 -.4 .9 0 .8 -.5 .9 -.7 .9 .1 .9 -1.1 .9 .3 .8 -.3 .9 -1.4 .9 .6 .9 -.1 .9 -.2 .8 -.2 .9 -.6 .9 .7 .9 -1.6 .8 -.5 .9 .1 .9 .9 .9 .6 .9 -1 .8 -.6 .9 -.6 .9 .5 .9 -.2 .9 -1.3 .8 1.2 .9 -1.3 .9 0 .9 1.2 .8 -1.2 .9 .4 .9 0 .9 .4 .9 -.4 .8 -1.3 .9 .3 .9 -.6 .9 .6 .9 -.6 .8 -.2 .9 .5 .9 -.1 .9 -1.4 .9 0 .8 .4 .9 -.7 .9 -.6 .9 -.8 .8 1.2 .9 -.9 .9 -1 .9 .8 .9 -.9 .8 1.8 .9 -2.2 .9 .5 .9 .7 .9 -1.5 .8 -.3 .9 -.3 .9 -.2 .9 .4 .8 .1 .9 -.3 .9 -.4 .9 -.4 .9 .1 .8 -.4 .9 -.6 .9 0 .9 -1.1 .9 -.1 .8 1.1 .9 -.5 .9 0 .9 -.3 .9 -.9 .8 .3 .9 -.2 .9 -.6 .9 -.6 .8 .2 .9 -.3 .9 -.7 .9 -.1 .9 -.2 .8 -.4 .9 .4 .9 -.7 .9 .1 .9 -.8 .8 -.2 .9 .3 .9 -1 .9 .6 .8 -1.1 .9 .1 .9 0 .9 -.2 .9 -.5 .8 -.4 .9 -.1 .9 -.7 .9 .2 .9 -.8 .8 -.3 .9 .2 .9 -1.1 .9 0 .9 0 .8 -1.1 .9 -.6 .9 -.9 .9 -.1 .8 -1.2 .9 -.6 .9 -.6 .9 -.7 .9 -.5 .8 -.6 .9 -1.2 .9 -1 .9 -.8 .9 -.9 .8 -.7 .9 -1.9 .9 -1.2 .9 -.9 .8 -1.9 .9 -1.8 .9 -1.6 .9 -2.1 .9 -2.1 .8 -1.5 .9 -2.7 .9 -2.7 .9 -2.8 .9 -2.9 .8 -2 .9 -3.4 .9 -3 .9 -2.8 .9 -2.5 .8 -1.1 .9 -1.4 .9 -.3 .9 -.2 .8 1.6 .9 1 .9 2.3 .9 2.7 .9 3.4 .8 2.5 .9 2.4 .9 3.4 .9 2.3 .9 2.4 .8 2.1 .9 2.3 .9 2 .9 2.1 .8 1.6 .9 1.6 .9 1.3 .9 1.6 .9 .9 .8 1.9 .9 .3 .9 1.4 .9 .5 .9 1.2 .8 .6 .9 .5 .9 1.3 .9 .5 .8 .6 .9 .5 .9 1 .9 .1 .9 .5 .8 .6 .9 .2 .9 .7 .9 -.4 .9 .5 .8 -.1 .9 1 .9 .4 .9 -.2 .9 .8 .8 -.3 .9 .4 .9 .1 .9 0 .8 .2 .9 -.3 .9 .4 .9 .7 .9 -.5 .8 .7 .9 -.2 .9 .4 .9 0 .9 -.5 .8 .6 .9 .1 .9 0 .9 0 .8 -.4 .9 .7 .9 0 .9 -.5 .9 .5 .8 -.3 .9 -.5 .9 .3 .9 0 .9 .1 .8 0 .9 -.2 .9 -.3 .9 -.3 .9 0 .8 .3 .9 0 .9 -.5 .9 .6 .8 -.4 .9 -.1 .9 .1 .9 -.1 .9 -.5 .8 .5 .9 -.3 .9 -.2 .9 -.2 .9 .3 .8 -.8 .9 .3 .9 -.1 .9 -.1 .8 0 .9 0 .9 -.7 .9 .2 .9 0 .8 -.4 .9 .3 .9 -.4 .9 0 .9 .1 .8 -.5 .9 .5 .9 -.7 .9 .3 .9 -.4 .8 -.4 .9 .1 .9 .2 .9 -.3 .8 0 .9 .1 .9 -.1 .9 -.4 .9 -.2 .8 .4 .9 -.6 .9 -.3 .9 0 .9 .1 .8 -.7 .9 .4 .9 -.6 .9 -.4 .8 .7 .9 -.7 .9 -.2 .9 -.1 .9 .1 .8 -.3 .9 .1 .9 -.5 .9 -.3 .9 .1 .8 -.1 .9 -.3 .9 -.3 .9 -.1 .9 -.2 .8 -.2 .9 .1 .9 .1 .9 -.8 .8 -.4 .9 .4 .9 -.3 .9 -.4 .9 -.3 .8 -.1 .9 -.3 .9 .1 .9 -.3 .9 -.2 .8 0 .9 -.6 .9 0 .9 -.3 .8 0 .9 -.4 .9 .1 .9 -.4 .9 .3 .8 -.5 .9 -.5 .9 -.1 .9 -.3 .9 .1 .8 -.8 .9 0 .9 -.1 .9 -.3 .9 -.2 .8 -.4 .9 0 .9 .1 .9 -.5 .8 -.4 .9 -.1 .9 -.1 .9 -.3 .9 -.2 .8 -.3 .9 .1 .9 -.3 .9 -.4 .9 -.1 .8 -.3 .9 -.4 .9 .3 .9 -.2 .8 0 .9 0 .9 -.2 .9 .2 .9 .1 .8 -.5 .9 .2 .9 -.2 .9 .2 .9 0 .8 -.1 .9 0 .9 .3 .9 -.3 .8 .3 .9 -.1 .9 -.3 .9 .4 .9 -.2 .8 .3 .9 -.1 .9 .2 .9 -.1 .9 .3 .8 0 .9 -.2 .9 .4 .9 -.1 .9 -.3 .8 .2 .9 0 .9 0 .9 -.2 .8 0 .9 -.1 .9 0 .9 -.4 .9 .2 .8 .2 .9 -.4 .9 -.1 .9 -.1 .9 .1 .8 -.5 .9 .1 .9 -.1 .9 .1 .8 -.4 .9 0 .9 -.3 .9 .2 .9 0 .8 -.3 .9 0 .9 -.3 .9 .1 .9 -.2 .8 -.1 .9 -.1 .9 -.1 .9 -.1 .9 -.2 .8 0 .9 -.2 .9 -.1 .9 .2 .8 -.4 .9 -.3 .9 0 .9 -.2 .9 -.1 .8 0 .9 0 .9 -.4 .9 -.1 .9 -.1 .8 -.1 .9 -.1 .9 -.1 .9 -.2 .8 0 .9 -.2 .9 0 .9 -.2 .9 -.2 .8 -.1 .9 .2 .9 -.5 .9 .2 .9 -.7 .8 0 .9 -.1 .9 0 .9 -.1 .9 -.3 .8 -.1 .9 -.1 .9 -.3 .9 -.2 .8 -.1 .9 0 .9 0 .9 -.4 .9 -.1 .8 -.3 .9 -.3 .9 -.2 .9 0 .9 -.2 .8 -.3 .9 0 .9 -.2 .9 -.2 .8 -.1 .9 -.2 .9 -.1 .9 -.3 .9 -.2 .8 -.4 .9 -.1 .9 -.4 .9 -.3 .9 0 .8 -.6 .9 -.2 .9 -.6 .9 -.3 .9 -.3 .8 -.5 .9 -.3"/>
<path d="M125.8 801.7l.8 -3.7 .9 -4.4 .9 -2.9 .9 -2 .8 -1.7 .9 -.8 .9 .4 .9 -.3 .9 -.6 .8 -.8 .9 0 .9 .9 .9 1.1 .9 -3.2 .8 .7 .9 .3 .9 -.3 .9 .4 .8 0 .9 -1 .9 -.7 .9 -.3 .9 .1 .8 -1.3 .9 -1.1 .9 .5 .9 -.6 .9 1.6 .8 -1.2 .9 .1 .9 1.3 .9 .9 .8 -1.1 .9 1.1 .9 -.9 .9 .7 .9 -.7 .8 .9 .9 1 .9 -1 .9 .2 .9 -.8 .8 .6 .9 -.2 .9 -1.1 .9 -.4 .9 .1 .8 -.4 .9 .3 .9 -.1 .9 .2 .8 .6 .9 .6 .9 .5 .9 -1 .9 2.8 .8 1.5 .9 1.7 .9 1.7 .9 2.2 .9 3.3 .8 2.8 .9 .4 .9 3.3 .9 .2 .8 1.3 .9 .2 .9 .4 .9 1.7 .9 1.2 .8 1 .9 .1 .9 -.3 .9 1.9 .9 -1.4 .8 .2 .9 -.1 .9 1 .9 0 .9 .9 .8 0 .9 1 .9 -1 .9 -1 .8 1.1 .9 -.2 .9 .9 .9 -1.8 .9 1.5 .8 -1.3 .9 .5 .9 .6 .9 -1.6 .9 .6 .8 -.4 .9 -.2 .9 .3 .9 .1 .8 -.7 .9 .5 .9 -.5 .9 .4 .9 .4 .8 -.8 .9 -.4 .9 -.6 .9 -1 .9 1.8 .8 -1.6 .9 1.4 .9 -1.1 .9 -.6 .9 .9 .8 -.5 .9 -1.7 .9 -.2 .9 -.2 .8 .3 .9 -2.4 .9 1.4 .9 .3 .9 -2 .8 .5 .9 .4 .9 -1.4 .9 .5 .9 -.6 .8 0 .9 .6 .9 -1.7 .9 .3 .8 .5 .9 -.4 .9 -1.5 .9 .6 .9 -.6 .8 -.7 .9 .1 .9 .9 .9 -1.8 .9 -.5 .8 -.2 .9 -.8 .9 .7 .9 -.6 .9 -.8 .8 1 .9 -1.6 .9 -.3 .9 .4 .8 -.9 .9 .4 .9 .8 .9 -1.5 .9 .2 .8 -.3 .9 0 .9 -1 .9 .2 .9 .6 .8 -1 .9 -.4 .9 .7 .9 -.4 .8 -.3 .9 0 .9 -.8 .9 -.6 .9 -.7 .8 .3 .9 -.2 .9 -.2 .9 -.3 .9 .8 .8 -.7 .9 0 .9 .1 .9 0 .8 -.2 .9 -.3 .9 .4 .9 -1.1 .9 .1 .8 -.2 .9 -.3 .9 -.4 .9 .5 .9 -.4 .8 .5 .9 .1 .9 -.3 .9 -1.8 .9 1.3 .8 -1.2 .9 -.6 .9 .6 .9 -1.1 .8 -.3 .9 .2 .9 -.8 .9 .6 .9 .3 .8 -.7 .9 .2 .9 .1 .9 -.2 .9 -1.6 .8 .9 .9 -.4 .9 .1 .9 -.5 .8 -.1 .9 -.2 .9 .1 .9 -.1 .9 -.5 .8 -.6 .9 -.8 .9 .1 .9 -.5 .9 .2 .8 0 .9 .2 .9 -.7 .9 .4 .9 -.8 .8 -.9 .9 .2 .9 -.5 .9 .2 .8 0 .9 -.5 .9 -.2 .9 -.8 .9 -.4 .8 .5 .9 -.3 .9 -.3 .9 -.2 .9 0 .8 -.6 .9 -.3 .9 -.3 .9 .2 .8 -.6 .9 .2 .9 -1 .9 .3 .9 -.5 .8 -.3 .9 -.3 .9 -.1 .9 -.2 .9 -1.3 .8 .1 .9 -.4 .9 -.9 .9 .2 .9 -.6 .8 -.3 .9 -.8 .9 -.4 .9 -.4 .8 -.5 .9 -.7 .9 -.9 .9 .1 .9 -1.2 .8 -.7 .9 -.8 .9 -.5 .9 -1.6 .9 -.6 .8 -1.3 .9 -1.1 .9 -.9 .9 -1.7 .8 -1.1 .9 -1.8 .9 -1.8 .9 -1.9 .9 -2 .8 -2.1 .9 -2.8 .9 -2 .9 -2.2 .9 -2.9 .8 -2.8 .9 -3.1 .9 -2.8 .9 -2.8 .9 -3.2 .8 -1.9 .9 -1.6 .9 -1.1 .9 -.3 .8 .2 .9 1.5 .9 1.8 .9 3.4 .9 1.9 .8 2.7 .9 2.7 .9 3.3 .9 3.1 .9 2.1 .8 2.8 .9 2.6 .9 1.8 .9 1.6 .8 1.8 .9 1.9 .9 1.9 .9 .7 .9 2.1 .8 1 .9 1.5 .9 .4 .9 1.2 .9 .8 .8 1 .9 .8 .9 .7 .9 1.1 .8 0 .9 .6 .9 .9 .9 .4 .9 .4 .8 .1 .9 .7 .9 .5 .9 .5 .9 .5 .8 .1 .9 .1 .9 .4 .9 .1 .9 .1 .8 .3 .9 .2 .9 .1 .9 .3 .8 .2 .9 .1 .9 .6 .9 -.6 .9 .7 .8 -.3 .9 .3 .9 -.2 .9 .4 .9 .3 .8 -.4 .9 .3 .9 .1 .9 0 .8 -.2 .9 .1 .9 .1 .9 .4 .9 -.3 .8 -.1 .9 -.4 .9 .3 .9 0 .9 -.3 .8 .3 .9 -.1 .9 -.1 .9 .3 .9 -.6 .8 .1 .9 .1 .9 .1 .9 -.4 .8 -.3 .9 .4 .9 0 .9 -.4 .9 .4 .8 0 .9 -.4 .9 -.1 .9 -.1 .9 -.1 .8 -.2 .9 0 .9 0 .9 -.1 .8 -.3 .9 -.2 .9 -.1 .9 0 .9 .7 .8 -.5 .9 -.3 .9 -.2 .9 .3 .9 -.7 .8 .1 .9 .1 .9 -.2 .9 0 .9 0 .8 -.4 .9 .1 .9 .1 .9 -.3 .8 -.2 .9 .1 .9 -.5 .9 .3 .9 -.6 .8 0 .9 .3 .9 -.4 .9 -.3 .9 .1 .8 .1 .9 -.4 .9 -.5 .9 .5 .8 -.5 .9 -.1 .9 -.1 .9 -.1 .9 -.1 .8 -.4 .9 -.1 .9 .1 .9 -.6 .9 .4 .8 -.5 .9 -.1 .9 -.3 .9 0 .9 -.3 .8 .1 .9 -.4 .9 0 .9 -.5 .8 .3 .9 -.4 .9 -.1 .9 -.1 .9 0 .8 -.4 .9 .2 .9 -.2 .9 -.5 .9 .2 .8 -.7 .9 .1 .9 -.2 .9 -.2 .8 -.2 .9 -.1 .9 -.2 .9 -.2 .9 -.4 .8 -.2 .9 -.2 .9 -.1 .9 -.1 .9 0 .8 -.5 .9 -.2 .9 0 .9 -.4 .9 -.3 .8 0 .9 -.3 .9 -.1 .9 .1 .8 -.4 .9 -.2 .9 -.3 .9 0 .9 -.3 .8 -.1 .9 -.3 .9 -.2 .9 -.4 .9 -.1 .8 -.1 .9 -.1 .9 -.1 .9 -.1 .8 -.3 .9 .5 .9 -.3 .9 0 .9 -.1 .8 .3 .9 -.2 .9 0 .9 .1 .9 .3 .8 -.2 .9 .1 .9 -.2 .9 .2 .8 -.3 .9 .3 .9 .1 .9 0 .9 .2 .8 -.2 .9 0 .9 .2 .9 -.1 .9 .3 .8 -.1 .9 -.2 .9 .5 .9 -.3 .9 0 .8 .4 .9 0 .9 -.1 .9 -.3 .8 .1 .9 0 .9 -.2 .9 0 .9 -.1 .8 0 .9 -.3 .9 .2 .9 -.4 .9 .2 .8 0 .9 -.3 .9 -.1 .9 .2 .8 -.3 .9 .1 .9 -.2 .9 -.2 .9 .1 .8 -.3 .9 0 .9 -.3 .9 .1 .9 0 .8 -.1 .9 -.1 .9 -.2 .9 -.1 .9 -.2 .8 0 .9 -.1 .9 -.1 .9 0 .8 -.2 .9 -.1 .9 -.1 .9 0 .9 0 .8 -.2 .9 -.2 .9 .2 .9 -.3 .9 -.2 .8 0 .9 -.1 .9 -.4 .9 -.1 .8 .1 .9 -.3 .9 -.1 .9 .1 .9 -.5 .8 .3 .9 -.2 .9 -.1 .9 -.2 .9 0 .8 -.3 .9 -.2 .9 0 .9 -.1 .9 -.3 .8 .1 .9 -.4 .9 0 .9 -.2 .8 -.1 .9 -.1 .9 -.2 .9 0 .9 -.2 .8 -.3 .9 -.1 .9 0 .9 -.2 .9 -.2 .8 -.2 .9 -.2 .9 -.1 .9 -.1 .8 -.3 .9 0 .9 0 .9 -.5 .9 -.1 .8 -.2 .9 -.2 .9 -.4 .9 -.1 .9 -.5 .8 -.2 .9 -.3 .9 -.3 .9 -.6 .9 -.4 .8 -.4 .9 -.5"/>
<path d="M125.8 792.4l.8 -5.3 .9 -4.7 .9 -2 .9 -1.6 .8 -1.2 .9 -1.2 .9 -2 .9 1.2 .9 -1.9 .8 -.4 .9 .7 .9 -.3 .9 .2 .9 -.5 .8 -.8 .9 .1 .9 -1 .9 -.5 .8 0 .9 -.5 .9 -.5 .9 -1 .9 .2 .8 -1.5 .9 -.4 .9 .2 .9 -2.1 .9 1.8 .8 -.1 .9 -.6 .9 1.7 .9 -.3 .8 .9 .9 -.2 .9 -.5 .9 -.2 .9 -.4 .8 .3 .9 -.1 .9 .4 .9 .7 .9 -1.1 .8 .9 .9 -.2 .9 -1.4 .9 .3 .9 .1 .8 -.5 .9 -.2 .9 1.4 .9 -.5 .8 1 .9 -.4 .9 1.1 .9 -.3 .9 1.6 .8 2.3 .9 1.3 .9 2.8 .9 1.7 .9 2.2 .8 2.4 .9 3.5 .9 1.1 .9 1.2 .8 1.5 .9 .6 .9 2.4 .9 -.3 .9 1.4 .8 .1 .9 .4 .9 .3 .9 1.2 .9 -.1 .8 1.1 .9 .5 .9 -.8 .9 .7 .9 1.3 .8 -.2 .9 -.2 .9 -.7 .9 .4 .8 .3 .9 1.5 .9 -1 .9 -.4 .9 .1 .8 -.1 .9 .3 .9 -1.2 .9 .1 .9 .7 .8 .4 .9 -1.8 .9 1.5 .9 -1.2 .8 -.5 .9 1.6 .9 -.9 .9 .2 .9 -.7 .8 -.1 .9 -1.1 .9 .5 .9 .2 .9 -1 .8 .6 .9 -.2 .9 -1.8 .9 1.5 .9 -.4 .8 -.6 .9 .4 .9 .4 .9 -2.1 .8 .8 .9 -.4 .9 -.4 .9 .2 .9 -.2 .8 -1 .9 -1.5 .9 .7 .9 -.3 .9 1 .8 -1.1 .9 .4 .9 -1.4 .9 .3 .8 -.4 .9 -.3 .9 0 .9 .3 .9 -1.5 .8 .9 .9 -.4 .9 -.8 .9 0 .9 -.9 .8 -.6 .9 .1 .9 -.2 .9 -.1 .9 -.8 .8 1.3 .9 -1.5 .9 .5 .9 -.1 .8 -1 .9 0 .9 -.8 .9 -.5 .9 1.5 .8 -1.4 .9 -1.3 .9 .4 .9 -.6 .9 .5 .8 .5 .9 -.4 .9 -1.1 .9 -.3 .8 .6 .9 -.4 .9 -.5 .9 .8 .9 -.9 .8 -1.1 .9 -.4 .9 .9 .9 -1.1 .9 .9 .8 0 .9 .4 .9 -1.5 .9 .4 .8 -1.3 .9 .7 .9 -.1 .9 .6 .9 -1.5 .8 .6 .9 -.2 .9 .6 .9 -1.4 .9 -.2 .8 .4 .9 -.4 .9 -.3 .9 -.4 .9 .1 .8 -.7 .9 .5 .9 -.1 .9 -.2 .8 .5 .9 -.8 .9 -.8 .9 .1 .9 .1 .8 -.6 .9 .6 .9 -.8 .9 -.4 .9 -.3 .8 .3 .9 -.7 .9 -.5 .9 .5 .8 -.6 .9 .5 .9 -.1 .9 -1 .9 0 .8 -.3 .9 0 .9 -.3 .9 -.5 .9 -.5 .8 .3 .9 .2 .9 -1.1 .9 0 .9 -.3 .8 -.1 .9 -.8 .9 .3 .9 -.3 .8 .3 .9 -.5 .9 -.3 .9 -.4 .9 -.3 .8 0 .9 -.8 .9 .4 .9 -.4 .9 -.3 .8 .1 .9 -.7 .9 -.3 .9 0 .8 -.7 .9 .1 .9 -.3 .9 0 .9 -.1 .8 -.5 .9 -.4 .9 -.3 .9 -.6 .9 .4 .8 -.6 .9 -.2 .9 -1.1 .9 0 .9 -.4 .8 -.3 .9 -.9 .9 -.3 .9 -.6 .8 -.1 .9 -1.2 .9 -.5 .9 -.7 .9 -.8 .8 -.5 .9 -.8 .9 -1 .9 -.9 .9 -.8 .8 -1.1 .9 -1 .9 -1.4 .9 -1.4 .8 -1.2 .9 -1.8 .9 -1 .9 -2 .9 -2.3 .8 -1.6 .9 -2 .9 -2.9 .9 -2.3 .9 -2.4 .8 -3.2 .9 -2.6 .9 -2.9 .9 -3.2 .9 -2.8 .8 -2.5 .9 -2.3 .9 -1.4 .9 -1 .8 0 .9 .6 .9 1.8 .9 2.3 .9 2.6 .8 2.6 .9 2.6 .9 3.1 .9 3.1 .9 2.5 .8 3 .9 2 .9 2.6 .9 1.9 .8 1.9 .9 2 .9 1.6 .9 1.8 .9 1.2 .8 1.1 .9 .6 .9 1.8 .9 1.1 .9 1.2 .8 .4 .9 1.4 .9 .6 .9 .5 .8 .9 .9 .1 .9 .6 .9 .9 .9 .5 .8 .6 .9 .4 .9 0 .9 .4 .9 .3 .8 .3 .9 .5 .9 .1 .9 .6 .9 -.1 .8 0 .9 .2 .9 .5 .9 .1 .8 -.1 .9 0 .9 .8 .9 -.1 .9 0 .8 -.1 .9 .5 .9 -.2 .9 .3 .9 -.4 .8 .4 .9 .2 .9 .1 .9 -.2 .8 .1 .9 .3 .9 -.2 .9 .3 .9 -.1 .8 .1 .9 0 .9 -.1 .9 0 .9 -.3 .8 0 .9 .1 .9 .1 .9 -.3 .9 .4 .8 0 .9 -.5 .9 -.1 .9 -.1 .8 .2 .9 .1 .9 -.2 .9 -.2 .9 .2 .8 -.1 .9 .1 .9 -.1 .9 -.4 .9 0 .8 .2 .9 -.1 .9 -.1 .9 -.3 .8 .3 .9 -.3 .9 .3 .9 -.2 .9 -.4 .8 -.1 .9 .3 .9 -.2 .9 -.3 .9 .1 .8 0 .9 -.3 .9 0 .9 -.2 .9 -.1 .8 .2 .9 -.2 .9 0 .9 .1 .8 -.1 .9 -.4 .9 .3 .9 -.5 .9 0 .8 0 .9 -.2 .9 -.1 .9 -.2 .9 .1 .8 -.1 .9 -.2 .9 -.4 .9 0 .8 .2 .9 -.2 .9 -.1 .9 -.2 .9 -.2 .8 -.4 .9 .5 .9 -.6 .9 0 .9 0 .8 -.2 .9 0 .9 -.2 .9 -.3 .9 .2 .8 -.5 .9 .1 .9 -.4 .9 0 .8 -.2 .9 -.1 .9 -.2 .9 0 .9 0 .8 -.3 .9 -.2 .9 -.3 .9 .4 .9 -.4 .8 -.3 .9 .1 .9 -.3 .9 -.4 .8 -.1 .9 .1 .9 -.4 .9 -.2 .9 -.1 .8 -.1 .9 -.2 .9 0 .9 -.2 .9 -.4 .8 -.1 .9 -.4 .9 .1 .9 .1 .9 -.4 .8 -.3 .9 -.1 .9 -.2 .9 0 .8 -.5 .9 .1 .9 -.3 .9 -.1 .9 -.1 .8 -.4 .9 .2 .9 -.3 .9 -.3 .9 -.1 .8 -.3 .9 0 .9 0 .9 -.4 .8 .2 .9 0 .9 .1 .9 0 .9 -.1 .8 0 .9 .1 .9 .1 .9 -.1 .9 .3 .8 -.1 .9 0 .9 .1 .9 0 .8 .1 .9 .1 .9 -.2 .9 .2 .9 0 .8 .2 .9 -.1 .9 .1 .9 .1 .9 -.1 .8 .3 .9 0 .9 .1 .9 .4 .9 -.2 .8 -.1 .9 0 .9 .1 .9 -.2 .8 0 .9 .1 .9 -.2 .9 -.1 .9 .1 .8 0 .9 -.3 .9 .1 .9 0 .9 -.1 .8 0 .9 -.2 .9 -.1 .9 -.1 .8 0 .9 .1 .9 -.2 .9 -.2 .9 .1 .8 -.4 .9 .2 .9 0 .9 -.3 .9 0 .8 0 .9 0 .9 -.2 .9 -.1 .9 -.1 .8 .1 .9 -.2 .9 -.1 .9 -.1 .8 .3 .9 -.3 .9 -.1 .9 -.1 .9 -.2 .8 -.1 .9 -.1 .9 0 .9 -.1 .9 -.3 .8 .2 .9 -.2 .9 -.2 .9 0 .8 .1 .9 -.3 .9 0 .9 -.2 .9 -.2 .8 0 .9 -.1 .9 -.2 .9 0 .9 -.1 .8 -.2 .9 -.1 .9 0 .9 -.1 .9 -.2 .8 0 .9 -.1 .9 -.4 .9 0 .8 -.1 .9 -.1 .9 -.2 .9 -.1 .9 -.1 .8 -.1 .9 -.3 .9 0 .9 -.2 .9 .1 .8 -.3 .9 -.3 .9 0 .9 -.1 .8 -.3 .9 0 .9 -.3 .9 0 .9 -.3 .8 -.2 .9 -.3 .9 -.2 .9 -.2 .9 -.4 .8 -.2 .9 -.2 .9 -.3 .9 -.6 .9 -.3 .8 -.3 .9 -.4"/>
<path d="M125.8 783.2l.8 -6.6 .9 -4 .9 -2.2 .9 -3.1 .8 -1.2 .9 -.9 .9 -1 .9 -.6 .9 .1 .8 .2 .9 -.3 .9 -1.7 .9 0 .9 0 .8 -.1 .9 -.7 .9 -.5 .9 -.3 .8 -.5 .9 -2.1 .9 .2 .9 -.5 .9 -.5 .8 -.9 .9 -1.4 .9 -.6 .9 .1 .9 -.4 .8 .1 .9 .4 .9 -1 .9 .7 .8 -.7 .9 1.7 .9 -.3 .9 -.4 .9 .6 .8 .7 .9 -.1 .9 -.4 .9 -.1 .9 .1 .8 -.7 .9 -.2 .9 .2 .9 0 .9 -.1 .8 -.6 .9 -.3 .9 .5 .9 .1 .8 .7 .9 1 .9 .6 .9 .1 .9 1.4 .8 1.1 .9 2.6 .9 1.8 .9 2.4 .9 2.7 .8 3.2 .9 2.1 .9 2.1 .9 2.4 .8 .7 .9 .9 .9 1.9 .9 -.3 .9 1.9 .8 .7 .9 .7 .9 .8 .9 0 .9 .7 .8 -.4 .9 1 .9 .4 .9 .8 .9 1 .8 -.3 .9 .6 .9 -.6 .9 .7 .8 -.7 .9 .5 .9 0 .9 .3 .9 0 .8 -.2 .9 -.1 .9 .8 .9 -.7 .9 -1.1 .8 1.2 .9 .1 .9 .1 .9 .3 .8 -1.4 .9 .5 .9 -.3 .9 -.9 .9 -.5 .8 1.4 .9 -1.1 .9 0 .9 -.1 .9 -.3 .8 0 .9 -1 .9 .2 .9 -.1 .9 -.7 .8 -.1 .9 -.1 .9 -.2 .9 -.9 .8 .4 .9 0 .9 .2 .9 -.5 .9 .1 .8 -.8 .9 -.4 .9 .9 .9 -1.3 .9 -.5 .8 -.1 .9 .3 .9 -1.3 .9 .6 .8 0 .9 -.3 .9 -.8 .9 -.8 .9 -.3 .8 .1 .9 .4 .9 -.5 .9 -.1 .9 -.6 .8 .5 .9 -1.2 .9 -.5 .9 .1 .9 -.5 .8 .4 .9 0 .9 -.6 .9 -1.1 .8 -.2 .9 .4 .9 -1 .9 .5 .9 -1.1 .8 .2 .9 .2 .9 -.8 .9 .5 .9 -.2 .8 0 .9 -.9 .9 -.1 .9 -.2 .8 -.1 .9 -.9 .9 .5 .9 -.1 .9 -.9 .8 -.2 .9 .2 .9 .6 .9 -.6 .9 -.6 .8 .1 .9 -.7 .9 .8 .9 -.8 .8 .3 .9 -.9 .9 .4 .9 -.6 .9 .4 .8 .1 .9 -.2 .9 -.4 .9 0 .9 -.8 .8 -.3 .9 .2 .9 .2 .9 -.4 .9 0 .8 -.9 .9 .2 .9 -.2 .9 0 .8 .3 .9 -.5 .9 -.1 .9 -.6 .9 -.2 .8 .1 .9 -.3 .9 -.7 .9 .5 .9 -.3 .8 -.3 .9 -.1 .9 -.3 .9 -.4 .8 -.5 .9 .7 .9 -.7 .9 -.2 .9 -.2 .8 -.2 .9 -.1 .9 -.6 .9 .1 .9 -.3 .8 -.2 .9 -.3 .9 -.2 .9 -.5 .9 0 .8 -.3 .9 -.1 .9 -.1 .9 -.3 .8 -.2 .9 -.5 .9 0 .9 -.2 .9 -.5 .8 -.2 .9 .2 .9 -.9 .9 .1 .9 -.2 .8 -.5 .9 0 .9 -.1 .9 -.8 .8 .4 .9 -.5 .9 -.4 .9 .1 .9 -.4 .8 -.4 .9 -.6 .9 .3 .9 -.5 .9 -.4 .8 -.3 .9 -.1 .9 -.6 .9 -.3 .9 -.5 .8 -.5 .9 -.5 .9 -.3 .9 -.5 .8 -.3 .9 -.7 .9 -.6 .9 -.5 .9 -.8 .8 -.5 .9 -1.2 .9 -.9 .9 -.4 .9 -1 .8 -.9 .9 -1.3 .9 -.9 .9 -1.2 .8 -1.2 .9 -1.5 .9 -1.3 .9 -1.9 .9 -1.5 .8 -2.1 .9 -2 .9 -2.4 .9 -2.2 .9 -2.7 .8 -2.4 .9 -3.1 .9 -2.9 .9 -3.1 .9 -3 .8 -3.1 .9 -2.2 .9 -2.6 .9 -1.4 .8 -1.3 .9 .5 .9 .6 .9 1.7 .9 1.8 .8 3 .9 2.7 .9 3.1 .9 3.3 .9 2.7 .8 2.6 .9 2.8 .9 2.4 .9 2.5 .8 2.1 .9 2 .9 1.8 .9 1.4 .9 1.8 .8 1.5 .9 1.4 .9 1.3 .9 .8 .9 1.4 .8 .9 .9 .8 .9 .9 .9 .4 .8 1.3 .9 .3 .9 .6 .9 .8 .9 .5 .8 .3 .9 .3 .9 .8 .9 .5 .9 -.1 .8 .3 .9 .6 .9 .6 .9 -.3 .9 .5 .8 0 .9 .4 .9 .2 .9 .2 .8 -.1 .9 .2 .9 .7 .9 -.1 .9 -.2 .8 .4 .9 .3 .9 -.1 .9 .1 .9 .1 .8 .1 .9 .1 .9 .1 .9 -.1 .8 .2 .9 0 .9 0 .9 -.2 .9 .1 .8 .1 .9 -.1 .9 0 .9 -.1 .9 .1 .8 -.3 .9 .1 .9 .2 .9 0 .9 -.2 .8 0 .9 0 .9 .2 .9 0 .8 -.4 .9 -.1 .9 0 .9 .2 .9 -.4 .8 .2 .9 -.2 .9 0 .9 .1 .9 -.1 .8 .2 .9 -.3 .9 .1 .9 -.4 .8 0 .9 -.2 .9 0 .9 .1 .9 -.2 .8 0 .9 -.2 .9 0 .9 .1 .9 -.2 .8 -.1 .9 0 .9 -.3 .9 -.1 .9 .2 .8 -.1 .9 .2 .9 -.4 .9 0 .8 .1 .9 -.4 .9 -.1 .9 .1 .9 -.1 .8 0 .9 -.4 .9 .2 .9 -.2 .9 -.4 .8 .2 .9 -.2 .9 0 .9 0 .8 -.2 .9 -.2 .9 .1 .9 -.3 .9 -.2 .8 -.1 .9 .3 .9 -.2 .9 0 .9 -.5 .8 0 .9 -.1 .9 0 .9 0 .9 -.3 .8 -.1 .9 0 .9 -.2 .9 -.2 .8 -.1 .9 .1 .9 0 .9 -.4 .9 -.1 .8 -.1 .9 -.1 .9 -.1 .9 -.3 .9 0 .8 -.2 .9 0 .9 -.2 .9 -.2 .8 0 .9 -.1 .9 -.3 .9 -.3 .9 0 .8 -.3 .9 0 .9 -.1 .9 -.1 .9 -.2 .8 -.4 .9 0 .9 -.2 .9 -.2 .9 -.1 .8 -.1 .9 -.2 .9 -.2 .9 -.1 .8 -.1 .9 -.2 .9 0 .9 -.2 .9 -.1 .8 -.4 .9 .2 .9 -.4 .9 -.3 .9 .1 .8 -.1 .9 -.2 .9 -.1 .9 0 .8 -.1 .9 .1 .9 .1 .9 -.3 .9 .3 .8 .1 .9 0 .9 0 .9 .1 .9 0 .8 .1 .9 .2 .9 -.1 .9 .1 .8 .1 .9 .1 .9 0 .9 .1 .9 .1 .8 .2 .9 -.1 .9 .1 .9 .2 .9 0 .8 .1 .9 0 .9 .3 .9 -.1 .9 .1 .8 0 .9 -.1 .9 .1 .9 0 .8 .1 .9 -.3 .9 0 .9 0 .9 .2 .8 -.1 .9 -.2 .9 0 .9 0 .9 -.1 .8 .1 .9 -.3 .9 .1 .9 -.1 .8 0 .9 -.2 .9 .1 .9 -.2 .9 -.1 .8 0 .9 -.1 .9 0 .9 .2 .9 -.4 .8 .1 .9 -.1 .9 -.1 .9 .1 .9 -.2 .8 -.1 .9 -.1 .9 0 .9 0 .8 -.2 .9 .1 .9 -.3 .9 0 .9 0 .8 -.2 .9 -.1 .9 .2 .9 -.3 .9 0 .8 -.2 .9 .1 .9 0 .9 -.3 .8 -.1 .9 -.1 .9 -.1 .9 0 .9 0 .8 -.1 .9 -.1 .9 -.1 .9 -.1 .9 .1 .8 -.3 .9 -.1 .9 -.3 .9 0 .9 0 .8 -.1 .9 0 .9 -.2 .9 0 .8 -.3 .9 -.1 .9 0 .9 -.2 .9 -.2 .8 -.1 .9 -.1 .9 0 .9 -.1 .9 -.2 .8 -.2 .9 0 .9 -.1 .9 -.3 .8 0 .9 -.3 .9 -.1 .9 -.2 .9 -.2 .8 -.1 .9 -.2 .9 -.1 .9 -.3 .9 -.3 .8 -.4 .9 -.3 .9 -.4 .9 -.2 .9 -.3 .8 -.5 .9 -.3"/>
<path d="M125.8 772.1l.8 -5.6 .9 -5.3 .9 -2.2 .9 -2.6 .8 -1.1 .9 -1 .9 -1.8 .9 .3 .9 -.3 .8 -.8 .9 -.6 .9 -1.4 .9 .4 .9 -.8 .8 .3 .9 -1.2 .9 -.7 .9 -1.1 .8 .3 .9 -1.4 .9 -.8 .9 -.5 .9 -1.3 .8 -.8 .9 .1 .9 -1.9 .9 -.5 .9 .1 .8 .1 .9 -1.3 .9 .6 .9 -.2 .8 0 .9 .9 .9 -.5 .9 .4 .9 .1 .8 .1 .9 .1 .9 -.4 .9 .4 .9 .1 .8 -.1 .9 -.5 .9 .4 .9 -.4 .9 -.4 .8 0 .9 -.2 .9 .3 .9 -.9 .8 .7 .9 .9 .9 1.1 .9 .2 .9 2.1 .8 2 .9 1.8 .9 2.3 .9 2.3 .9 3.4 .8 1.6 .9 3.7 .9 1.7 .9 2.7 .8 .4 .9 2.2 .9 1.1 .9 .7 .9 .8 .8 1.8 .9 .5 .9 1.2 .9 .1 .9 .7 .8 .6 .9 .7 .9 .3 .9 .6 .9 -.1 .8 .1 .9 1.7 .9 -.4 .9 .3 .8 -.2 .9 .7 .9 -.2 .9 .5 .9 -.7 .8 .3 .9 .2 .9 -.2 .9 .3 .9 .4 .8 -.9 .9 .1 .9 .2 .9 -.6 .8 -.1 .9 .7 .9 -.2 .9 -1.1 .9 -.1 .8 .6 .9 0 .9 -.4 .9 -.3 .9 .2 .8 -.9 .9 .3 .9 -.3 .9 -1.1 .9 .4 .8 -.5 .9 -.5 .9 -.3 .9 .2 .8 -.4 .9 .1 .9 -1.2 .9 .2 .9 .4 .8 -.6 .9 -.6 .9 -.1 .9 -.8 .9 -.1 .8 .5 .9 -.4 .9 .1 .9 -.8 .8 -.2 .9 -1.3 .9 .7 .9 .6 .9 -.8 .8 -.6 .9 .3 .9 -.4 .9 -.5 .9 -.5 .8 -.1 .9 .1 .9 -.9 .9 .2 .9 -.2 .8 .1 .9 -.5 .9 -.8 .9 .6 .8 -.8 .9 -.5 .9 .1 .9 -.4 .9 .2 .8 -1.1 .9 -.1 .9 0 .9 .5 .9 -.5 .8 -.9 .9 -.4 .9 .2 .9 -.5 .8 .4 .9 -.3 .9 -.3 .9 -.3 .9 .5 .8 -1 .9 -.2 .9 .5 .9 -.1 .9 -.6 .8 .1 .9 .3 .9 -1 .9 0 .8 0 .9 -.8 .9 .4 .9 .1 .9 -.4 .8 .1 .9 -.2 .9 -.4 .9 0 .9 -.1 .8 -.7 .9 0 .9 -.2 .9 -.1 .9 -.1 .8 -.4 .9 .2 .9 -.7 .9 .5 .8 -.3 .9 0 .9 -.4 .9 -.4 .9 -.3 .8 .2 .9 -.3 .9 -.1 .9 -.1 .9 -.1 .8 -.5 .9 .2 .9 -.6 .9 -.1 .8 -.1 .9 -.1 .9 -.1 .9 -.9 .9 .4 .8 -.7 .9 -.1 .9 0 .9 -.1 .9 -.6 .8 -.3 .9 .2 .9 -.3 .9 -.5 .9 -.1 .8 -.5 .9 .2 .9 -.4 .9 0 .8 -.8 .9 .3 .9 0 .9 -.6 .9 -.2 .8 -.6 .9 .2 .9 -.3 .9 -.3 .9 -.4 .8 .1 .9 -.4 .9 -.2 .9 -.1 .8 -.3 .9 -.2 .9 -.1 .9 -.6 .9 .2 .8 -.7 .9 -.2 .9 -.1 .9 -.2 .9 -.4 .8 -.4 .9 -.4 .9 -.3 .9 -.4 .9 -.2 .8 -.5 .9 -.2 .9 -.8 .9 -.3 .8 -.5 .9 -.7 .9 -.5 .9 -.1 .9 -1 .8 -.5 .9 -1.1 .9 -.9 .9 -.4 .9 -1 .8 -.9 .9 -1 .9 -1.2 .9 -1.2 .8 -.9 .9 -1.7 .9 -1.2 .9 -1.7 .9 -1.8 .8 -1.8 .9 -1.8 .9 -2.2 .9 -2.4 .9 -2.6 .8 -2.9 .9 -2.6 .9 -3.2 .9 -3.2 .9 -3.2 .8 -3.2 .9 -3 .9 -2.5 .9 -2.1 .8 -1.2 .9 -.5 .9 1.1 .9 1 .9 2.4 .8 2.7 .9 3.1 .9 3.3 .9 2.9 .9 3.2 .8 2.8 .9 3 .9 2.3 .9 2.6 .8 2.3 .9 2.1 .9 1.9 .9 1.8 .9 1.6 .8 1.4 .9 1.4 .9 1.4 .9 1 .9 1.2 .8 .8 .9 .8 .9 1 .9 .9 .8 .8 .9 .7 .9 .7 .9 .3 .9 .7 .8 .4 .9 .5 .9 .4 .9 .2 .9 .6 .8 .3 .9 .4 .9 .1 .9 .5 .9 .3 .8 .2 .9 .3 .9 -.1 .9 0 .8 .6 .9 -.1 .9 .3 .9 .3 .9 0 .8 .1 .9 .2 .9 -.2 .9 .6 .9 -.2 .8 .1 .9 .2 .9 0 .9 0 .8 .1 .9 0 .9 0 .9 .4 .9 -.4 .8 -.1 .9 .2 .9 0 .9 .2 .9 -.1 .8 .1 .9 -.1 .9 -.2 .9 .2 .9 -.1 .8 .2 .9 -.3 .9 0 .9 0 .8 0 .9 -.3 .9 .3 .9 -.1 .9 0 .8 -.3 .9 -.1 .9 .1 .9 .1 .9 -.1 .8 -.2 .9 .2 .9 -.3 .9 -.1 .8 .1 .9 -.1 .9 -.1 .9 -.1 .9 .2 .8 -.3 .9 .1 .9 0 .9 -.2 .9 0 .8 0 .9 0 .9 -.1 .9 -.3 .9 -.1 .8 0 .9 -.1 .9 .1 .9 -.1 .8 -.1 .9 .1 .9 -.1 .9 -.1 .9 -.1 .8 0 .9 -.2 .9 0 .9 -.2 .9 0 .8 0 .9 -.1 .9 -.1 .9 0 .8 -.1 .9 -.2 .9 -.1 .9 -.1 .9 .2 .8 -.2 .9 -.1 .9 -.1 .9 -.1 .9 -.1 .8 -.2 .9 0 .9 0 .9 -.3 .9 0 .8 0 .9 -.2 .9 0 .9 -.2 .8 0 .9 0 .9 -.2 .9 0 .9 -.2 .8 -.1 .9 -.1 .9 -.1 .9 .2 .9 -.4 .8 0 .9 -.3 .9 -.2 .9 0 .8 -.1 .9 -.1 .9 -.2 .9 -.1 .9 -.1 .8 -.1 .9 -.3 .9 0 .9 -.3 .9 0 .8 -.2 .9 -.1 .9 -.2 .9 -.1 .9 -.1 .8 -.1 .9 -.1 .9 -.3 .9 0 .8 -.1 .9 -.3 .9 -.1 .9 -.1 .9 0 .8 -.4 .9 0 .9 -.1 .9 -.1 .9 0 .8 -.1 .9 -.2 .9 -.1 .9 .1 .8 0 .9 .1 .9 -.1 .9 .1 .9 -.1 .8 .1 .9 -.1 .9 .2 .9 .2 .9 .1 .8 .2 .9 -.1 .9 0 .9 0 .8 .1 .9 .1 .9 .1 .9 .1 .9 0 .8 .3 .9 .1 .9 .1 .9 -.1 .9 .2 .8 .1 .9 .2 .9 0 .9 .1 .9 0 .8 .1 .9 0 .9 .1 .9 -.1 .8 .1 .9 0 .9 0 .9 0 .9 -.2 .8 .1 .9 -.1 .9 0 .9 .1 .9 -.2 .8 .1 .9 -.2 .9 0 .9 .1 .8 -.1 .9 -.1 .9 0 .9 0 .9 -.2 .8 0 .9 -.1 .9 0 .9 -.1 .9 .1 .8 -.1 .9 -.1 .9 0 .9 0 .9 0 .8 -.2 .9 0 .9 -.1 .9 0 .8 -.1 .9 -.2 .9 .1 .9 -.1 .9 0 .8 .1 .9 -.2 .9 -.1 .9 -.1 .9 0 .8 0 .9 -.1 .9 -.1 .9 -.1 .8 -.1 .9 .1 .9 -.2 .9 -.1 .9 -.2 .8 0 .9 0 .9 -.1 .9 -.1 .9 -.1 .8 -.1 .9 0 .9 -.1 .9 -.1 .9 -.1 .8 -.1 .9 0 .9 0 .9 -.2 .8 0 .9 -.2 .9 -.1 .9 0 .9 -.3 .8 -.1 .9 0 .9 -.2 .9 -.2 .9 .1 .8 -.2 .9 -.1 .9 -.1 .9 -.2 .8 0 .9 -.2 .9 -.1 .9 -.2 .9 -.1 .8 -.1 .9 -.2 .9 -.3 .9 -.2 .9 -.3 .8 -.1 .9 -.4 .9 -.3 .9 -.4 .9 -.3 .8 -.4 .9 -.3"/>
<path d="M125.8 758.8l.8 -6.1 .9 -4.6 .9 -3.3 .9 -1.9 .8 -1.8 .9 -1.5 .9 -1.4 .9 -.2 .9 -.8 .8 -.8 .9 -1 .9 -.2 .9 -1 .9 .1 .8 -.9 .9 -.8 .9 -1.1 .9 -.9 .8 -.1 .9 -1.1 .9 -1.6 .9 -.8 .9 -.8 .8 -1.8 .9 -.8 .9 -.8 .9 -.5 .9 -.9 .8 0 .9 -.7 .9 .5 .9 0 .8 -.4 .9 .3 .9 -.4 .9 .2 .9 .5 .8 -.2 .9 .3 .9 -.3 .9 .4 .9 -.1 .8 -.7 .9 -.5 .9 -.1 .9 .4 .9 -.2 .8 -.6 .9 .4 .9 .4 .9 -.1 .8 .2 .9 1.1 .9 1.3 .9 1.2 .9 .9 .8 2.4 .9 2 .9 2.4 .9 2.8 .9 3.2 .8 2.4 .9 3.1 .9 2.4 .9 2.4 .8 1 .9 1.9 .9 1.6 .9 1.2 .9 1.1 .8 .7 .9 1.7 .9 .8 .9 .6 .9 -.1 .8 1.2 .9 .9 .9 .3 .9 .2 .9 1.2 .8 .5 .9 -.1 .9 .6 .9 .3 .8 .6 .9 -.6 .9 .3 .9 .5 .9 .1 .8 .9 .9 -.7 .9 .4 .9 -.1 .9 -.1 .8 .3 .9 .4 .9 -.6 .9 .2 .8 -.2 .9 0 .9 -.2 .9 .4 .9 -1.2 .8 .1 .9 -.4 .9 -.5 .9 .4 .9 .3 .8 -.5 .9 -.1 .9 -.5 .9 -.4 .9 .4 .8 -1 .9 .3 .9 -.8 .9 -.1 .8 -.1 .9 -.3 .9 -.1 .9 -.2 .9 .1 .8 -.7 .9 -.8 .9 -.3 .9 -.1 .9 0 .8 .1 .9 -.9 .9 .2 .9 -.3 .8 -.2 .9 -.3 .9 -.1 .9 -.4 .9 0 .8 -.4 .9 -1.1 .9 .5 .9 -.2 .9 -.5 .8 -.3 .9 .3 .9 -.5 .9 -.6 .9 0 .8 -.2 .9 -.7 .9 .4 .9 -.4 .8 -.1 .9 -.8 .9 .7 .9 -.6 .9 -.2 .8 -.6 .9 -.2 .9 -.4 .9 .5 .9 -.8 .8 .1 .9 -.1 .9 -.5 .9 .1 .8 .1 .9 -.6 .9 .1 .9 -.3 .9 -.5 .8 -.1 .9 -.4 .9 .2 .9 .2 .9 -.4 .8 -.1 .9 -.1 .9 -.5 .9 .1 .8 .2 .9 -.7 .9 0 .9 -.2 .9 -.1 .8 -.3 .9 0 .9 -.4 .9 0 .9 -.1 .8 -.2 .9 .2 .9 -.4 .9 -.1 .9 -.3 .8 .2 .9 -.7 .9 .1 .9 0 .8 -.1 .9 -.4 .9 -.2 .9 0 .9 -.4 .8 0 .9 -.4 .9 0 .9 -.2 .9 -.4 .8 -.4 .9 .4 .9 -.3 .9 -.1 .8 -.5 .9 .1 .9 -.2 .9 -.3 .9 -.1 .8 -.2 .9 -.2 .9 0 .9 -.3 .9 -.4 .8 -.3 .9 -.1 .9 0 .9 -.4 .9 -.4 .8 -.2 .9 -.1 .9 -.2 .9 -.4 .8 0 .9 -.2 .9 -.2 .9 -.5 .9 -.1 .8 -.3 .9 0 .9 -.4 .9 0 .9 -.2 .8 -.5 .9 0 .9 -.1 .9 -.2 .8 -.3 .9 -.3 .9 0 .9 -.1 .9 -.4 .8 -.2 .9 -.3 .9 -.4 .9 -.1 .9 -.3 .8 -.1 .9 -.5 .9 -.4 .9 -.2 .9 -.3 .8 -.3 .9 -.5 .9 -.1 .9 -.5 .8 -.5 .9 -.5 .9 -.4 .9 -.6 .9 -.5 .8 -.6 .9 -.6 .9 -.6 .9 -.8 .9 -.9 .8 -.6 .9 -1 .9 -1 .9 -.9 .8 -1.2 .9 -1.1 .9 -1.6 .9 -1.5 .9 -1.6 .8 -1.5 .9 -2 .9 -2 .9 -2.3 .9 -2.6 .8 -2.5 .9 -3.2 .9 -3.1 .9 -3.5 .9 -3.4 .8 -3.6 .9 -3.7 .9 -3.4 .9 -2.8 .8 -2.1 .9 -.8 .9 .3 .9 1.1 .9 2.4 .8 3.1 .9 3.4 .9 3.5 .9 3.8 .9 3.5 .8 3.2 .9 2.9 .9 3.1 .9 2.3 .8 2.5 .9 2.2 .9 1.7 .9 1.9 .9 1.8 .8 1.4 .9 1.2 .9 1.2 .9 1.3 .9 .9 .8 .9 .9 1 .9 .7 .9 .8 .8 .7 .9 .6 .9 .6 .9 .5 .9 .5 .8 .5 .9 .3 .9 .4 .9 .3 .9 .3 .8 .4 .9 .1 .9 .5 .9 .1 .9 .3 .8 0 .9 .3 .9 .5 .9 0 .8 0 .9 .2 .9 .1 .9 .2 .9 .1 .8 0 .9 .2 .9 0 .9 .4 .9 -.2 .8 .2 .9 -.1 .9 .2 .9 .1 .8 -.1 .9 .2 .9 0 .9 .1 .9 -.1 .8 0 .9 -.1 .9 .2 .9 -.1 .9 .1 .8 0 .9 -.1 .9 -.1 .9 .2 .9 -.1 .8 0 .9 0 .9 .1 .9 -.2 .8 .1 .9 -.1 .9 .1 .9 -.2 .9 0 .8 .1 .9 -.3 .9 .1 .9 -.1 .9 0 .8 .1 .9 0 .9 -.1 .9 0 .8 -.1 .9 0 .9 .1 .9 -.2 .9 .2 .8 -.3 .9 .1 .9 -.1 .9 -.1 .9 0 .8 .1 .9 -.1 .9 -.1 .9 .1 .9 -.2 .8 -.2 .9 .2 .9 -.2 .9 .1 .8 -.2 .9 0 .9 -.1 .9 -.1 .9 -.1 .8 .1 .9 -.1 .9 .1 .9 -.2 .9 0 .8 -.1 .9 0 .9 -.2 .9 .2 .8 -.1 .9 -.2 .9 .1 .9 -.1 .9 -.1 .8 .1 .9 -.2 .9 -.2 .9 0 .9 .1 .8 -.1 .9 -.1 .9 -.1 .9 0 .9 -.1 .8 -.1 .9 -.1 .9 0 .9 0 .8 0 .9 -.2 .9 .1 .9 -.3 .9 0 .8 -.1 .9 -.2 .9 -.1 .9 .1 .9 -.2 .8 -.1 .9 0 .9 0 .9 -.2 .8 0 .9 -.3 .9 .2 .9 -.2 .9 -.2 .8 -.1 .9 -.1 .9 -.2 .9 0 .9 -.2 .8 .1 .9 -.3 .9 0 .9 -.2 .9 -.1 .8 -.1 .9 -.1 .9 -.2 .9 0 .8 -.1 .9 -.2 .9 -.2 .9 .2 .9 -.3 .8 -.2 .9 0 .9 -.1 .9 -.1 .9 0 .8 -.1 .9 -.1 .9 0 .9 0 .8 0 .9 .1 .9 0 .9 .1 .9 0 .8 .1 .9 .1 .9 .1 .9 .1 .9 .1 .8 0 .9 .1 .9 .1 .9 .2 .8 -.1 .9 .2 .9 .2 .9 .1 .9 .1 .8 .1 .9 .1 .9 .1 .9 .2 .9 .2 .8 0 .9 .2 .9 0 .9 0 .9 .1 .8 .2 .9 0 .9 -.1 .9 .1 .8 .1 .9 -.1 .9 0 .9 0 .9 .1 .8 0 .9 -.1 .9 .1 .9 0 .9 -.1 .8 0 .9 0 .9 0 .9 -.2 .8 .2 .9 -.1 .9 0 .9 -.1 .9 0 .8 0 .9 0 .9 0 .9 -.1 .9 -.1 .8 0 .9 .1 .9 -.1 .9 0 .9 -.1 .8 0 .9 0 .9 0 .9 -.1 .8 -.1 .9 .1 .9 -.1 .9 -.1 .9 0 .8 0 .9 -.1 .9 0 .9 -.1 .9 .1 .8 -.2 .9 0 .9 0 .9 -.1 .8 -.1 .9 0 .9 0 .9 -.1 .9 -.1 .8 -.1 .9 0 .9 0 .9 -.1 .9 -.1 .8 0 .9 -.1 .9 0 .9 -.1 .9 0 .8 -.1 .9 -.1 .9 -.1 .9 -.1 .8 0 .9 -.1 .9 -.1 .9 -.1 .9 -.1 .8 -.1 .9 -.1 .9 0 .9 -.1 .9 -.1 .8 -.1 .9 -.1 .9 -.2 .9 0 .8 -.1 .9 -.2 .9 -.1 .9 -.1 .9 -.1 .8 -.2 .9 -.2 .9 -.1 .9 -.3 .9 -.2 .8 -.2 .9 -.3 .9 -.3 .9 -.2 .9 -.4 .8 -.4 .9 -.3"/>
</g>
<path d="M146.67 571.75V566.15M146.67 3.50V9.10M167.60 571.75V559.75M167.60 3.50V15.50M188.52 571.75V566.15M188.52 3.50V9.10M209.44 571.75V566.15M209.44 3.50V9.10M230.37 571.75V566.15M230.37 3.50V9.10M251.29 571.75V559.75M251.29 3.50V15.50M272.21 571.75V566.15M272.21 3.50V9.10M293.13 571.75V566.15M293.13 3.50V9.10M314.06 571.75V566.15M314.06 3.50V9.10M334.98 571.75V559.75M334.98 3.50V15.50M355.90 571.75V566.15M355.90 3.50V9.10M376.83 571.75V566.15M376.83 3.50V9.10M397.75 571.75V566.15M397.75 3.50V9.10M418.67 571.75V559.75M418.67 3.50V15.50M439.60 571.75V566.15M439.60 3.50V9.10M460.52 571.75V566.15M460.52 3.50V9.10M481.44 571.75V566.15M481.44 3.50V9.10M502.37 571.75V559.75M502.37 3.50V15.50M523.29 571.75V566.15M523.29 3.50V9.10M544.21 571.75V566.15M544.21 3.50V9.10M565.13 571.75V566.15M565.13 3.50V9.10M586.06 571.75V559.75M586.06 3.50V15.50M606.98 571.75V566.15M606.98 3.50V9.10M627.90 571.75V566.15M627.90 3.50V9.10M648.83 571.75V566.15M648.83 3.50V9.10" stroke="#000" stroke-width="3" fill="none"/>
<path d="M146.67 1057.80V1050.50M146.67 601.50V608.80M167.60 1057.80V1046.20M167.60 601.50V613.10M188.52 1057.80V1050.50M188.52 601.50V608.80M209.44 1057.80V1050.50M209.44 601.50V608.80M230.37 1057.80V1050.50M230.37 601.50V608.80M251.29 1057.80V1046.20M251.29 601.50V613.10M272.21 1057.80V1050.50M272.21 601.50V608.80M293.13 1057.80V1050.50M293.13 601.50V608.80M314.06 1057.80V1050.50M314.06 601.50V608.80M334.98 1057.80V1046.20M334.98 601.50V613.10M355.90 1057.80V1050.50M355.90 601.50V608.80M376.83 1057.80V1050.50M376.83 601.50V608.80M397.75 1057.80V1050.50M397.75 601.50V608.80M418.67 1057.80V1046.20M418.67 601.50V613.10M439.60 1057.80V1050.50M439.60 601.50V608.80M460.52 1057.80V1050.50M460.52 601.50V608.80M481.44 1057.80V1050.50M481.44 601.50V608.80M502.37 1057.80V1046.20M502.37 601.50V613.10M523.29 1057.80V1050.50M523.29 601.50V608.80M544.21 1057.80V1050.50M544.21 601.50V608.80M565.13 1057.80V1050.50M565.13 601.50V608.80M586.06 1057.80V1046.20M586.06 601.50V613.10M606.98 1057.80V1050.50M606.98 601.50V608.80M627.90 1057.80V1050.50M627.90 601.50V608.80M648.83 1057.80V1050.50M648.83 601.50V608.80" stroke="#000" stroke-width="3" fill="none"/>
<path d="M125.75 553.00H137.75M669.75 553.00H657.75M125.75 535.28H131.75M669.75 535.28H663.75M125.75 517.57H131.75M669.75 517.57H663.75M125.75 499.85H131.75M669.75 499.85H663.75M125.75 482.13H131.75M669.75 482.13H663.75M125.75 464.42H137.75M669.75 464.42H657.75M125.75 446.70H131.75M669.75 446.70H663.75M125.75 428.98H131.75M669.75 428.98H663.75M125.75 411.26H131.75M669.75 411.26H663.75M125.75 393.55H131.75M669.75 393.55H663.75M125.75 375.83H137.75M669.75 375.83H657.75M125.75 358.11H131.75M669.75 358.11H663.75M125.75 340.40H131.75M669.75 340.40H663.75M125.75 322.68H131.75M669.75 322.68H663.75M125.75 304.96H131.75M669.75 304.96H663.75M125.75 287.25H137.75M669.75 287.25H657.75M125.75 269.53H131.75M669.75 269.53H663.75M125.75 251.81H131.75M669.75 251.81H663.75M125.75 234.09H131.75M669.75 234.09H663.75M125.75 216.38H131.75M669.75 216.38H663.75M125.75 198.66H137.75M669.75 198.66H657.75M125.75 180.94H131.75M669.75 180.94H663.75M125.75 163.23H131.75M669.75 163.23H663.75M125.75 145.51H131.75M669.75 145.51H663.75M125.75 127.79H131.75M669.75 127.79H663.75M125.75 110.08H137.75M669.75 110.08H657.75M125.75 92.36H131.75M669.75 92.36H663.75M125.75 74.64H131.75M669.75 74.64H663.75M125.75 56.92H131.75M669.75 56.92H663.75M125.75 39.21H131.75M669.75 39.21H663.75M125.75 21.49H137.75M669.75 21.49H657.75" stroke="#000" stroke-width="3" fill="none"/>
<path d="M125.75 1052.87H133.75M669.75 1052.87H661.75M125.75 1048.23H133.75M669.75 1048.23H661.75M125.75 1044.22H133.75M669.75 1044.22H661.75M125.75 1040.69H133.75M669.75 1040.69H661.75M125.75 1037.52H137.75M669.75 1037.52H657.75M125.75 1016.70H133.75M669.75 1016.70H661.75M125.75 1004.52H133.75M669.75 1004.52H661.75M125.75 995.88H133.75M669.75 995.88H661.75M125.75 989.17H133.75M669.75 989.17H661.75M125.75 983.70H133.75M669.75 983.70H661.75M125.75 979.06H133.75M669.75 979.06H661.75M125.75 975.05H133.75M669.75 975.05H661.75M125.75 971.52H133.75M669.75 971.52H661.75M125.75 968.35H137.75M669.75 968.35H657.75M125.75 947.53H133.75M669.75 947.53H661.75M125.75 935.35H133.75M669.75 935.35H661.75M125.75 926.71H133.75M669.75 926.71H661.75M125.75 920.00H133.75M669.75 920.00H661.75M125.75 914.53H133.75M669.75 914.53H661.75M125.75 909.89H133.75M669.75 909.89H661.75M125.75 905.88H133.75M669.75 905.88H661.75M125.75 902.35H133.75M669.75 902.35H661.75M125.75 899.18H137.75M669.75 899.18H657.75M125.75 878.36H133.75M669.75 878.36H661.75M125.75 866.18H133.75M669.75 866.18H661.75M125.75 857.54H133.75M669.75 857.54H661.75M125.75 850.83H133.75M669.75 850.83H661.75M125.75 845.36H133.75M669.75 845.36H661.75M125.75 840.72H133.75M669.75 840.72H661.75M125.75 836.71H133.75M669.75 836.71H661.75M125.75 833.18H133.75M669.75 833.18H661.75M125.75 830.01H137.75M669.75 830.01H657.75M125.75 809.19H133.75M669.75 809.19H661.75M125.75 797.01H133.75M669.75 797.01H661.75M125.75 788.37H133.75M669.75 788.37H661.75M125.75 781.66H133.75M669.75 781.66H661.75M125.75 776.19H133.75M669.75 776.19H661.75M125.75 771.55H133.75M669.75 771.55H661.75M125.75 767.54H133.75M669.75 767.54H661.75M125.75 764.01H133.75M669.75 764.01H661.75M125.75 760.84H137.75M669.75 760.84H657.75M125.75 740.02H133.75M669.75 740.02H661.75M125.75 727.84H133.75M669.75 727.84H661.75M125.75 719.20H133.75M669.75 719.20H661.75M125.75 712.49H133.75M669.75 712.49H661.75M125.75 707.02H133.75M669.75 707.02H661.75M125.75 702.38H133.75M669.75 702.38H661.75M125.75 698.37H133.75M669.75 698.37H661.75M125.75 694.84H133.75M669.75 694.84H661.75M125.75 691.67H137.75M669.75 691.67H657.75M125.75 670.85H133.75M669.75 670.85H661.75M125.75 658.67H133.75M669.75 658.67H661.75M125.75 650.03H133.75M669.75 650.03H661.75M125.75 643.32H133.75M669.75 643.32H661.75M125.75 637.85H133.75M669.75 637.85H661.75M125.75 633.21H133.75M669.75 633.21H661.75M125.75 629.20H133.75M669.75 629.20H661.75M125.75 625.67H133.75M669.75 625.67H661.75M125.75 622.50H137.75M669.75 622.50H657.75" stroke="#000" stroke-width="3.2" fill="none"/>
<rect x="125.75" y="3.50" width="544.00" height="568.25" fill="none" stroke="#000" stroke-width="3.6"/>
<rect x="125.75" y="601.50" width="544.00" height="456.30" fill="none" stroke="#000" stroke-width="3.6"/>
<text transform="translate(94.29 31.50) scale(1.0800 1)" fill="#000" style="font-family:'Liberation Sans', sans-serif;font-size:29.40px;font-kerning:none;stroke:#000;stroke-width:0.90;stroke-linejoin:round;">3</text>
<text transform="translate(67.74 120.09) scale(1.0800 1)" fill="#000" style="font-family:'Liberation Sans', sans-serif;font-size:29.40px;font-kerning:none;stroke:#000;stroke-width:0.90;stroke-linejoin:round;">2.5</text>
<text transform="translate(94.49 208.67) scale(1.0800 1)" fill="#000" style="font-family:'Liberation Sans', sans-serif;font-size:29.40px;font-kerning:none;stroke:#000;stroke-width:0.90;stroke-linejoin:round;">2</text>
<text transform="translate(67.74 297.26) scale(1.0800 1)" fill="#000" style="font-family:'Liberation Sans', sans-serif;font-size:29.40px;font-kerning:none;stroke:#000;stroke-width:0.90;stroke-linejoin:round;"> .5</text><path transform="translate(67.74 297.26) scale(0.01550 -0.01436)" d="M763 0H583V1098Q518 1038 412 979Q307 920 223 890V1057Q374 1125 487 1221Q600 1318 647 1409H763Z" fill="#000" stroke="#000" stroke-width="0.90" stroke-linejoin="round" vector-effect="non-scaling-stroke"/>
<text transform="translate(98.72 385.84) scale(1.0800 1)" fill="#000" style="font-family:'Liberation Sans', sans-serif;font-size:29.40px;font-kerning:none;stroke:#000;stroke-width:0.90;stroke-linejoin:round;"> </text><path transform="translate(98.72 385.84) scale(0.01550 -0.01436)" d="M763 0H583V1098Q518 1038 412 979Q307 920 223 890V1057Q374 1125 487 1221Q600 1318 647 1409H763Z" fill="#000" stroke="#000" stroke-width="0.90" stroke-linejoin="round" vector-effect="non-scaling-stroke"/>
<text transform="translate(67.74 474.43) scale(1.0800 1)" fill="#000" style="font-family:'Liberation Sans', sans-serif;font-size:29.40px;font-kerning:none;stroke:#000;stroke-width:0.90;stroke-linejoin:round;">0.5</text>
<text transform="translate(94.13 563.01) scale(1.0800 1)" fill="#000" style="font-family:'Liberation Sans', sans-serif;font-size:29.40px;font-kerning:none;stroke:#000;stroke-width:0.90;stroke-linejoin:round;">0</text>
<text transform="translate(68.29 631.81) scale(1.0800 1)" fill="#000" style="font-family:'Liberation Sans', sans-serif;font-size:29.40px;font-kerning:none;stroke:#000;stroke-width:0.90;stroke-linejoin:round;"> 0</text><path transform="translate(68.29 631.81) scale(0.01550 -0.01436)" d="M763 0H583V1098Q518 1038 412 979Q307 920 223 890V1057Q374 1125 487 1221Q600 1318 647 1409H763Z" fill="#000" stroke="#000" stroke-width="0.90" stroke-linejoin="round" vector-effect="non-scaling-stroke"/>
<text transform="translate(101.70 616.21) scale(1.0800 1)" fill="#000" style="font-family:'Liberation Sans', sans-serif;font-size:19.60px;font-kerning:none;stroke:#000;stroke-width:0.80;stroke-linejoin:round;"> </text><path transform="translate(101.70 616.21) scale(0.01034 -0.00957)" d="M763 0H583V1098Q518 1038 412 979Q307 920 223 890V1057Q374 1125 487 1221Q600 1318 647 1409H763Z" fill="#000" stroke="#000" stroke-width="0.80" stroke-linejoin="round" vector-effect="non-scaling-stroke"/>
<text transform="translate(68.29 700.98) scale(1.0800 1)" fill="#000" style="font-family:'Liberation Sans', sans-serif;font-size:29.40px;font-kerning:none;stroke:#000;stroke-width:0.90;stroke-linejoin:round;"> 0</text><path transform="translate(68.29 700.98) scale(0.01550 -0.01436)" d="M763 0H583V1098Q518 1038 412 979Q307 920 223 890V1057Q374 1125 487 1221Q600 1318 647 1409H763Z" fill="#000" stroke="#000" stroke-width="0.90" stroke-linejoin="round" vector-effect="non-scaling-stroke"/>
<text transform="translate(103.17 685.38) scale(1.0800 1)" fill="#000" style="font-family:'Liberation Sans', sans-serif;font-size:19.60px;font-kerning:none;stroke:#000;stroke-width:0.80;stroke-linejoin:round;">0</text>
<text transform="translate(61.29 770.15) scale(1.0800 1)" fill="#000" style="font-family:'Liberation Sans', sans-serif;font-size:29.40px;font-kerning:none;stroke:#000;stroke-width:0.90;stroke-linejoin:round;"> 0</text><path transform="translate(61.29 770.15) scale(0.01550 -0.01436)" d="M763 0H583V1098Q518 1038 412 979Q307 920 223 890V1057Q374 1125 487 1221Q600 1318 647 1409H763Z" fill="#000" stroke="#000" stroke-width="0.90" stroke-linejoin="round" vector-effect="non-scaling-stroke"/>
<text transform="translate(95.16 754.55) scale(1.0800 1)" fill="#000" style="font-family:'Liberation Sans', sans-serif;font-size:19.60px;font-kerning:none;stroke:#000;stroke-width:0.80;stroke-linejoin:round;">- </text><path transform="translate(102.21 754.55) scale(0.01034 -0.00957)" d="M763 0H583V1098Q518 1038 412 979Q307 920 223 890V1057Q374 1125 487 1221Q600 1318 647 1409H763Z" fill="#000" stroke="#000" stroke-width="0.80" stroke-linejoin="round" vector-effect="non-scaling-stroke"/>
<text transform="translate(61.29 839.32) scale(1.0800 1)" fill="#000" style="font-family:'Liberation Sans', sans-serif;font-size:29.40px;font-kerning:none;stroke:#000;stroke-width:0.90;stroke-linejoin:round;"> 0</text><path transform="translate(61.29 839.32) scale(0.01550 -0.01436)" d="M763 0H583V1098Q518 1038 412 979Q307 920 223 890V1057Q374 1125 487 1221Q600 1318 647 1409H763Z" fill="#000" stroke="#000" stroke-width="0.90" stroke-linejoin="round" vector-effect="non-scaling-stroke"/>
<text transform="translate(95.16 823.72) scale(1.0800 1)" fill="#000" style="font-family:'Liberation Sans', sans-serif;font-size:19.60px;font-kerning:none;stroke:#000;stroke-width:0.80;stroke-linejoin:round;">-2</text>
<text transform="translate(61.29 908.49) scale(1.0800 1)" fill="#000" style="font-family:'Liberation Sans', sans-serif;font-size:29.40px;font-kerning:none;stroke:#000;stroke-width:0.90;stroke-linejoin:round;"> 0</text><path transform="translate(61.29 908.49) scale(0.01550 -0.01436)" d="M763 0H583V1098Q518 1038 412 979Q307 920 223 890V1057Q374 1125 487 1221Q600 1318 647 1409H763Z" fill="#000" stroke="#000" stroke-width="0.90" stroke-linejoin="round" vector-effect="non-scaling-stroke"/>
<text transform="translate(95.16 892.89) scale(1.0800 1)" fill="#000" style="font-family:'Liberation Sans', sans-serif;font-size:19.60px;font-kerning:none;stroke:#000;stroke-width:0.80;stroke-linejoin:round;">-3</text>
<text transform="translate(61.29 977.66) scale(1.0800 1)" fill="#000" style="font-family:'Liberation Sans', sans-serif;font-size:29.40px;font-kerning:none;stroke:#000;stroke-width:0.90;stroke-linejoin:round;"> 0</text><path transform="translate(61.29 977.66) scale(0.01550 -0.01436)" d="M763 0H583V1098Q518 1038 412 979Q307 920 223 890V1057Q374 1125 487 1221Q600 1318 647 1409H763Z" fill="#000" stroke="#000" stroke-width="0.90" stroke-linejoin="round" vector-effect="non-scaling-stroke"/>
<text transform="translate(95.16 962.06) scale(1.0800 1)" fill="#000" style="font-family:'Liberation Sans', sans-serif;font-size:19.60px;font-kerning:none;stroke:#000;stroke-width:0.80;stroke-linejoin:round;">-4</text>
<text transform="translate(61.29 1046.83) scale(1.0800 1)" fill="#000" style="font-family:'Liberation Sans', sans-serif;font-size:29.40px;font-kerning:none;stroke:#000;stroke-width:0.90;stroke-linejoin:round;"> 0</text><path transform="translate(61.29 1046.83) scale(0.01550 -0.01436)" d="M763 0H583V1098Q518 1038 412 979Q307 920 223 890V1057Q374 1125 487 1221Q600 1318 647 1409H763Z" fill="#000" stroke="#000" stroke-width="0.90" stroke-linejoin="round" vector-effect="non-scaling-stroke"/>
<text transform="translate(95.16 1031.23) scale(1.0800 1)" fill="#000" style="font-family:'Liberation Sans', sans-serif;font-size:19.60px;font-kerning:none;stroke:#000;stroke-width:0.80;stroke-linejoin:round;">-5</text>
<text transform="translate(138.40 1091.60) scale(1.0800 1)" fill="#000" style="font-family:'Liberation Sans', sans-serif;font-size:29.40px;font-kerning:none;stroke:#000;stroke-width:0.90;stroke-linejoin:round;"> .2</text><path transform="translate(138.40 1091.60) scale(0.01550 -0.01436)" d="M763 0H583V1098Q518 1038 412 979Q307 920 223 890V1057Q374 1125 487 1221Q600 1318 647 1409H763Z" fill="#000" stroke="#000" stroke-width="0.90" stroke-linejoin="round" vector-effect="non-scaling-stroke"/>
<text transform="translate(221.76 1091.60) scale(1.0800 1)" fill="#000" style="font-family:'Liberation Sans', sans-serif;font-size:29.40px;font-kerning:none;stroke:#000;stroke-width:0.90;stroke-linejoin:round;"> .4</text><path transform="translate(221.76 1091.60) scale(0.01550 -0.01436)" d="M763 0H583V1098Q518 1038 412 979Q307 920 223 890V1057Q374 1125 487 1221Q600 1318 647 1409H763Z" fill="#000" stroke="#000" stroke-width="0.90" stroke-linejoin="round" vector-effect="non-scaling-stroke"/>
<text transform="translate(305.68 1091.60) scale(1.0800 1)" fill="#000" style="font-family:'Liberation Sans', sans-serif;font-size:29.40px;font-kerning:none;stroke:#000;stroke-width:0.90;stroke-linejoin:round;"> .6</text><path transform="translate(305.68 1091.60) scale(0.01550 -0.01436)" d="M763 0H583V1098Q518 1038 412 979Q307 920 223 890V1057Q374 1125 487 1221Q600 1318 647 1409H763Z" fill="#000" stroke="#000" stroke-width="0.90" stroke-linejoin="round" vector-effect="non-scaling-stroke"/>
<text transform="translate(389.36 1091.60) scale(1.0800 1)" fill="#000" style="font-family:'Liberation Sans', sans-serif;font-size:29.40px;font-kerning:none;stroke:#000;stroke-width:0.90;stroke-linejoin:round;"> .8</text><path transform="translate(389.36 1091.60) scale(0.01550 -0.01436)" d="M763 0H583V1098Q518 1038 412 979Q307 920 223 890V1057Q374 1125 487 1221Q600 1318 647 1409H763Z" fill="#000" stroke="#000" stroke-width="0.90" stroke-linejoin="round" vector-effect="non-scaling-stroke"/>
<text transform="translate(487.34 1091.60) scale(1.0800 1)" fill="#000" style="font-family:'Liberation Sans', sans-serif;font-size:29.40px;font-kerning:none;stroke:#000;stroke-width:0.90;stroke-linejoin:round;">2</text>
<text transform="translate(557.79 1091.60) scale(1.0800 1)" fill="#000" style="font-family:'Liberation Sans', sans-serif;font-size:29.40px;font-kerning:none;stroke:#000;stroke-width:0.90;stroke-linejoin:round;">2.2</text>
<text transform="translate(641.15 1091.60) scale(1.0800 1)" fill="#000" style="font-family:'Liberation Sans', sans-serif;font-size:29.40px;font-kerning:none;stroke:#000;stroke-width:0.90;stroke-linejoin:round;">2.4</text>
<text transform="translate(39.70 484.45) rotate(-90) scale(0.9585 1)" style="font-family:'Liberation Sans', sans-serif;font-size:38.00px;font-kerning:none;stroke:#000;stroke-width:0.3">Spectral Intensity (a.u.)</text>
<text transform="translate(37.90 1029.55) rotate(-90) scale(0.9575 1)" style="font-family:'Liberation Sans', sans-serif;font-size:38.00px;font-kerning:none;stroke:#000;stroke-width:0.3">Spectral Intensity (a.u.)</text>
<text transform="translate(282.77 1134.76) scale(1.0847 1)" fill="#000" style="font-family:'Liberation Sans', sans-serif;font-size:27.68px;font-kerning:none;stroke:#000;stroke-width:1.00;stroke-linejoin:round;">Wavelength (μm)</text>
<text transform="translate(0.41 42.87) scale(0.7965 1)" fill="#000" style="font-family:'Liberation Sans', sans-serif;font-size:40.25px;font-kerning:none;stroke:#000;stroke-width:0.60;stroke-linejoin:round;">(</text>
<text transform="translate(14.38 42.47) scale(0.8871 1)" fill="#000" style="font-family:'Liberation Sans', sans-serif;font-size:39.06px;font-kerning:none;stroke:#000;stroke-width:0.90;stroke-linejoin:round;">a</text>
<text transform="translate(38.50 42.87) scale(0.8339 1)" fill="#000" style="font-family:'Liberation Sans', sans-serif;font-size:40.25px;font-kerning:none;stroke:#000;stroke-width:0.60;stroke-linejoin:round;">)</text>
<text transform="translate(1.47 622.44) scale(0.8130 1)" fill="#000" style="font-family:'Liberation Sans', sans-serif;font-size:40.36px;font-kerning:none;stroke:#000;stroke-width:0.60;stroke-linejoin:round;">(</text>
<text transform="translate(14.64 621.48) scale(0.9079 1)" fill="#000" style="font-family:'Liberation Sans', sans-serif;font-size:37.72px;font-kerning:none;stroke:#000;stroke-width:0.90;stroke-linejoin:round;">b</text>
<text transform="translate(40.11 622.44) scale(0.8130 1)" fill="#000" style="font-family:'Liberation Sans', sans-serif;font-size:40.36px;font-kerning:none;stroke:#000;stroke-width:0.60;stroke-linejoin:round;">)</text>
<path d="M338.7 191.9H388.6V209" stroke="#f01a1a" stroke-width="2.4" fill="none"/>
<text transform="translate(223.30 202.09) scale(1.0693 1)" fill="#f01a1a" style="font-family:'Liberation Sans', sans-serif;font-size:27.17px;font-kerning:none;stroke:#f01a1a;stroke-width:0.20;stroke-linejoin:round;">λ~ .7μm</text><path transform="translate(254.79 202.09) scale(0.01419 -0.01327)" d="M763 0H583V1098Q518 1038 412 979Q307 920 223 890V1057Q374 1125 487 1221Q600 1318 647 1409H763Z" fill="#f01a1a" stroke="#f01a1a" stroke-width="0.20" stroke-linejoin="round" vector-effect="non-scaling-stroke"/>
<path d="M350.4 639.2H389.4V668" stroke="#f01a1a" stroke-width="2.4" fill="none"/>
<text transform="translate(235.00 649.57) scale(1.1034 1)" fill="#f01a1a" style="font-family:'Liberation Sans', sans-serif;font-size:26.19px;font-kerning:none;stroke:#f01a1a;stroke-width:0.20;stroke-linejoin:round;">λ~ .7μm</text><path transform="translate(266.32 649.57) scale(0.01411 -0.01279)" d="M763 0H583V1098Q518 1038 412 979Q307 920 223 890V1057Q374 1125 487 1221Q600 1318 647 1409H763Z" fill="#f01a1a" stroke="#f01a1a" stroke-width="0.20" stroke-linejoin="round" vector-effect="non-scaling-stroke"/>
<text transform="translate(141.70 452.14) scale(1.1163 1)" fill="#000" style="font-family:'Liberation Sans', sans-serif;font-size:25.86px;font-kerning:none;stroke:#000;stroke-width:0.20;stroke-linejoin:round;">λ~ .2μm</text><path transform="translate(172.99 452.14) scale(0.01410 -0.01263)" d="M763 0H583V1098Q518 1038 412 979Q307 920 223 890V1057Q374 1125 487 1221Q600 1318 647 1409H763Z" fill="#000" stroke="#000" stroke-width="0.20" stroke-linejoin="round" vector-effect="non-scaling-stroke"/>
<path d="M162.7 457.5V480.5" stroke="#000" stroke-width="2.2"/>
<text transform="translate(140.70 686.76) scale(1.1453 1)" fill="#000" style="font-family:'Liberation Sans', sans-serif;font-size:25.20px;font-kerning:none;stroke:#000;stroke-width:0.20;stroke-linejoin:round;">λ~ .2μm</text><path transform="translate(171.99 686.76) scale(0.01410 -0.01231)" d="M763 0H583V1098Q518 1038 412 979Q307 920 223 890V1057Q374 1125 487 1221Q600 1318 647 1409H763Z" fill="#000" stroke="#000" stroke-width="0.20" stroke-linejoin="round" vector-effect="non-scaling-stroke"/>
<path d="M162.9 696V716.5" stroke="#000" stroke-width="2.2"/>
<path d="M405.1 219.3H473.6M403.3 335.4H474.2M403.3 400.2H474M406.2 441.7H474" stroke="#000" stroke-width="2.6" fill="none"/>
<text transform="translate(477.27 228.55) scale(1.2131 1)" fill="#000" style="font-family:'Liberation Sans', sans-serif;font-size:18.90px;font-kerning:none;stroke:#000;stroke-width:0.50;stroke-linejoin:round;">P</text>
<text transform="translate(493.57 233.30) scale(0.9034 1)" fill="#000" style="font-family:'Liberation Sans', sans-serif;font-size:13.81px;font-kerning:none;font-weight:bold;stroke:#000;stroke-width:0.40;stroke-linejoin:round;">IN</text>
<text transform="translate(514.26 228.55) scale(1.0750 1)" fill="#000" style="font-family:'Liberation Sans', sans-serif;font-size:18.90px;font-kerning:none;stroke:#000;stroke-width:0.50;stroke-linejoin:round;">= 5. W, I= .95</text><path transform="translate(548.71 228.55) scale(0.00992 -0.00923)" d="M763 0H583V1098Q518 1038 412 979Q307 920 223 890V1057Q374 1125 487 1221Q600 1318 647 1409H763Z" fill="#000" stroke="#000" stroke-width="0.50" stroke-linejoin="round" vector-effect="non-scaling-stroke"/><path transform="translate(607.97 228.55) scale(0.00992 -0.00923)" d="M763 0H583V1098Q518 1038 412 979Q307 920 223 890V1057Q374 1125 487 1221Q600 1318 647 1409H763Z" fill="#000" stroke="#000" stroke-width="0.50" stroke-linejoin="round" vector-effect="non-scaling-stroke"/>
<text transform="translate(477.27 340.75) scale(1.2131 1)" fill="#000" style="font-family:'Liberation Sans', sans-serif;font-size:18.90px;font-kerning:none;stroke:#000;stroke-width:0.50;stroke-linejoin:round;">P</text>
<text transform="translate(493.57 344.70) scale(0.9980 1)" fill="#000" style="font-family:'Liberation Sans', sans-serif;font-size:12.50px;font-kerning:none;font-weight:bold;stroke:#000;stroke-width:0.40;stroke-linejoin:round;">IN</text>
<text transform="translate(511.45 340.75) scale(1.0844 1)" fill="#000" style="font-family:'Liberation Sans', sans-serif;font-size:18.90px;font-kerning:none;stroke:#000;stroke-width:0.50;stroke-linejoin:round;">= 4.7W, I= .24</text><path transform="translate(605.97 340.75) scale(0.01000 -0.00923)" d="M763 0H583V1098Q518 1038 412 979Q307 920 223 890V1057Q374 1125 487 1221Q600 1318 647 1409H763Z" fill="#000" stroke="#000" stroke-width="0.50" stroke-linejoin="round" vector-effect="non-scaling-stroke"/>
<text transform="translate(476.57 407.75) scale(1.2927 1)" fill="#000" style="font-family:'Liberation Sans', sans-serif;font-size:17.73px;font-kerning:none;stroke:#000;stroke-width:0.50;stroke-linejoin:round;">P</text>
<text transform="translate(492.97 412.70) scale(0.9644 1)" fill="#000" style="font-family:'Liberation Sans', sans-serif;font-size:12.94px;font-kerning:none;font-weight:bold;stroke:#000;stroke-width:0.40;stroke-linejoin:round;">IN</text>
<text transform="translate(511.45 407.75) scale(1.1592 1)" fill="#000" style="font-family:'Liberation Sans', sans-serif;font-size:17.73px;font-kerning:none;stroke:#000;stroke-width:0.50;stroke-linejoin:round;">= 4.5W, I=0.87</text>
<text transform="translate(476.57 447.35) scale(1.2131 1)" fill="#000" style="font-family:'Liberation Sans', sans-serif;font-size:18.90px;font-kerning:none;stroke:#000;stroke-width:0.50;stroke-linejoin:round;">P</text>
<text transform="translate(492.97 451.70) scale(0.9644 1)" fill="#000" style="font-family:'Liberation Sans', sans-serif;font-size:12.94px;font-kerning:none;font-weight:bold;stroke:#000;stroke-width:0.40;stroke-linejoin:round;">IN</text>
<text transform="translate(511.45 447.35) scale(1.0868 1)" fill="#000" style="font-family:'Liberation Sans', sans-serif;font-size:18.90px;font-kerning:none;stroke:#000;stroke-width:0.50;stroke-linejoin:round;">= 4.2W, I=0.63</text>
<path d="M472 482.8H433.1L381.8 546.6" stroke="#ee9a2a" stroke-width="2.5" fill="none" stroke-linejoin="round"/>
<text transform="translate(475.97 487.12) scale(1.2620 1)" fill="#eb982c" style="font-family:'Liberation Sans', sans-serif;font-size:18.39px;font-kerning:none;stroke:#4e3a10;stroke-width:0.35;stroke-linejoin:round;stroke-opacity:0.85;">P</text>
<text transform="translate(492.74 492.83) scale(0.8754 1)" fill="#eb982c" style="font-family:'Liberation Sans', sans-serif;font-size:14.32px;font-kerning:none;font-weight:bold;stroke:#4e3a10;stroke-width:0.35;stroke-linejoin:round;stroke-opacity:0.85;">IN</text>
<text transform="translate(509.66 487.12) scale(1.1338 1)" fill="#eb982c" style="font-family:'Liberation Sans', sans-serif;font-size:18.39px;font-kerning:none;stroke:#4e3a10;stroke-width:0.35;stroke-linejoin:round;stroke-opacity:0.85;">= 2.8W, I=0.055</text>
<path d="M393.8 671.6H471.4" stroke="#000" stroke-width="2.6"/>
<text transform="translate(473.57 678.55) scale(1.2321 1)" fill="#000" style="font-family:'Liberation Sans', sans-serif;font-size:18.60px;font-kerning:none;stroke:#000;stroke-width:0.50;stroke-linejoin:round;">P</text>
<text transform="translate(490.37 684.90) scale(0.9131 1)" fill="#000" style="font-family:'Liberation Sans', sans-serif;font-size:13.66px;font-kerning:none;font-weight:bold;stroke:#000;stroke-width:0.40;stroke-linejoin:round;">IN</text>
<text transform="translate(506.73 678.55) scale(1.1252 1)" fill="#000" style="font-family:'Liberation Sans', sans-serif;font-size:18.60px;font-kerning:none;stroke:#000;stroke-width:0.50;stroke-linejoin:round;">=5. W, I= .95</text><path transform="translate(536.41 678.55) scale(0.01022 -0.00908)" d="M763 0H583V1098Q518 1038 412 979Q307 920 223 890V1057Q374 1125 487 1221Q600 1318 647 1409H763Z" fill="#000" stroke="#000" stroke-width="0.50" stroke-linejoin="round" vector-effect="non-scaling-stroke"/><path transform="translate(597.49 678.55) scale(0.01022 -0.00908)" d="M763 0H583V1098Q518 1038 412 979Q307 920 223 890V1057Q374 1125 487 1221Q600 1318 647 1409H763Z" fill="#000" stroke="#000" stroke-width="0.50" stroke-linejoin="round" vector-effect="non-scaling-stroke"/>
<path d="M378 881.2H394.9L457.5 988M376.4 912.1H393.3L458.3 1016.9M378.8 941.8H395.7L457.5 1039.4" stroke="#ee9a2a" stroke-width="2.4" fill="none" stroke-linejoin="round"/>
<text transform="translate(461.17 994.62) scale(1.2233 1)" fill="#eb982c" style="font-family:'Liberation Sans', sans-serif;font-size:18.97px;font-kerning:none;stroke:#4e3a10;stroke-width:0.35;stroke-linejoin:round;stroke-opacity:0.85;">P</text>
<text transform="translate(476.84 999.02) scale(0.9968 1)" fill="#eb982c" style="font-family:'Liberation Sans', sans-serif;font-size:12.57px;font-kerning:none;font-weight:bold;stroke:#4e3a10;stroke-width:0.35;stroke-linejoin:round;stroke-opacity:0.85;">IN</text>
<text transform="translate(494.15 994.62) scale(1.1075 1)" fill="#eb982c" style="font-family:'Liberation Sans', sans-serif;font-size:18.97px;font-kerning:none;stroke:#4e3a10;stroke-width:0.35;stroke-linejoin:round;stroke-opacity:0.85;">= .8W, I=0.00 7</text><path transform="translate(506.42 994.62) scale(0.01026 -0.00926)" d="M763 0H583V1098Q518 1038 412 979Q307 920 223 890V1057Q374 1125 487 1221Q600 1318 647 1409H763Z" fill="#eb982c" stroke="#4e3a10" stroke-width="0.35" stroke-linejoin="round" vector-effect="non-scaling-stroke" stroke-opacity="0.85"/><path transform="translate(626.11 994.62) scale(0.01026 -0.00926)" d="M763 0H583V1098Q518 1038 412 979Q307 920 223 890V1057Q374 1125 487 1221Q600 1318 647 1409H763Z" fill="#eb982c" stroke="#4e3a10" stroke-width="0.35" stroke-linejoin="round" vector-effect="non-scaling-stroke" stroke-opacity="0.85"/>
<text transform="translate(461.17 1019.52) scale(1.2233 1)" fill="#eb982c" style="font-family:'Liberation Sans', sans-serif;font-size:18.97px;font-kerning:none;stroke:#4e3a10;stroke-width:0.35;stroke-linejoin:round;stroke-opacity:0.85;">P</text>
<text transform="translate(476.84 1023.82) scale(0.8580 1)" fill="#eb982c" style="font-family:'Liberation Sans', sans-serif;font-size:14.61px;font-kerning:none;font-weight:bold;stroke:#4e3a10;stroke-width:0.35;stroke-linejoin:round;stroke-opacity:0.85;">IN</text>
<text transform="translate(494.15 1019.52) scale(1.1066 1)" fill="#eb982c" style="font-family:'Liberation Sans', sans-serif;font-size:18.97px;font-kerning:none;stroke:#4e3a10;stroke-width:0.35;stroke-linejoin:round;stroke-opacity:0.85;">= .6W, I=0.0006</text><path transform="translate(506.41 1019.52) scale(0.01025 -0.00926)" d="M763 0H583V1098Q518 1038 412 979Q307 920 223 890V1057Q374 1125 487 1221Q600 1318 647 1409H763Z" fill="#eb982c" stroke="#4e3a10" stroke-width="0.35" stroke-linejoin="round" vector-effect="non-scaling-stroke" stroke-opacity="0.85"/>
<text transform="translate(461.17 1042.82) scale(1.2233 1)" fill="#eb982c" style="font-family:'Liberation Sans', sans-serif;font-size:18.97px;font-kerning:none;stroke:#4e3a10;stroke-width:0.35;stroke-linejoin:round;stroke-opacity:0.85;">P</text>
<text transform="translate(476.84 1046.82) scale(0.9124 1)" fill="#eb982c" style="font-family:'Liberation Sans', sans-serif;font-size:13.74px;font-kerning:none;font-weight:bold;stroke:#4e3a10;stroke-width:0.35;stroke-linejoin:round;stroke-opacity:0.85;">IN</text>
<text transform="translate(494.15 1042.83) scale(1.1075 1)" fill="#eb982c" style="font-family:'Liberation Sans', sans-serif;font-size:18.97px;font-kerning:none;stroke:#4e3a10;stroke-width:0.35;stroke-linejoin:round;stroke-opacity:0.85;">= .3W, I=0.0002</text><path transform="translate(506.42 1042.83) scale(0.01026 -0.00926)" d="M763 0H583V1098Q518 1038 412 979Q307 920 223 890V1057Q374 1125 487 1221Q600 1318 647 1409H763Z" fill="#eb982c" stroke="#4e3a10" stroke-width="0.35" stroke-linejoin="round" vector-effect="non-scaling-stroke" stroke-opacity="0.85"/>
<rect x="400.2" y="18.9" width="254.2" height="165.2" fill="#fff" stroke="#8fb1ae" stroke-width="2"/>
<text transform="translate(406.44 38.23) scale(1.0455 1)" fill="#000" style="font-family:'Liberation Sans', sans-serif;font-size:22.88px;font-kerning:none;stroke:#000;stroke-width:0.30;stroke-linejoin:round;">lens</text>
<text transform="translate(481.53 39.53) scale(1.0812 1)" fill="#000" style="font-family:'Liberation Sans', sans-serif;font-size:22.25px;font-kerning:none;stroke:#000;stroke-width:0.30;stroke-linejoin:round;">aperture</text>
<text transform="translate(582.06 39.24) scale(1.0766 1)" fill="#000" style="font-family:'Liberation Sans', sans-serif;font-size:21.92px;font-kerning:none;stroke:#000;stroke-width:0.30;stroke-linejoin:round;">dewar</text>
<rect x="587.4" y="51.9" width="62.4" height="75.6" fill="#efefef" stroke="#8fb1ae" stroke-width="2"/>
<rect x="606" y="74.8" width="36.4" height="7" fill="#d9d9d9" stroke="#8fb1ae" stroke-width="1.6"/>
<rect x="606" y="103.6" width="36.4" height="7.6" fill="#d9d9d9" stroke="#8fb1ae" stroke-width="1.6"/>
<rect x="595" y="74.8" width="10.6" height="36.4" fill="#e8b830" stroke="#8fb1ae" stroke-width="1.6"/>
<text transform="translate(592.68 69.50) scale(1.1086 1)" fill="#3a30f0" style="font-family:'Liberation Sans', sans-serif;font-size:20.48px;font-kerning:none;font-weight:bold;">PC</text>
<ellipse cx="413.4" cy="90.6" rx="5.6" ry="43.2" fill="#a6dad8" stroke="#8fb1ae" stroke-width="1.2"/>
<path d="M401 91.6H408" stroke="#000" stroke-width="1.8"/>
<path d="M423 91.6H658" stroke="#000" stroke-width="1.9" stroke-dasharray="5.2 3.8"/>
<path d="M591.5 92.2L421 51.5M591.5 92.2L421 131" stroke="#000" stroke-width="1.9" stroke-dasharray="4.5 2.8" fill="none"/>
<path d="M414.60 49.30L427.32 47.75L425.20 56.50Z" fill="#000"/>
<path d="M414.60 133.60L425.26 126.48L427.31 135.25Z" fill="#000"/>
<path d="M592.50 92.30L585.50 94.80L585.50 89.80Z" fill="#000"/>
<path d="M553.3 50.5V81M553.3 101.5V131.8" stroke="#000" stroke-width="2"/>
<path d="M542.5 82H568M542.5 101H568" stroke="#000" stroke-width="3.4"/>
<path d="M484.8 67C479.5 74 479.5 84 487 90.8M485.5 92.2C479.5 99 479.5 110 487.7 117" stroke="#000" stroke-width="1.8" fill="none"/>
<text transform="translate(428.36 115.55) scale(1.1341 1)" fill="#000" style="font-family:'Liberation Sans', sans-serif;font-size:20.30px;font-kerning:none;stroke:#000;stroke-width:0.50;stroke-linejoin:round;">θ~5</text>
<circle cx="472.6" cy="105.5" r="3.1" fill="none" stroke="#000" stroke-width="2.1"/>
<path d="M412.3 139.2V162.2M594.7 139V180.8M557 159.1V180.8" stroke="#000" stroke-width="2"/>
<path d="M426 150.8H444.5M528.8 150.8H587M565 169.9H587" stroke="#000" stroke-width="1.8"/>
<path d="M417.80 150.80L428.80 145.80L428.80 155.80Z" fill="#000"/>
<path d="M594.00 150.80L583.00 155.80L583.00 145.80Z" fill="#000"/>
<path d="M558.00 169.90L568.00 165.15L568.00 174.65Z" fill="#000"/>
<path d="M594.00 169.90L584.00 174.65L584.00 165.15Z" fill="#000"/>
<text transform="translate(450.42 156.51) scale(1.2615 1)" fill="#000" style="font-family:'Liberation Sans', sans-serif;font-size:19.07px;font-kerning:none;stroke:#000;stroke-width:0.60;stroke-linejoin:round;">~20cm</text>
<text transform="translate(491.78 177.53) scale(1.0837 1)" fill="#000" style="font-family:'Liberation Sans', sans-serif;font-size:22.07px;font-kerning:none;stroke:#000;stroke-width:0.50;stroke-linejoin:round;">~5cm</text>
<clipPath id="cp"><rect x="152.8" y="20.0" width="213.4" height="147.0"/></clipPath>
<linearGradient id="gbg" x1="0" y1="0" x2="1" y2="0.25"><stop offset="0" stop-color="#c8c4b2"/><stop offset="0.3" stop-color="#948c74"/><stop offset="0.7" stop-color="#766e5a"/><stop offset="1" stop-color="#4e4a3c"/></linearGradient>
<linearGradient id="gwh" x1="0" y1="0" x2="0" y2="1"><stop offset="0" stop-color="#ececE6"/><stop offset="0.15" stop-color="#e2e2dc"/><stop offset="1" stop-color="#d6d6d0"/></linearGradient>
<linearGradient id="gmet" x1="0" y1="0" x2="0" y2="1"><stop offset="0" stop-color="#d4cebe"/><stop offset="0.12" stop-color="#9c927c"/><stop offset="0.6" stop-color="#7c705c"/><stop offset="1" stop-color="#5c5244"/></linearGradient>
<linearGradient id="glo" x1="0" y1="0" x2="0" y2="1"><stop offset="0" stop-color="#c4c4bc"/><stop offset="0.3" stop-color="#e2e2de"/><stop offset="1" stop-color="#dcdcd6"/></linearGradient>
<linearGradient id="ggr" x1="0" y1="0" x2="1" y2="0"><stop offset="0" stop-color="#86c444"/><stop offset="0.7" stop-color="#8cc444"/><stop offset="0.85" stop-color="#b09848"/><stop offset="1" stop-color="#a87838"/></linearGradient>
<filter id="pblur" x="-2%" y="-2%" width="104%" height="104%"><feGaussianBlur stdDeviation="0.7"/></filter>
<g clip-path="url(#cp)">
<g filter="url(#pblur)">
<rect x="147.8" y="15.0" width="223.4" height="157.0" fill="url(#gbg)"/>
<path d="M175 14L194 14L206 50L186 52Z" fill="#b02a34" filter="url(#blur2)"/>
<path d="M150 50L334 35.5L341 38L341 80L150 96Z" fill="url(#gwh)"/>
<path d="M150 49L334 35.5L341 38L150 53Z" fill="#e4e4de"/>
<path d="M150 45L158 41L163 50L152 60Z" fill="#e6e6e0"/>
<circle cx="155" cy="58.5" r="1.6" fill="#505048"/>
<ellipse cx="194" cy="70" rx="6" ry="14" fill="#b8b8b0" filter="url(#blur1)"/>
<path d="M150 120L346 104L346 170L150 170Z" fill="url(#glo)"/>
<path d="M303 108L340 105L340 141L303 142Z" fill="#f2f2f0"/>
<ellipse cx="196" cy="144" rx="6" ry="9" fill="#b4b4ae" filter="url(#blur1)"/>
<ellipse cx="316" cy="128" rx="5" ry="8" fill="#d0d0ca" filter="url(#blur1)"/>
<path d="M341 70L370 68L370 170L341 170Z" fill="#4c4a3e"/>
<path d="M341 112L370 110L370 170L341 170Z" fill="#8a887c"/>
<path d="M150 150L240 146L236 170L150 170Z" fill="#c8c8c2"/>
<path d="M242 153L258 151L262 168L240 168Z" fill="#c03848" filter="url(#blur1)"/>
<path d="M150 89L344 77L345 113L150 131Z" fill="url(#gmet)"/>
<path d="M150 118L300 108L300 113L150 124Z" fill="#a09a8a" opacity="0.6"/>
<path d="M196 88L247 86L247 126L193 130Z" fill="#aeaa9c"/>
<path d="M301 80L343 77L343 112L301 115Z" fill="#aca898"/>
<path d="M251 88L301 85L301 111L251 115Z" fill="url(#ggr)"/>
<path d="M247 87L252 87L252 115L247 116Z" fill="#4a4638"/>
<circle cx="199.5" cy="97.5" r="0.9" fill="#e6e4da"/><circle cx="199.9" cy="105.3" r="0.8" fill="#f0eee6"/><circle cx="203.3" cy="117.4" r="0.8" fill="#e6e4da"/><circle cx="221.9" cy="105.2" r="0.9" fill="#e6e4da"/><circle cx="233.4" cy="126.3" r="1.0" fill="#7a766a"/><circle cx="231.2" cy="99.7" r="0.5" fill="#5e5a4c"/><circle cx="245.6" cy="99.9" r="1.1" fill="#e6e4da"/><circle cx="225.4" cy="106.9" r="1.0" fill="#5e5a4c"/><circle cx="196.6" cy="116.3" r="0.6" fill="#d2d0c6"/><circle cx="229.3" cy="125.3" r="0.6" fill="#5e5a4c"/><circle cx="227.8" cy="99.9" r="1.0" fill="#d2d0c6"/><circle cx="206.4" cy="121.2" r="1.0" fill="#7a766a"/><circle cx="230.5" cy="120.8" r="1.0" fill="#f0eee6"/><circle cx="240.7" cy="92.1" r="1.1" fill="#d2d0c6"/><circle cx="215.5" cy="107.2" r="1.0" fill="#5e5a4c"/><circle cx="210.2" cy="122.8" r="0.7" fill="#e6e4da"/><circle cx="224.2" cy="104.0" r="0.6" fill="#e6e4da"/><circle cx="204.4" cy="117.9" r="1.0" fill="#7a766a"/><circle cx="224.5" cy="124.8" r="1.1" fill="#d2d0c6"/><circle cx="203.8" cy="126.6" r="0.9" fill="#5e5a4c"/><circle cx="226.6" cy="126.8" r="1.1" fill="#7a766a"/><circle cx="197.8" cy="102.8" r="0.6" fill="#7a766a"/><circle cx="205.1" cy="96.6" r="0.6" fill="#7a766a"/><circle cx="210.4" cy="107.7" r="1.1" fill="#f0eee6"/><circle cx="245.2" cy="116.3" r="0.9" fill="#e6e4da"/><circle cx="231.7" cy="90.1" r="1.0" fill="#5e5a4c"/><circle cx="214.2" cy="111.6" r="1.0" fill="#e6e4da"/><circle cx="222.2" cy="110.2" r="0.6" fill="#7a766a"/><circle cx="220.7" cy="93.0" r="0.9" fill="#f0eee6"/><circle cx="235.3" cy="103.7" r="0.5" fill="#d2d0c6"/><circle cx="222.4" cy="96.2" r="0.8" fill="#e6e4da"/><circle cx="214.8" cy="124.4" r="0.8" fill="#7a766a"/><circle cx="213.1" cy="101.9" r="0.6" fill="#d2d0c6"/><circle cx="223.4" cy="124.9" r="0.9" fill="#d2d0c6"/><circle cx="233.7" cy="125.9" r="1.0" fill="#e6e4da"/><circle cx="237.3" cy="120.8" r="0.7" fill="#f0eee6"/><circle cx="220.1" cy="101.7" r="0.9" fill="#d2d0c6"/><circle cx="211.5" cy="112.7" r="0.9" fill="#5e5a4c"/><circle cx="200.4" cy="105.7" r="1.0" fill="#f0eee6"/><circle cx="199.6" cy="94.8" r="0.9" fill="#5e5a4c"/><circle cx="216.0" cy="114.6" r="0.6" fill="#e6e4da"/><circle cx="243.5" cy="97.8" r="0.6" fill="#5e5a4c"/><circle cx="209.6" cy="101.6" r="0.9" fill="#5e5a4c"/><circle cx="243.7" cy="93.0" r="0.8" fill="#5e5a4c"/><circle cx="229.7" cy="123.4" r="0.6" fill="#f0eee6"/><circle cx="222.9" cy="123.2" r="0.5" fill="#f0eee6"/><circle cx="225.6" cy="95.0" r="1.2" fill="#f0eee6"/><circle cx="223.0" cy="88.4" r="0.5" fill="#7a766a"/><circle cx="216.6" cy="121.9" r="1.0" fill="#7a766a"/><circle cx="216.1" cy="98.6" r="1.0" fill="#5e5a4c"/><circle cx="211.0" cy="102.9" r="0.8" fill="#d2d0c6"/><circle cx="235.8" cy="108.7" r="0.6" fill="#7a766a"/><circle cx="218.1" cy="122.9" r="1.2" fill="#5e5a4c"/><circle cx="195.1" cy="101.6" r="1.0" fill="#d2d0c6"/><circle cx="230.7" cy="110.4" r="1.1" fill="#d2d0c6"/><circle cx="230.5" cy="109.9" r="0.9" fill="#7a766a"/><circle cx="229.7" cy="101.0" r="0.9" fill="#d2d0c6"/><circle cx="235.9" cy="107.2" r="0.5" fill="#7a766a"/><circle cx="222.9" cy="122.3" r="1.0" fill="#e6e4da"/><circle cx="215.3" cy="102.3" r="1.0" fill="#7a766a"/><circle cx="199.0" cy="122.7" r="1.2" fill="#f0eee6"/><circle cx="202.1" cy="92.6" r="1.1" fill="#f0eee6"/><circle cx="215.9" cy="98.8" r="1.0" fill="#5e5a4c"/><circle cx="203.4" cy="107.5" r="1.0" fill="#5e5a4c"/><circle cx="232.5" cy="88.5" r="0.8" fill="#7a766a"/><circle cx="217.7" cy="110.5" r="0.7" fill="#f0eee6"/><circle cx="241.1" cy="96.5" r="0.6" fill="#f0eee6"/><circle cx="227.0" cy="124.1" r="1.1" fill="#d2d0c6"/><circle cx="202.0" cy="113.0" r="0.6" fill="#5e5a4c"/><circle cx="216.6" cy="116.5" r="1.0" fill="#f0eee6"/><circle cx="218.5" cy="113.5" r="0.7" fill="#5e5a4c"/><circle cx="228.9" cy="111.1" r="1.0" fill="#7a766a"/><circle cx="221.6" cy="101.5" r="1.1" fill="#d2d0c6"/><circle cx="204.8" cy="93.9" r="0.5" fill="#d2d0c6"/><circle cx="239.3" cy="127.5" r="0.7" fill="#f0eee6"/><circle cx="205.3" cy="112.0" r="0.8" fill="#5e5a4c"/><circle cx="237.7" cy="96.4" r="0.8" fill="#f0eee6"/><circle cx="237.0" cy="120.1" r="1.1" fill="#f0eee6"/><circle cx="220.9" cy="112.4" r="0.6" fill="#7a766a"/><circle cx="221.1" cy="125.1" r="1.1" fill="#d2d0c6"/><circle cx="196.1" cy="114.5" r="0.6" fill="#e6e4da"/><circle cx="202.3" cy="119.8" r="1.2" fill="#5e5a4c"/><circle cx="222.1" cy="103.3" r="1.1" fill="#7a766a"/><circle cx="233.8" cy="90.6" r="0.6" fill="#d2d0c6"/><circle cx="240.1" cy="107.7" r="1.0" fill="#f0eee6"/><circle cx="228.1" cy="117.4" r="0.9" fill="#7a766a"/><circle cx="206.9" cy="95.5" r="0.5" fill="#7a766a"/><circle cx="230.9" cy="123.2" r="0.7" fill="#f0eee6"/><circle cx="197.5" cy="104.0" r="0.8" fill="#e6e4da"/><circle cx="217.2" cy="125.7" r="0.6" fill="#5e5a4c"/><circle cx="244.1" cy="89.8" r="0.7" fill="#f0eee6"/><circle cx="232.8" cy="88.1" r="0.8" fill="#f0eee6"/><circle cx="230.2" cy="113.1" r="0.6" fill="#5e5a4c"/><circle cx="215.9" cy="112.5" r="0.5" fill="#f0eee6"/><circle cx="238.5" cy="104.6" r="0.7" fill="#7a766a"/><circle cx="228.8" cy="89.9" r="0.7" fill="#5e5a4c"/><circle cx="210.8" cy="98.3" r="0.9" fill="#5e5a4c"/><circle cx="242.0" cy="116.0" r="0.7" fill="#7a766a"/><circle cx="211.9" cy="92.9" r="0.9" fill="#d2d0c6"/><circle cx="233.0" cy="99.8" r="0.7" fill="#5e5a4c"/><circle cx="236.8" cy="126.3" r="0.5" fill="#f0eee6"/><circle cx="234.5" cy="107.8" r="0.8" fill="#e6e4da"/><circle cx="227.9" cy="118.4" r="1.2" fill="#d2d0c6"/><circle cx="244.8" cy="104.7" r="0.8" fill="#e6e4da"/><circle cx="209.2" cy="111.5" r="0.9" fill="#7a766a"/><circle cx="242.0" cy="108.2" r="1.1" fill="#5e5a4c"/><circle cx="204.3" cy="123.3" r="0.6" fill="#7a766a"/><circle cx="232.5" cy="100.1" r="0.6" fill="#e6e4da"/><circle cx="199.5" cy="119.7" r="0.5" fill="#e6e4da"/><circle cx="244.2" cy="119.3" r="0.8" fill="#e6e4da"/><circle cx="205.0" cy="122.7" r="1.0" fill="#f0eee6"/><circle cx="222.6" cy="109.0" r="1.2" fill="#7a766a"/><circle cx="222.2" cy="91.4" r="0.9" fill="#d2d0c6"/><circle cx="233.1" cy="113.1" r="1.0" fill="#e6e4da"/><circle cx="210.3" cy="102.8" r="0.8" fill="#d2d0c6"/><circle cx="208.9" cy="121.4" r="0.6" fill="#5e5a4c"/><circle cx="205.8" cy="116.6" r="0.7" fill="#5e5a4c"/><circle cx="245.7" cy="123.8" r="0.7" fill="#5e5a4c"/><circle cx="203.1" cy="107.7" r="0.7" fill="#f0eee6"/><circle cx="225.8" cy="115.1" r="1.1" fill="#d2d0c6"/><circle cx="207.6" cy="113.8" r="0.5" fill="#f0eee6"/><circle cx="197.9" cy="92.7" r="1.0" fill="#e6e4da"/><circle cx="214.3" cy="107.7" r="0.6" fill="#5e5a4c"/><circle cx="197.4" cy="95.3" r="1.1" fill="#d2d0c6"/><circle cx="212.6" cy="104.8" r="1.0" fill="#e6e4da"/><circle cx="231.5" cy="103.4" r="0.9" fill="#5e5a4c"/><circle cx="215.6" cy="110.9" r="0.9" fill="#7a766a"/><circle cx="241.9" cy="126.0" r="0.5" fill="#d2d0c6"/><circle cx="214.7" cy="89.6" r="1.1" fill="#e6e4da"/><circle cx="230.3" cy="110.7" r="0.6" fill="#5e5a4c"/><circle cx="237.2" cy="112.5" r="1.0" fill="#e6e4da"/><circle cx="197.0" cy="95.5" r="1.1" fill="#5e5a4c"/><circle cx="197.4" cy="93.3" r="1.0" fill="#e6e4da"/><circle cx="225.6" cy="89.5" r="0.7" fill="#d2d0c6"/><circle cx="231.7" cy="101.9" r="0.5" fill="#e6e4da"/><circle cx="208.7" cy="125.2" r="0.5" fill="#e6e4da"/><circle cx="223.8" cy="124.4" r="0.7" fill="#e6e4da"/><circle cx="228.7" cy="92.8" r="0.8" fill="#7a766a"/><circle cx="208.7" cy="123.0" r="1.0" fill="#5e5a4c"/><circle cx="214.5" cy="119.9" r="1.2" fill="#f0eee6"/><circle cx="214.2" cy="109.0" r="0.6" fill="#d2d0c6"/><circle cx="232.4" cy="90.4" r="0.9" fill="#e6e4da"/><circle cx="200.9" cy="114.8" r="1.2" fill="#7a766a"/><circle cx="215.3" cy="103.6" r="0.8" fill="#7a766a"/><circle cx="231.7" cy="119.5" r="0.7" fill="#d2d0c6"/><circle cx="197.9" cy="97.4" r="1.0" fill="#e6e4da"/><circle cx="243.7" cy="127.2" r="0.8" fill="#d2d0c6"/><circle cx="240.4" cy="108.2" r="0.7" fill="#e6e4da"/><circle cx="235.7" cy="122.6" r="0.9" fill="#d2d0c6"/><circle cx="202.7" cy="95.2" r="0.9" fill="#e6e4da"/><circle cx="208.1" cy="120.2" r="0.6" fill="#d2d0c6"/><circle cx="227.7" cy="98.5" r="0.5" fill="#5e5a4c"/><circle cx="247.0" cy="95.4" r="0.8" fill="#f0eee6"/><circle cx="195.2" cy="119.6" r="0.6" fill="#e6e4da"/><circle cx="197.1" cy="126.6" r="1.2" fill="#5e5a4c"/><circle cx="241.6" cy="117.4" r="0.5" fill="#d2d0c6"/><circle cx="228.5" cy="90.6" r="1.1" fill="#d2d0c6"/><circle cx="211.0" cy="117.9" r="0.9" fill="#e6e4da"/><circle cx="235.8" cy="113.6" r="0.8" fill="#f0eee6"/><circle cx="239.4" cy="120.9" r="0.9" fill="#f0eee6"/><circle cx="221.3" cy="105.2" r="0.6" fill="#7a766a"/><circle cx="217.8" cy="113.9" r="0.7" fill="#7a766a"/><circle cx="206.3" cy="92.3" r="1.1" fill="#d2d0c6"/><circle cx="238.4" cy="116.3" r="0.9" fill="#f0eee6"/><circle cx="198.0" cy="123.2" r="1.0" fill="#e6e4da"/><circle cx="201.3" cy="117.8" r="0.6" fill="#d2d0c6"/><circle cx="244.8" cy="116.4" r="1.0" fill="#d2d0c6"/><circle cx="207.0" cy="108.0" r="0.6" fill="#d2d0c6"/><circle cx="209.5" cy="99.4" r="0.8" fill="#5e5a4c"/><circle cx="198.3" cy="89.0" r="0.7" fill="#e6e4da"/><circle cx="342.6" cy="103.7" r="0.6" fill="#f0eee6"/><circle cx="306.1" cy="93.2" r="1.0" fill="#d2d0c6"/><circle cx="335.7" cy="94.7" r="1.1" fill="#f0eee6"/><circle cx="336.7" cy="90.3" r="0.8" fill="#f0eee6"/><circle cx="307.7" cy="98.9" r="0.8" fill="#7a766a"/><circle cx="307.9" cy="95.2" r="0.6" fill="#e6e4da"/><circle cx="301.1" cy="93.3" r="0.9" fill="#e6e4da"/><circle cx="306.2" cy="95.9" r="0.7" fill="#d2d0c6"/><circle cx="304.4" cy="92.9" r="0.7" fill="#5e5a4c"/><circle cx="331.0" cy="105.8" r="0.5" fill="#7a766a"/><circle cx="310.1" cy="88.6" r="0.8" fill="#7a766a"/><circle cx="324.9" cy="81.5" r="0.7" fill="#d2d0c6"/><circle cx="307.8" cy="104.4" r="0.7" fill="#5e5a4c"/><circle cx="337.8" cy="83.6" r="0.5" fill="#7a766a"/><circle cx="316.7" cy="101.7" r="0.9" fill="#d2d0c6"/><circle cx="306.7" cy="99.3" r="0.5" fill="#f0eee6"/><circle cx="335.4" cy="90.0" r="0.6" fill="#d2d0c6"/><circle cx="335.8" cy="109.8" r="0.6" fill="#e6e4da"/><circle cx="342.9" cy="108.3" r="0.5" fill="#f0eee6"/><circle cx="307.4" cy="93.8" r="0.6" fill="#5e5a4c"/><circle cx="308.6" cy="88.3" r="0.5" fill="#d2d0c6"/><circle cx="339.7" cy="94.3" r="1.0" fill="#f0eee6"/><circle cx="322.5" cy="111.1" r="0.7" fill="#7a766a"/><circle cx="322.3" cy="96.3" r="0.7" fill="#e6e4da"/><circle cx="313.8" cy="82.0" r="1.1" fill="#e6e4da"/><circle cx="337.4" cy="93.1" r="1.2" fill="#d2d0c6"/><circle cx="341.6" cy="89.9" r="1.1" fill="#5e5a4c"/><circle cx="340.5" cy="101.1" r="1.2" fill="#e6e4da"/><circle cx="321.1" cy="96.8" r="0.8" fill="#5e5a4c"/><circle cx="339.8" cy="82.5" r="0.6" fill="#e6e4da"/><circle cx="302.4" cy="95.9" r="0.9" fill="#7a766a"/><circle cx="337.9" cy="102.1" r="0.9" fill="#7a766a"/><circle cx="326.3" cy="96.2" r="0.6" fill="#5e5a4c"/><circle cx="328.1" cy="86.2" r="0.8" fill="#e6e4da"/><circle cx="328.2" cy="99.4" r="0.7" fill="#e6e4da"/><circle cx="306.9" cy="101.5" r="1.0" fill="#5e5a4c"/><circle cx="306.5" cy="88.2" r="0.9" fill="#f0eee6"/><circle cx="313.4" cy="108.6" r="0.7" fill="#e6e4da"/><circle cx="328.1" cy="100.6" r="1.0" fill="#5e5a4c"/><circle cx="340.2" cy="98.9" r="0.5" fill="#f0eee6"/><circle cx="314.7" cy="104.2" r="1.0" fill="#7a766a"/><circle cx="305.9" cy="101.0" r="0.8" fill="#5e5a4c"/><circle cx="340.7" cy="81.4" r="1.0" fill="#5e5a4c"/><circle cx="317.5" cy="94.7" r="0.7" fill="#5e5a4c"/><circle cx="305.1" cy="89.9" r="1.0" fill="#f0eee6"/><circle cx="314.0" cy="101.7" r="1.1" fill="#f0eee6"/><circle cx="334.5" cy="80.9" r="1.2" fill="#5e5a4c"/><circle cx="312.8" cy="105.5" r="0.9" fill="#e6e4da"/><circle cx="337.6" cy="81.7" r="1.1" fill="#f0eee6"/><circle cx="311.0" cy="103.2" r="0.5" fill="#f0eee6"/><circle cx="337.3" cy="93.1" r="1.1" fill="#5e5a4c"/><circle cx="302.1" cy="109.0" r="0.6" fill="#7a766a"/><circle cx="307.5" cy="94.5" r="1.0" fill="#e6e4da"/><circle cx="309.0" cy="100.2" r="1.0" fill="#5e5a4c"/><circle cx="341.5" cy="92.6" r="0.9" fill="#7a766a"/><circle cx="328.4" cy="110.4" r="0.9" fill="#5e5a4c"/><circle cx="319.4" cy="89.1" r="0.9" fill="#d2d0c6"/><circle cx="304.0" cy="89.2" r="0.6" fill="#7a766a"/><circle cx="321.8" cy="92.0" r="0.9" fill="#d2d0c6"/><circle cx="328.7" cy="90.6" r="1.1" fill="#e6e4da"/><circle cx="305.3" cy="81.0" r="0.9" fill="#5e5a4c"/><circle cx="332.6" cy="110.8" r="0.9" fill="#7a766a"/><circle cx="335.3" cy="101.0" r="0.9" fill="#e6e4da"/><circle cx="342.7" cy="90.8" r="0.8" fill="#d2d0c6"/><circle cx="320.9" cy="100.8" r="1.0" fill="#5e5a4c"/><circle cx="302.6" cy="91.9" r="0.8" fill="#e6e4da"/><circle cx="324.8" cy="98.4" r="0.5" fill="#5e5a4c"/><circle cx="314.8" cy="104.1" r="0.8" fill="#7a766a"/><circle cx="335.7" cy="97.5" r="1.0" fill="#5e5a4c"/><circle cx="342.3" cy="79.1" r="0.6" fill="#d2d0c6"/><circle cx="304.7" cy="86.0" r="1.2" fill="#d2d0c6"/><circle cx="307.3" cy="95.1" r="1.1" fill="#e6e4da"/><circle cx="320.9" cy="87.4" r="0.8" fill="#5e5a4c"/><circle cx="313.9" cy="95.0" r="0.8" fill="#5e5a4c"/><circle cx="304.4" cy="108.7" r="0.9" fill="#5e5a4c"/><circle cx="305.0" cy="109.9" r="0.8" fill="#f0eee6"/><circle cx="317.0" cy="87.7" r="1.0" fill="#d2d0c6"/><circle cx="313.6" cy="91.6" r="0.8" fill="#f0eee6"/><circle cx="317.0" cy="101.9" r="0.5" fill="#5e5a4c"/><circle cx="336.6" cy="107.9" r="0.7" fill="#f0eee6"/><circle cx="342.1" cy="108.8" r="0.6" fill="#d2d0c6"/><circle cx="319.8" cy="104.7" r="0.9" fill="#7a766a"/><circle cx="303.5" cy="105.0" r="0.7" fill="#d2d0c6"/><circle cx="315.6" cy="82.5" r="0.8" fill="#d2d0c6"/><circle cx="301.7" cy="112.9" r="0.7" fill="#5e5a4c"/><circle cx="313.6" cy="94.6" r="0.7" fill="#e6e4da"/><circle cx="338.3" cy="85.4" r="0.8" fill="#7a766a"/><circle cx="342.3" cy="90.4" r="0.6" fill="#f0eee6"/><circle cx="336.0" cy="84.4" r="1.1" fill="#d2d0c6"/><circle cx="310.1" cy="89.8" r="0.9" fill="#7a766a"/><circle cx="337.5" cy="108.1" r="0.9" fill="#e6e4da"/><circle cx="334.7" cy="84.3" r="1.2" fill="#d2d0c6"/><circle cx="337.3" cy="86.9" r="1.0" fill="#e6e4da"/><circle cx="328.2" cy="81.5" r="0.5" fill="#7a766a"/><circle cx="310.4" cy="82.6" r="1.0" fill="#5e5a4c"/><circle cx="325.2" cy="109.8" r="0.8" fill="#d2d0c6"/><circle cx="319.9" cy="83.3" r="1.0" fill="#e6e4da"/><circle cx="342.2" cy="110.8" r="0.6" fill="#f0eee6"/><circle cx="326.3" cy="95.6" r="0.5" fill="#5e5a4c"/><circle cx="328.7" cy="99.8" r="0.8" fill="#7a766a"/><circle cx="306.3" cy="102.3" r="0.7" fill="#f0eee6"/><circle cx="302.2" cy="89.4" r="0.7" fill="#e6e4da"/><circle cx="327.0" cy="102.3" r="0.8" fill="#5e5a4c"/><circle cx="332.7" cy="101.5" r="0.9" fill="#7a766a"/><circle cx="333.7" cy="112.0" r="1.2" fill="#7a766a"/><circle cx="327.2" cy="92.2" r="0.8" fill="#d2d0c6"/><circle cx="328.5" cy="89.7" r="0.8" fill="#7a766a"/><circle cx="327.2" cy="108.2" r="1.1" fill="#f0eee6"/><circle cx="329.3" cy="103.3" r="0.9" fill="#e6e4da"/><circle cx="319.2" cy="109.5" r="0.6" fill="#7a766a"/><circle cx="306.4" cy="89.6" r="1.2" fill="#e6e4da"/><circle cx="323.3" cy="109.1" r="0.9" fill="#5e5a4c"/><circle cx="310.1" cy="108.7" r="0.6" fill="#f0eee6"/><circle cx="333.2" cy="98.3" r="0.6" fill="#f0eee6"/><circle cx="315.2" cy="104.0" r="0.9" fill="#e6e4da"/><circle cx="323.4" cy="97.0" r="0.6" fill="#e6e4da"/><circle cx="335.7" cy="97.4" r="0.9" fill="#d2d0c6"/><circle cx="314.4" cy="104.1" r="0.8" fill="#7a766a"/><circle cx="339.7" cy="94.6" r="0.8" fill="#d2d0c6"/><circle cx="317.5" cy="111.3" r="0.7" fill="#e6e4da"/><circle cx="338.4" cy="79.9" r="0.7" fill="#f0eee6"/><circle cx="332.1" cy="99.5" r="0.8" fill="#e6e4da"/><circle cx="318.4" cy="107.6" r="1.1" fill="#d2d0c6"/><circle cx="316.7" cy="102.5" r="1.1" fill="#5e5a4c"/><circle cx="319.0" cy="85.6" r="0.7" fill="#e6e4da"/><circle cx="305.0" cy="93.5" r="1.0" fill="#5e5a4c"/><circle cx="317.3" cy="111.5" r="1.0" fill="#d2d0c6"/><circle cx="334.3" cy="89.6" r="1.0" fill="#f0eee6"/><circle cx="303.2" cy="79.7" r="0.7" fill="#5e5a4c"/><circle cx="331.5" cy="80.1" r="0.8" fill="#e6e4da"/><circle cx="326.0" cy="107.8" r="0.7" fill="#d2d0c6"/><circle cx="304.6" cy="96.2" r="1.1" fill="#d2d0c6"/><circle cx="335.9" cy="100.1" r="0.6" fill="#e6e4da"/><circle cx="303.0" cy="88.2" r="0.9" fill="#e6e4da"/><circle cx="307.3" cy="100.1" r="1.1" fill="#7a766a"/><circle cx="323.3" cy="105.1" r="0.7" fill="#5e5a4c"/><circle cx="324.9" cy="109.1" r="1.2" fill="#5e5a4c"/><circle cx="325.8" cy="112.9" r="0.7" fill="#e6e4da"/><circle cx="321.6" cy="102.2" r="0.9" fill="#f0eee6"/><circle cx="337.3" cy="84.5" r="1.0" fill="#d2d0c6"/><circle cx="319.7" cy="110.0" r="0.8" fill="#7a766a"/><circle cx="316.0" cy="109.6" r="1.2" fill="#f0eee6"/><circle cx="333.5" cy="109.7" r="0.8" fill="#7a766a"/><circle cx="316.1" cy="80.9" r="0.8" fill="#f0eee6"/><circle cx="310.1" cy="103.7" r="1.2" fill="#e6e4da"/><circle cx="329.9" cy="87.5" r="0.8" fill="#7a766a"/><circle cx="322.0" cy="97.2" r="0.9" fill="#5e5a4c"/><circle cx="314.7" cy="88.4" r="0.9" fill="#f0eee6"/><circle cx="304.6" cy="94.6" r="1.1" fill="#f0eee6"/><circle cx="324.5" cy="97.5" r="0.7" fill="#f0eee6"/><circle cx="325.7" cy="94.5" r="1.2" fill="#5e5a4c"/><circle cx="332.7" cy="83.7" r="0.6" fill="#7a766a"/><circle cx="330.0" cy="112.1" r="1.1" fill="#e6e4da"/><circle cx="312.7" cy="87.3" r="1.2" fill="#d2d0c6"/><circle cx="337.8" cy="94.3" r="0.9" fill="#f0eee6"/><circle cx="333.8" cy="99.0" r="1.0" fill="#f0eee6"/><circle cx="340.6" cy="93.6" r="1.2" fill="#f0eee6"/><circle cx="302.7" cy="87.6" r="0.8" fill="#7a766a"/><circle cx="325.1" cy="94.5" r="0.6" fill="#5e5a4c"/><circle cx="313.8" cy="81.6" r="0.6" fill="#f0eee6"/><circle cx="326.0" cy="80.8" r="1.0" fill="#e6e4da"/><circle cx="304.6" cy="105.8" r="0.6" fill="#f0eee6"/><circle cx="322.7" cy="86.3" r="0.9" fill="#7a766a"/><circle cx="338.1" cy="81.9" r="0.6" fill="#e6e4da"/><circle cx="321.4" cy="111.5" r="1.1" fill="#5e5a4c"/><circle cx="323.7" cy="94.4" r="1.0" fill="#5e5a4c"/><circle cx="309.2" cy="96.9" r="0.9" fill="#f0eee6"/><circle cx="342.8" cy="81.4" r="0.6" fill="#e6e4da"/><circle cx="325.1" cy="110.7" r="1.2" fill="#d2d0c6"/><circle cx="314.4" cy="112.7" r="0.6" fill="#d2d0c6"/>
</g>
<path d="M212.6 138V112M324.4 138.6V104" stroke="#ff2020" stroke-width="4.2"/>
<path d="M212.60 102.00L218.85 115.50L206.35 115.50Z" fill="#ff2020"/>
<path d="M324.40 94.00L330.65 107.50L318.15 107.50Z" fill="#ff2020"/>
</g>
<text transform="translate(206.60 71.96) scale(1.0891 1)" fill="#3a30f0" style="font-family:'Liberation Sans', sans-serif;font-size:24.65px;font-kerning:none;font-weight:bold;">PC device</text>
<text transform="translate(205.22 158.42) scale(1.1031 1)" fill="#ff2020" style="font-family:'Liberation Sans', sans-serif;font-size:23.56px;font-kerning:none;stroke:#ff2020;stroke-width:1.10;stroke-linejoin:round;">Electrodes</text>
</svg>
</body></html>
